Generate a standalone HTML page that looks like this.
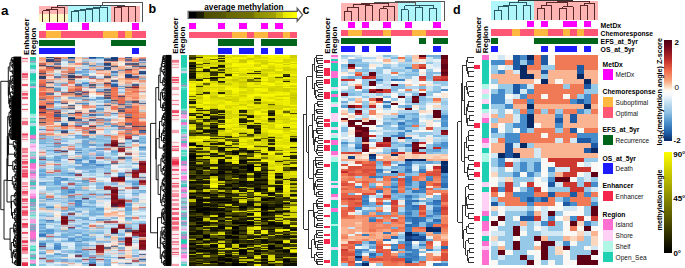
<!DOCTYPE html>
<html><head><meta charset="utf-8"><style>
html,body{margin:0;padding:0;background:#fff;width:685px;height:268px;overflow:hidden}
svg{display:block;font-family:"Liberation Sans",sans-serif}
text{font-family:"Liberation Sans",sans-serif}
</style></head><body>
<svg xmlns="http://www.w3.org/2000/svg" width="685" height="268" viewBox="0 0 685 268" font-family='"Liberation Sans", sans-serif' shape-rendering="crispEdges">
<rect x="0.00" y="0.00" width="685.00" height="268.00" fill="#fff"/>
<text x="1.00" y="15.20" font-size="13.50" font-weight="bold" text-anchor="start" fill="#000">a</text>
<text x="148.60" y="12.70" font-size="12.50" font-weight="bold" text-anchor="start" fill="#000">b</text>
<text x="302.60" y="14.20" font-size="12.50" font-weight="bold" text-anchor="start" fill="#000">c</text>
<text x="453.00" y="14.00" font-size="12.50" font-weight="bold" text-anchor="start" fill="#000">d</text>
<rect x="39.20" y="5.60" width="28.60" height="8.00" fill="#ffb4b4"/>
<rect x="39.20" y="13.60" width="28.60" height="8.60" fill="#fff7c4"/>
<rect x="67.80" y="5.60" width="42.90" height="16.60" fill="#aef6fa"/>
<rect x="110.70" y="5.60" width="29.10" height="16.60" fill="#ffb4b4"/>
<line x1="42.77" y1="22.20" x2="42.77" y2="10.90" stroke="#5a2828" stroke-width="1.00"/>
<line x1="49.91" y1="22.20" x2="49.91" y2="10.90" stroke="#5a2828" stroke-width="1.00"/>
<line x1="42.77" y1="10.90" x2="49.91" y2="10.90" stroke="#5a2828" stroke-width="1.00"/>
<line x1="46.34" y1="10.90" x2="46.34" y2="9.20" stroke="#5a2828" stroke-width="1.00"/>
<line x1="57.05" y1="22.20" x2="57.05" y2="9.20" stroke="#5a2828" stroke-width="1.00"/>
<line x1="46.34" y1="9.20" x2="57.05" y2="9.20" stroke="#5a2828" stroke-width="1.00"/>
<line x1="51.70" y1="9.20" x2="51.70" y2="7.40" stroke="#5a2828" stroke-width="1.00"/>
<line x1="64.19" y1="22.20" x2="64.19" y2="7.40" stroke="#5a2828" stroke-width="1.00"/>
<line x1="51.70" y1="7.40" x2="64.19" y2="7.40" stroke="#5a2828" stroke-width="1.00"/>
<line x1="57.94" y1="7.40" x2="57.94" y2="6.00" stroke="#5a2828" stroke-width="1.00"/>
<line x1="71.33" y1="22.20" x2="71.33" y2="11.10" stroke="#2a5866" stroke-width="1.00"/>
<line x1="78.47" y1="22.20" x2="78.47" y2="11.10" stroke="#2a5866" stroke-width="1.00"/>
<line x1="71.33" y1="11.10" x2="78.47" y2="11.10" stroke="#2a5866" stroke-width="1.00"/>
<line x1="74.90" y1="11.10" x2="74.90" y2="10.00" stroke="#2a5866" stroke-width="1.00"/>
<line x1="85.61" y1="22.20" x2="85.61" y2="10.00" stroke="#2a5866" stroke-width="1.00"/>
<line x1="74.90" y1="10.00" x2="85.61" y2="10.00" stroke="#2a5866" stroke-width="1.00"/>
<line x1="80.26" y1="10.00" x2="80.26" y2="9.00" stroke="#2a5866" stroke-width="1.00"/>
<line x1="92.75" y1="22.20" x2="92.75" y2="9.00" stroke="#2a5866" stroke-width="1.00"/>
<line x1="80.26" y1="9.00" x2="92.75" y2="9.00" stroke="#2a5866" stroke-width="1.00"/>
<line x1="86.50" y1="9.00" x2="86.50" y2="8.00" stroke="#2a5866" stroke-width="1.00"/>
<line x1="99.89" y1="22.20" x2="99.89" y2="8.00" stroke="#2a5866" stroke-width="1.00"/>
<line x1="86.50" y1="8.00" x2="99.89" y2="8.00" stroke="#2a5866" stroke-width="1.00"/>
<line x1="93.20" y1="8.00" x2="93.20" y2="7.00" stroke="#2a5866" stroke-width="1.00"/>
<line x1="107.03" y1="22.20" x2="107.03" y2="7.00" stroke="#2a5866" stroke-width="1.00"/>
<line x1="93.20" y1="7.00" x2="107.03" y2="7.00" stroke="#2a5866" stroke-width="1.00"/>
<line x1="114.17" y1="22.20" x2="114.17" y2="7.30" stroke="#5a2828" stroke-width="1.00"/>
<line x1="121.31" y1="22.20" x2="121.31" y2="7.30" stroke="#5a2828" stroke-width="1.00"/>
<line x1="114.17" y1="7.30" x2="121.31" y2="7.30" stroke="#5a2828" stroke-width="1.00"/>
<line x1="128.45" y1="22.20" x2="128.45" y2="6.50" stroke="#5a2828" stroke-width="1.00"/>
<line x1="135.59" y1="22.20" x2="135.59" y2="6.50" stroke="#5a2828" stroke-width="1.00"/>
<line x1="128.45" y1="6.50" x2="135.59" y2="6.50" stroke="#5a2828" stroke-width="1.00"/>
<line x1="117.74" y1="7.30" x2="117.74" y2="6.00" stroke="#5a2828" stroke-width="1.00"/>
<line x1="132.02" y1="6.50" x2="132.02" y2="6.00" stroke="#5a2828" stroke-width="1.00"/>
<line x1="117.74" y1="6.00" x2="132.02" y2="6.00" stroke="#5a2828" stroke-width="1.00"/>
<line x1="57.94" y1="6.00" x2="57.94" y2="5.40" stroke="#5a2828" stroke-width="1.00"/>
<line x1="100.11" y1="7.00" x2="100.11" y2="5.40" stroke="#2a5866" stroke-width="1.00"/>
<line x1="124.88" y1="6.00" x2="124.88" y2="5.40" stroke="#5a2828" stroke-width="1.00"/>
<line x1="57.94" y1="5.40" x2="124.88" y2="5.40" stroke="#3a4a50" stroke-width="1.00"/>
<line x1="102.10" y1="5.40" x2="102.10" y2="2.00" stroke="#555555" stroke-width="1.00"/>
<line x1="142.73" y1="22.20" x2="142.73" y2="2.00" stroke="#555555" stroke-width="1.00"/>
<line x1="102.10" y1="2.00" x2="142.73" y2="2.00" stroke="#555555" stroke-width="1.00"/>
<rect x="46.34" y="22.90" width="7.14" height="6.80" fill="#ff00ff"/>
<rect x="53.48" y="22.90" width="7.14" height="6.80" fill="#ff00ff"/>
<rect x="60.62" y="22.90" width="7.14" height="6.80" fill="#ff00ff"/>
<rect x="82.04" y="22.90" width="7.14" height="6.80" fill="#ff00ff"/>
<rect x="132.02" y="22.90" width="7.14" height="6.80" fill="#ff00ff"/>
<rect x="39.20" y="31.30" width="107.10" height="6.30" fill="#ff5675"/>
<rect x="46.34" y="31.30" width="7.14" height="6.30" fill="#ffb83f"/>
<rect x="53.48" y="31.30" width="7.14" height="6.30" fill="#ffb83f"/>
<rect x="103.46" y="31.30" width="7.14" height="6.30" fill="#ffb83f"/>
<rect x="110.60" y="31.30" width="7.14" height="6.30" fill="#ffb83f"/>
<rect x="124.88" y="31.30" width="7.14" height="6.30" fill="#ffb83f"/>
<rect x="39.20" y="39.80" width="7.14" height="5.80" fill="#00641a"/>
<rect x="46.34" y="39.80" width="7.14" height="5.80" fill="#00641a"/>
<rect x="53.48" y="39.80" width="7.14" height="5.80" fill="#00641a"/>
<rect x="60.62" y="39.80" width="7.14" height="5.80" fill="#00641a"/>
<rect x="67.76" y="39.80" width="7.14" height="5.80" fill="#00641a"/>
<rect x="110.60" y="39.80" width="7.14" height="5.80" fill="#00641a"/>
<rect x="117.74" y="39.80" width="7.14" height="5.80" fill="#00641a"/>
<rect x="124.88" y="39.80" width="7.14" height="5.80" fill="#00641a"/>
<rect x="132.02" y="39.80" width="7.14" height="5.80" fill="#00641a"/>
<rect x="139.16" y="39.80" width="7.14" height="5.80" fill="#00641a"/>
<rect x="39.20" y="47.80" width="7.14" height="6.50" fill="#1c1cff"/>
<rect x="46.34" y="47.80" width="7.14" height="6.50" fill="#1c1cff"/>
<rect x="53.48" y="47.80" width="7.14" height="6.50" fill="#1c1cff"/>
<rect x="60.62" y="47.80" width="7.14" height="6.50" fill="#1c1cff"/>
<rect x="67.76" y="47.80" width="7.14" height="6.50" fill="#1c1cff"/>
<rect x="132.02" y="47.80" width="7.14" height="6.50" fill="#1c1cff"/>
<text transform="translate(28.70,54.90) rotate(-90)" font-size="8" font-weight="bold">Enhancer</text>
<text transform="translate(35.80,54.90) rotate(-90)" font-size="8" font-weight="bold">Region</text>
<path fill="#f8b898" d="M39.2 56.8H46.3V58.1H39.2zM132.0 71.2H139.2V72.5H132.0zM117.7 77.7H124.9V79.0H117.7zM117.7 79.0H124.9V80.3H117.7zM96.3 80.3H103.5V81.6H96.3zM124.9 80.3H132.0V81.6H124.9zM139.2 88.1H146.3V89.4H139.2zM46.3 90.7H53.5V92.0H46.3zM124.9 98.6H139.2V99.9H124.9zM53.5 124.7H60.6V126.0H53.5zM117.7 214.7H124.9V216.0H117.7zM110.6 236.9H117.7V238.2H110.6z"/>
<path fill="#304878" d="M46.3 56.8H53.5V58.1H46.3zM67.8 75.1H74.9V76.4H67.8zM39.2 77.7H46.3V79.0H39.2z"/>
<path fill="#d06850" d="M53.5 56.8H60.6V58.1H53.5zM124.9 118.1H132.0V119.4H124.9z"/>
<path fill="#f89878" d="M60.6 56.8H67.8V58.1H60.6zM124.9 81.6H132.0V82.9H124.9zM67.8 88.1H74.9V89.4H67.8zM132.0 93.3H139.2V94.6H132.0zM132.0 96.0H139.2V97.3H132.0zM139.2 115.5H146.3V116.8H139.2zM110.6 137.7H117.7V139.0H110.6z"/>
<path fill="#104078" d="M67.8 56.8H74.9V58.1H67.8z"/>
<path fill="#f8c8a8" d="M74.9 56.8H82.0V58.1H74.9zM103.5 79.0H110.6V80.3H103.5zM139.2 94.6H146.3V96.0H139.2zM139.2 107.7H146.3V109.0H139.2zM132.0 145.5H139.2V146.8H132.0zM132.0 158.6H139.2V159.9H132.0zM46.3 251.2H53.5V252.6H46.3z"/>
<path fill="#b0c0d8" d="M82.0 56.8H89.2V58.1H82.0zM96.3 64.6H103.5V65.9H96.3z"/>
<path fill="#185098" d="M89.2 56.8H96.3V58.1H89.2zM110.6 56.8H117.7V58.1H110.6z"/>
<path fill="#4088c0" d="M96.3 56.8H103.5V58.1H96.3z"/>
<path fill="#e0d0c8" d="M103.5 56.8H110.6V58.1H103.5zM117.7 84.2H124.9V85.5H117.7z"/>
<path fill="#f8d8d0" d="M117.7 56.8H124.9V58.1H117.7z"/>
<path fill="#406098" d="M124.9 56.8H132.0V58.1H124.9zM124.9 73.8H132.0V75.1H124.9z"/>
<path fill="#f8d0b8" d="M132.0 56.8H139.2V58.1H132.0zM74.9 58.1H82.0V59.4H74.9zM117.7 73.8H124.9V75.1H117.7zM117.7 75.1H124.9V76.4H117.7zM103.5 80.3H110.6V81.6H103.5zM60.6 96.0H67.8V97.3H60.6zM139.2 97.3H146.3V98.6H139.2zM60.6 98.6H67.8V99.9H60.6zM110.6 110.3H117.7V111.6H110.6zM117.7 119.4H124.9V120.7H117.7zM60.6 133.8H67.8V135.1H60.6zM60.6 135.1H67.8V136.4H60.6zM46.3 162.5H53.5V163.8H46.3zM132.0 206.9H139.2V208.2H132.0zM103.5 208.2H110.6V209.5H103.5zM110.6 210.8H117.7V212.1H110.6z"/>
<path fill="#f8a888" d="M139.2 56.8H146.3V58.1H139.2zM39.2 59.4H46.3V60.7H39.2zM117.7 59.4H124.9V60.7H117.7zM39.2 62.0H46.3V63.3H39.2zM132.0 69.8H139.2V71.2H132.0zM103.5 72.5H110.6V73.8H103.5zM103.5 73.8H110.6V75.1H103.5zM60.6 94.6H67.8V96.0H60.6zM124.9 94.6H132.0V96.0H124.9zM39.2 115.5H46.3V116.8H39.2zM74.9 115.5H82.0V116.8H74.9zM74.9 116.8H82.0V118.1H74.9zM117.7 131.2H124.9V132.5H117.7z"/>
<path fill="#f89870" d="M39.2 58.1H46.3V59.4H39.2zM132.0 72.5H139.2V73.8H132.0zM46.3 122.1H53.5V123.4H46.3z"/>
<path fill="#b0b0b8" d="M46.3 58.1H53.5V59.4H46.3zM96.3 120.7H103.5V122.1H96.3z"/>
<path fill="#504060" d="M53.5 58.1H60.6V59.4H53.5zM39.2 64.6H46.3V65.9H39.2zM103.5 82.9H110.6V84.2H103.5zM53.5 111.6H60.6V112.9H53.5zM124.9 116.8H132.0V118.1H124.9zM89.2 126.0H96.3V127.3H89.2zM132.0 126.0H139.2V127.3H132.0z"/>
<path fill="#e8a090" d="M60.6 58.1H67.8V59.4H60.6z"/>
<path fill="#5078a8" d="M67.8 58.1H74.9V59.4H67.8z"/>
<path fill="#e09888" d="M82.0 58.1H89.2V59.4H82.0zM96.3 65.9H103.5V67.2H96.3z"/>
<path fill="#4070b0" d="M89.2 58.1H96.3V59.4H89.2z"/>
<path fill="#78b0d8" d="M96.3 58.1H103.5V59.4H96.3zM82.0 71.2H89.2V72.5H82.0zM96.3 98.6H103.5V99.9H96.3zM82.0 115.5H89.2V116.8H82.0zM82.0 137.7H89.2V139.0H82.0zM46.3 145.5H53.5V146.8H46.3zM53.5 158.6H60.6V159.9H53.5zM103.5 165.1H110.6V166.4H103.5zM67.8 174.2H74.9V175.6H67.8zM39.2 176.9H46.3V178.2H39.2zM82.0 184.7H89.2V186.0H82.0zM67.8 192.5H74.9V193.8H67.8zM96.3 209.5H103.5V210.8H96.3zM89.2 213.4H96.3V214.7H89.2zM74.9 217.3H82.0V218.6H74.9zM60.6 240.8H67.8V242.1H60.6zM39.2 242.1H46.3V243.4H39.2zM74.9 246.0H82.0V247.3H74.9zM53.5 252.6H60.6V253.9H53.5zM103.5 259.1H110.6V260.4H103.5z"/>
<path fill="#5888b8" d="M103.5 58.1H110.6V59.4H103.5zM89.2 64.6H96.3V65.9H89.2zM89.2 132.5H96.3V133.8H89.2z"/>
<path fill="#103878" d="M110.6 58.1H117.7V59.4H110.6zM124.9 75.1H132.0V76.4H124.9z"/>
<path fill="#e88068" d="M117.7 58.1H124.9V59.4H117.7z"/>
<path fill="#b88080" d="M124.9 58.1H132.0V59.4H124.9z"/>
<path fill="#f8c0a0" d="M132.0 58.1H139.2V59.4H132.0zM110.6 63.3H117.7V64.6H110.6zM39.2 67.2H46.3V68.5H39.2zM117.7 72.5H124.9V73.8H117.7zM89.2 92.0H96.3V93.3H89.2zM110.6 213.4H117.7V214.7H110.6zM103.5 214.7H110.6V216.0H103.5zM124.9 255.2H132.0V256.5H124.9z"/>
<path fill="#d08070" d="M139.2 58.1H146.3V59.4H139.2zM53.5 65.9H60.6V67.2H53.5zM139.2 67.2H146.3V68.5H139.2zM46.3 92.0H53.5V93.3H46.3zM117.7 94.6H124.9V96.0H117.7zM46.3 101.2H53.5V102.5H46.3zM124.9 107.7H132.0V109.0H124.9zM89.2 111.6H96.3V112.9H89.2zM124.9 124.7H132.0V126.0H124.9z"/>
<path fill="#304880" d="M46.3 59.4H53.5V60.7H46.3z"/>
<path fill="#a86058" d="M53.5 59.4H60.6V60.7H53.5z"/>
<path fill="#98b8d0" d="M60.6 59.4H67.8V60.7H60.6zM39.2 193.8H46.3V195.1H39.2zM139.2 257.8H146.3V259.1H139.2z"/>
<path fill="#c09890" d="M67.8 59.4H74.9V60.7H67.8z"/>
<path fill="#ffe0c8" d="M74.9 59.4H82.0V60.7H74.9zM117.7 137.7H124.9V139.0H117.7zM53.5 214.7H60.6V216.0H53.5z"/>
<path fill="#c0d0d8" d="M82.0 59.4H89.2V60.7H82.0zM110.6 234.3H117.7V235.6H110.6z"/>
<path fill="#c8d8e8" d="M89.2 59.4H96.3V60.7H89.2zM74.9 69.8H82.0V71.2H74.9zM139.2 99.9H146.3V101.2H139.2zM96.3 149.5H103.5V150.8H96.3zM89.2 152.1H96.3V153.4H89.2zM53.5 208.2H60.6V209.5H53.5zM103.5 217.3H110.6V218.6H103.5zM96.3 239.5H103.5V240.8H96.3z"/>
<path fill="#c8e0f0" d="M96.3 59.4H103.5V60.7H96.3zM74.9 73.8H82.0V75.1H74.9zM60.6 86.8H67.8V88.1H60.6zM96.3 96.0H103.5V97.3H96.3zM89.2 97.3H96.3V98.6H89.2zM96.3 99.9H103.5V101.2H96.3zM53.5 103.8H60.6V105.1H53.5zM82.0 124.7H89.2V126.0H82.0zM74.9 139.0H82.0V140.3H74.9zM67.8 141.6H74.9V142.9H67.8zM103.5 152.1H110.6V153.4H103.5zM82.0 161.2H89.2V162.5H82.0zM67.8 163.8H74.9V165.1H67.8zM46.3 166.4H53.5V167.7H46.3zM67.8 167.7H74.9V169.0H67.8zM82.0 172.9H89.2V174.2H82.0zM96.3 172.9H103.5V174.2H96.3zM60.6 175.6H67.8V176.9H60.6zM39.2 179.5H46.3V180.8H39.2zM74.9 182.1H82.0V183.4H74.9zM124.9 184.7H132.0V186.0H124.9zM89.2 187.3H96.3V188.6H89.2zM39.2 189.9H46.3V191.2H39.2zM139.2 192.5H146.3V193.8H139.2zM53.5 195.1H60.6V196.4H53.5zM53.5 196.4H60.6V197.7H53.5zM46.3 201.7H60.6V203.0H46.3zM67.8 210.8H74.9V212.1H67.8zM39.2 212.1H46.3V213.4H39.2zM132.0 212.1H139.2V213.4H132.0zM74.9 214.7H82.0V216.0H74.9zM132.0 214.7H139.2V216.0H132.0zM139.2 217.3H146.3V218.6H139.2zM74.9 218.6H82.0V219.9H74.9zM89.2 218.6H96.3V219.9H89.2zM46.3 222.5H53.5V223.8H46.3zM53.5 223.8H60.6V225.1H53.5zM110.6 225.1H117.7V226.5H110.6zM103.5 230.4H110.6V231.7H103.5zM53.5 234.3H60.6V235.6H53.5zM132.0 240.8H139.2V242.1H132.0zM60.6 242.1H74.9V243.4H60.6zM46.3 246.0H53.5V247.3H46.3zM53.5 249.9H60.6V251.2H53.5zM46.3 253.9H53.5V255.2H46.3zM103.5 253.9H110.6V255.2H103.5zM39.2 263.0H53.5V264.3H39.2z"/>
<path fill="#385080" d="M103.5 59.4H110.6V60.7H103.5zM89.2 131.2H96.3V132.5H89.2z"/>
<path fill="#304070" d="M110.6 59.4H117.7V60.7H110.6zM46.3 60.7H53.5V62.0H46.3zM103.5 63.3H110.6V64.6H103.5zM124.9 76.4H132.0V77.7H124.9zM60.6 124.7H67.8V126.0H60.6z"/>
<path fill="#606890" d="M124.9 59.4H132.0V60.7H124.9zM46.3 93.3H53.5V94.6H46.3zM39.2 98.6H46.3V99.9H39.2z"/>
<path fill="#f08060" d="M132.0 59.4H139.2V60.7H132.0zM46.3 68.5H53.5V69.9H46.3zM110.6 90.7H117.7V92.0H110.6zM132.0 92.0H139.2V93.3H132.0zM46.3 96.0H53.5V97.3H46.3zM110.6 97.3H117.7V98.6H110.6zM39.2 102.5H46.3V103.8H39.2zM46.3 119.4H53.5V120.7H46.3zM124.9 120.7H132.0V122.1H124.9zM60.6 127.3H67.8V128.6H60.6z"/>
<path fill="#6070a0" d="M139.2 59.4H146.3V60.7H139.2z"/>
<path fill="#f8c8b0" d="M39.2 60.7H46.3V62.0H39.2zM96.3 71.2H110.6V72.5H96.3zM139.2 85.5H146.3V86.8H139.2zM89.2 90.7H96.3V92.0H89.2zM139.2 106.4H146.3V107.7H139.2zM117.7 116.8H124.9V118.1H117.7zM53.5 133.8H60.6V135.1H53.5zM60.6 146.8H67.8V148.2H60.6zM110.6 214.7H117.7V216.0H110.6z"/>
<path fill="#505070" d="M53.5 60.7H60.6V62.0H53.5zM53.5 67.2H60.6V68.5H53.5zM124.9 68.5H132.0V69.9H124.9zM67.8 79.0H74.9V80.3H67.8zM124.9 86.8H132.0V88.1H124.9zM103.5 94.6H110.6V96.0H103.5zM110.6 99.9H117.7V101.2H110.6zM132.0 101.2H139.2V102.5H132.0zM117.7 110.3H124.9V111.6H117.7zM39.2 118.1H46.3V119.4H39.2z"/>
<path fill="#d0e0f0" d="M60.6 60.7H67.8V62.0H60.6zM96.3 62.0H103.5V63.3H96.3zM96.3 76.4H103.5V77.7H96.3zM117.7 89.4H124.9V90.7H117.7zM60.6 141.6H67.8V142.9H60.6zM139.2 154.7H146.3V156.0H139.2zM124.9 169.0H132.0V170.3H124.9zM39.2 180.8H46.3V182.1H39.2zM60.6 180.8H67.8V182.1H60.6zM139.2 199.0H146.3V200.4H139.2zM96.3 201.7H103.5V203.0H96.3zM60.6 212.1H67.8V213.4H60.6zM82.0 212.1H89.2V213.4H82.0zM74.9 227.8H82.0V229.1H74.9zM117.7 235.6H124.9V236.9H117.7zM53.5 239.5H60.6V240.8H53.5zM67.8 248.6H74.9V249.9H67.8zM39.2 249.9H46.3V251.2H39.2zM60.6 252.6H67.8V253.9H60.6zM132.0 253.9H139.2V255.2H132.0zM67.8 257.8H74.9V259.1H67.8zM110.6 257.8H117.7V259.1H110.6zM117.7 261.7H124.9V263.0H117.7z"/>
<path fill="#6090c0" d="M67.8 60.7H74.9V62.0H67.8zM67.8 62.0H74.9V63.3H67.8z"/>
<path fill="#f8f0e8" d="M74.9 60.7H82.0V62.0H74.9zM96.3 75.1H103.5V76.4H96.3zM110.6 77.7H117.7V79.0H110.6zM89.2 93.3H96.3V94.6H89.2zM74.9 109.0H82.0V110.3H74.9zM117.7 154.7H124.9V156.0H117.7zM132.0 154.7H139.2V156.0H132.0zM53.5 213.4H60.6V214.7H53.5zM117.7 219.9H124.9V221.2H117.7zM103.5 244.7H110.6V246.0H103.5zM132.0 244.7H139.2V246.0H132.0z"/>
<path fill="#98b8d8" d="M82.0 60.7H89.2V62.0H82.0zM89.2 154.7H96.3V156.0H89.2zM124.9 223.8H132.0V225.1H124.9zM46.3 248.6H53.5V249.9H46.3z"/>
<path fill="#c0d8e8" d="M89.2 60.7H96.3V62.0H89.2zM82.0 67.2H89.2V68.5H82.0zM74.9 80.3H82.0V81.6H74.9zM53.5 99.9H60.6V101.2H53.5zM89.2 109.0H96.3V110.3H89.2zM60.6 122.1H67.8V123.4H60.6zM110.6 127.3H117.7V128.6H110.6zM39.2 129.9H46.3V131.2H39.2zM67.8 154.7H74.9V156.0H67.8zM67.8 162.5H74.9V163.8H67.8zM67.8 170.3H74.9V171.6H67.8zM53.5 175.6H60.6V176.9H53.5zM96.3 179.5H103.5V180.8H96.3zM117.7 184.7H124.9V186.0H117.7zM117.7 191.2H124.9V192.5H117.7zM53.5 203.0H60.6V204.3H53.5zM53.5 209.5H60.6V210.8H53.5zM74.9 234.3H82.0V235.6H74.9zM103.5 238.2H110.6V239.5H103.5zM117.7 253.9H124.9V255.2H117.7zM60.6 257.8H67.8V259.1H60.6zM124.9 259.1H132.0V260.4H124.9zM124.9 264.3H132.0V265.6H124.9z"/>
<path fill="#d8e8f8" d="M96.3 60.7H103.5V62.0H96.3zM110.6 116.8H117.7V118.1H110.6zM39.2 188.6H46.3V189.9H39.2zM124.9 191.2H132.0V192.5H124.9zM124.9 196.4H132.0V197.7H124.9zM103.5 200.4H110.6V201.7H103.5zM89.2 217.3H96.3V218.6H89.2zM46.3 226.5H53.5V227.8H46.3zM53.5 233.0H60.6V234.3H53.5zM96.3 235.6H103.5V236.9H96.3zM89.2 242.1H96.3V243.4H89.2zM60.6 243.4H67.8V244.7H60.6zM46.3 244.7H53.5V246.0H46.3zM67.8 244.7H74.9V246.0H67.8zM110.6 259.1H117.7V260.4H110.6zM96.3 261.7H103.5V263.0H96.3z"/>
<path fill="#d8a898" d="M103.5 60.7H110.6V62.0H103.5zM103.5 77.7H110.6V79.0H103.5zM46.3 82.9H53.5V84.2H46.3zM39.2 116.8H46.3V118.1H39.2zM124.9 231.7H132.0V233.0H124.9zM110.6 244.7H117.7V246.0H110.6z"/>
<path fill="#d08878" d="M110.6 60.7H117.7V62.0H110.6zM103.5 62.0H110.6V63.3H103.5zM60.6 101.2H67.8V102.5H60.6zM74.9 122.1H82.0V123.4H74.9z"/>
<path fill="#f8e0d0" d="M117.7 60.7H124.9V62.0H117.7zM74.9 64.6H82.0V65.9H74.9zM124.9 65.9H132.0V67.2H124.9zM117.7 76.4H124.9V77.7H117.7zM74.9 105.1H82.0V106.4H74.9zM103.5 212.1H110.6V213.4H103.5zM117.7 221.2H124.9V222.5H117.7zM124.9 233.0H132.0V234.3H124.9zM110.6 243.4H117.7V244.7H110.6z"/>
<path fill="#d88880" d="M124.9 60.7H132.0V62.0H124.9zM124.9 127.3H132.0V128.6H124.9z"/>
<path fill="#e87860" d="M132.0 60.7H139.2V62.0H132.0zM132.0 79.0H139.2V80.3H132.0zM82.0 127.3H89.2V128.6H82.0z"/>
<path fill="#c0c8d8" d="M139.2 60.7H146.3V62.0H139.2zM96.3 67.2H103.5V68.5H96.3zM67.8 144.2H74.9V145.5H67.8zM89.2 176.9H96.3V178.2H89.2z"/>
<path fill="#d89880" d="M46.3 62.0H53.5V63.3H46.3zM110.6 64.6H117.7V65.9H110.6zM132.0 102.5H139.2V103.8H132.0z"/>
<path fill="#b89898" d="M53.5 62.0H60.6V63.3H53.5z"/>
<path fill="#e8f0f8" d="M60.6 62.0H67.8V63.3H60.6zM89.2 96.0H96.3V97.3H89.2zM132.0 137.7H139.2V139.0H132.0zM103.5 150.8H110.6V152.1H103.5zM110.6 166.4H117.7V167.7H110.6zM103.5 179.5H110.6V180.8H103.5zM103.5 180.8H110.6V182.1H103.5zM89.2 186.0H96.3V187.3H89.2zM124.9 189.9H132.0V191.2H124.9zM124.9 195.1H132.0V196.4H124.9zM139.2 218.6H146.3V219.9H139.2zM67.8 246.0H74.9V247.3H67.8z"/>
<path fill="#f8d0c0" d="M74.9 62.0H82.0V63.3H74.9zM46.3 76.4H53.5V77.7H46.3zM139.2 89.4H146.3V90.7H139.2zM117.7 120.7H124.9V122.1H117.7zM46.3 124.7H53.5V126.0H46.3zM103.5 216.0H110.6V217.3H103.5z"/>
<path fill="#c8a8a0" d="M82.0 62.0H89.2V63.3H82.0z"/>
<path fill="#f0d8c8" d="M89.2 62.0H96.3V63.3H89.2zM74.9 65.9H82.0V67.2H74.9zM103.5 107.7H110.6V109.0H103.5zM46.3 209.5H53.5V210.8H46.3zM139.2 261.7H146.3V263.0H139.2z"/>
<path fill="#f8d8c8" d="M110.6 62.0H117.7V63.3H110.6zM139.2 68.5H146.3V69.9H139.2zM82.0 110.3H89.2V111.6H82.0zM96.3 129.9H103.5V131.2H96.3zM117.7 139.0H124.9V140.3H117.7zM132.0 153.4H139.2V154.7H132.0zM132.0 157.3H139.2V158.6H132.0zM46.3 210.8H53.5V212.1H46.3z"/>
<path fill="#f8e8d8" d="M117.7 62.0H124.9V63.3H117.7zM132.0 150.8H139.2V152.1H132.0zM103.5 206.9H110.6V208.2H103.5zM53.5 216.0H60.6V217.3H53.5zM117.7 217.3H124.9V218.6H117.7zM124.9 247.3H132.0V248.6H124.9z"/>
<path fill="#d8c0b8" d="M124.9 62.0H132.0V63.3H124.9zM124.9 67.2H132.0V68.5H124.9zM103.5 69.8H110.6V71.2H103.5zM89.2 88.1H96.3V89.4H89.2zM74.9 101.2H82.0V102.5H74.9zM67.8 120.7H74.9V122.1H67.8zM117.7 188.6H124.9V189.9H117.7zM103.5 234.3H110.6V235.6H103.5z"/>
<path fill="#d0c0c0" d="M132.0 62.0H139.2V63.3H132.0z"/>
<path fill="#7898c0" d="M139.2 62.0H146.3V63.3H139.2zM82.0 120.7H89.2V122.1H82.0zM60.6 149.5H67.8V150.8H60.6zM67.8 196.4H74.9V197.7H67.8z"/>
<path fill="#c86858" d="M39.2 63.3H46.3V64.6H39.2zM74.9 85.5H82.0V86.8H74.9zM46.3 103.8H53.5V105.1H46.3z"/>
<path fill="#f0b098" d="M46.3 63.3H53.5V64.6H46.3zM110.6 261.7H117.7V263.0H110.6z"/>
<path fill="#6078a0" d="M53.5 63.3H60.6V64.6H53.5z"/>
<path fill="#d8e8f0" d="M60.6 63.3H67.8V64.6H60.6zM60.6 89.4H67.8V90.7H60.6zM89.2 102.5H96.3V103.8H89.2zM67.8 136.4H74.9V137.7H67.8zM60.6 142.9H74.9V144.2H60.6zM89.2 146.8H96.3V148.2H89.2zM46.3 156.0H53.5V157.3H46.3zM139.2 157.3H146.3V158.6H139.2zM60.6 158.6H67.8V159.9H60.6zM132.0 166.4H139.2V167.7H132.0zM89.2 175.6H96.3V176.9H89.2zM74.9 178.2H82.0V179.5H74.9zM89.2 184.7H96.3V186.0H89.2zM139.2 188.6H146.3V189.9H139.2zM39.2 210.8H46.3V212.1H39.2zM139.2 219.9H146.3V221.2H139.2zM89.2 243.4H96.3V244.7H89.2zM60.6 244.7H67.8V246.0H60.6zM117.7 246.0H124.9V247.3H117.7zM60.6 248.6H67.8V249.9H60.6zM110.6 255.2H117.7V256.5H110.6z"/>
<path fill="#e0c0b0" d="M67.8 63.3H74.9V64.6H67.8zM89.2 63.3H96.3V64.6H89.2zM67.8 96.0H74.9V97.3H67.8zM103.5 102.5H110.6V103.8H103.5zM110.6 103.8H117.7V105.1H110.6z"/>
<path fill="#f09078" d="M74.9 63.3H82.0V64.6H74.9zM74.9 127.3H82.0V128.6H74.9zM139.2 133.8H146.3V135.1H139.2z"/>
<path fill="#7090b8" d="M82.0 63.3H89.2V64.6H82.0zM82.0 123.4H89.2V124.7H82.0zM124.9 139.0H132.0V140.3H124.9z"/>
<path fill="#88b8e0" d="M96.3 63.3H103.5V64.6H96.3zM82.0 69.8H89.2V71.2H82.0zM82.0 84.2H89.2V85.5H82.0zM96.3 89.4H103.5V90.7H96.3zM89.2 99.9H96.3V101.2H89.2zM53.5 107.7H60.6V109.0H53.5zM103.5 140.3H110.6V141.6H103.5zM89.2 157.3H96.3V158.6H89.2zM46.3 159.9H53.5V161.2H46.3zM103.5 167.7H110.6V169.0H103.5zM67.8 171.6H74.9V172.9H67.8zM82.0 171.6H89.2V172.9H82.0zM74.9 179.5H82.0V180.8H74.9zM110.6 183.4H117.7V184.7H110.6zM132.0 197.7H139.2V199.0H132.0zM67.8 199.0H74.9V200.4H67.8zM60.6 201.7H67.8V203.0H60.6zM67.8 206.9H74.9V208.2H67.8zM89.2 209.5H96.3V210.8H89.2zM60.6 210.8H67.8V212.1H60.6zM60.6 213.4H67.8V214.7H60.6zM53.5 236.9H60.6V238.2H53.5zM132.0 236.9H139.2V238.2H132.0zM46.3 240.8H53.5V242.1H46.3zM82.0 243.4H89.2V244.7H82.0zM89.2 244.7H96.3V246.0H89.2z"/>
<path fill="#f8f0e0" d="M117.7 63.3H124.9V64.6H117.7zM67.8 102.5H74.9V103.8H67.8zM117.7 218.6H124.9V219.9H117.7z"/>
<path fill="#586088" d="M124.9 63.3H132.0V64.6H124.9zM46.3 102.5H53.5V103.8H46.3zM117.7 103.8H124.9V105.1H117.7zM124.9 123.4H132.0V124.7H124.9zM117.7 142.9H124.9V144.2H117.7z"/>
<path fill="#505878" d="M132.0 63.3H139.2V64.6H132.0zM110.6 65.9H117.7V67.2H110.6zM103.5 76.4H110.6V77.7H103.5zM89.2 84.2H96.3V85.5H89.2zM103.5 92.0H110.6V93.3H103.5zM74.9 93.3H82.0V94.6H74.9zM117.7 157.3H124.9V158.6H117.7z"/>
<path fill="#d0b8b0" d="M139.2 63.3H146.3V64.6H139.2zM60.6 109.0H67.8V110.3H60.6z"/>
<path fill="#b8c0d0" d="M46.3 64.6H53.5V65.9H46.3zM60.6 68.5H67.8V69.9H60.6zM82.0 97.3H89.2V98.6H82.0zM124.9 145.5H132.0V146.8H124.9zM103.5 146.8H110.6V148.2H103.5zM110.6 159.9H117.7V161.2H110.6zM67.8 193.8H74.9V195.1H67.8zM74.9 195.1H82.0V196.4H74.9zM89.2 195.1H96.3V196.4H89.2zM103.5 219.9H110.6V221.2H103.5zM82.0 247.3H89.2V248.6H82.0z"/>
<path fill="#d8b0a8" d="M53.5 64.6H60.6V65.9H53.5zM46.3 80.3H53.5V81.6H46.3zM117.7 141.6H124.9V142.9H117.7z"/>
<path fill="#e8f0f0" d="M60.6 64.6H67.8V65.9H60.6zM89.2 72.5H96.3V73.8H89.2zM110.6 132.5H117.7V133.8H110.6zM132.0 149.5H139.2V150.8H132.0zM117.7 153.4H124.9V154.7H117.7zM96.3 178.2H103.5V179.5H96.3zM103.5 210.8H110.6V212.1H103.5zM132.0 210.8H139.2V212.1H132.0zM124.9 234.3H132.0V235.6H124.9zM103.5 243.4H110.6V244.7H103.5zM67.8 255.2H74.9V256.5H67.8z"/>
<path fill="#f8e0c8" d="M67.8 64.6H74.9V65.9H67.8zM132.0 81.6H139.2V82.9H132.0zM67.8 101.2H74.9V102.5H67.8zM53.5 123.4H60.6V124.7H53.5zM132.0 159.9H139.2V161.2H132.0zM124.9 253.9H132.0V255.2H124.9z"/>
<path fill="#d0d8e0" d="M82.0 64.6H89.2V65.9H82.0zM139.2 69.8H146.3V71.2H139.2zM67.8 103.8H74.9V105.1H67.8zM67.8 111.6H74.9V112.9H67.8zM103.5 127.3H110.6V128.6H103.5zM132.0 141.6H139.2V142.9H132.0zM82.0 186.0H89.2V187.3H82.0zM46.3 193.8H53.5V195.1H46.3zM103.5 196.4H110.6V197.7H103.5zM46.3 218.6H53.5V219.9H46.3zM124.9 221.2H132.0V222.5H124.9zM110.6 239.5H117.7V240.8H110.6zM139.2 252.6H146.3V253.9H139.2z"/>
<path fill="#386098" d="M103.5 64.6H110.6V65.9H103.5zM103.5 68.5H110.6V69.9H103.5z"/>
<path fill="#e8e8e0" d="M117.7 64.6H124.9V65.9H117.7zM53.5 71.2H60.6V72.5H53.5zM60.6 97.3H67.8V98.6H60.6zM60.6 111.6H67.8V112.9H60.6zM46.3 165.1H53.5V166.4H46.3zM67.8 169.0H74.9V170.3H67.8zM46.3 192.5H53.5V193.8H46.3zM39.2 238.2H46.3V239.5H39.2z"/>
<path fill="#d09080" d="M124.9 64.6H132.0V65.9H124.9zM39.2 65.9H46.3V67.2H39.2zM82.0 99.9H89.2V101.2H82.0zM117.7 158.6H124.9V159.9H117.7z"/>
<path fill="#b07068" d="M132.0 64.6H139.2V65.9H132.0zM117.7 109.0H124.9V110.3H117.7z"/>
<path fill="#98b8c8" d="M139.2 64.6H146.3V65.9H139.2z"/>
<path fill="#485078" d="M46.3 65.9H53.5V67.2H46.3z"/>
<path fill="#d8d8e0" d="M60.6 65.9H67.8V67.2H60.6zM110.6 111.6H117.7V112.9H110.6zM39.2 126.0H46.3V127.3H39.2zM139.2 135.1H146.3V136.4H139.2zM60.6 145.5H67.8V146.8H60.6zM60.6 148.2H67.8V149.5H60.6zM132.0 196.4H139.2V197.7H132.0zM132.0 256.5H139.2V257.8H132.0z"/>
<path fill="#f0e0d8" d="M67.8 65.9H74.9V67.2H67.8zM82.0 126.0H89.2V127.3H82.0zM67.8 161.2H74.9V162.5H67.8zM39.2 209.5H46.3V210.8H39.2zM124.9 251.2H132.0V252.6H124.9z"/>
<path fill="#b0d8e8" d="M82.0 65.9H89.2V67.2H82.0zM139.2 152.1H146.3V153.4H139.2zM110.6 249.9H117.7V251.2H110.6z"/>
<path fill="#90b0d0" d="M89.2 65.9H96.3V67.2H89.2zM74.9 97.3H82.0V98.6H74.9zM103.5 157.3H110.6V158.6H103.5zM139.2 260.4H146.3V261.7H139.2z"/>
<path fill="#b8b0b8" d="M103.5 65.9H110.6V67.2H103.5zM74.9 92.0H82.0V93.3H74.9z"/>
<path fill="#f8b8a0" d="M117.7 65.9H124.9V67.2H117.7zM117.7 114.2H124.9V115.5H117.7zM132.0 144.2H139.2V145.5H132.0zM46.3 163.8H53.5V165.1H46.3z"/>
<path fill="#586890" d="M132.0 65.9H139.2V67.2H132.0zM117.7 126.0H124.9V127.3H117.7zM110.6 162.5H117.7V163.8H110.6z"/>
<path fill="#405078" d="M139.2 65.9H146.3V67.2H139.2z"/>
<path fill="#c86050" d="M46.3 67.2H53.5V68.5H46.3zM39.2 105.1H46.3V106.4H39.2zM53.5 116.8H60.6V118.1H53.5z"/>
<path fill="#e0a088" d="M60.6 67.2H67.8V68.5H60.6zM117.7 68.5H124.9V69.9H117.7zM103.5 114.2H110.6V115.5H103.5zM60.6 208.2H67.8V209.5H60.6z"/>
<path fill="#f09070" d="M67.8 67.2H74.9V68.5H67.8zM39.2 68.5H46.3V69.9H39.2zM46.3 106.4H53.5V107.7H46.3zM117.7 122.1H124.9V123.4H117.7zM46.3 123.4H53.5V124.7H46.3zM67.8 124.7H74.9V126.0H67.8zM96.3 128.6H103.5V129.9H96.3z"/>
<path fill="#c0d0e0" d="M74.9 67.2H82.0V68.5H74.9zM82.0 176.9H89.2V178.2H82.0zM39.2 191.2H46.3V192.5H39.2zM117.7 209.5H124.9V210.8H117.7zM67.8 261.7H74.9V263.0H67.8z"/>
<path fill="#e8b8a0" d="M89.2 67.2H96.3V68.5H89.2zM74.9 77.7H82.0V79.0H74.9zM39.2 208.2H46.3V209.5H39.2z"/>
<path fill="#305080" d="M103.5 67.2H110.6V68.5H103.5zM67.8 116.8H74.9V118.1H67.8zM67.8 119.4H74.9V120.7H67.8z"/>
<path fill="#d8b8b0" d="M110.6 67.2H117.7V68.5H110.6zM89.2 82.9H96.3V84.2H89.2zM53.5 128.6H60.6V129.9H53.5z"/>
<path fill="#f8b090" d="M117.7 67.2H124.9V68.5H117.7zM67.8 86.8H74.9V88.1H67.8zM124.9 90.7H132.0V92.0H124.9zM96.3 93.3H103.5V94.6H96.3zM124.9 97.3H132.0V98.6H124.9zM132.0 103.8H139.2V105.1H132.0zM139.2 105.1H146.3V106.4H139.2zM46.3 127.3H53.5V128.6H46.3zM103.5 213.4H110.6V214.7H103.5zM124.9 256.5H132.0V257.8H124.9z"/>
<path fill="#d8a8a0" d="M132.0 67.2H139.2V68.5H132.0z"/>
<path fill="#d0a898" d="M53.5 68.5H60.6V69.9H53.5zM96.3 226.5H103.5V227.8H96.3z"/>
<path fill="#f07050" d="M67.8 68.5H74.9V69.9H67.8zM39.2 69.8H46.3V71.2H39.2zM39.2 81.6H46.3V82.9H39.2zM67.8 81.6H74.9V82.9H67.8zM110.6 89.4H117.7V90.7H110.6zM117.7 98.6H124.9V99.9H117.7zM110.6 107.7H117.7V109.0H110.6zM132.0 110.3H139.2V111.6H132.0zM46.3 112.9H53.5V114.2H46.3zM132.0 112.9H139.2V114.2H132.0zM46.3 116.8H53.5V118.1H46.3zM132.0 116.8H139.2V118.1H132.0zM132.0 119.4H139.2V120.7H132.0z"/>
<path fill="#e8d8d0" d="M74.9 68.5H82.0V69.9H74.9zM139.2 75.1H146.3V76.4H139.2zM74.9 81.6H82.0V82.9H74.9zM82.0 111.6H89.2V112.9H82.0zM67.8 133.8H74.9V135.1H67.8zM39.2 149.5H46.3V150.8H39.2zM117.7 161.2H124.9V162.5H117.7zM132.0 216.0H139.2V217.3H132.0zM60.6 226.5H67.8V227.8H60.6zM139.2 263.0H146.3V264.3H139.2z"/>
<path fill="#6090c8" d="M82.0 68.5H89.2V69.9H82.0zM53.5 176.9H60.6V178.2H53.5z"/>
<path fill="#f09880" d="M89.2 68.5H96.3V69.9H89.2zM89.2 81.6H96.3V82.9H89.2zM67.8 85.5H74.9V86.8H67.8zM89.2 106.4H96.3V107.7H89.2z"/>
<path fill="#6888b8" d="M96.3 68.5H103.5V69.9H96.3zM132.0 169.0H139.2V170.3H132.0z"/>
<path fill="#f8c0a8" d="M110.6 68.5H117.7V69.9H110.6zM132.0 80.3H139.2V81.6H132.0zM60.6 99.9H74.9V101.2H60.6zM89.2 105.1H96.3V106.4H89.2zM110.6 105.1H117.7V106.4H110.6zM82.0 107.7H89.2V109.0H82.0zM117.7 136.4H124.9V137.7H117.7zM117.7 216.0H124.9V217.3H117.7zM103.5 249.9H110.6V251.2H103.5zM124.9 249.9H132.0V251.2H124.9z"/>
<path fill="#f08868" d="M132.0 68.5H139.2V69.9H132.0zM46.3 69.8H53.5V71.2H46.3zM67.8 69.8H74.9V71.2H67.8zM132.0 73.8H139.2V75.1H132.0zM67.8 82.9H74.9V84.2H67.8zM124.9 89.4H139.2V90.7H124.9zM39.2 96.0H46.3V97.3H39.2zM132.0 97.3H139.2V98.6H132.0zM39.2 101.2H46.3V102.5H39.2zM39.2 103.8H46.3V105.1H39.2zM82.0 106.4H89.2V107.7H82.0zM110.6 109.0H117.7V110.3H110.6zM124.9 109.0H132.0V110.3H124.9zM117.7 112.9H124.9V114.2H117.7zM46.3 133.8H53.5V135.1H46.3z"/>
<path fill="#e0e0e0" d="M53.5 69.8H60.6V71.2H53.5zM89.2 75.1H96.3V76.4H89.2zM82.0 77.7H89.2V79.0H82.0zM89.2 101.2H96.3V102.5H89.2zM96.3 115.5H103.5V116.8H96.3zM96.3 116.8H103.5V118.1H96.3zM67.8 131.2H82.0V132.5H67.8zM74.9 213.4H82.0V214.7H74.9zM117.7 244.7H124.9V246.0H117.7zM117.7 259.1H124.9V260.4H117.7zM110.6 263.0H117.7V264.3H110.6zM67.8 264.3H74.9V265.6H67.8z"/>
<path fill="#e8c0b0" d="M60.6 69.8H67.8V71.2H60.6zM39.2 154.7H46.3V156.0H39.2zM60.6 261.7H67.8V263.0H60.6z"/>
<path fill="#d0d0e0" d="M89.2 69.8H96.3V71.2H89.2zM39.2 131.2H46.3V132.5H39.2z"/>
<path fill="#d88878" d="M96.3 69.8H103.5V71.2H96.3zM60.6 73.8H67.8V75.1H60.6z"/>
<path fill="#d0d0d8" d="M110.6 69.8H117.7V71.2H110.6zM103.5 115.5H110.6V116.8H103.5zM82.0 116.8H89.2V118.1H82.0zM82.0 119.4H89.2V120.7H82.0zM124.9 148.2H132.0V149.5H124.9zM103.5 149.5H110.6V150.8H103.5zM89.2 182.1H96.3V183.4H89.2zM74.9 192.5H82.0V193.8H74.9z"/>
<path fill="#8098b8" d="M117.7 69.8H124.9V71.2H117.7zM110.6 102.5H117.7V103.8H110.6z"/>
<path fill="#c85848" d="M124.9 69.8H132.0V71.2H124.9zM39.2 110.3H46.3V111.6H39.2zM39.2 112.9H46.3V114.2H39.2z"/>
<path fill="#c86850" d="M39.2 71.2H46.3V72.5H39.2zM132.0 124.7H139.2V126.0H132.0z"/>
<path fill="#f0b090" d="M46.3 71.2H53.5V72.5H46.3z"/>
<path fill="#e88870" d="M60.6 71.2H67.8V72.5H60.6z"/>
<path fill="#d07860" d="M67.8 71.2H74.9V72.5H67.8zM124.9 77.7H132.0V79.0H124.9zM39.2 86.8H46.3V88.1H39.2zM39.2 97.3H46.3V98.6H39.2zM46.3 110.3H53.5V111.6H46.3zM39.2 119.4H46.3V120.7H39.2zM139.2 124.7H146.3V126.0H139.2zM139.2 128.6H146.3V129.9H139.2z"/>
<path fill="#68a0d8" d="M74.9 71.2H82.0V72.5H74.9zM39.2 174.2H46.3V175.6H39.2zM124.9 203.0H132.0V204.3H124.9zM82.0 218.6H89.2V219.9H82.0zM74.9 236.9H82.0V238.2H74.9zM53.5 243.4H60.6V244.7H53.5zM60.6 259.1H67.8V260.4H60.6z"/>
<path fill="#b8d8f0" d="M89.2 71.2H96.3V72.5H89.2zM117.7 90.7H124.9V92.0H117.7zM103.5 129.9H110.6V131.2H103.5zM74.9 145.5H82.0V146.8H74.9zM74.9 146.8H82.0V148.2H74.9zM46.3 152.1H53.5V153.4H46.3zM60.6 161.2H67.8V162.5H60.6zM124.9 162.5H132.0V163.8H124.9zM117.7 166.4H124.9V167.7H117.7zM96.3 170.3H103.5V171.6H96.3zM67.8 175.6H74.9V176.9H67.8zM103.5 176.9H110.6V178.2H103.5zM39.2 178.2H46.3V179.5H39.2zM103.5 182.1H110.6V183.4H103.5zM124.9 183.4H132.0V184.7H124.9zM117.7 186.0H124.9V187.3H117.7zM89.2 189.9H96.3V191.2H89.2zM89.2 197.7H96.3V199.0H89.2zM89.2 199.0H96.3V200.4H89.2zM46.3 204.3H53.5V205.6H46.3zM60.6 204.3H67.8V205.6H60.6zM139.2 214.7H146.3V216.0H139.2zM82.0 216.0H89.2V217.3H82.0zM96.3 217.3H103.5V218.6H96.3zM74.9 221.2H89.2V222.5H74.9zM132.0 221.2H139.2V222.5H132.0zM82.0 225.1H89.2V226.5H82.0zM132.0 225.1H139.2V226.5H132.0zM103.5 226.5H110.6V227.8H103.5zM117.7 230.4H124.9V231.7H117.7zM53.5 231.7H60.6V233.0H53.5zM67.8 235.6H74.9V236.9H67.8zM60.6 238.2H67.8V239.5H60.6zM82.0 242.1H89.2V243.4H82.0zM103.5 252.6H110.6V253.9H103.5zM39.2 255.2H46.3V256.5H39.2zM103.5 257.8H110.6V259.1H103.5zM39.2 260.4H46.3V261.7H39.2zM96.3 263.0H103.5V264.3H96.3zM53.5 264.3H60.6V265.6H53.5z"/>
<path fill="#5078b0" d="M110.6 71.2H117.7V72.5H110.6z"/>
<path fill="#e0b8a8" d="M117.7 71.2H124.9V72.5H117.7zM96.3 123.4H103.5V124.7H96.3zM60.6 128.6H67.8V129.9H60.6zM96.3 221.2H103.5V222.5H96.3zM124.9 222.5H132.0V223.8H124.9z"/>
<path fill="#f07858" d="M124.9 71.2H132.0V72.5H124.9zM39.2 80.3H46.3V81.6H39.2zM39.2 89.4H46.3V90.7H39.2zM110.6 93.3H117.7V94.6H110.6zM132.0 106.4H139.2V107.7H132.0zM132.0 107.7H139.2V109.0H132.0zM124.9 110.3H132.0V111.6H124.9zM74.9 114.2H82.0V115.5H74.9zM132.0 114.2H139.2V115.5H132.0zM46.3 115.5H53.5V116.8H46.3zM139.2 122.1H146.3V123.4H139.2zM132.0 129.9H139.2V131.2H132.0z"/>
<path fill="#305088" d="M139.2 71.2H146.3V72.5H139.2zM117.7 175.6H124.9V176.9H117.7z"/>
<path fill="#504868" d="M39.2 72.5H46.3V73.8H39.2zM67.8 92.0H74.9V93.3H67.8zM117.7 96.0H124.9V97.3H117.7zM74.9 111.6H82.0V112.9H74.9zM39.2 122.1H46.3V123.4H39.2zM139.2 126.0H146.3V127.3H139.2z"/>
<path fill="#e0d8d0" d="M46.3 72.5H53.5V73.8H46.3zM74.9 141.6H82.0V142.9H74.9zM96.3 180.8H103.5V182.1H96.3zM89.2 229.1H96.3V230.4H89.2z"/>
<path fill="#b8d8e8" d="M53.5 72.5H60.6V73.8H53.5zM60.6 120.7H67.8V122.1H60.6zM39.2 127.3H46.3V128.6H39.2zM53.5 131.2H60.6V132.5H53.5zM53.5 153.4H60.6V154.7H53.5zM46.3 169.0H53.5V170.3H46.3zM74.9 176.9H82.0V178.2H74.9zM46.3 191.2H53.5V192.5H46.3zM139.2 203.0H146.3V204.3H139.2zM82.0 209.5H89.2V210.8H82.0zM124.9 214.7H132.0V216.0H124.9z"/>
<path fill="#e8c8c0" d="M60.6 72.5H67.8V73.8H60.6zM124.9 126.0H132.0V127.3H124.9zM46.3 131.2H53.5V132.5H46.3zM96.3 133.8H103.5V135.1H96.3zM67.8 146.8H74.9V148.2H67.8z"/>
<path fill="#585880" d="M67.8 72.5H74.9V73.8H67.8zM39.2 85.5H46.3V86.8H39.2z"/>
<path fill="#80b8e0" d="M74.9 72.5H82.0V73.8H74.9zM74.9 137.7H82.0V139.0H74.9zM96.3 139.0H103.5V140.3H96.3zM39.2 140.3H46.3V141.6H39.2zM139.2 140.3H146.3V141.6H139.2zM46.3 142.9H53.5V144.2H46.3zM96.3 144.2H103.5V145.5H96.3zM74.9 148.2H82.0V149.5H74.9zM82.0 154.7H89.2V156.0H82.0zM60.6 156.0H67.8V157.3H60.6zM39.2 169.0H46.3V170.3H39.2zM82.0 169.0H89.2V170.3H82.0zM60.6 171.6H67.8V172.9H60.6zM89.2 171.6H96.3V172.9H89.2zM46.3 174.2H53.5V175.6H46.3zM60.6 174.2H67.8V175.6H60.6zM74.9 180.8H82.0V182.1H74.9zM46.3 182.1H53.5V183.4H46.3zM132.0 184.7H139.2V186.0H132.0zM74.9 187.3H82.0V188.6H74.9zM46.3 188.6H53.5V189.9H46.3zM74.9 189.9H89.2V191.2H74.9zM139.2 191.2H146.3V192.5H139.2zM82.0 193.8H89.2V195.1H82.0zM96.3 193.8H103.5V195.1H96.3zM67.8 197.7H74.9V199.0H67.8zM132.0 199.0H139.2V200.4H132.0zM89.2 200.4H96.3V201.7H89.2zM82.0 201.7H89.2V203.0H82.0zM89.2 203.0H96.3V204.3H89.2zM67.8 205.6H74.9V206.9H67.8zM89.2 206.9H96.3V208.2H89.2zM67.8 209.5H74.9V210.8H67.8zM89.2 210.8H96.3V212.1H89.2zM89.2 212.1H96.3V213.4H89.2zM39.2 214.7H46.3V216.0H39.2zM89.2 214.7H96.3V216.0H89.2zM89.2 219.9H96.3V221.2H89.2zM82.0 223.8H89.2V225.1H82.0zM39.2 225.1H46.3V226.5H39.2zM82.0 226.5H89.2V227.8H82.0zM67.8 229.1H74.9V230.4H67.8zM39.2 231.7H46.3V233.0H39.2zM67.8 231.7H74.9V233.0H67.8zM96.3 231.7H103.5V233.0H96.3zM67.8 233.0H74.9V234.3H67.8zM96.3 233.0H103.5V234.3H96.3zM67.8 234.3H74.9V235.6H67.8zM117.7 234.3H124.9V235.6H117.7zM67.8 236.9H74.9V238.2H67.8zM103.5 236.9H110.6V238.2H103.5zM46.3 239.5H53.5V240.8H46.3zM39.2 240.8H46.3V242.1H39.2zM96.3 240.8H103.5V242.1H96.3zM74.9 247.3H82.0V248.6H74.9zM82.0 251.2H89.2V252.6H82.0zM46.3 255.2H53.5V256.5H46.3zM103.5 256.5H110.6V257.8H103.5zM53.5 259.1H60.6V260.4H53.5z"/>
<path fill="#a0c8e8" d="M82.0 72.5H89.2V73.8H82.0zM103.5 128.6H110.6V129.9H103.5zM124.9 158.6H132.0V159.9H124.9zM89.2 169.0H96.3V170.3H89.2zM117.7 171.6H124.9V172.9H117.7zM60.6 183.4H67.8V184.7H60.6zM39.2 184.7H46.3V186.0H39.2zM46.3 189.9H53.5V191.2H46.3zM96.3 192.5H103.5V193.8H96.3zM117.7 195.1H124.9V196.4H117.7zM46.3 200.4H60.6V201.7H46.3zM82.0 200.4H89.2V201.7H82.0zM96.3 206.9H103.5V208.2H96.3zM139.2 216.0H146.3V217.3H139.2zM110.6 223.8H117.7V225.1H110.6zM53.5 225.1H60.6V226.5H53.5zM96.3 230.4H103.5V231.7H96.3zM82.0 231.7H89.2V233.0H82.0z"/>
<path fill="#f8a088" d="M96.3 72.5H103.5V73.8H96.3z"/>
<path fill="#88b8d8" d="M110.6 72.5H117.7V73.8H110.6zM53.5 82.9H60.6V84.2H53.5zM139.2 145.5H146.3V146.8H139.2zM96.3 187.3H103.5V188.6H96.3zM103.5 240.8H110.6V242.1H103.5z"/>
<path fill="#d89888" d="M124.9 72.5H132.0V73.8H124.9zM82.0 76.4H89.2V77.7H82.0zM39.2 79.0H46.3V80.3H39.2zM46.3 88.1H53.5V89.4H46.3zM124.9 99.9H132.0V101.2H124.9zM110.6 123.4H117.7V124.7H110.6zM60.6 132.5H67.8V133.8H60.6z"/>
<path fill="#204078" d="M139.2 72.5H146.3V73.8H139.2z"/>
<path fill="#d07868" d="M39.2 73.8H46.3V75.1H39.2zM110.6 86.8H117.7V88.1H110.6zM132.0 99.9H139.2V101.2H132.0zM89.2 124.7H96.3V126.0H89.2z"/>
<path fill="#f0a088" d="M46.3 73.8H53.5V75.1H46.3zM82.0 118.1H89.2V119.4H82.0zM39.2 124.7H46.3V126.0H39.2zM74.9 129.9H82.0V131.2H74.9zM117.7 206.9H124.9V208.2H117.7z"/>
<path fill="#b0d0e8" d="M53.5 73.8H60.6V75.1H53.5zM53.5 102.5H60.6V103.8H53.5zM110.6 114.2H117.7V115.5H110.6zM46.3 141.6H53.5V142.9H46.3zM89.2 156.0H96.3V157.3H89.2zM124.9 156.0H132.0V157.3H124.9zM96.3 162.5H103.5V163.8H96.3zM74.9 163.8H82.0V165.1H74.9zM132.0 163.8H139.2V165.1H132.0zM124.9 166.4H132.0V167.7H124.9zM96.3 199.0H110.6V200.4H96.3zM74.9 216.0H82.0V217.3H74.9zM46.3 227.8H53.5V229.1H46.3zM132.0 239.5H139.2V240.8H132.0zM132.0 248.6H139.2V249.9H132.0zM74.9 252.6H82.0V253.9H74.9zM132.0 252.6H139.2V253.9H132.0z"/>
<path fill="#b8b0b0" d="M67.8 73.8H74.9V75.1H67.8z"/>
<path fill="#68a8d8" d="M82.0 73.8H89.2V75.1H82.0zM89.2 98.6H96.3V99.9H89.2zM89.2 139.0H96.3V140.3H89.2zM46.3 149.5H53.5V150.8H46.3zM110.6 150.8H117.7V152.1H110.6zM53.5 157.3H60.6V158.6H53.5zM82.0 157.3H89.2V158.6H82.0zM89.2 162.5H96.3V163.8H89.2zM39.2 170.3H46.3V171.6H39.2zM82.0 180.8H89.2V182.1H82.0zM132.0 180.8H139.2V182.1H132.0zM39.2 183.4H46.3V184.7H39.2zM74.9 184.7H82.0V186.0H74.9zM60.6 189.9H67.8V191.2H60.6zM132.0 192.5H139.2V193.8H132.0zM67.8 208.2H74.9V209.5H67.8zM124.9 208.2H132.0V209.5H124.9zM124.9 209.5H132.0V210.8H124.9zM74.9 210.8H82.0V212.1H74.9zM82.0 234.3H89.2V235.6H82.0zM82.0 238.2H89.2V239.5H82.0zM74.9 244.7H89.2V246.0H74.9zM89.2 260.4H96.3V261.7H89.2z"/>
<path fill="#f0f0f0" d="M89.2 73.8H96.3V75.1H89.2zM74.9 106.4H82.0V107.7H74.9zM67.8 150.8H74.9V152.1H67.8zM110.6 165.1H117.7V166.4H110.6zM132.0 165.1H139.2V166.4H132.0zM117.7 167.7H124.9V169.0H117.7zM117.7 169.0H124.9V170.3H117.7zM103.5 178.2H110.6V179.5H103.5zM39.2 187.3H46.3V188.6H39.2zM103.5 201.7H110.6V203.0H103.5z"/>
<path fill="#f8e0d8" d="M96.3 73.8H103.5V75.1H96.3zM46.3 77.7H53.5V79.0H46.3zM117.7 212.1H124.9V213.4H117.7z"/>
<path fill="#90c0e0" d="M110.6 73.8H117.7V75.1H110.6zM117.7 92.0H124.9V93.3H117.7zM139.2 136.4H146.3V137.7H139.2zM46.3 140.3H53.5V141.6H46.3zM139.2 142.9H146.3V144.2H139.2zM53.5 146.8H60.6V148.2H53.5zM139.2 156.0H146.3V157.3H139.2zM53.5 161.2H60.6V162.5H53.5zM89.2 165.1H96.3V166.4H89.2zM74.9 169.0H82.0V170.3H74.9zM53.5 174.2H60.6V175.6H53.5zM39.2 175.6H46.3V176.9H39.2zM74.9 183.4H82.0V184.7H74.9zM46.3 184.7H53.5V186.0H46.3zM53.5 197.7H60.6V199.0H53.5zM132.0 200.4H139.2V201.7H132.0zM53.5 221.2H60.6V222.5H53.5zM117.7 236.9H124.9V238.2H117.7zM74.9 239.5H82.0V240.8H74.9zM74.9 242.1H82.0V243.4H74.9zM60.6 246.0H67.8V247.3H60.6zM39.2 248.6H46.3V249.9H39.2zM117.7 252.6H124.9V253.9H117.7zM110.6 256.5H117.7V257.8H110.6zM53.5 260.4H60.6V261.7H53.5z"/>
<path fill="#88b0d0" d="M139.2 73.8H146.3V75.1H139.2zM60.6 230.4H67.8V231.7H60.6zM117.7 243.4H124.9V244.7H117.7z"/>
<path fill="#d08068" d="M39.2 75.1H46.3V76.4H39.2zM132.0 77.7H139.2V79.0H132.0zM103.5 81.6H110.6V82.9H103.5zM67.8 90.7H74.9V92.0H67.8zM74.9 118.1H82.0V119.4H74.9zM139.2 127.3H146.3V128.6H139.2z"/>
<path fill="#f08068" d="M46.3 75.1H53.5V76.4H46.3z"/>
<path fill="#c8d8e0" d="M53.5 75.1H60.6V76.4H53.5zM96.3 88.1H103.5V89.4H96.3zM110.6 118.1H117.7V119.4H110.6zM89.2 122.1H96.3V123.4H89.2zM39.2 199.0H46.3V200.4H39.2zM110.6 208.2H117.7V209.5H110.6z"/>
<path fill="#9098b0" d="M60.6 75.1H67.8V76.4H60.6z"/>
<path fill="#e0c8c8" d="M74.9 75.1H82.0V76.4H74.9z"/>
<path fill="#78a0c0" d="M82.0 75.1H89.2V76.4H82.0z"/>
<path fill="#d8a088" d="M103.5 75.1H110.6V76.4H103.5zM117.7 105.1H124.9V106.4H117.7zM117.7 124.7H124.9V126.0H117.7z"/>
<path fill="#6898c8" d="M110.6 75.1H117.7V76.4H110.6zM103.5 101.2H110.6V102.5H103.5zM96.3 105.1H103.5V106.4H96.3zM89.2 144.2H96.3V145.5H89.2zM96.3 148.2H103.5V149.5H96.3z"/>
<path fill="#c8c0c8" d="M132.0 75.1H139.2V76.4H132.0zM89.2 112.9H96.3V114.2H89.2zM117.7 222.5H124.9V223.8H117.7z"/>
<path fill="#304068" d="M39.2 76.4H46.3V77.7H39.2zM67.8 76.4H74.9V77.7H67.8z"/>
<path fill="#6078a8" d="M53.5 76.4H60.6V77.7H53.5zM53.5 120.7H60.6V122.1H53.5z"/>
<path fill="#d89080" d="M60.6 76.4H67.8V77.7H60.6z"/>
<path fill="#904048" d="M74.9 76.4H82.0V77.7H74.9z"/>
<path fill="#7088b0" d="M89.2 76.4H96.3V77.7H89.2zM60.6 92.0H67.8V93.3H60.6zM96.3 118.1H103.5V119.4H96.3z"/>
<path fill="#e0c8c0" d="M110.6 76.4H117.7V77.7H110.6zM53.5 81.6H60.6V82.9H53.5zM89.2 141.6H96.3V142.9H89.2zM103.5 239.5H110.6V240.8H103.5zM117.7 255.2H124.9V256.5H117.7z"/>
<path fill="#505880" d="M132.0 76.4H139.2V77.7H132.0zM60.6 102.5H67.8V103.8H60.6z"/>
<path fill="#e0a898" d="M139.2 76.4H146.3V77.7H139.2z"/>
<path fill="#d8a090" d="M53.5 77.7H60.6V79.0H53.5zM124.9 88.1H132.0V89.4H124.9zM39.2 99.9H46.3V101.2H39.2zM103.5 103.8H110.6V105.1H103.5zM67.8 114.2H74.9V115.5H67.8z"/>
<path fill="#d0c8d0" d="M60.6 77.7H67.8V79.0H60.6zM39.2 150.8H46.3V152.1H39.2zM124.9 170.3H132.0V171.6H124.9z"/>
<path fill="#b08880" d="M67.8 77.7H74.9V79.0H67.8zM89.2 85.5H96.3V86.8H89.2zM103.5 93.3H110.6V94.6H103.5z"/>
<path fill="#c06068" d="M89.2 77.7H96.3V79.0H89.2z"/>
<path fill="#a8b8d0" d="M96.3 77.7H103.5V79.0H96.3zM53.5 140.3H60.6V141.6H53.5zM39.2 163.8H46.3V165.1H39.2zM67.8 184.7H74.9V186.0H67.8zM103.5 192.5H110.6V193.8H103.5zM124.9 199.0H132.0V200.4H124.9zM60.6 205.6H67.8V206.9H60.6zM139.2 208.2H146.3V209.5H139.2zM110.6 226.5H117.7V227.8H110.6zM39.2 256.5H46.3V257.8H39.2zM39.2 259.1H46.3V260.4H39.2zM46.3 261.7H53.5V263.0H46.3z"/>
<path fill="#88a8c8" d="M139.2 77.7H146.3V79.0H139.2zM82.0 249.9H89.2V251.2H82.0zM74.9 253.9H82.0V255.2H74.9z"/>
<path fill="#f8a080" d="M46.3 79.0H53.5V80.3H46.3zM46.3 89.4H53.5V90.7H46.3zM39.2 90.7H46.3V92.0H39.2zM132.0 94.6H139.2V96.0H132.0zM46.3 98.6H53.5V99.9H46.3zM46.3 99.9H53.5V101.2H46.3zM132.0 105.1H139.2V106.4H132.0zM139.2 112.9H146.3V114.2H139.2zM117.7 115.5H124.9V116.8H117.7zM139.2 120.7H146.3V122.1H139.2zM117.7 133.8H124.9V135.1H117.7zM110.6 212.1H117.7V213.4H110.6z"/>
<path fill="#f0b898" d="M53.5 79.0H60.6V80.3H53.5z"/>
<path fill="#f0d0c0" d="M60.6 79.0H67.8V80.3H60.6zM60.6 80.3H67.8V81.6H60.6zM139.2 119.4H146.3V120.7H139.2zM89.2 223.8H96.3V225.1H89.2z"/>
<path fill="#f0e8e0" d="M74.9 79.0H82.0V80.3H74.9zM139.2 93.3H146.3V94.6H139.2zM139.2 98.6H146.3V99.9H139.2zM60.6 105.1H67.8V106.4H60.6zM53.5 132.5H60.6V133.8H53.5zM124.9 149.5H132.0V150.8H124.9zM67.8 156.0H74.9V157.3H67.8zM110.6 169.0H117.7V170.3H110.6zM139.2 200.4H146.3V201.7H139.2zM139.2 201.7H146.3V203.0H139.2zM53.5 210.8H60.6V212.1H53.5zM110.6 248.6H117.7V249.9H110.6zM67.8 256.5H74.9V257.8H67.8zM110.6 260.4H117.7V261.7H110.6zM124.9 260.4H132.0V261.7H124.9z"/>
<path fill="#e0f0f8" d="M82.0 79.0H89.2V80.3H82.0zM110.6 115.5H117.7V116.8H110.6zM74.9 132.5H82.0V133.8H74.9zM132.0 148.2H139.2V149.5H132.0zM67.8 152.1H74.9V153.4H67.8zM67.8 153.4H74.9V154.7H67.8zM110.6 167.7H117.7V169.0H110.6zM110.6 174.2H117.7V175.6H110.6zM124.9 193.8H132.0V195.1H124.9zM139.2 212.1H146.3V213.4H139.2zM139.2 213.4H146.3V214.7H139.2zM67.8 243.4H74.9V244.7H67.8z"/>
<path fill="#e8d8d8" d="M89.2 79.0H96.3V80.3H89.2zM96.3 81.6H103.5V82.9H96.3zM60.6 85.5H67.8V86.8H60.6zM117.7 159.9H124.9V161.2H117.7zM124.9 186.0H132.0V187.3H124.9z"/>
<path fill="#e08870" d="M96.3 79.0H103.5V80.3H96.3zM74.9 96.0H82.0V97.3H74.9zM96.3 122.1H103.5V123.4H96.3zM82.0 131.2H89.2V132.5H82.0z"/>
<path fill="#d8c8c8" d="M110.6 79.0H117.7V80.3H110.6zM74.9 175.6H82.0V176.9H74.9zM96.3 196.4H103.5V197.7H96.3zM96.3 257.8H103.5V259.1H96.3z"/>
<path fill="#f09068" d="M124.9 79.0H132.0V80.3H124.9zM124.9 93.3H132.0V94.6H124.9zM139.2 114.2H146.3V115.5H139.2zM46.3 118.1H53.5V119.4H46.3z"/>
<path fill="#a8c0d0" d="M139.2 79.0H146.3V80.3H139.2zM53.5 97.3H60.6V98.6H53.5z"/>
<path fill="#d8d8d8" d="M53.5 80.3H60.6V81.6H53.5zM53.5 85.5H60.6V86.8H53.5zM60.6 103.8H67.8V105.1H60.6zM74.9 103.8H82.0V105.1H74.9zM39.2 201.7H46.3V203.0H39.2z"/>
<path fill="#d08870" d="M67.8 80.3H74.9V81.6H67.8zM39.2 120.7H46.3V122.1H39.2zM39.2 123.4H46.3V124.7H39.2z"/>
<path fill="#c0e0f0" d="M82.0 80.3H89.2V81.6H82.0zM60.6 88.1H67.8V89.4H60.6zM103.5 132.5H110.6V133.8H103.5zM103.5 154.7H110.6V156.0H103.5zM60.6 162.5H67.8V163.8H60.6zM124.9 163.8H132.0V165.1H124.9zM60.6 165.1H67.8V166.4H60.6zM124.9 165.1H132.0V166.4H124.9zM82.0 174.2H89.2V175.6H82.0zM110.6 184.7H117.7V186.0H110.6zM67.8 186.0H74.9V187.3H67.8zM53.5 189.9H60.6V191.2H53.5zM53.5 191.2H60.6V192.5H53.5zM96.3 191.2H110.6V192.5H96.3zM124.9 192.5H132.0V193.8H124.9zM124.9 197.7H132.0V199.0H124.9zM46.3 203.0H53.5V204.3H46.3zM82.0 203.0H89.2V204.3H82.0zM139.2 204.3H146.3V205.6H139.2zM96.3 205.6H103.5V206.9H96.3zM139.2 210.8H146.3V212.1H139.2zM82.0 214.7H89.2V216.0H82.0zM74.9 222.5H82.0V223.8H74.9zM96.3 229.1H110.6V230.4H96.3zM103.5 231.7H110.6V233.0H103.5zM46.3 243.4H53.5V244.7H46.3zM89.2 252.6H96.3V253.9H89.2zM89.2 253.9H96.3V255.2H89.2zM74.9 257.8H82.0V259.1H74.9zM39.2 261.7H46.3V263.0H39.2z"/>
<path fill="#f0e0e0" d="M89.2 80.3H96.3V81.6H89.2zM124.9 257.8H132.0V259.1H124.9z"/>
<path fill="#506890" d="M110.6 80.3H117.7V81.6H110.6zM139.2 102.5H146.3V103.8H139.2zM139.2 253.9H146.3V255.2H139.2z"/>
<path fill="#f8d0b0" d="M117.7 80.3H124.9V81.6H117.7zM139.2 96.0H146.3V97.3H139.2z"/>
<path fill="#e89878" d="M139.2 80.3H146.3V81.6H139.2z"/>
<path fill="#506080" d="M46.3 81.6H53.5V82.9H46.3zM67.8 105.1H74.9V106.4H67.8zM103.5 105.1H110.6V106.4H103.5zM67.8 107.7H74.9V109.0H67.8zM67.8 112.9H74.9V114.2H67.8z"/>
<path fill="#b8d0e8" d="M60.6 81.6H67.8V82.9H60.6zM96.3 146.8H103.5V148.2H96.3zM39.2 148.2H46.3V149.5H39.2zM39.2 236.9H46.3V238.2H39.2z"/>
<path fill="#70a8d8" d="M82.0 81.6H89.2V82.9H82.0zM82.0 140.3H89.2V141.6H82.0zM82.0 141.6H89.2V142.9H82.0zM82.0 142.9H89.2V144.2H82.0zM82.0 144.2H89.2V145.5H82.0zM139.2 148.2H146.3V149.5H139.2zM89.2 149.5H96.3V150.8H89.2zM53.5 156.0H60.6V157.3H53.5zM74.9 161.2H82.0V162.5H74.9zM39.2 162.5H46.3V163.8H39.2zM74.9 166.4H96.3V167.7H74.9zM53.5 178.2H60.6V179.5H53.5zM82.0 182.1H89.2V183.4H82.0zM132.0 182.1H139.2V183.4H132.0zM139.2 189.9H146.3V191.2H139.2zM60.6 192.5H67.8V193.8H60.6zM67.8 200.4H74.9V201.7H67.8zM46.3 205.6H53.5V206.9H46.3zM124.9 206.9H132.0V208.2H124.9zM124.9 217.3H132.0V218.6H124.9zM82.0 222.5H89.2V223.8H82.0zM39.2 227.8H46.3V229.1H39.2zM74.9 233.0H82.0V234.3H74.9zM74.9 235.6H82.0V236.9H74.9zM103.5 264.3H110.6V265.6H103.5z"/>
<path fill="#b8c8e0" d="M110.6 81.6H117.7V82.9H110.6z"/>
<path fill="#ffd8b8" d="M117.7 81.6H124.9V82.9H117.7z"/>
<path fill="#f0b8a0" d="M139.2 81.6H146.3V82.9H139.2zM96.3 86.8H103.5V88.1H96.3zM110.6 170.3H117.7V171.6H110.6zM46.3 195.1H53.5V196.4H46.3zM132.0 208.2H139.2V209.5H132.0zM117.7 210.8H124.9V212.1H117.7z"/>
<path fill="#e86848" d="M39.2 82.9H46.3V84.2H39.2zM110.6 88.1H117.7V89.4H110.6zM117.7 99.9H124.9V101.2H117.7zM132.0 111.6H139.2V112.9H132.0zM132.0 118.1H139.2V119.4H132.0zM132.0 120.7H139.2V122.1H132.0z"/>
<path fill="#90a8c8" d="M60.6 82.9H67.8V84.2H60.6zM53.5 109.0H60.6V110.3H53.5zM74.9 120.7H82.0V122.1H74.9zM74.9 123.4H82.0V124.7H74.9zM39.2 139.0H46.3V140.3H39.2zM53.5 169.0H60.6V170.3H53.5zM103.5 171.6H110.6V172.9H103.5zM60.6 186.0H67.8V187.3H60.6zM89.2 192.5H96.3V193.8H89.2zM117.7 239.5H124.9V240.8H117.7zM39.2 247.3H46.3V248.6H39.2zM89.2 257.8H96.3V259.1H89.2z"/>
<path fill="#a8c8e0" d="M74.9 82.9H82.0V84.2H74.9zM96.3 126.0H103.5V127.3H96.3zM117.7 162.5H124.9V163.8H117.7zM124.9 175.6H132.0V176.9H124.9zM96.3 197.7H103.5V199.0H96.3z"/>
<path fill="#4888c8" d="M82.0 82.9H89.2V84.2H82.0zM74.9 159.9H82.0V161.2H74.9zM89.2 161.2H96.3V162.5H89.2zM96.3 165.1H103.5V166.4H96.3zM67.8 172.9H74.9V174.2H67.8zM67.8 191.2H74.9V192.5H67.8zM53.5 247.3H60.6V248.6H53.5z"/>
<path fill="#e0b0a0" d="M96.3 82.9H103.5V84.2H96.3zM60.6 106.4H67.8V107.7H60.6zM96.3 111.6H103.5V112.9H96.3z"/>
<path fill="#78a8d8" d="M110.6 82.9H117.7V84.2H110.6zM60.6 144.2H67.8V145.5H60.6zM60.6 253.9H67.8V255.2H60.6zM132.0 255.2H139.2V256.5H132.0z"/>
<path fill="#ffe0d0" d="M117.7 82.9H124.9V84.2H117.7zM110.6 242.1H117.7V243.4H110.6z"/>
<path fill="#e8a088" d="M124.9 82.9H132.0V84.2H124.9zM110.6 139.0H117.7V140.3H110.6z"/>
<path fill="#b8c8d8" d="M132.0 82.9H139.2V84.2H132.0z"/>
<path fill="#d0d8d8" d="M139.2 82.9H146.3V84.2H139.2z"/>
<path fill="#c86058" d="M39.2 84.2H46.3V85.5H39.2zM74.9 89.4H82.0V90.7H74.9z"/>
<path fill="#ffd0b8" d="M46.3 84.2H53.5V85.5H46.3z"/>
<path fill="#90b8e0" d="M53.5 84.2H60.6V85.5H53.5zM74.9 153.4H82.0V154.7H74.9zM110.6 217.3H117.7V218.6H110.6z"/>
<path fill="#d88078" d="M60.6 84.2H67.8V85.5H60.6zM53.5 96.0H60.6V97.3H53.5zM67.8 148.2H74.9V149.5H67.8zM74.9 193.8H82.0V195.1H74.9zM67.8 203.0H74.9V204.3H67.8z"/>
<path fill="#f0d0c8" d="M67.8 84.2H74.9V85.5H67.8zM89.2 123.4H96.3V124.7H89.2zM82.0 133.8H89.2V135.1H82.0zM39.2 153.4H46.3V154.7H39.2zM139.2 256.5H146.3V257.8H139.2z"/>
<path fill="#5070a0" d="M74.9 84.2H82.0V85.5H74.9zM139.2 131.2H146.3V132.5H139.2zM132.0 140.3H139.2V141.6H132.0z"/>
<path fill="#a8c0d8" d="M96.3 84.2H103.5V85.5H96.3zM82.0 85.5H89.2V86.8H82.0zM103.5 122.1H110.6V123.4H103.5z"/>
<path fill="#d07058" d="M103.5 84.2H110.6V85.5H103.5zM74.9 94.6H82.0V96.0H74.9zM60.6 126.0H67.8V127.3H60.6z"/>
<path fill="#2860a8" d="M110.6 84.2H117.7V85.5H110.6z"/>
<path fill="#b8c0c8" d="M124.9 84.2H132.0V85.5H124.9z"/>
<path fill="#485880" d="M132.0 84.2H139.2V85.5H132.0z"/>
<path fill="#f0c8b8" d="M139.2 84.2H146.3V85.5H139.2zM96.3 127.3H103.5V128.6H96.3zM132.0 203.0H139.2V204.3H132.0zM124.9 246.0H132.0V247.3H124.9zM110.6 252.6H117.7V253.9H110.6z"/>
<path fill="#d8c0b0" d="M46.3 85.5H53.5V86.8H46.3z"/>
<path fill="#d8e0e0" d="M96.3 85.5H103.5V86.8H96.3zM53.5 122.1H60.6V123.4H53.5zM110.6 171.6H117.7V172.9H110.6zM124.9 216.0H132.0V217.3H124.9zM60.6 227.8H67.8V229.1H60.6z"/>
<path fill="#f89070" d="M103.5 85.5H110.6V86.8H103.5zM124.9 96.0H132.0V97.3H124.9zM46.3 111.6H53.5V112.9H46.3zM67.8 126.0H74.9V127.3H67.8z"/>
<path fill="#385890" d="M110.6 85.5H117.7V86.8H110.6zM139.2 259.1H146.3V260.4H139.2z"/>
<path fill="#78a0c8" d="M117.7 85.5H124.9V86.8H117.7zM117.7 189.9H124.9V191.2H117.7z"/>
<path fill="#c89080" d="M124.9 85.5H132.0V86.8H124.9z"/>
<path fill="#b85048" d="M132.0 85.5H139.2V86.8H132.0z"/>
<path fill="#586080" d="M46.3 86.8H53.5V88.1H46.3z"/>
<path fill="#98c0e0" d="M53.5 86.8H60.6V88.1H53.5zM67.8 135.1H74.9V136.4H67.8zM139.2 153.4H146.3V154.7H139.2zM96.3 182.1H103.5V183.4H96.3zM117.7 192.5H124.9V193.8H117.7zM132.0 195.1H139.2V196.4H132.0zM60.6 197.7H67.8V199.0H60.6zM39.2 203.0H46.3V204.3H39.2zM74.9 212.1H82.0V213.4H74.9zM89.2 233.0H96.3V234.3H89.2zM89.2 235.6H96.3V236.9H89.2zM96.3 242.1H103.5V243.4H96.3zM132.0 242.1H139.2V243.4H132.0zM117.7 263.0H124.9V264.3H117.7zM60.6 264.3H67.8V265.6H60.6z"/>
<path fill="#f08860" d="M74.9 86.8H82.0V88.1H74.9zM124.9 92.0H132.0V93.3H124.9zM46.3 120.7H53.5V122.1H46.3zM110.6 136.4H117.7V137.7H110.6z"/>
<path fill="#e8a898" d="M82.0 86.8H89.2V88.1H82.0z"/>
<path fill="#607098" d="M89.2 86.8H96.3V88.1H89.2zM74.9 90.7H82.0V92.0H74.9zM124.9 106.4H132.0V107.7H124.9zM117.7 107.7H124.9V109.0H117.7zM110.6 246.0H117.7V247.3H110.6z"/>
<path fill="#f0a888" d="M103.5 86.8H110.6V88.1H103.5zM67.8 132.5H74.9V133.8H67.8z"/>
<path fill="#c8d0d8" d="M117.7 86.8H124.9V88.1H117.7zM139.2 92.0H146.3V93.3H139.2zM103.5 124.7H110.6V126.0H103.5z"/>
<path fill="#882828" d="M132.0 86.8H139.2V88.1H132.0z"/>
<path fill="#f8b890" d="M139.2 86.8H146.3V88.1H139.2z"/>
<path fill="#f07850" d="M39.2 88.1H46.3V89.4H39.2zM110.6 92.0H117.7V93.3H110.6zM110.6 94.6H117.7V96.0H110.6zM132.0 115.5H139.2V116.8H132.0zM124.9 119.4H132.0V120.7H124.9z"/>
<path fill="#58a0d0" d="M53.5 88.1H60.6V89.4H53.5zM74.9 205.6H82.0V206.9H74.9z"/>
<path fill="#e86850" d="M74.9 88.1H82.0V89.4H74.9zM132.0 90.7H139.2V92.0H132.0zM39.2 92.0H46.3V93.3H39.2zM39.2 94.6H46.3V96.0H39.2zM110.6 96.0H117.7V97.3H110.6zM117.7 101.2H124.9V102.5H117.7zM132.0 128.6H139.2V129.9H132.0z"/>
<path fill="#e8e0e0" d="M82.0 88.1H89.2V89.4H82.0zM89.2 107.7H96.3V109.0H89.2zM110.6 122.1H117.7V123.4H110.6zM110.6 129.9H117.7V131.2H110.6zM74.9 154.7H82.0V156.0H74.9zM96.3 200.4H103.5V201.7H96.3zM117.7 264.3H124.9V265.6H117.7z"/>
<path fill="#c0c0d0" d="M103.5 88.1H110.6V89.4H103.5zM46.3 107.7H53.5V109.0H46.3zM46.3 172.9H53.5V174.2H46.3zM103.5 174.2H110.6V175.6H103.5zM132.0 188.6H139.2V189.9H132.0zM124.9 201.7H132.0V203.0H124.9zM67.8 225.1H74.9V226.5H67.8zM74.9 256.5H82.0V257.8H74.9z"/>
<path fill="#80b0d8" d="M117.7 88.1H124.9V89.4H117.7zM103.5 197.7H110.6V199.0H103.5zM117.7 247.3H124.9V248.6H117.7zM60.6 255.2H67.8V256.5H60.6zM139.2 264.3H146.3V265.6H139.2z"/>
<path fill="#e07858" d="M132.0 88.1H139.2V89.4H132.0z"/>
<path fill="#6890b8" d="M53.5 89.4H60.6V90.7H53.5zM82.0 136.4H89.2V137.7H82.0zM39.2 157.3H46.3V158.6H39.2zM82.0 199.0H89.2V200.4H82.0z"/>
<path fill="#e87858" d="M67.8 89.4H74.9V90.7H67.8zM117.7 132.5H124.9V133.8H117.7z"/>
<path fill="#e0d8d8" d="M82.0 89.4H89.2V90.7H82.0zM53.5 92.0H60.6V93.3H53.5zM67.8 98.6H74.9V99.9H67.8zM132.0 161.2H139.2V162.5H132.0zM124.9 188.6H132.0V189.9H124.9zM139.2 205.6H146.3V206.9H139.2zM46.3 217.3H53.5V218.6H46.3z"/>
<path fill="#f8e8e0" d="M89.2 89.4H96.3V90.7H89.2zM96.3 94.6H103.5V96.0H96.3zM117.7 118.1H124.9V119.4H117.7zM110.6 120.7H117.7V122.1H110.6zM96.3 131.2H103.5V132.5H96.3zM110.6 131.2H117.7V132.5H110.6zM117.7 140.3H124.9V141.6H117.7zM103.5 203.0H110.6V204.3H103.5zM103.5 205.6H110.6V206.9H103.5zM103.5 209.5H110.6V210.8H103.5zM117.7 213.4H124.9V214.7H117.7zM124.9 248.6H132.0V249.9H124.9zM117.7 260.4H124.9V261.7H117.7zM74.9 264.3H82.0V265.6H74.9z"/>
<path fill="#506088" d="M103.5 89.4H110.6V90.7H103.5zM89.2 119.4H96.3V120.7H89.2zM117.7 145.5H124.9V146.8H117.7z"/>
<path fill="#d08078" d="M53.5 90.7H60.6V92.0H53.5zM82.0 135.1H89.2V136.4H82.0zM124.9 146.8H132.0V148.2H124.9z"/>
<path fill="#d8d0d0" d="M60.6 90.7H67.8V92.0H60.6zM103.5 106.4H110.6V107.7H103.5zM124.9 154.7H132.0V156.0H124.9zM67.8 157.3H74.9V158.6H67.8zM96.3 188.6H103.5V189.9H96.3zM89.2 247.3H96.3V248.6H89.2z"/>
<path fill="#c87068" d="M82.0 90.7H89.2V92.0H82.0z"/>
<path fill="#6080b0" d="M96.3 90.7H103.5V92.0H96.3zM139.2 176.9H146.3V178.2H139.2z"/>
<path fill="#b09088" d="M103.5 90.7H110.6V92.0H103.5z"/>
<path fill="#e08878" d="M139.2 90.7H146.3V92.0H139.2zM103.5 111.6H110.6V112.9H103.5zM82.0 112.9H89.2V114.2H82.0zM67.8 145.5H74.9V146.8H67.8zM39.2 152.1H46.3V153.4H39.2z"/>
<path fill="#585078" d="M82.0 92.0H89.2V93.3H82.0z"/>
<path fill="#d87868" d="M96.3 92.0H103.5V93.3H96.3zM124.9 129.9H132.0V131.2H124.9zM139.2 132.5H146.3V133.8H139.2zM46.3 196.4H53.5V197.7H46.3z"/>
<path fill="#e86048" d="M39.2 93.3H46.3V94.6H39.2zM132.0 122.1H139.2V123.4H132.0zM132.0 123.4H139.2V124.7H132.0z"/>
<path fill="#d0e8f0" d="M53.5 93.3H60.6V94.6H53.5zM67.8 140.3H74.9V141.6H67.8zM46.3 154.7H53.5V156.0H46.3zM110.6 156.0H117.7V157.3H110.6zM103.5 161.2H110.6V162.5H103.5zM117.7 163.8H124.9V165.1H117.7zM82.0 175.6H89.2V176.9H82.0zM67.8 176.9H74.9V178.2H67.8zM96.3 176.9H103.5V178.2H96.3zM124.9 176.9H132.0V178.2H124.9zM46.3 179.5H53.5V180.8H46.3zM139.2 187.3H146.3V188.6H139.2zM96.3 216.0H103.5V217.3H96.3zM53.5 218.6H60.6V219.9H53.5zM110.6 218.6H117.7V219.9H110.6zM53.5 219.9H60.6V221.2H53.5zM132.0 219.9H139.2V221.2H132.0zM67.8 222.5H74.9V223.8H67.8zM46.3 225.1H53.5V226.5H46.3zM103.5 225.1H110.6V226.5H103.5zM96.3 234.3H103.5V235.6H96.3zM67.8 247.3H74.9V248.6H67.8z"/>
<path fill="#d07060" d="M60.6 93.3H67.8V94.6H60.6zM117.7 97.3H124.9V98.6H117.7zM117.7 102.5H124.9V103.8H117.7zM124.9 112.9H132.0V114.2H124.9zM124.9 122.1H132.0V123.4H124.9zM124.9 133.8H132.0V135.1H124.9z"/>
<path fill="#d09078" d="M67.8 93.3H74.9V94.6H67.8zM110.6 98.6H117.7V99.9H110.6zM117.7 111.6H124.9V112.9H117.7z"/>
<path fill="#c08078" d="M82.0 93.3H89.2V94.6H82.0zM82.0 122.1H89.2V123.4H82.0z"/>
<path fill="#e8d0d0" d="M117.7 93.3H124.9V94.6H117.7zM124.9 235.6H132.0V236.9H124.9z"/>
<path fill="#d8a890" d="M46.3 94.6H53.5V96.0H46.3z"/>
<path fill="#f0d8d0" d="M53.5 94.6H60.6V96.0H53.5zM103.5 110.3H110.6V111.6H103.5zM67.8 123.4H74.9V124.7H67.8z"/>
<path fill="#f8b088" d="M67.8 94.6H74.9V96.0H67.8z"/>
<path fill="#88a0c0" d="M82.0 94.6H89.2V96.0H82.0zM53.5 144.2H60.6V145.5H53.5zM74.9 172.9H82.0V174.2H74.9z"/>
<path fill="#f8f8f8" d="M89.2 94.6H96.3V96.0H89.2zM110.6 264.3H117.7V265.6H110.6z"/>
<path fill="#406898" d="M82.0 96.0H89.2V97.3H82.0z"/>
<path fill="#b07070" d="M103.5 96.0H110.6V97.3H103.5z"/>
<path fill="#f08058" d="M46.3 97.3H53.5V98.6H46.3zM46.3 105.1H53.5V106.4H46.3zM132.0 109.0H139.2V110.3H132.0z"/>
<path fill="#80a8d0" d="M67.8 97.3H74.9V98.6H67.8zM60.6 209.5H67.8V210.8H60.6zM60.6 260.4H67.8V261.7H60.6z"/>
<path fill="#6098d0" d="M96.3 97.3H103.5V98.6H96.3zM110.6 126.0H117.7V127.3H110.6zM96.3 154.7H103.5V156.0H96.3zM89.2 163.8H96.3V165.1H89.2zM117.7 174.2H124.9V175.6H117.7zM46.3 199.0H53.5V200.4H46.3zM82.0 205.6H89.2V206.9H82.0zM96.3 218.6H103.5V219.9H96.3zM74.9 251.2H82.0V252.6H74.9z"/>
<path fill="#485878" d="M103.5 97.3H110.6V98.6H103.5z"/>
<path fill="#b0d8f0" d="M53.5 98.6H60.6V99.9H53.5zM67.8 129.9H74.9V131.2H67.8zM103.5 131.2H110.6V132.5H103.5zM124.9 144.2H132.0V145.5H124.9zM39.2 145.5H46.3V146.8H39.2zM46.3 146.8H53.5V148.2H46.3zM103.5 153.4H110.6V154.7H103.5zM53.5 154.7H60.6V156.0H53.5zM139.2 158.6H146.3V159.9H139.2zM82.0 159.9H89.2V161.2H82.0zM96.3 161.2H103.5V162.5H96.3zM124.9 161.2H132.0V162.5H124.9zM60.6 163.8H67.8V165.1H60.6zM96.3 171.6H103.5V172.9H96.3zM89.2 172.9H96.3V174.2H89.2zM96.3 175.6H103.5V176.9H96.3zM46.3 176.9H53.5V178.2H46.3zM46.3 186.0H53.5V187.3H46.3zM139.2 186.0H146.3V187.3H139.2zM74.9 191.2H82.0V192.5H74.9zM60.6 203.0H67.8V204.3H60.6zM74.9 208.2H82.0V209.5H74.9zM139.2 209.5H146.3V210.8H139.2zM46.3 213.4H53.5V214.7H46.3zM53.5 222.5H60.6V223.8H53.5zM53.5 226.5H60.6V227.8H53.5zM74.9 226.5H82.0V227.8H74.9zM132.0 226.5H139.2V227.8H132.0zM117.7 231.7H124.9V233.0H117.7zM89.2 240.8H96.3V242.1H89.2zM53.5 242.1H60.6V243.4H53.5zM46.3 247.3H53.5V248.6H46.3zM132.0 251.2H139.2V252.6H132.0zM53.5 256.5H60.6V257.8H53.5zM96.3 264.3H103.5V265.6H96.3z"/>
<path fill="#b0d0f0" d="M74.9 98.6H82.0V99.9H74.9zM39.2 144.2H46.3V145.5H39.2zM82.0 170.3H89.2V171.6H82.0zM89.2 216.0H96.3V217.3H89.2zM82.0 229.1H89.2V230.4H82.0z"/>
<path fill="#6888b0" d="M82.0 98.6H89.2V99.9H82.0zM124.9 229.1H132.0V230.4H124.9zM117.7 257.8H124.9V259.1H117.7z"/>
<path fill="#a0c0d8" d="M103.5 98.6H110.6V99.9H103.5zM96.3 110.3H103.5V111.6H96.3zM96.3 112.9H103.5V114.2H96.3zM39.2 206.9H46.3V208.2H39.2z"/>
<path fill="#e0e8e8" d="M74.9 99.9H82.0V101.2H74.9zM89.2 103.8H96.3V105.1H89.2zM46.3 167.7H53.5V169.0H46.3zM124.9 167.7H132.0V169.0H124.9zM117.7 187.3H124.9V188.6H117.7zM132.0 204.3H139.2V205.6H132.0z"/>
<path fill="#70b0d8" d="M103.5 99.9H110.6V101.2H103.5zM139.2 137.7H146.3V139.0H139.2zM139.2 141.6H146.3V142.9H139.2zM39.2 142.9H46.3V144.2H39.2zM110.6 152.1H117.7V153.4H110.6zM82.0 158.6H89.2V159.9H82.0zM74.9 167.7H82.0V169.0H74.9zM89.2 170.3H96.3V171.6H89.2zM60.6 172.9H67.8V174.2H60.6zM60.6 191.2H67.8V192.5H60.6zM89.2 201.7H96.3V203.0H89.2zM82.0 217.3H89.2V218.6H82.0zM60.6 234.3H67.8V235.6H60.6zM82.0 253.9H89.2V255.2H82.0z"/>
<path fill="#6898d0" d="M53.5 101.2H60.6V102.5H53.5z"/>
<path fill="#b0c0d0" d="M82.0 101.2H89.2V102.5H82.0zM82.0 114.2H89.2V115.5H82.0zM53.5 171.6H60.6V172.9H53.5zM132.0 229.1H139.2V230.4H132.0z"/>
<path fill="#a8d0e8" d="M96.3 101.2H103.5V102.5H96.3zM53.5 106.4H60.6V107.7H53.5zM67.8 137.7H74.9V139.0H67.8zM60.6 139.0H67.8V140.3H60.6zM82.0 139.0H89.2V140.3H82.0zM124.9 140.3H132.0V141.6H124.9zM46.3 144.2H53.5V145.5H46.3zM46.3 148.2H53.5V149.5H46.3zM103.5 156.0H110.6V157.3H103.5zM110.6 157.3H117.7V158.6H110.6zM89.2 158.6H96.3V159.9H89.2zM96.3 167.7H103.5V169.0H96.3zM96.3 169.0H103.5V170.3H96.3zM89.2 174.2H96.3V175.6H89.2zM46.3 178.2H53.5V179.5H46.3zM46.3 180.8H53.5V182.1H46.3zM67.8 180.8H74.9V182.1H67.8zM89.2 183.4H96.3V184.7H89.2zM103.5 183.4H110.6V184.7H103.5zM53.5 186.0H60.6V187.3H53.5zM82.0 191.2H89.2V192.5H82.0zM82.0 192.5H89.2V193.8H82.0zM60.6 199.0H67.8V200.4H60.6zM74.9 199.0H82.0V200.4H74.9zM60.6 200.4H67.8V201.7H60.6zM82.0 204.3H96.3V205.6H82.0zM82.0 208.2H89.2V209.5H82.0zM74.9 209.5H82.0V210.8H74.9zM82.0 213.4H89.2V214.7H82.0zM96.3 214.7H103.5V216.0H96.3zM39.2 216.0H46.3V217.3H39.2zM74.9 219.9H89.2V221.2H74.9zM46.3 223.8H53.5V225.1H46.3zM74.9 223.8H82.0V225.1H74.9zM103.5 223.8H110.6V225.1H103.5zM132.0 223.8H139.2V225.1H132.0zM53.5 227.8H60.6V229.1H53.5zM60.6 231.7H67.8V233.0H60.6zM46.3 238.2H53.5V239.5H46.3zM39.2 239.5H46.3V240.8H39.2zM82.0 240.8H89.2V242.1H82.0zM82.0 246.0H89.2V247.3H82.0zM89.2 251.2H96.3V252.6H89.2zM67.8 252.6H74.9V253.9H67.8zM39.2 253.9H46.3V255.2H39.2zM96.3 256.5H103.5V257.8H96.3zM67.8 259.1H74.9V260.4H67.8zM74.9 261.7H82.0V263.0H74.9zM82.0 264.3H89.2V265.6H82.0z"/>
<path fill="#b89890" d="M110.6 101.2H117.7V102.5H110.6z"/>
<path fill="#7890b0" d="M124.9 101.2H132.0V102.5H124.9z"/>
<path fill="#c8c8d0" d="M139.2 101.2H146.3V102.5H139.2zM139.2 103.8H146.3V105.1H139.2zM139.2 159.9H146.3V161.2H139.2zM132.0 178.2H139.2V179.5H132.0zM89.2 249.9H96.3V251.2H89.2z"/>
<path fill="#6088b8" d="M74.9 102.5H82.0V103.8H74.9zM110.6 124.7H117.7V126.0H110.6zM67.8 227.8H74.9V229.1H67.8zM39.2 244.7H46.3V246.0H39.2z"/>
<path fill="#5090c8" d="M82.0 102.5H89.2V103.8H82.0zM96.3 109.0H103.5V110.3H96.3zM117.7 172.9H124.9V174.2H117.7zM60.6 178.2H67.8V179.5H60.6zM46.3 206.9H53.5V208.2H46.3zM89.2 259.1H96.3V260.4H89.2zM89.2 261.7H96.3V263.0H89.2z"/>
<path fill="#e0e8f0" d="M96.3 102.5H103.5V103.8H96.3zM67.8 110.3H74.9V111.6H67.8zM103.5 116.8H110.6V118.1H103.5zM60.6 118.1H67.8V119.4H60.6zM139.2 150.8H146.3V152.1H139.2zM132.0 156.0H139.2V157.3H132.0zM96.3 159.9H103.5V161.2H96.3zM124.9 178.2H132.0V179.5H124.9zM139.2 195.1H146.3V196.4H139.2zM110.6 209.5H117.7V210.8H110.6zM53.5 217.3H60.6V218.6H53.5zM89.2 222.5H96.3V223.8H89.2zM96.3 223.8H103.5V225.1H96.3zM53.5 238.2H60.6V239.5H53.5zM53.5 251.2H60.6V252.6H53.5zM74.9 263.0H82.0V264.3H74.9z"/>
<path fill="#c0b8b0" d="M124.9 102.5H132.0V103.8H124.9z"/>
<path fill="#88a0c8" d="M82.0 103.8H89.2V105.1H82.0zM53.5 141.6H60.6V142.9H53.5zM117.7 197.7H124.9V199.0H117.7zM60.6 214.7H67.8V216.0H60.6zM124.9 226.5H132.0V227.8H124.9z"/>
<path fill="#d8e0e8" d="M96.3 103.8H103.5V105.1H96.3zM60.6 116.8H67.8V118.1H60.6zM139.2 144.2H146.3V145.5H139.2zM89.2 145.5H96.3V146.8H89.2zM46.3 161.2H53.5V162.5H46.3zM117.7 193.8H124.9V195.1H117.7zM132.0 209.5H139.2V210.8H132.0zM46.3 212.1H53.5V213.4H46.3zM103.5 233.0H110.6V234.3H103.5zM132.0 238.2H139.2V239.5H132.0zM103.5 251.2H110.6V252.6H103.5z"/>
<path fill="#7898b8" d="M124.9 103.8H132.0V105.1H124.9zM60.6 107.7H67.8V109.0H60.6zM117.7 128.6H124.9V129.9H117.7z"/>
<path fill="#e0f0f0" d="M53.5 105.1H60.6V106.4H53.5zM60.6 182.1H67.8V183.4H60.6zM89.2 188.6H96.3V189.9H89.2zM139.2 196.4H146.3V197.7H139.2zM132.0 213.4H139.2V214.7H132.0zM67.8 253.9H74.9V255.2H67.8zM53.5 263.0H60.6V264.3H53.5z"/>
<path fill="#d87860" d="M82.0 105.1H89.2V106.4H82.0z"/>
<path fill="#c0a0a0" d="M124.9 105.1H132.0V106.4H124.9z"/>
<path fill="#403058" d="M39.2 106.4H46.3V107.7H39.2z"/>
<path fill="#b09090" d="M67.8 106.4H74.9V107.7H67.8z"/>
<path fill="#a8c8e8" d="M96.3 106.4H103.5V107.7H96.3z"/>
<path fill="#f07860" d="M110.6 106.4H117.7V107.7H110.6z"/>
<path fill="#d8b0a0" d="M117.7 106.4H124.9V107.7H117.7zM74.9 110.3H82.0V111.6H74.9zM39.2 192.5H46.3V193.8H39.2zM103.5 248.6H110.6V249.9H103.5z"/>
<path fill="#802030" d="M39.2 107.7H46.3V109.0H39.2z"/>
<path fill="#f8f0f0" d="M74.9 107.7H82.0V109.0H74.9zM53.5 212.1H60.6V213.4H53.5z"/>
<path fill="#60a0d0" d="M96.3 107.7H103.5V109.0H96.3zM53.5 145.5H60.6V146.8H53.5zM74.9 162.5H82.0V163.8H74.9zM103.5 163.8H110.6V165.1H103.5zM82.0 165.1H89.2V166.4H82.0zM67.8 189.9H74.9V191.2H67.8zM96.3 208.2H103.5V209.5H96.3zM39.2 230.4H46.3V231.7H39.2zM39.2 233.0H53.5V234.3H39.2zM82.0 239.5H89.2V240.8H82.0z"/>
<path fill="#d85840" d="M39.2 109.0H46.3V110.3H39.2z"/>
<path fill="#586898" d="M46.3 109.0H53.5V110.3H46.3z"/>
<path fill="#d0c0b8" d="M67.8 109.0H74.9V110.3H67.8z"/>
<path fill="#ffd8c0" d="M82.0 109.0H89.2V110.3H82.0zM53.5 205.6H60.6V206.9H53.5z"/>
<path fill="#d0e0e8" d="M103.5 109.0H110.6V110.3H103.5zM67.8 128.6H74.9V129.9H67.8zM74.9 140.3H82.0V141.6H74.9zM139.2 174.2H146.3V175.6H139.2zM132.0 201.7H139.2V203.0H132.0zM110.6 253.9H117.7V255.2H110.6z"/>
<path fill="#f0d0b8" d="M139.2 109.0H146.3V110.3H139.2zM124.9 150.8H132.0V152.1H124.9z"/>
<path fill="#b86868" d="M53.5 110.3H60.6V111.6H53.5z"/>
<path fill="#b8d0e0" d="M60.6 110.3H67.8V111.6H60.6zM110.6 133.8H117.7V135.1H110.6zM132.0 139.0H139.2V140.3H132.0zM74.9 150.8H82.0V152.1H74.9z"/>
<path fill="#587098" d="M89.2 110.3H96.3V111.6H89.2z"/>
<path fill="#c8d0d0" d="M139.2 110.3H146.3V111.6H139.2z"/>
<path fill="#483860" d="M39.2 111.6H46.3V112.9H39.2z"/>
<path fill="#e05840" d="M124.9 111.6H132.0V112.9H124.9z"/>
<path fill="#e8a080" d="M139.2 111.6H146.3V112.9H139.2z"/>
<path fill="#b06860" d="M53.5 112.9H60.6V114.2H53.5z"/>
<path fill="#e8c0a8" d="M60.6 112.9H67.8V114.2H60.6zM46.3 135.1H53.5V136.4H46.3z"/>
<path fill="#c85850" d="M74.9 112.9H82.0V114.2H74.9z"/>
<path fill="#b8b0c0" d="M103.5 112.9H110.6V114.2H103.5z"/>
<path fill="#5880b0" d="M110.6 112.9H117.7V114.2H110.6z"/>
<path fill="#e87050" d="M39.2 114.2H53.5V115.5H39.2zM139.2 123.4H146.3V124.7H139.2zM124.9 135.1H132.0V136.4H124.9z"/>
<path fill="#405890" d="M53.5 114.2H60.6V115.5H53.5z"/>
<path fill="#90b8d0" d="M60.6 114.2H67.8V115.5H60.6z"/>
<path fill="#486898" d="M89.2 114.2H96.3V115.5H89.2z"/>
<path fill="#68a0d0" d="M96.3 114.2H103.5V115.5H96.3zM103.5 123.4H110.6V124.7H103.5zM74.9 135.1H82.0V136.4H74.9zM124.9 157.3H132.0V158.6H124.9zM82.0 162.5H89.2V163.8H82.0zM132.0 162.5H139.2V163.8H132.0zM60.6 179.5H67.8V180.8H60.6zM39.2 182.1H46.3V183.4H39.2zM82.0 263.0H89.2V264.3H82.0z"/>
<path fill="#7880a0" d="M124.9 114.2H132.0V115.5H124.9z"/>
<path fill="#385888" d="M53.5 115.5H60.6V116.8H53.5z"/>
<path fill="#70a8d0" d="M60.6 115.5H67.8V116.8H60.6zM39.2 197.7H46.3V199.0H39.2zM46.3 221.2H53.5V222.5H46.3z"/>
<path fill="#d8c8c0" d="M67.8 115.5H74.9V116.8H67.8zM117.7 156.0H124.9V157.3H117.7zM110.6 163.8H117.7V165.1H110.6zM124.9 174.2H132.0V175.6H124.9zM103.5 246.0H110.6V247.3H103.5zM124.9 261.7H132.0V263.0H124.9z"/>
<path fill="#c0c0c8" d="M89.2 115.5H96.3V116.8H89.2zM60.6 225.1H67.8V226.5H60.6z"/>
<path fill="#b87068" d="M124.9 115.5H132.0V116.8H124.9z"/>
<path fill="#e89880" d="M89.2 116.8H96.3V118.1H89.2zM96.3 253.9H103.5V255.2H96.3z"/>
<path fill="#e08068" d="M139.2 116.8H146.3V118.1H139.2zM60.6 206.9H67.8V208.2H60.6z"/>
<path fill="#c84038" d="M53.5 118.1H60.6V119.4H53.5zM124.9 136.4H132.0V137.7H124.9z"/>
<path fill="#083070" d="M67.8 118.1H74.9V119.4H67.8z"/>
<path fill="#d0c0c8" d="M89.2 118.1H96.3V119.4H89.2zM89.2 128.6H96.3V129.9H89.2z"/>
<path fill="#98c8e8" d="M103.5 118.1H110.6V119.4H103.5zM96.3 137.7H110.6V139.0H96.3zM103.5 139.0H110.6V140.3H103.5zM103.5 141.6H110.6V142.9H103.5zM124.9 142.9H132.0V144.2H124.9zM39.2 146.8H46.3V148.2H39.2zM82.0 149.5H89.2V150.8H82.0zM139.2 149.5H146.3V150.8H139.2zM46.3 150.8H53.5V152.1H46.3zM82.0 150.8H89.2V152.1H82.0zM82.0 153.4H89.2V154.7H82.0zM110.6 154.7H117.7V156.0H110.6zM124.9 159.9H132.0V161.2H124.9zM67.8 166.4H74.9V167.7H67.8zM103.5 166.4H110.6V167.7H103.5zM39.2 167.7H46.3V169.0H39.2zM132.0 167.7H139.2V169.0H132.0zM103.5 170.3H110.6V171.6H103.5zM103.5 175.6H110.6V176.9H103.5zM67.8 178.2H74.9V179.5H67.8zM124.9 179.5H139.2V180.8H124.9zM53.5 184.7H60.6V186.0H53.5zM74.9 186.0H82.0V187.3H74.9zM67.8 187.3H74.9V188.6H67.8zM132.0 189.9H139.2V191.2H132.0zM132.0 191.2H139.2V192.5H132.0zM53.5 192.5H60.6V193.8H53.5zM53.5 193.8H60.6V195.1H53.5zM39.2 195.1H46.3V196.4H39.2zM74.9 196.4H82.0V197.7H74.9zM117.7 196.4H124.9V197.7H117.7zM39.2 205.6H46.3V206.9H39.2zM96.3 212.1H103.5V213.4H96.3zM46.3 214.7H53.5V216.0H46.3zM67.8 217.3H74.9V218.6H67.8zM139.2 221.2H146.3V222.5H139.2zM39.2 229.1H46.3V230.4H39.2zM53.5 229.1H60.6V230.4H53.5zM74.9 229.1H82.0V230.4H74.9zM89.2 236.9H96.3V238.2H89.2zM60.6 249.9H67.8V251.2H60.6zM53.5 255.2H60.6V256.5H53.5zM53.5 257.8H60.6V259.1H53.5zM67.8 260.4H74.9V261.7H67.8z"/>
<path fill="#b0b8c8" d="M139.2 118.1H146.3V119.4H139.2zM103.5 195.1H110.6V196.4H103.5z"/>
<path fill="#c87868" d="M53.5 119.4H60.6V120.7H53.5z"/>
<path fill="#e8e0d8" d="M60.6 119.4H67.8V120.7H60.6zM74.9 171.6H82.0V172.9H74.9zM110.6 216.0H117.7V217.3H110.6zM96.3 238.2H103.5V239.5H96.3zM132.0 247.3H139.2V248.6H132.0zM60.6 263.0H67.8V264.3H60.6z"/>
<path fill="#506898" d="M74.9 119.4H82.0V120.7H74.9z"/>
<path fill="#c88078" d="M96.3 119.4H103.5V120.7H96.3zM89.2 129.9H96.3V131.2H89.2z"/>
<path fill="#7098c0" d="M103.5 119.4H110.6V120.7H103.5zM39.2 135.1H46.3V136.4H39.2z"/>
<path fill="#f0b8a8" d="M110.6 119.4H117.7V120.7H110.6zM132.0 257.8H139.2V259.1H132.0z"/>
<path fill="#d0b8b8" d="M89.2 120.7H96.3V122.1H89.2z"/>
<path fill="#d0a098" d="M103.5 120.7H110.6V122.1H103.5z"/>
<path fill="#f8d8c0" d="M67.8 122.1H74.9V123.4H67.8zM110.6 235.6H117.7V236.9H110.6zM124.9 252.6H132.0V253.9H124.9z"/>
<path fill="#3868a0" d="M60.6 123.4H67.8V124.7H60.6z"/>
<path fill="#f8a078" d="M117.7 123.4H124.9V124.7H117.7zM132.0 132.5H139.2V133.8H132.0z"/>
<path fill="#5878b0" d="M74.9 124.7H82.0V126.0H74.9z"/>
<path fill="#78a8d0" d="M96.3 124.7H103.5V126.0H96.3zM60.6 154.7H67.8V156.0H60.6z"/>
<path fill="#f09878" d="M46.3 126.0H53.5V127.3H46.3zM46.3 132.5H53.5V133.8H46.3z"/>
<path fill="#e89070" d="M53.5 126.0H60.6V127.3H53.5z"/>
<path fill="#b84848" d="M74.9 126.0H82.0V127.3H74.9zM117.7 199.0H124.9V200.4H117.7z"/>
<path fill="#e8b098" d="M103.5 126.0H110.6V127.3H103.5zM46.3 249.9H53.5V251.2H46.3zM96.3 252.6H103.5V253.9H96.3z"/>
<path fill="#c8c8c8" d="M53.5 127.3H60.6V128.6H53.5z"/>
<path fill="#f0c0a8" d="M67.8 127.3H74.9V128.6H67.8zM89.2 135.1H96.3V136.4H89.2zM74.9 156.0H82.0V157.3H74.9z"/>
<path fill="#c88070" d="M89.2 127.3H96.3V128.6H89.2z"/>
<path fill="#b87878" d="M117.7 127.3H124.9V128.6H117.7z"/>
<path fill="#d06858" d="M132.0 127.3H139.2V128.6H132.0z"/>
<path fill="#5888c0" d="M39.2 128.6H46.3V129.9H39.2z"/>
<path fill="#f08870" d="M46.3 128.6H53.5V129.9H46.3z"/>
<path fill="#f8d0c8" d="M74.9 128.6H82.0V129.9H74.9z"/>
<path fill="#d87060" d="M82.0 128.6H89.2V129.9H82.0z"/>
<path fill="#a0c8e0" d="M110.6 128.6H117.7V129.9H110.6z"/>
<path fill="#7880a8" d="M124.9 128.6H132.0V129.9H124.9z"/>
<path fill="#e06860" d="M46.3 129.9H53.5V131.2H46.3z"/>
<path fill="#78a8c8" d="M53.5 129.9H60.6V131.2H53.5z"/>
<path fill="#5080b0" d="M60.6 129.9H67.8V131.2H60.6z"/>
<path fill="#98a0b0" d="M82.0 129.9H89.2V131.2H82.0z"/>
<path fill="#e0d0d0" d="M117.7 129.9H124.9V131.2H117.7zM53.5 137.7H60.6V139.0H53.5zM67.8 159.9H74.9V161.2H67.8zM139.2 184.7H146.3V186.0H139.2zM117.7 229.1H124.9V230.4H117.7z"/>
<path fill="#384878" d="M139.2 129.9H146.3V131.2H139.2zM60.6 131.2H67.8V132.5H60.6z"/>
<path fill="#d88070" d="M124.9 131.2H132.0V132.5H124.9z"/>
<path fill="#f8a880" d="M132.0 131.2H139.2V132.5H132.0zM117.7 135.1H124.9V136.4H117.7z"/>
<path fill="#e89078" d="M39.2 132.5H46.3V133.8H39.2z"/>
<path fill="#f0a080" d="M82.0 132.5H89.2V133.8H82.0z"/>
<path fill="#e8e8e8" d="M96.3 132.5H103.5V133.8H96.3zM132.0 142.9H139.2V144.2H132.0zM132.0 146.8H139.2V148.2H132.0zM39.2 186.0H46.3V187.3H39.2zM117.7 208.2H124.9V209.5H117.7zM82.0 210.8H89.2V212.1H82.0zM53.5 261.7H60.6V263.0H53.5z"/>
<path fill="#7888a8" d="M124.9 132.5H132.0V133.8H124.9z"/>
<path fill="#d88870" d="M39.2 133.8H46.3V135.1H39.2z"/>
<path fill="#c0d8f0" d="M74.9 133.8H82.0V135.1H74.9zM103.5 162.5H110.6V163.8H103.5zM46.3 175.6H53.5V176.9H46.3zM60.6 176.9H67.8V178.2H60.6zM53.5 199.0H60.6V200.4H53.5zM39.2 217.3H46.3V218.6H39.2zM89.2 221.2H96.3V222.5H89.2zM89.2 246.0H96.3V247.3H89.2zM82.0 261.7H89.2V263.0H82.0z"/>
<path fill="#e0c8b8" d="M89.2 133.8H96.3V135.1H89.2zM60.6 229.1H67.8V230.4H60.6z"/>
<path fill="#d8d0d8" d="M103.5 133.8H110.6V135.1H103.5zM96.3 158.6H103.5V159.9H96.3zM53.5 162.5H60.6V163.8H53.5zM139.2 255.2H146.3V256.5H139.2z"/>
<path fill="#d88068" d="M132.0 133.8H139.2V135.1H132.0z"/>
<path fill="#e8c8b0" d="M53.5 135.1H60.6V136.4H53.5z"/>
<path fill="#a0c0e0" d="M96.3 135.1H103.5V136.4H96.3zM46.3 136.4H53.5V137.7H46.3zM60.6 195.1H67.8V196.4H60.6z"/>
<path fill="#d07870" d="M103.5 135.1H110.6V136.4H103.5zM103.5 148.2H110.6V149.5H103.5zM139.2 206.9H146.3V208.2H139.2z"/>
<path fill="#e8b8a8" d="M110.6 135.1H117.7V136.4H110.6zM82.0 187.3H89.2V188.6H82.0z"/>
<path fill="#7890b8" d="M132.0 135.1H139.2V136.4H132.0z"/>
<path fill="#98b0c8" d="M39.2 136.4H46.3V137.7H39.2zM103.5 136.4H110.6V137.7H103.5zM103.5 145.5H110.6V146.8H103.5zM53.5 165.1H60.6V166.4H53.5zM82.0 196.4H89.2V197.7H82.0zM46.3 236.9H53.5V238.2H46.3zM46.3 259.1H53.5V260.4H46.3z"/>
<path fill="#b0c8e0" d="M53.5 136.4H60.6V137.7H53.5zM89.2 142.9H96.3V144.2H89.2zM103.5 159.9H110.6V161.2H103.5z"/>
<path fill="#d0d8e8" d="M60.6 136.4H67.8V137.7H60.6z"/>
<path fill="#78b0e0" d="M74.9 136.4H82.0V137.7H74.9zM89.2 137.7H96.3V139.0H89.2zM82.0 145.5H89.2V146.8H82.0zM82.0 146.8H89.2V148.2H82.0zM96.3 153.4H103.5V154.7H96.3zM82.0 156.0H89.2V157.3H82.0zM96.3 166.4H103.5V167.7H96.3zM53.5 167.7H60.6V169.0H53.5zM82.0 167.7H96.3V169.0H82.0zM124.9 180.8H132.0V182.1H124.9zM74.9 188.6H82.0V189.9H74.9zM39.2 204.3H46.3V205.6H39.2zM89.2 205.6H96.3V206.9H89.2zM74.9 206.9H82.0V208.2H74.9zM96.3 213.4H103.5V214.7H96.3zM39.2 219.9H46.3V221.2H39.2zM39.2 226.5H46.3V227.8H39.2zM74.9 231.7H82.0V233.0H74.9zM53.5 235.6H67.8V236.9H53.5zM60.6 236.9H67.8V238.2H60.6zM89.2 238.2H96.3V239.5H89.2zM67.8 240.8H74.9V242.1H67.8zM74.9 243.4H82.0V244.7H74.9zM74.9 249.9H82.0V251.2H74.9zM82.0 252.6H89.2V253.9H82.0zM82.0 255.2H89.2V256.5H82.0zM74.9 260.4H82.0V261.7H74.9zM103.5 260.4H110.6V261.7H103.5zM103.5 263.0H110.6V264.3H103.5z"/>
<path fill="#c0d8e0" d="M89.2 136.4H96.3V137.7H89.2z"/>
<path fill="#88c0e0" d="M96.3 136.4H103.5V137.7H96.3zM60.6 137.7H67.8V139.0H60.6zM46.3 139.0H53.5V140.3H46.3zM139.2 139.0H146.3V140.3H139.2zM96.3 140.3H103.5V141.6H96.3zM124.9 141.6H132.0V142.9H124.9zM96.3 145.5H103.5V146.8H96.3zM110.6 153.4H117.7V154.7H110.6zM39.2 161.2H46.3V162.5H39.2zM53.5 166.4H60.6V167.7H53.5zM39.2 171.6H46.3V172.9H39.2zM67.8 179.5H74.9V180.8H67.8zM82.0 183.4H89.2V184.7H82.0zM46.3 187.3H60.6V188.6H46.3zM39.2 196.4H46.3V197.7H39.2zM96.3 210.8H103.5V212.1H96.3zM124.9 210.8H132.0V212.1H124.9zM124.9 212.1H132.0V213.4H124.9zM124.9 213.4H132.0V214.7H124.9zM39.2 218.6H46.3V219.9H39.2zM124.9 218.6H132.0V219.9H124.9zM132.0 222.5H139.2V223.8H132.0zM124.9 225.1H132.0V226.5H124.9zM82.0 227.8H89.2V229.1H82.0zM89.2 231.7H96.3V233.0H89.2zM74.9 238.2H82.0V239.5H74.9zM89.2 239.5H96.3V240.8H89.2zM74.9 248.6H82.0V249.9H74.9zM67.8 249.9H74.9V251.2H67.8zM39.2 251.2H46.3V252.6H39.2zM67.8 251.2H74.9V252.6H67.8z"/>
<path fill="#e0e0e8" d="M132.0 136.4H139.2V137.7H132.0zM110.6 251.2H117.7V252.6H110.6z"/>
<path fill="#c87870" d="M39.2 137.7H46.3V139.0H39.2z"/>
<path fill="#90c0e8" d="M46.3 137.7H53.5V139.0H46.3zM60.6 140.3H67.8V141.6H60.6zM89.2 148.2H96.3V149.5H89.2zM89.2 150.8H96.3V152.1H89.2zM82.0 152.1H89.2V153.4H82.0zM96.3 152.1H103.5V153.4H96.3zM60.6 157.3H67.8V158.6H60.6zM110.6 158.6H117.7V159.9H110.6zM60.6 167.7H67.8V169.0H60.6zM60.6 170.3H67.8V171.6H60.6zM53.5 172.9H60.6V174.2H53.5zM124.9 182.1H132.0V183.4H124.9zM60.6 184.7H67.8V186.0H60.6zM96.3 184.7H103.5V186.0H96.3zM96.3 186.0H103.5V187.3H96.3zM53.5 188.6H60.6V189.9H53.5zM132.0 193.8H139.2V195.1H132.0zM82.0 195.1H89.2V196.4H82.0zM89.2 196.4H96.3V197.7H89.2zM74.9 197.7H82.0V199.0H74.9zM124.9 205.6H132.0V206.9H124.9zM82.0 206.9H89.2V208.2H82.0zM67.8 216.0H74.9V217.3H67.8zM39.2 222.5H46.3V223.8H39.2zM53.5 230.4H60.6V231.7H53.5zM67.8 230.4H74.9V231.7H67.8zM82.0 230.4H89.2V231.7H82.0zM60.6 233.0H67.8V234.3H60.6zM117.7 233.0H124.9V234.3H117.7zM82.0 235.6H89.2V236.9H82.0zM103.5 261.7H110.6V263.0H103.5z"/>
<path fill="#882838" d="M124.9 137.7H132.0V139.0H124.9zM132.0 170.3H139.2V171.6H132.0zM96.3 244.7H103.5V246.0H96.3z"/>
<path fill="#d07070" d="M53.5 139.0H60.6V140.3H53.5zM53.5 163.8H60.6V165.1H53.5zM39.2 165.1H46.3V166.4H39.2z"/>
<path fill="#a0d0e8" d="M67.8 139.0H74.9V140.3H67.8zM96.3 141.6H103.5V142.9H96.3zM96.3 142.9H103.5V144.2H96.3zM74.9 144.2H82.0V145.5H74.9zM82.0 148.2H89.2V149.5H82.0zM46.3 157.3H53.5V158.6H46.3zM67.8 165.1H74.9V166.4H67.8zM60.6 166.4H67.8V167.7H60.6zM60.6 169.0H67.8V170.3H60.6zM89.2 191.2H96.3V192.5H89.2zM39.2 213.4H46.3V214.7H39.2zM103.5 227.8H110.6V229.1H103.5zM132.0 227.8H139.2V229.1H132.0zM82.0 233.0H89.2V234.3H82.0zM53.5 240.8H60.6V242.1H53.5zM60.6 247.3H67.8V248.6H60.6zM132.0 249.9H139.2V251.2H132.0zM103.5 255.2H110.6V256.5H103.5zM82.0 256.5H89.2V257.8H82.0zM46.3 257.8H53.5V259.1H46.3zM74.9 259.1H82.0V260.4H74.9z"/>
<path fill="#98c0d8" d="M89.2 140.3H96.3V141.6H89.2zM39.2 156.0H46.3V157.3H39.2zM39.2 200.4H46.3V201.7H39.2zM46.3 208.2H53.5V209.5H46.3z"/>
<path fill="#982830" d="M110.6 140.3H117.7V141.6H110.6zM117.7 148.2H124.9V149.5H117.7z"/>
<path fill="#78b8e0" d="M39.2 141.6H46.3V142.9H39.2zM46.3 158.6H53.5V159.9H46.3zM39.2 172.9H46.3V174.2H39.2zM96.3 183.4H103.5V184.7H96.3zM60.6 193.8H67.8V195.1H60.6z"/>
<path fill="#801018" d="M110.6 141.6H117.7V142.9H110.6zM110.6 142.9H117.7V144.2H110.6zM132.0 172.9H139.2V174.2H132.0zM117.7 179.5H124.9V180.8H117.7zM110.6 195.1H117.7V196.4H110.6zM110.6 196.4H117.7V197.7H110.6zM110.6 199.0H117.7V200.4H110.6zM110.6 201.7H117.7V203.0H110.6zM60.6 222.5H67.8V223.8H60.6zM139.2 227.8H146.3V229.1H139.2zM124.9 239.5H132.0V240.8H124.9zM124.9 240.8H132.0V242.1H124.9zM139.2 246.0H146.3V247.3H139.2z"/>
<path fill="#b86068" d="M53.5 142.9H60.6V144.2H53.5zM110.6 161.2H117.7V162.5H110.6zM60.6 187.3H67.8V188.6H60.6zM103.5 193.8H110.6V195.1H103.5zM89.2 256.5H96.3V257.8H89.2z"/>
<path fill="#90b8d8" d="M74.9 142.9H82.0V144.2H74.9zM96.3 195.1H103.5V196.4H96.3z"/>
<path fill="#80a0c0" d="M103.5 142.9H110.6V144.2H103.5zM132.0 186.0H139.2V187.3H132.0zM132.0 235.6H139.2V236.9H132.0z"/>
<path fill="#884058" d="M103.5 144.2H110.6V145.5H103.5zM74.9 174.2H82.0V175.6H74.9z"/>
<path fill="#680818" d="M110.6 144.2H117.7V145.5H110.6zM110.6 191.2H117.7V192.5H110.6zM110.6 229.1H117.7V230.4H110.6z"/>
<path fill="#b0b8c0" d="M117.7 144.2H124.9V145.5H117.7z"/>
<path fill="#903038" d="M110.6 145.5H117.7V146.8H110.6zM139.2 179.5H146.3V180.8H139.2zM110.6 187.3H117.7V188.6H110.6z"/>
<path fill="#e8c8c8" d="M110.6 146.8H117.7V148.2H110.6zM117.7 152.1H124.9V153.4H117.7z"/>
<path fill="#c08878" d="M117.7 146.8H124.9V148.2H117.7z"/>
<path fill="#4888c0" d="M139.2 146.8H146.3V148.2H139.2zM74.9 200.4H82.0V201.7H74.9zM39.2 235.6H46.3V236.9H39.2z"/>
<path fill="#d8c0c0" d="M53.5 148.2H60.6V149.5H53.5zM103.5 222.5H110.6V223.8H103.5z"/>
<path fill="#e8d0c0" d="M110.6 148.2H117.7V149.5H110.6z"/>
<path fill="#984858" d="M53.5 149.5H60.6V150.8H53.5z"/>
<path fill="#c8c8d8" d="M67.8 149.5H74.9V150.8H67.8zM39.2 166.4H46.3V167.7H39.2zM103.5 184.7H110.6V186.0H103.5zM67.8 201.7H74.9V203.0H67.8zM96.3 260.4H103.5V261.7H96.3z"/>
<path fill="#5890c8" d="M74.9 149.5H82.0V150.8H74.9zM53.5 152.1H60.6V153.4H53.5zM74.9 240.8H82.0V242.1H74.9z"/>
<path fill="#88b0d8" d="M110.6 149.5H117.7V150.8H110.6zM46.3 216.0H53.5V217.3H46.3z"/>
<path fill="#901820" d="M117.7 149.5H124.9V150.8H117.7zM139.2 165.1H146.3V166.4H139.2zM139.2 167.7H146.3V169.0H139.2zM110.6 200.4H117.7V201.7H110.6zM60.6 218.6H67.8V219.9H60.6zM117.7 225.1H124.9V226.5H117.7z"/>
<path fill="#8098c0" d="M53.5 150.8H60.6V152.1H53.5zM60.6 188.6H67.8V189.9H60.6zM139.2 222.5H146.3V223.8H139.2z"/>
<path fill="#683850" d="M60.6 150.8H67.8V152.1H60.6z"/>
<path fill="#98c0e8" d="M96.3 150.8H103.5V152.1H96.3zM103.5 242.1H110.6V243.4H103.5zM60.6 251.2H67.8V252.6H60.6z"/>
<path fill="#983038" d="M117.7 150.8H124.9V152.1H117.7z"/>
<path fill="#98a8c0" d="M60.6 152.1H67.8V153.4H60.6zM124.9 172.9H132.0V174.2H124.9z"/>
<path fill="#5088c0" d="M74.9 152.1H82.0V153.4H74.9zM89.2 159.9H96.3V161.2H89.2z"/>
<path fill="#b8b8c8" d="M124.9 152.1H132.0V153.4H124.9z"/>
<path fill="#f0e8e8" d="M132.0 152.1H139.2V153.4H132.0zM139.2 193.8H146.3V195.1H139.2zM96.3 222.5H103.5V223.8H96.3z"/>
<path fill="#a8d0f0" d="M46.3 153.4H53.5V154.7H46.3zM67.8 223.8H74.9V225.1H67.8z"/>
<path fill="#d0c8c0" d="M60.6 153.4H67.8V154.7H60.6z"/>
<path fill="#e0c0b8" d="M89.2 153.4H96.3V154.7H89.2z"/>
<path fill="#985058" d="M124.9 153.4H132.0V154.7H124.9zM67.8 219.9H74.9V221.2H67.8zM103.5 221.2H110.6V222.5H103.5z"/>
<path fill="#d0c0d0" d="M96.3 156.0H103.5V157.3H96.3z"/>
<path fill="#b0c8d8" d="M74.9 157.3H82.0V158.6H74.9z"/>
<path fill="#b05860" d="M96.3 157.3H103.5V158.6H96.3zM132.0 260.4H139.2V261.7H132.0z"/>
<path fill="#904858" d="M39.2 158.6H46.3V159.9H39.2zM103.5 172.9H110.6V174.2H103.5zM39.2 257.8H46.3V259.1H39.2z"/>
<path fill="#884858" d="M67.8 158.6H74.9V159.9H67.8zM124.9 171.6H132.0V172.9H124.9zM67.8 213.4H74.9V214.7H67.8zM89.2 248.6H96.3V249.9H89.2z"/>
<path fill="#5898d0" d="M74.9 158.6H82.0V159.9H74.9zM53.5 159.9H60.6V161.2H53.5zM96.3 163.8H103.5V165.1H96.3zM132.0 183.4H139.2V184.7H132.0zM74.9 201.7H82.0V203.0H74.9zM124.9 204.3H132.0V205.6H124.9zM39.2 223.8H46.3V225.1H39.2zM46.3 230.4H53.5V231.7H46.3zM67.8 238.2H74.9V239.5H67.8zM117.7 238.2H124.9V239.5H117.7zM67.8 239.5H74.9V240.8H67.8zM53.5 248.6H60.6V249.9H53.5zM39.2 252.6H46.3V253.9H39.2zM53.5 253.9H60.6V255.2H53.5z"/>
<path fill="#d8b8a8" d="M103.5 158.6H110.6V159.9H103.5z"/>
<path fill="#b0b8d0" d="M39.2 159.9H46.3V161.2H39.2zM67.8 204.3H74.9V205.6H67.8zM67.8 214.7H74.9V216.0H67.8zM67.8 221.2H74.9V222.5H67.8zM117.7 248.6H124.9V249.9H117.7z"/>
<path fill="#d0e8f8" d="M60.6 159.9H67.8V161.2H60.6zM117.7 165.1H124.9V166.4H117.7zM110.6 172.9H117.7V174.2H110.6zM46.3 264.3H53.5V265.6H46.3zM132.0 264.3H139.2V265.6H132.0z"/>
<path fill="#983040" d="M139.2 161.2H146.3V162.5H139.2zM139.2 223.8H146.3V225.1H139.2zM117.7 227.8H124.9V229.1H117.7zM132.0 234.3H139.2V235.6H132.0z"/>
<path fill="#800818" d="M139.2 162.5H146.3V163.8H139.2z"/>
<path fill="#60a0d8" d="M82.0 163.8H89.2V165.1H82.0zM53.5 179.5H60.6V180.8H53.5zM53.5 180.8H60.6V182.1H53.5zM53.5 182.1H60.6V183.4H53.5zM53.5 183.4H60.6V184.7H53.5zM46.3 229.1H53.5V230.4H46.3zM46.3 231.7H53.5V233.0H46.3z"/>
<path fill="#700818" d="M139.2 163.8H146.3V165.1H139.2zM110.6 189.9H117.7V191.2H110.6zM117.7 201.7H124.9V203.0H117.7zM110.6 230.4H117.7V231.7H110.6zM124.9 238.2H132.0V239.5H124.9zM124.9 242.1H132.0V243.4H124.9z"/>
<path fill="#d8e0f0" d="M74.9 165.1H82.0V166.4H74.9z"/>
<path fill="#981820" d="M139.2 166.4H146.3V167.7H139.2zM139.2 169.0H146.3V170.3H139.2zM132.0 175.6H139.2V176.9H132.0zM139.2 182.1H146.3V183.4H139.2zM103.5 187.3H110.6V188.6H103.5zM110.6 193.8H117.7V195.1H110.6zM139.2 242.1H146.3V243.4H139.2zM96.3 246.0H103.5V247.3H96.3zM96.3 247.3H103.5V248.6H96.3z"/>
<path fill="#90c8e8" d="M103.5 169.0H110.6V170.3H103.5zM46.3 183.4H53.5V184.7H46.3zM89.2 208.2H96.3V209.5H89.2zM124.9 219.9H132.0V221.2H124.9zM39.2 221.2H46.3V222.5H39.2zM82.0 236.9H89.2V238.2H82.0zM60.6 239.5H67.8V240.8H60.6zM46.3 242.1H53.5V243.4H46.3zM46.3 256.5H53.5V257.8H46.3zM39.2 264.3H46.3V265.6H39.2z"/>
<path fill="#e8d0c8" d="M46.3 170.3H53.5V171.6H46.3z"/>
<path fill="#c87070" d="M53.5 170.3H60.6V171.6H53.5z"/>
<path fill="#e8e8f0" d="M74.9 170.3H82.0V171.6H74.9zM132.0 243.4H139.2V244.7H132.0zM132.0 246.0H139.2V247.3H132.0z"/>
<path fill="#e0e8f8" d="M117.7 170.3H124.9V171.6H117.7zM96.3 204.3H103.5V205.6H96.3z"/>
<path fill="#901020" d="M139.2 170.3H146.3V171.6H139.2zM110.6 192.5H117.7V193.8H110.6zM117.7 204.3H124.9V205.6H117.7zM117.7 226.5H124.9V227.8H117.7zM139.2 226.5H146.3V227.8H139.2zM139.2 231.7H146.3V233.0H139.2zM124.9 243.4H132.0V244.7H124.9z"/>
<path fill="#d87068" d="M46.3 171.6H53.5V172.9H46.3z"/>
<path fill="#881020" d="M132.0 171.6H139.2V172.9H132.0zM110.6 178.2H117.7V179.5H110.6zM139.2 180.8H146.3V182.1H139.2zM110.6 188.6H117.7V189.9H110.6zM139.2 225.1H146.3V226.5H139.2zM139.2 234.3H146.3V235.6H139.2zM139.2 247.3H146.3V248.6H139.2z"/>
<path fill="#802838" d="M139.2 171.6H146.3V172.9H139.2zM60.6 216.0H67.8V217.3H60.6zM139.2 235.6H146.3V236.9H139.2z"/>
<path fill="#d8c8d0" d="M139.2 172.9H146.3V174.2H139.2zM110.6 222.5H117.7V223.8H110.6z"/>
<path fill="#c8e8f0" d="M96.3 174.2H103.5V175.6H96.3zM96.3 203.0H103.5V204.3H96.3zM132.0 263.0H139.2V264.3H132.0z"/>
<path fill="#a01820" d="M132.0 174.2H139.2V175.6H132.0zM132.0 233.0H146.3V234.3H132.0zM96.3 248.6H103.5V249.9H96.3zM96.3 249.9H103.5V251.2H96.3z"/>
<path fill="#e0d0d8" d="M110.6 175.6H117.7V176.9H110.6zM110.6 219.9H117.7V221.2H110.6zM89.2 226.5H96.3V227.8H89.2z"/>
<path fill="#d0c8c8" d="M139.2 175.6H146.3V176.9H139.2zM96.3 243.4H103.5V244.7H96.3z"/>
<path fill="#983840" d="M110.6 176.9H117.7V178.2H110.6z"/>
<path fill="#601028" d="M117.7 176.9H124.9V178.2H117.7zM110.6 204.3H117.7V205.6H110.6z"/>
<path fill="#883038" d="M132.0 176.9H139.2V178.2H132.0zM132.0 230.4H139.2V231.7H132.0zM139.2 248.6H146.3V249.9H139.2z"/>
<path fill="#d0a8a0" d="M82.0 178.2H89.2V179.5H82.0z"/>
<path fill="#d87870" d="M89.2 178.2H96.3V179.5H89.2zM117.7 249.9H124.9V251.2H117.7z"/>
<path fill="#780818" d="M117.7 178.2H124.9V179.5H117.7zM110.6 197.7H117.7V199.0H110.6zM110.6 203.0H124.9V204.3H110.6zM60.6 217.3H67.8V218.6H60.6zM60.6 219.9H67.8V221.2H60.6zM60.6 221.2H67.8V222.5H60.6zM139.2 230.4H146.3V231.7H139.2zM132.0 231.7H139.2V233.0H132.0zM139.2 240.8H146.3V242.1H139.2zM139.2 244.7H146.3V246.0H139.2z"/>
<path fill="#c0b8c8" d="M139.2 178.2H146.3V179.5H139.2z"/>
<path fill="#6090b8" d="M82.0 179.5H89.2V180.8H82.0z"/>
<path fill="#f0c0b8" d="M89.2 179.5H96.3V180.8H89.2z"/>
<path fill="#881018" d="M110.6 179.5H117.7V180.8H110.6zM139.2 229.1H146.3V230.4H139.2zM139.2 243.4H146.3V244.7H139.2z"/>
<path fill="#e07870" d="M89.2 180.8H96.3V182.1H89.2z"/>
<path fill="#a03840" d="M110.6 180.8H117.7V182.1H110.6zM117.7 223.8H124.9V225.1H117.7zM124.9 236.9H132.0V238.2H124.9z"/>
<path fill="#b03838" d="M117.7 180.8H124.9V182.1H117.7z"/>
<path fill="#a0b0d0" d="M67.8 182.1H74.9V183.4H67.8z"/>
<path fill="#a8b0d0" d="M110.6 182.1H117.7V183.4H110.6z"/>
<path fill="#f0c0b0" d="M117.7 182.1H124.9V183.4H117.7z"/>
<path fill="#b85860" d="M67.8 183.4H74.9V184.7H67.8zM110.6 221.2H117.7V222.5H110.6z"/>
<path fill="#f0e0d0" d="M117.7 183.4H124.9V184.7H117.7zM53.5 204.3H60.6V205.6H53.5zM110.6 240.8H117.7V242.1H110.6z"/>
<path fill="#b04040" d="M139.2 183.4H146.3V184.7H139.2z"/>
<path fill="#b03840" d="M103.5 186.0H110.6V187.3H103.5z"/>
<path fill="#c0c8d0" d="M110.6 186.0H117.7V187.3H110.6zM103.5 189.9H110.6V191.2H103.5zM139.2 249.9H146.3V251.2H139.2zM82.0 257.8H89.2V259.1H82.0zM132.0 261.7H139.2V263.0H132.0z"/>
<path fill="#e08070" d="M124.9 187.3H132.0V188.6H124.9zM132.0 217.3H139.2V218.6H132.0z"/>
<path fill="#804858" d="M132.0 187.3H139.2V188.6H132.0z"/>
<path fill="#5088c8" d="M67.8 188.6H74.9V189.9H67.8z"/>
<path fill="#a8c8d8" d="M82.0 188.6H89.2V189.9H82.0z"/>
<path fill="#903040" d="M103.5 188.6H110.6V189.9H103.5zM110.6 227.8H117.7V229.1H110.6z"/>
<path fill="#a8d0e0" d="M96.3 189.9H103.5V191.2H96.3zM89.2 230.4H96.3V231.7H89.2z"/>
<path fill="#c06868" d="M89.2 193.8H96.3V195.1H89.2zM67.8 195.1H74.9V196.4H67.8zM124.9 200.4H132.0V201.7H124.9zM82.0 248.6H89.2V249.9H82.0z"/>
<path fill="#d8d0c8" d="M60.6 196.4H67.8V197.7H60.6z"/>
<path fill="#a0b0c8" d="M46.3 197.7H53.5V199.0H46.3zM67.8 212.1H74.9V213.4H67.8zM67.8 218.6H74.9V219.9H67.8z"/>
<path fill="#703850" d="M82.0 197.7H89.2V199.0H82.0z"/>
<path fill="#f0f0e8" d="M139.2 197.7H146.3V199.0H139.2zM132.0 205.6H139.2V206.9H132.0zM46.3 252.6H53.5V253.9H46.3z"/>
<path fill="#781018" d="M117.7 200.4H124.9V201.7H117.7z"/>
<path fill="#5090d0" d="M74.9 203.0H82.0V204.3H74.9zM74.9 204.3H82.0V205.6H74.9zM53.5 246.0H60.6V247.3H53.5z"/>
<path fill="#e8f0e8" d="M103.5 204.3H110.6V205.6H103.5z"/>
<path fill="#403860" d="M110.6 205.6H117.7V206.9H110.6z"/>
<path fill="#b03030" d="M117.7 205.6H124.9V206.9H117.7z"/>
<path fill="#f0c8b0" d="M53.5 206.9H60.6V208.2H53.5zM110.6 238.2H117.7V239.5H110.6z"/>
<path fill="#c8a090" d="M110.6 206.9H117.7V208.2H110.6z"/>
<path fill="#70a0d0" d="M103.5 218.6H110.6V219.9H103.5z"/>
<path fill="#f0d8d8" d="M132.0 218.6H139.2V219.9H132.0z"/>
<path fill="#4878b8" d="M46.3 219.9H53.5V221.2H46.3z"/>
<path fill="#70a0c8" d="M96.3 219.9H103.5V221.2H96.3z"/>
<path fill="#a03040" d="M60.6 223.8H67.8V225.1H60.6z"/>
<path fill="#80b0e0" d="M74.9 225.1H82.0V226.5H74.9z"/>
<path fill="#e07868" d="M89.2 225.1H96.3V226.5H89.2z"/>
<path fill="#a0b8d0" d="M96.3 225.1H103.5V226.5H96.3zM96.3 227.8H103.5V229.1H96.3zM96.3 255.2H103.5V256.5H96.3z"/>
<path fill="#804058" d="M67.8 226.5H74.9V227.8H67.8z"/>
<path fill="#b0d0e0" d="M89.2 227.8H96.3V229.1H89.2z"/>
<path fill="#b06068" d="M124.9 227.8H132.0V229.1H124.9z"/>
<path fill="#88c0e8" d="M74.9 230.4H82.0V231.7H74.9z"/>
<path fill="#405880" d="M124.9 230.4H132.0V231.7H124.9z"/>
<path fill="#681028" d="M110.6 231.7H117.7V233.0H110.6z"/>
<path fill="#404878" d="M110.6 233.0H117.7V234.3H110.6z"/>
<path fill="#3878c0" d="M39.2 234.3H46.3V235.6H39.2z"/>
<path fill="#c8c0d0" d="M46.3 234.3H53.5V235.6H46.3z"/>
<path fill="#d8d8d0" d="M89.2 234.3H96.3V235.6H89.2z"/>
<path fill="#c86868" d="M46.3 235.6H53.5V236.9H46.3z"/>
<path fill="#68a0c8" d="M103.5 235.6H110.6V236.9H103.5z"/>
<path fill="#c8e0e8" d="M96.3 236.9H103.5V238.2H96.3z"/>
<path fill="#e8c0b8" d="M139.2 236.9H146.3V238.2H139.2z"/>
<path fill="#e09880" d="M139.2 238.2H146.3V239.5H139.2z"/>
<path fill="#802028" d="M139.2 239.5H146.3V240.8H139.2z"/>
<path fill="#d06868" d="M117.7 240.8H124.9V242.1H117.7z"/>
<path fill="#e0b8b0" d="M117.7 242.1H124.9V243.4H117.7z"/>
<path fill="#4080c0" d="M39.2 243.4H46.3V244.7H39.2z"/>
<path fill="#4890c8" d="M53.5 244.7H60.6V246.0H53.5z"/>
<path fill="#a03038" d="M124.9 244.7H132.0V246.0H124.9zM96.3 251.2H103.5V252.6H96.3z"/>
<path fill="#783850" d="M39.2 246.0H46.3V247.3H39.2z"/>
<path fill="#586888" d="M103.5 247.3H110.6V248.6H103.5z"/>
<path fill="#d8c8b8" d="M110.6 247.3H117.7V248.6H110.6z"/>
<path fill="#d0c8d8" d="M117.7 251.2H124.9V252.6H117.7zM82.0 260.4H89.2V261.7H82.0z"/>
<path fill="#f0f0f8" d="M139.2 251.2H146.3V252.6H139.2z"/>
<path fill="#784058" d="M74.9 255.2H82.0V256.5H74.9z"/>
<path fill="#90a0c8" d="M89.2 255.2H96.3V256.5H89.2z"/>
<path fill="#e0e0d8" d="M60.6 256.5H67.8V257.8H60.6z"/>
<path fill="#804050" d="M117.7 256.5H124.9V257.8H117.7z"/>
<path fill="#a05060" d="M82.0 259.1H89.2V260.4H82.0z"/>
<path fill="#a85058" d="M96.3 259.1H103.5V260.4H96.3z"/>
<path fill="#c8b8c0" d="M132.0 259.1H139.2V260.4H132.0z"/>
<path fill="#c07070" d="M46.3 260.4H53.5V261.7H46.3z"/>
<path fill="#e8b0a0" d="M67.8 263.0H74.9V264.3H67.8z"/>
<path fill="#5880b8" d="M89.2 263.0H96.3V264.3H89.2z"/>
<path fill="#5878a8" d="M124.9 263.0H132.0V264.3H124.9z"/>
<path fill="#601830" d="M89.2 264.3H96.3V265.6H89.2z"/>
<path fill="#20d0b0" d="M29.8 56.8H36.3V58.1H29.8zM29.8 58.1H36.3V59.4H29.8zM29.8 65.9H36.3V67.2H29.8zM29.8 73.8H36.3V75.1H29.8zM29.8 75.1H36.3V76.4H29.8zM29.8 76.4H36.3V77.7H29.8zM29.8 77.7H36.3V79.0H29.8zM29.8 79.0H36.3V80.3H29.8zM29.8 89.4H36.3V90.7H29.8zM29.8 90.7H36.3V92.0H29.8zM29.8 92.0H36.3V93.3H29.8zM29.8 93.3H36.3V94.6H29.8zM29.8 94.6H36.3V96.0H29.8zM29.8 96.0H36.3V97.3H29.8zM29.8 97.3H36.3V98.6H29.8zM29.8 98.6H36.3V99.9H29.8zM29.8 99.9H36.3V101.2H29.8zM29.8 101.2H36.3V102.5H29.8zM29.8 102.5H36.3V103.8H29.8zM29.8 103.8H36.3V105.1H29.8zM29.8 105.1H36.3V106.4H29.8zM29.8 106.4H36.3V107.7H29.8zM29.8 107.7H36.3V109.0H29.8zM29.8 109.0H36.3V110.3H29.8zM29.8 110.3H36.3V111.6H29.8zM29.8 111.6H36.3V112.9H29.8zM29.8 127.3H36.3V128.6H29.8zM29.8 128.6H36.3V129.9H29.8zM29.8 129.9H36.3V131.2H29.8zM29.8 131.2H36.3V132.5H29.8zM29.8 132.5H36.3V133.8H29.8zM29.8 159.9H36.3V161.2H29.8z"/>
<path fill="#48c0b8" d="M29.8 59.4H36.3V60.7H29.8zM29.8 84.2H36.3V85.5H29.8zM29.8 133.8H36.3V135.1H29.8zM29.8 158.6H36.3V159.9H29.8zM29.8 161.2H36.3V162.5H29.8zM29.8 182.1H36.3V183.4H29.8zM29.8 183.4H36.3V184.7H29.8zM29.8 199.0H36.3V200.4H29.8zM29.8 200.4H36.3V201.7H29.8zM29.8 256.5H36.3V257.8H29.8zM29.8 264.3H36.3V265.6H29.8z"/>
<path fill="#a898c8" d="M29.8 60.7H36.3V62.0H29.8zM29.8 180.8H36.3V182.1H29.8zM29.8 201.7H36.3V203.0H29.8zM29.8 204.3H36.3V205.6H29.8zM29.8 225.1H36.3V226.5H29.8zM29.8 227.8H36.3V229.1H29.8zM29.8 255.2H36.3V256.5H29.8z"/>
<path fill="#68c8c0" d="M29.8 62.0H36.3V63.3H29.8zM29.8 253.9H36.3V255.2H29.8z"/>
<path fill="#78e8d0" d="M29.8 63.3H36.3V64.6H29.8zM29.8 81.6H36.3V82.9H29.8zM29.8 119.4H36.3V120.7H29.8zM29.8 247.3H36.3V248.6H29.8z"/>
<path fill="#40d8c0" d="M29.8 64.6H36.3V65.9H29.8zM29.8 80.3H36.3V81.6H29.8zM29.8 82.9H36.3V84.2H29.8zM29.8 112.9H36.3V114.2H29.8zM29.8 120.7H36.3V122.1H29.8zM29.8 126.0H36.3V127.3H29.8zM29.8 248.6H36.3V249.9H29.8zM29.8 257.8H36.3V259.1H29.8z"/>
<path fill="#48d0c0" d="M29.8 67.2H36.3V68.5H29.8zM29.8 72.5H36.3V73.8H29.8zM29.8 88.1H36.3V89.4H29.8zM29.8 122.1H36.3V123.4H29.8zM29.8 249.9H36.3V251.2H29.8z"/>
<path fill="#c0d8e8" d="M29.8 68.5H36.3V69.9H29.8zM29.8 71.2H36.3V72.5H29.8zM29.8 116.8H36.3V118.1H29.8zM29.8 123.4H36.3V124.7H29.8zM29.8 251.2H36.3V252.6H29.8z"/>
<path fill="#d0e8f0" d="M29.8 69.8H36.3V71.2H29.8z"/>
<path fill="#d098d0" d="M29.8 85.5H36.3V86.8H29.8zM29.8 157.3H36.3V158.6H29.8zM29.8 170.3H36.3V171.6H29.8zM29.8 184.7H36.3V186.0H29.8zM29.8 209.5H36.3V210.8H29.8zM29.8 263.0H36.3V264.3H29.8z"/>
<path fill="#d0c0e0" d="M29.8 86.8H36.3V88.1H29.8zM29.8 156.0H36.3V157.3H29.8zM29.8 178.2H36.3V179.5H29.8zM29.8 186.0H36.3V187.3H29.8zM29.8 210.8H36.3V212.1H29.8zM29.8 222.5H36.3V223.8H29.8z"/>
<path fill="#90f0d8" d="M29.8 114.2H36.3V115.5H29.8zM29.8 216.0H36.3V217.3H29.8z"/>
<path fill="#c0f0e8" d="M29.8 115.5H36.3V116.8H29.8z"/>
<path fill="#68d8c8" d="M29.8 118.1H36.3V119.4H29.8zM29.8 214.7H36.3V216.0H29.8z"/>
<path fill="#a0e8e0" d="M29.8 124.7H36.3V126.0H29.8zM29.8 244.7H36.3V246.0H29.8zM29.8 252.6H36.3V253.9H29.8z"/>
<path fill="#d080c8" d="M29.8 135.1H36.3V136.4H29.8zM29.8 137.7H36.3V139.0H29.8zM29.8 162.5H36.3V163.8H29.8zM29.8 172.9H36.3V174.2H29.8zM29.8 197.7H36.3V199.0H29.8zM29.8 230.4H36.3V231.7H29.8zM29.8 238.2H36.3V239.5H29.8z"/>
<path fill="#ff70d0" d="M29.8 136.4H36.3V137.7H29.8zM29.8 163.8H36.3V165.1H29.8zM29.8 165.1H36.3V166.4H29.8zM29.8 166.4H36.3V167.7H29.8zM29.8 231.7H36.3V233.0H29.8zM29.8 233.0H36.3V234.3H29.8zM29.8 234.3H36.3V235.6H29.8zM29.8 235.6H36.3V236.9H29.8zM29.8 236.9H36.3V238.2H29.8z"/>
<path fill="#78c0c8" d="M29.8 139.0H36.3V140.3H29.8zM29.8 179.5H36.3V180.8H29.8zM29.8 205.6H36.3V206.9H29.8zM29.8 208.2H36.3V209.5H29.8zM29.8 223.8H36.3V225.1H29.8z"/>
<path fill="#a8d0d8" d="M29.8 140.3H36.3V141.6H29.8zM29.8 153.4H36.3V154.7H29.8zM29.8 206.9H36.3V208.2H29.8zM29.8 213.4H36.3V214.7H29.8z"/>
<path fill="#78d0d0" d="M29.8 141.6H36.3V142.9H29.8zM29.8 152.1H36.3V153.4H29.8zM29.8 154.7H36.3V156.0H29.8zM29.8 187.3H36.3V188.6H29.8zM29.8 212.1H36.3V213.4H29.8z"/>
<path fill="#d0d0e8" d="M29.8 142.9H36.3V144.2H29.8zM29.8 150.8H36.3V152.1H29.8zM29.8 188.6H36.3V189.9H29.8zM29.8 242.1H36.3V243.4H29.8z"/>
<path fill="#ffc0f0" d="M29.8 144.2H36.3V145.5H29.8zM29.8 146.8H36.3V148.2H29.8zM29.8 192.5H36.3V193.8H29.8z"/>
<path fill="#ff98e0" d="M29.8 145.5H36.3V146.8H29.8zM29.8 176.9H36.3V178.2H29.8zM29.8 193.8H36.3V195.1H29.8zM29.8 221.2H36.3V222.5H29.8z"/>
<path fill="#ffd0f8" d="M29.8 148.2H36.3V149.5H29.8zM29.8 149.5H36.3V150.8H29.8zM29.8 189.9H36.3V191.2H29.8zM29.8 191.2H36.3V192.5H29.8z"/>
<path fill="#ff80d8" d="M29.8 167.7H36.3V169.0H29.8zM29.8 174.2H36.3V175.6H29.8zM29.8 196.4H36.3V197.7H29.8z"/>
<path fill="#ffa8e8" d="M29.8 169.0H36.3V170.3H29.8zM29.8 175.6H36.3V176.9H29.8zM29.8 195.1H36.3V196.4H29.8zM29.8 219.9H36.3V221.2H29.8zM29.8 261.7H36.3V263.0H29.8z"/>
<path fill="#78a8c0" d="M29.8 171.6H36.3V172.9H29.8zM29.8 203.0H36.3V204.3H29.8zM29.8 226.5H36.3V227.8H29.8zM29.8 229.1H36.3V230.4H29.8zM29.8 239.5H36.3V240.8H29.8z"/>
<path fill="#c0d8e0" d="M29.8 217.3H36.3V218.6H29.8z"/>
<path fill="#f0a0e0" d="M29.8 218.6H36.3V219.9H29.8zM29.8 260.4H36.3V261.7H29.8z"/>
<path fill="#c0a0d0" d="M29.8 240.8H36.3V242.1H29.8z"/>
<path fill="#e0e0f0" d="M29.8 243.4H36.3V244.7H29.8z"/>
<path fill="#58e0c8" d="M29.8 246.0H36.3V247.3H29.8z"/>
<path fill="#a0d0d8" d="M29.8 259.1H36.3V260.4H29.8z"/>
<path fill="#ffe8e8" d="M22.3 56.8H28.2V58.1H22.3zM22.3 82.9H28.2V84.2H22.3zM22.3 85.5H28.2V86.8H22.3zM22.3 98.6H28.2V99.9H22.3zM22.3 107.7H28.2V109.0H22.3zM22.3 110.3H28.2V111.6H22.3zM22.3 196.4H28.2V197.7H22.3zM22.3 221.2H28.2V222.5H22.3zM22.3 230.4H28.2V231.7H22.3z"/>
<path fill="#f05870" d="M22.3 58.1H28.2V59.4H22.3zM22.3 84.2H28.2V85.5H22.3zM22.3 97.3H28.2V98.6H22.3zM22.3 109.0H28.2V110.3H22.3zM22.3 166.4H28.2V167.7H22.3zM22.3 186.0H28.2V187.3H22.3zM22.3 210.8H28.2V212.1H22.3zM22.3 213.4H28.2V214.7H22.3zM22.3 225.1H28.2V226.5H22.3zM22.3 244.7H28.2V246.0H22.3z"/>
<path fill="#f8d8e0" d="M22.3 59.4H28.2V60.7H22.3zM22.3 92.0H28.2V93.3H22.3zM22.3 96.0H28.2V97.3H22.3zM22.3 153.4H28.2V154.7H22.3zM22.3 157.3H28.2V158.6H22.3zM22.3 165.1H28.2V166.4H22.3zM22.3 167.7H28.2V169.0H22.3zM22.3 184.7H28.2V186.0H22.3zM22.3 187.3H28.2V188.6H22.3zM22.3 189.9H28.2V191.2H22.3zM22.3 201.7H28.2V203.0H22.3zM22.3 204.3H28.2V205.6H22.3z"/>
<path fill="#f8b0b8" d="M22.3 60.7H28.2V62.0H22.3zM22.3 79.0H28.2V80.3H22.3zM22.3 90.7H28.2V92.0H22.3zM22.3 118.1H28.2V119.4H22.3zM22.3 188.6H28.2V189.9H22.3zM22.3 236.9H28.2V238.2H22.3zM22.3 257.8H28.2V259.1H22.3z"/>
<path fill="#fff0f0" d="M22.3 62.0H28.2V63.3H22.3zM22.3 80.3H28.2V81.6H22.3zM22.3 89.4H28.2V90.7H22.3zM22.3 116.8H28.2V118.1H22.3zM22.3 131.2H28.2V132.5H22.3zM22.3 178.2H28.2V179.5H22.3zM22.3 180.8H28.2V182.1H22.3zM22.3 235.6H28.2V236.9H22.3zM22.3 253.9H28.2V255.2H22.3zM22.3 256.5H28.2V257.8H22.3zM22.3 259.1H28.2V260.4H22.3z"/>
<path fill="#ffffff" d="M22.3 63.3H28.2V64.6H22.3zM22.3 64.6H28.2V65.9H22.3zM22.3 65.9H28.2V67.2H22.3zM22.3 67.2H28.2V68.5H22.3zM22.3 68.5H28.2V69.9H22.3zM22.3 69.8H28.2V71.2H22.3zM22.3 81.6H28.2V82.9H22.3zM22.3 86.8H28.2V88.1H22.3zM22.3 88.1H28.2V89.4H22.3zM22.3 99.9H28.2V101.2H22.3zM22.3 101.2H28.2V102.5H22.3zM22.3 106.4H28.2V107.7H22.3zM22.3 111.6H28.2V112.9H22.3zM22.3 112.9H28.2V114.2H22.3zM22.3 114.2H28.2V115.5H22.3zM22.3 115.5H28.2V116.8H22.3zM22.3 126.0H28.2V127.3H22.3zM22.3 127.3H28.2V128.6H22.3zM22.3 128.6H28.2V129.9H22.3zM22.3 129.9H28.2V131.2H22.3zM22.3 141.6H28.2V142.9H22.3zM22.3 142.9H28.2V144.2H22.3zM22.3 144.2H28.2V145.5H22.3zM22.3 145.5H28.2V146.8H22.3zM22.3 179.5H28.2V180.8H22.3zM22.3 229.1H28.2V230.4H22.3zM22.3 255.2H28.2V256.5H22.3z"/>
<path fill="#ffe8f0" d="M22.3 71.2H28.2V72.5H22.3zM22.3 102.5H28.2V103.8H22.3zM22.3 105.1H28.2V106.4H22.3zM22.3 124.7H28.2V126.0H22.3zM22.3 140.3H28.2V141.6H22.3zM22.3 146.8H28.2V148.2H22.3zM22.3 216.0H28.2V217.3H22.3zM22.3 217.3H28.2V218.6H22.3zM22.3 219.9H28.2V221.2H22.3zM22.3 227.8H28.2V229.1H22.3zM22.3 234.3H28.2V235.6H22.3zM22.3 260.4H28.2V261.7H22.3z"/>
<path fill="#f06880" d="M22.3 72.5H28.2V73.8H22.3zM22.3 170.3H28.2V171.6H22.3zM22.3 200.4H28.2V201.7H22.3zM22.3 205.6H28.2V206.9H22.3zM22.3 233.0H28.2V234.3H22.3zM22.3 239.5H28.2V240.8H22.3zM22.3 261.7H28.2V263.0H22.3z"/>
<path fill="#f03858" d="M22.3 73.8H28.2V75.1H22.3zM22.3 172.9H28.2V174.2H22.3zM22.3 175.6H28.2V176.9H22.3zM22.3 199.0H28.2V200.4H22.3z"/>
<path fill="#f08090" d="M22.3 75.1H28.2V76.4H22.3zM22.3 171.6H28.2V172.9H22.3z"/>
<path fill="#f07888" d="M22.3 76.4H28.2V77.7H22.3zM22.3 148.2H28.2V149.5H22.3zM22.3 152.1H28.2V153.4H22.3z"/>
<path fill="#ffe0e0" d="M22.3 77.7H28.2V79.0H22.3zM22.3 119.4H28.2V120.7H22.3zM22.3 137.7H28.2V139.0H22.3zM22.3 238.2H28.2V239.5H22.3z"/>
<path fill="#f05068" d="M22.3 93.3H28.2V94.6H22.3zM22.3 174.2H28.2V175.6H22.3z"/>
<path fill="#f890a0" d="M22.3 94.6H28.2V96.0H22.3zM22.3 132.5H28.2V133.8H22.3zM22.3 149.5H28.2V150.8H22.3zM22.3 150.8H28.2V152.1H22.3zM22.3 176.9H28.2V178.2H22.3zM22.3 193.8H28.2V195.1H22.3zM22.3 197.7H28.2V199.0H22.3zM22.3 251.2H28.2V252.6H22.3z"/>
<path fill="#f08898" d="M22.3 103.8H28.2V105.1H22.3zM22.3 135.1H28.2V136.4H22.3zM22.3 139.0H28.2V140.3H22.3zM22.3 158.6H28.2V159.9H22.3zM22.3 203.0H28.2V204.3H22.3zM22.3 218.6H28.2V219.9H22.3z"/>
<path fill="#f07088" d="M22.3 120.7H28.2V122.1H22.3zM22.3 123.4H28.2V124.7H22.3zM22.3 154.7H28.2V156.0H22.3zM22.3 156.0H28.2V157.3H22.3zM22.3 209.5H28.2V210.8H22.3zM22.3 214.7H28.2V216.0H22.3zM22.3 226.5H28.2V227.8H22.3z"/>
<path fill="#f06078" d="M22.3 122.1H28.2V123.4H22.3zM22.3 162.5H28.2V163.8H22.3zM22.3 192.5H28.2V193.8H22.3zM22.3 249.9H28.2V251.2H22.3z"/>
<path fill="#f04060" d="M22.3 133.8H28.2V135.1H22.3zM22.3 222.5H28.2V223.8H22.3zM22.3 242.1H28.2V243.4H22.3zM22.3 247.3H28.2V248.6H22.3z"/>
<path fill="#f8a0b0" d="M22.3 136.4H28.2V137.7H22.3zM22.3 182.1H28.2V183.4H22.3zM22.3 183.4H28.2V184.7H22.3zM22.3 195.1H28.2V196.4H22.3zM22.3 252.6H28.2V253.9H22.3z"/>
<path fill="#f8d0d8" d="M22.3 159.9H28.2V161.2H22.3zM22.3 208.2H28.2V209.5H22.3z"/>
<path fill="#f04860" d="M22.3 161.2H28.2V162.5H22.3zM22.3 191.2H28.2V192.5H22.3zM22.3 206.9H28.2V208.2H22.3zM22.3 231.7H28.2V233.0H22.3z"/>
<path fill="#f898a8" d="M22.3 163.8H28.2V165.1H22.3zM22.3 169.0H28.2V170.3H22.3z"/>
<path fill="#f03850" d="M22.3 212.1H28.2V213.4H22.3z"/>
<path fill="#e83048" d="M22.3 223.8H28.2V225.1H22.3zM22.3 240.8H28.2V242.1H22.3zM22.3 248.6H28.2V249.9H22.3zM22.3 263.0H28.2V264.3H22.3z"/>
<path fill="#f8c8d0" d="M22.3 243.4H28.2V244.7H22.3zM22.3 246.0H28.2V247.3H22.3z"/>
<path fill="#e82848" d="M22.3 264.3H28.2V265.6H22.3z"/>
<rect x="14.20" y="56.80" width="7.00" height="39.20" fill="#000"/>
<rect x="11.80" y="96.00" width="9.40" height="44.00" fill="#000"/>
<rect x="17.40" y="140.00" width="3.80" height="125.60" fill="#000"/>
<path fill="none" stroke="#000" stroke-width="0.90" shape-rendering="geometricPrecision" d="M14.2 57.0L14.2 57.5M21.2 57.0L14.2 57.0M21.2 57.5L14.2 57.5M14.2 58.0L14.2 58.5M21.2 58.0L14.2 58.0M21.2 58.5L14.2 58.5M13.2 57.2L13.2 58.2M14.2 57.2L13.2 57.2M14.2 58.2L13.2 58.2M14.2 59.0L14.2 59.5M21.2 59.0L14.2 59.0M21.2 59.5L14.2 59.5M14.2 60.0L14.2 60.5M21.2 60.0L14.2 60.0M21.2 60.5L14.2 60.5M13.4 60.2L13.4 61.0M14.2 60.2L13.4 60.2M21.2 61.0L13.4 61.0M13.0 59.2L13.0 60.6M14.2 59.2L13.0 59.2M13.4 60.6L13.0 60.6M14.2 62.5L14.2 63.0M21.2 62.5L14.2 62.5M21.2 63.0L14.2 63.0M13.4 62.0L13.4 62.7M21.2 62.0L13.4 62.0M14.2 62.7L13.4 62.7M13.1 62.3L13.1 63.5M13.4 62.3L13.1 62.3M21.2 63.5L13.1 63.5M12.7 61.5L12.7 62.9M21.2 61.5L12.7 61.5M13.1 62.9L12.7 62.9M12.4 59.9L12.4 62.2M13.0 59.9L12.4 59.9M12.7 62.2L12.4 62.2M11.7 57.7L11.7 61.1M13.2 57.7L11.7 57.7M12.4 61.1L11.7 61.1M14.2 64.5L14.2 65.0M21.2 64.5L14.2 64.5M21.2 65.0L14.2 65.0M14.2 65.5L14.2 66.0M21.2 65.5L14.2 65.5M21.2 66.0L14.2 66.0M13.1 64.7L13.1 65.7M14.2 64.7L13.1 64.7M14.2 65.7L13.1 65.7M12.7 64.0L12.7 65.2M21.2 64.0L12.7 64.0M13.1 65.2L12.7 65.2M14.2 66.5L14.2 66.9M21.2 66.5L14.2 66.5M21.2 66.9L14.2 66.9M14.2 67.4L14.2 67.9M21.2 67.4L14.2 67.4M21.2 67.9L14.2 67.9M14.2 68.4L14.2 68.9M21.2 68.4L14.2 68.4M21.2 68.9L14.2 68.9M13.3 67.7L13.3 68.7M14.2 67.7L13.3 67.7M14.2 68.7L13.3 68.7M12.6 66.7L12.6 68.2M14.2 66.7L12.6 66.7M13.3 68.2L12.6 68.2M12.2 64.6L12.2 67.4M12.7 64.6L12.2 64.6M12.6 67.4L12.2 67.4M11.0 59.4L11.0 66.0M11.7 59.4L11.0 59.4M12.2 66.0L11.0 66.0M14.2 69.4L14.2 69.9M21.2 69.4L14.2 69.4M21.2 69.9L14.2 69.9M13.5 69.7L13.5 70.4M14.2 69.7L13.5 69.7M21.2 70.4L13.5 70.4M14.2 70.9L14.2 71.4M21.2 70.9L14.2 70.9M21.2 71.4L14.2 71.4M14.2 71.9L14.2 72.4M21.2 71.9L14.2 71.9M21.2 72.4L14.2 72.4M13.1 71.2L13.1 72.2M14.2 71.2L13.1 71.2M14.2 72.2L13.1 72.2M14.2 72.9L14.2 73.4M21.2 72.9L14.2 72.9M21.2 73.4L14.2 73.4M14.2 73.9L14.2 74.4M21.2 73.9L14.2 73.9M21.2 74.4L14.2 74.4M13.0 73.2L13.0 74.2M14.2 73.2L13.0 73.2M14.2 74.2L13.0 74.2M12.4 71.7L12.4 73.7M13.1 71.7L12.4 71.7M13.0 73.7L12.4 73.7M12.1 70.1L12.1 72.7M13.5 70.1L12.1 70.1M12.4 72.7L12.1 72.7M9.9 62.7L9.9 71.4M11.0 62.7L9.9 62.7M12.1 71.4L9.9 71.4M14.2 75.4L14.2 75.9M21.2 75.4L14.2 75.4M21.2 75.9L14.2 75.9M13.3 74.9L13.3 75.7M21.2 74.9L13.3 74.9M14.2 75.7L13.3 75.7M14.2 77.4L14.2 77.9M21.2 77.4L14.2 77.4M21.2 77.9L14.2 77.9M13.3 76.9L13.3 77.6M21.2 76.9L13.3 76.9M14.2 77.6L13.3 77.6M13.0 76.4L13.0 77.3M21.2 76.4L13.0 76.4M13.3 77.3L13.0 77.3M12.6 75.3L12.6 76.8M13.3 75.3L12.6 75.3M13.0 76.8L12.6 76.8M14.2 78.4L14.2 78.9M21.2 78.4L14.2 78.4M21.2 78.9L14.2 78.9M14.2 79.4L14.2 79.9M21.2 79.4L14.2 79.4M21.2 79.9L14.2 79.9M13.4 79.6L13.4 80.4M14.2 79.6L13.4 79.6M21.2 80.4L13.4 80.4M14.2 81.4L14.2 81.9M21.2 81.4L14.2 81.4M21.2 81.9L14.2 81.9M13.4 80.9L13.4 81.6M21.2 80.9L13.4 80.9M14.2 81.6L13.4 81.6M12.7 80.0L12.7 81.2M13.4 80.0L12.7 80.0M13.4 81.2L12.7 81.2M12.3 78.6L12.3 80.6M14.2 78.6L12.3 78.6M12.7 80.6L12.3 80.6M14.2 82.4L14.2 82.9M21.2 82.4L14.2 82.4M21.2 82.9L14.2 82.9M14.2 83.9L14.2 84.4M21.2 83.9L14.2 83.9M21.2 84.4L14.2 84.4M13.5 83.4L13.5 84.1M21.2 83.4L13.5 83.4M14.2 84.1L13.5 84.1M12.8 82.6L12.8 83.7M14.2 82.6L12.8 82.6M13.5 83.7L12.8 83.7M12.0 79.6L12.0 83.2M12.3 79.6L12.0 79.6M12.8 83.2L12.0 83.2M14.2 84.9L14.2 85.4M21.2 84.9L14.2 84.9M21.2 85.4L14.2 85.4M14.2 85.8L14.2 86.3M21.2 85.8L14.2 85.8M21.2 86.3L14.2 86.3M13.4 86.1L13.4 86.8M14.2 86.1L13.4 86.1M21.2 86.8L13.4 86.8M12.8 85.1L12.8 86.5M14.2 85.1L12.8 85.1M13.4 86.5L12.8 86.5M14.2 87.3L14.2 87.8M21.2 87.3L14.2 87.3M21.2 87.8L14.2 87.8M13.4 87.6L13.4 88.3M14.2 87.6L13.4 87.6M21.2 88.3L13.4 88.3M14.2 88.8L14.2 89.3M21.2 88.8L14.2 88.8M21.2 89.3L14.2 89.3M12.9 88.0L12.9 89.1M13.4 88.0L12.9 88.0M14.2 89.1L12.9 89.1M14.2 89.8L14.2 90.3M21.2 89.8L14.2 89.8M21.2 90.3L14.2 90.3M12.6 88.5L12.6 90.1M12.9 88.5L12.6 88.5M14.2 90.1L12.6 90.1M12.2 85.8L12.2 89.3M12.8 85.8L12.2 85.8M12.6 89.3L12.2 89.3M11.1 81.4L11.1 87.5M12.0 81.4L11.1 81.4M12.2 87.5L11.1 87.5M10.7 76.1L10.7 84.5M12.6 76.1L10.7 76.1M11.1 84.5L10.7 84.5M14.2 90.8L14.2 91.3M21.2 90.8L14.2 90.8M21.2 91.3L14.2 91.3M14.2 91.8L14.2 92.3M21.2 91.8L14.2 91.8M21.2 92.3L14.2 92.3M13.3 92.1L13.3 92.8M14.2 92.1L13.3 92.1M21.2 92.8L13.3 92.8M14.2 94.3L14.2 94.8M21.2 94.3L14.2 94.3M21.2 94.8L14.2 94.8M13.5 93.8L13.5 94.6M21.2 93.8L13.5 93.8M14.2 94.6L13.5 94.6M13.1 93.3L13.1 94.2M21.2 93.3L13.1 93.3M13.5 94.2L13.1 94.2M12.4 92.4L12.4 93.7M13.3 92.4L12.4 92.4M13.1 93.7L12.4 93.7M12.1 91.1L12.1 93.1M14.2 91.1L12.1 91.1M12.4 93.1L12.1 93.1M14.2 95.3L14.2 95.8M21.2 95.3L14.2 95.3M21.2 95.8L14.2 95.8M13.5 95.5L13.5 96.3M14.2 95.5L13.5 95.5M21.2 96.3L13.5 96.3M11.8 96.8L11.8 97.3M21.2 96.8L11.8 96.8M21.2 97.3L11.8 97.3M11.1 97.0L11.1 97.8M11.8 97.0L11.1 97.0M21.2 97.8L11.1 97.8M10.7 95.9L10.7 97.4M13.5 95.9L10.7 95.9M11.1 97.4L10.7 97.4M10.4 92.1L10.4 96.7M12.1 92.1L10.4 92.1M10.7 96.7L10.4 96.7M9.4 80.3L9.4 94.4M10.7 80.3L9.4 80.3M10.4 94.4L9.4 94.4M11.8 98.3L11.8 98.8M21.2 98.3L11.8 98.3M21.2 98.8L11.8 98.8M11.8 99.3L11.8 99.8M21.2 99.3L11.8 99.3M21.2 99.8L11.8 99.8M11.8 100.3L11.8 100.8M21.2 100.3L11.8 100.3M21.2 100.8L11.8 100.8M11.8 101.8L11.8 102.3M21.2 101.8L11.8 101.8M21.2 102.3L11.8 102.3M11.1 101.3L11.1 102.0M21.2 101.3L11.1 101.3M11.8 102.0L11.1 102.0M10.8 100.5L10.8 101.6M11.8 100.5L10.8 100.5M11.1 101.6L10.8 101.6M10.4 99.5L10.4 101.1M11.8 99.5L10.4 99.5M10.8 101.1L10.4 101.1M11.8 103.3L11.8 103.8M21.2 103.3L11.8 103.3M21.2 103.8L11.8 103.8M11.1 102.8L11.1 103.5M21.2 102.8L11.1 102.8M11.8 103.5L11.1 103.5M10.1 100.3L10.1 103.1M10.4 100.3L10.1 100.3M11.1 103.1L10.1 103.1M9.7 98.5L9.7 101.7M11.8 98.5L9.7 98.5M10.1 101.7L9.7 101.7M11.8 104.3L11.8 104.7M21.2 104.3L11.8 104.3M21.2 104.7L11.8 104.7M11.8 105.2L11.8 105.7M21.2 105.2L11.8 105.2M21.2 105.7L11.8 105.7M10.9 104.5L10.9 105.5M11.8 104.5L10.9 104.5M11.8 105.5L10.9 105.5M11.8 106.2L11.8 106.7M21.2 106.2L11.8 106.2M21.2 106.7L11.8 106.7M11.1 106.5L11.1 107.2M11.8 106.5L11.1 106.5M21.2 107.2L11.1 107.2M10.4 105.0L10.4 106.9M10.9 105.0L10.4 105.0M11.1 106.9L10.4 106.9M11.8 107.7L11.8 108.2M21.2 107.7L11.8 107.7M21.2 108.2L11.8 108.2M11.8 108.7L11.8 109.2M21.2 108.7L11.8 108.7M21.2 109.2L11.8 109.2M10.9 108.0L10.9 109.0M11.8 108.0L10.9 108.0M11.8 109.0L10.9 109.0M10.0 105.9L10.0 108.5M10.4 105.9L10.0 105.9M10.9 108.5L10.0 108.5M9.4 100.1L9.4 107.2M9.7 100.1L9.4 100.1M10.0 107.2L9.4 107.2M8.7 87.3L8.7 103.7M9.4 87.3L8.7 87.3M9.4 103.7L8.7 103.7M8.3 67.0L8.3 95.5M9.9 67.0L8.3 67.0M8.7 95.5L8.3 95.5M11.8 110.2L11.8 110.7M21.2 110.2L11.8 110.2M21.2 110.7L11.8 110.7M11.2 109.7L11.2 110.5M21.2 109.7L11.2 109.7M11.8 110.5L11.2 110.5M11.8 111.2L11.8 111.7M21.2 111.2L11.8 111.2M21.2 111.7L11.8 111.7M11.8 112.2L11.8 112.7M21.2 112.2L11.8 112.2M21.2 112.7L11.8 112.7M10.9 111.5L10.9 112.5M11.8 111.5L10.9 111.5M11.8 112.5L10.9 112.5M10.5 110.1L10.5 112.0M11.2 110.1L10.5 110.1M10.9 112.0L10.5 112.0M11.8 113.2L11.8 113.7M21.2 113.2L11.8 113.2M21.2 113.7L11.8 113.7M11.2 113.5L11.2 114.2M11.8 113.5L11.2 113.5M21.2 114.2L11.2 114.2M10.2 111.0L10.2 113.8M10.5 111.0L10.2 111.0M11.2 113.8L10.2 113.8M11.8 115.2L11.8 115.7M21.2 115.2L11.8 115.2M21.2 115.7L11.8 115.7M11.2 114.7L11.2 115.4M21.2 114.7L11.2 114.7M11.8 115.4L11.2 115.4M10.9 115.1L10.9 116.2M11.2 115.1L10.9 115.1M21.2 116.2L10.9 116.2M10.5 115.6L10.5 116.7M10.9 115.6L10.5 115.6M21.2 116.7L10.5 116.7M11.8 117.2L11.8 117.7M21.2 117.2L11.8 117.2M21.2 117.7L11.8 117.7M11.1 117.4L11.1 118.2M11.8 117.4L11.1 117.4M21.2 118.2L11.1 118.2M10.2 116.2L10.2 117.8M10.5 116.2L10.2 116.2M11.1 117.8L10.2 117.8M11.8 118.7L11.8 119.2M21.2 118.7L11.8 118.7M21.2 119.2L11.8 119.2M11.8 119.7L11.8 120.2M21.2 119.7L11.8 119.7M21.2 120.2L11.8 120.2M11.0 118.9L11.0 119.9M11.8 118.9L11.0 118.9M11.8 119.9L11.0 119.9M11.8 120.7L11.8 121.2M21.2 120.7L11.8 120.7M21.2 121.2L11.8 121.2M10.4 119.4L10.4 120.9M11.0 119.4L10.4 119.4M11.8 120.9L10.4 120.9M11.8 121.7L11.8 122.2M21.2 121.7L11.8 121.7M21.2 122.2L11.8 122.2M11.8 122.7L11.8 123.2M21.2 122.7L11.8 122.7M21.2 123.2L11.8 123.2M11.2 122.9L11.2 123.6M11.8 122.9L11.2 122.9M21.2 123.6L11.2 123.6M10.6 121.9L10.6 123.3M11.8 121.9L10.6 121.9M11.2 123.3L10.6 123.3M10.1 120.2L10.1 122.6M10.4 120.2L10.1 120.2M10.6 122.6L10.1 122.6M11.8 124.1L11.8 124.6M21.2 124.1L11.8 124.1M21.2 124.6L11.8 124.6M11.2 124.4L11.2 125.1M11.8 124.4L11.2 124.4M21.2 125.1L11.2 125.1M11.8 125.6L11.8 126.1M21.2 125.6L11.8 125.6M21.2 126.1L11.8 126.1M10.6 124.8L10.6 125.9M11.2 124.8L10.6 124.8M11.8 125.9L10.6 125.9M11.8 126.6L11.8 127.1M21.2 126.6L11.8 126.6M21.2 127.1L11.8 127.1M10.3 125.3L10.3 126.9M10.6 125.3L10.3 125.3M11.8 126.9L10.3 126.9M9.7 121.4L9.7 126.1M10.1 121.4L9.7 121.4M10.3 126.1L9.7 126.1M9.3 117.0L9.3 123.7M10.2 117.0L9.3 117.0M9.7 123.7L9.3 123.7M9.0 112.4L9.0 120.4M10.2 112.4L9.0 112.4M9.3 120.4L9.0 120.4M11.8 128.1L11.8 128.6M21.2 128.1L11.8 128.1M21.2 128.6L11.8 128.6M11.2 127.6L11.2 128.4M21.2 127.6L11.2 127.6M11.8 128.4L11.2 128.4M10.8 128.0L10.8 129.1M11.2 128.0L10.8 128.0M21.2 129.1L10.8 129.1M11.8 129.6L11.8 130.1M21.2 129.6L11.8 129.6M21.2 130.1L11.8 130.1M10.5 128.6L10.5 129.9M10.8 128.6L10.5 128.6M11.8 129.9L10.5 129.9M11.8 131.1L11.8 131.6M21.2 131.1L11.8 131.1M21.2 131.6L11.8 131.6M11.3 130.6L11.3 131.4M21.2 130.6L11.3 130.6M11.8 131.4L11.3 131.4M11.8 132.1L11.8 132.6M21.2 132.1L11.8 132.1M21.2 132.6L11.8 132.6M10.8 131.0L10.8 132.4M11.3 131.0L10.8 131.0M11.8 132.4L10.8 132.4M10.1 129.2L10.1 131.7M10.5 129.2L10.1 129.2M10.8 131.7L10.1 131.7M11.8 133.1L11.8 133.6M21.2 133.1L11.8 133.1M21.2 133.6L11.8 133.6M11.8 134.6L11.8 135.1M21.2 134.6L11.8 134.6M21.2 135.1L11.8 135.1M11.1 134.1L11.1 134.8M21.2 134.1L11.1 134.1M11.8 134.8L11.1 134.8M10.7 134.5L10.7 135.6M11.1 134.5L10.7 134.5M21.2 135.6L10.7 135.6M10.4 133.3L10.4 135.0M11.8 133.3L10.4 133.3M10.7 135.0L10.4 135.0M11.8 136.1L11.8 136.6M21.2 136.1L11.8 136.1M21.2 136.6L11.8 136.6M11.8 137.1L11.8 137.6M21.2 137.1L11.8 137.1M21.2 137.6L11.8 137.6M11.1 137.3L11.1 138.1M11.8 137.3L11.1 137.3M21.2 138.1L11.1 138.1M11.8 139.1L11.8 139.6M21.2 139.1L11.8 139.1M21.2 139.6L11.8 139.6M11.2 138.6L11.2 139.3M21.2 138.6L11.2 138.6M11.8 139.3L11.2 139.3M10.7 137.7L10.7 138.9M11.1 137.7L10.7 137.7M11.2 138.9L10.7 138.9M10.3 136.3L10.3 138.3M11.8 136.3L10.3 136.3M10.7 138.3L10.3 138.3M10.0 134.2L10.0 137.3M10.4 134.2L10.0 134.2M10.3 137.3L10.0 137.3M9.4 130.4L9.4 135.8M10.1 130.4L9.4 130.4M10.0 135.8L9.4 135.8M17.4 140.1L17.4 140.6M21.2 140.1L17.4 140.1M21.2 140.6L17.4 140.6M16.4 140.3L16.4 141.1M17.4 140.3L16.4 140.3M21.2 141.1L16.4 141.1M17.4 141.6L17.4 142.1M21.2 141.6L17.4 141.6M21.2 142.1L17.4 142.1M17.4 143.0L17.4 143.5M21.2 143.0L17.4 143.0M21.2 143.5L17.4 143.5M16.5 143.3L16.5 144.0M17.4 143.3L16.5 143.3M21.2 144.0L16.5 144.0M16.0 142.5L16.0 143.7M21.2 142.5L16.0 142.5M16.5 143.7L16.0 143.7M15.4 141.8L15.4 143.1M17.4 141.8L15.4 141.8M16.0 143.1L15.4 143.1M15.0 140.7L15.0 142.5M16.4 140.7L15.0 140.7M15.4 142.5L15.0 142.5M17.4 144.5L17.4 145.0M21.2 144.5L17.4 144.5M21.2 145.0L17.4 145.0M16.4 144.8L16.4 145.5M17.4 144.8L16.4 144.8M21.2 145.5L16.4 145.5M17.4 146.0L17.4 146.5M21.2 146.0L17.4 146.0M21.2 146.5L17.4 146.5M17.4 147.0L17.4 147.5M21.2 147.0L17.4 147.0M21.2 147.5L17.4 147.5M17.4 148.0L17.4 148.5M21.2 148.0L17.4 148.0M21.2 148.5L17.4 148.5M16.3 148.3L16.3 149.0M17.4 148.3L16.3 148.3M21.2 149.0L16.3 149.0M15.8 147.3L15.8 148.6M17.4 147.3L15.8 147.3M16.3 148.6L15.8 148.6M15.2 146.3L15.2 148.0M17.4 146.3L15.2 146.3M15.8 148.0L15.2 148.0M17.4 150.0L17.4 150.5M21.2 150.0L17.4 150.0M21.2 150.5L17.4 150.5M16.4 150.3L16.4 151.0M17.4 150.3L16.4 150.3M21.2 151.0L16.4 151.0M16.0 149.5L16.0 150.6M21.2 149.5L16.0 149.5M16.4 150.6L16.0 150.6M14.9 147.1L14.9 150.1M15.2 147.1L14.9 147.1M16.0 150.1L14.9 150.1M14.5 145.2L14.5 148.6M16.4 145.2L14.5 145.2M14.9 148.6L14.5 148.6M13.3 141.6L13.3 146.9M15.0 141.6L13.3 141.6M14.5 146.9L13.3 146.9M8.7 133.1L8.7 144.2M9.4 133.1L8.7 133.1M13.3 144.2L8.7 144.2M17.4 151.5L17.4 152.0M21.2 151.5L17.4 151.5M21.2 152.0L17.4 152.0M16.5 151.7L16.5 152.5M17.4 151.7L16.5 151.7M21.2 152.5L16.5 152.5M17.4 153.0L17.4 153.5M21.2 153.0L17.4 153.0M21.2 153.5L17.4 153.5M16.4 153.2L16.4 154.0M17.4 153.2L16.4 153.2M21.2 154.0L16.4 154.0M17.4 154.5L17.4 155.0M21.2 154.5L17.4 154.5M21.2 155.0L17.4 155.0M15.8 153.6L15.8 154.7M16.4 153.6L15.8 153.6M17.4 154.7L15.8 154.7M17.4 155.5L17.4 156.0M21.2 155.5L17.4 155.5M21.2 156.0L17.4 156.0M16.5 155.7L16.5 156.5M17.4 155.7L16.5 155.7M21.2 156.5L16.5 156.5M15.3 154.2L15.3 156.1M15.8 154.2L15.3 154.2M16.5 156.1L15.3 156.1M17.4 157.5L17.4 158.0M21.2 157.5L17.4 157.5M21.2 158.0L17.4 158.0M16.3 157.0L16.3 157.7M21.2 157.0L16.3 157.0M17.4 157.7L16.3 157.7M15.0 155.1L15.0 157.3M15.3 155.1L15.0 155.1M16.3 157.3L15.0 157.3M14.6 152.1L14.6 156.2M16.5 152.1L14.6 152.1M15.0 156.2L14.6 156.2M8.4 138.7L8.4 154.2M8.7 138.7L8.4 138.7M14.6 154.2L8.4 154.2M17.4 159.0L17.4 159.5M21.2 159.0L17.4 159.0M21.2 159.5L17.4 159.5M16.4 158.5L16.4 159.2M21.2 158.5L16.4 158.5M17.4 159.2L16.4 159.2M16.1 158.8L16.1 160.0M16.4 158.8L16.1 158.8M21.2 160.0L16.1 160.0M15.7 159.4L15.7 160.5M16.1 159.4L15.7 159.4M21.2 160.5L15.7 160.5M17.4 161.4L17.4 161.9M21.2 161.4L17.4 161.4M21.2 161.9L17.4 161.9M16.6 161.0L16.6 161.7M21.2 161.0L16.6 161.0M17.4 161.7L16.6 161.7M17.4 162.4L17.4 162.9M21.2 162.4L17.4 162.4M21.2 162.9L17.4 162.9M15.7 161.3L15.7 162.7M16.6 161.3L15.7 161.3M17.4 162.7L15.7 162.7M17.4 163.9L17.4 164.4M21.2 163.9L17.4 163.9M21.2 164.4L17.4 164.4M16.5 163.4L16.5 164.2M21.2 163.4L16.5 163.4M17.4 164.2L16.5 164.2M15.3 162.0L15.3 163.8M15.7 162.0L15.3 162.0M16.5 163.8L15.3 163.8M14.8 159.9L14.8 162.9M15.7 159.9L14.8 159.9M15.3 162.9L14.8 162.9M17.4 164.9L17.4 165.4M21.2 164.9L17.4 164.9M21.2 165.4L17.4 165.4M17.4 165.9L17.4 166.4M21.2 165.9L17.4 165.9M21.2 166.4L17.4 166.4M16.5 166.2L16.5 166.9M17.4 166.2L16.5 166.2M21.2 166.9L16.5 166.9M15.8 165.2L15.8 166.5M17.4 165.2L15.8 165.2M16.5 166.5L15.8 166.5M17.4 167.4L17.4 167.9M21.2 167.4L17.4 167.4M21.2 167.9L17.4 167.9M17.4 168.4L17.4 168.9M21.2 168.4L17.4 168.4M21.2 168.9L17.4 168.9M16.3 167.7L16.3 168.7M17.4 167.7L16.3 167.7M17.4 168.7L16.3 168.7M17.4 169.9L17.4 170.4M21.2 169.9L17.4 169.9M21.2 170.4L17.4 170.4M16.4 169.4L16.4 170.2M21.2 169.4L16.4 169.4M17.4 170.2L16.4 170.2M15.7 168.2L15.7 169.8M16.3 168.2L15.7 168.2M16.4 169.8L15.7 169.8M14.5 165.9L14.5 169.0M15.8 165.9L14.5 165.9M15.7 169.0L14.5 169.0M17.4 171.4L17.4 171.9M21.2 171.4L17.4 171.4M21.2 171.9L17.4 171.9M16.5 170.9L16.5 171.6M21.2 170.9L16.5 170.9M17.4 171.6L16.5 171.6M17.4 172.4L17.4 172.9M21.2 172.4L17.4 172.4M21.2 172.9L17.4 172.9M16.0 171.3L16.0 172.6M16.5 171.3L16.0 171.3M17.4 172.6L16.0 172.6M14.1 167.4L14.1 172.0M14.5 167.4L14.1 167.4M16.0 172.0L14.1 172.0M12.8 161.4L12.8 169.7M14.8 161.4L12.8 161.4M14.1 169.7L12.8 169.7M8.0 146.4L8.0 165.6M8.4 146.4L8.0 146.4M12.8 165.6L8.0 165.6M7.7 116.4L7.7 156.0M9.0 116.4L7.7 116.4M8.0 156.0L7.7 156.0M17.4 173.9L17.4 174.4M21.2 173.9L17.4 173.9M21.2 174.4L17.4 174.4M16.3 173.4L16.3 174.1M21.2 173.4L16.3 173.4M17.4 174.1L16.3 174.1M17.4 175.4L17.4 175.9M21.2 175.4L17.4 175.4M21.2 175.9L17.4 175.9M17.4 176.4L17.4 176.9M21.2 176.4L17.4 176.4M21.2 176.9L17.4 176.9M16.2 175.6L16.2 176.6M17.4 175.6L16.2 175.6M17.4 176.6L16.2 176.6M15.8 174.9L15.8 176.1M21.2 174.9L15.8 174.9M16.2 176.1L15.8 176.1M15.4 173.8L15.4 175.5M16.3 173.8L15.4 173.8M15.8 175.5L15.4 175.5M17.4 177.4L17.4 177.9M21.2 177.4L17.4 177.4M21.2 177.9L17.4 177.9M16.3 177.6L16.3 178.4M17.4 177.6L16.3 177.6M21.2 178.4L16.3 178.4M16.0 178.0L16.0 178.9M16.3 178.0L16.0 178.0M21.2 178.9L16.0 178.9M15.6 178.4L15.6 179.4M16.0 178.4L15.6 178.4M21.2 179.4L15.6 179.4M14.8 174.6L14.8 178.9M15.4 174.6L14.8 174.6M15.6 178.9L14.8 178.9M17.4 180.3L17.4 180.8M21.2 180.3L17.4 180.3M21.2 180.8L17.4 180.8M16.4 180.6L16.4 181.3M17.4 180.6L16.4 180.6M21.2 181.3L16.4 181.3M15.9 179.9L15.9 181.0M21.2 179.9L15.9 179.9M16.4 181.0L15.9 181.0M17.4 181.8L17.4 182.3M21.2 181.8L17.4 181.8M21.2 182.3L17.4 182.3M15.6 180.4L15.6 182.1M15.9 180.4L15.6 180.4M17.4 182.1L15.6 182.1M17.4 182.8L17.4 183.3M21.2 182.8L17.4 182.8M21.2 183.3L17.4 183.3M17.4 183.8L17.4 184.3M21.2 183.8L17.4 183.8M21.2 184.3L17.4 184.3M17.4 184.8L17.4 185.3M21.2 184.8L17.4 184.8M21.2 185.3L17.4 185.3M16.3 185.1L16.3 185.8M17.4 185.1L16.3 185.1M21.2 185.8L16.3 185.8M15.8 184.1L15.8 185.4M17.4 184.1L15.8 184.1M16.3 185.4L15.8 185.4M15.5 183.1L15.5 184.8M17.4 183.1L15.5 183.1M15.8 184.8L15.5 184.8M17.4 186.3L17.4 186.8M21.2 186.3L17.4 186.3M21.2 186.8L17.4 186.8M16.5 186.6L16.5 187.3M17.4 186.6L16.5 186.6M21.2 187.3L16.5 187.3M16.2 186.9L16.2 187.8M16.5 186.9L16.2 186.9M21.2 187.8L16.2 187.8M14.8 183.9L14.8 187.4M15.5 183.9L14.8 183.9M16.2 187.4L14.8 187.4M17.4 188.3L17.4 188.8M21.2 188.3L17.4 188.3M21.2 188.8L17.4 188.8M17.4 189.8L17.4 190.3M21.2 189.8L17.4 189.8M21.2 190.3L17.4 190.3M16.3 190.0L16.3 190.8M17.4 190.0L16.3 190.0M21.2 190.8L16.3 190.8M16.0 189.3L16.0 190.4M21.2 189.3L16.0 189.3M16.3 190.4L16.0 190.4M15.6 188.6L15.6 189.9M17.4 188.6L15.6 188.6M16.0 189.9L15.6 189.9M14.2 185.6L14.2 189.2M14.8 185.6L14.2 185.6M15.6 189.2L14.2 189.2M13.8 181.3L13.8 187.4M15.6 181.3L13.8 181.3M14.2 187.4L13.8 187.4M12.3 176.8L12.3 184.3M14.8 176.8L12.3 176.8M13.8 184.3L12.3 184.3M7.3 136.2L7.3 180.5M7.7 136.2L7.3 136.2M12.3 180.5L7.3 180.5M17.4 191.8L17.4 192.3M21.2 191.8L17.4 191.8M21.2 192.3L17.4 192.3M16.6 191.3L16.6 192.0M21.2 191.3L16.6 191.3M17.4 192.0L16.6 192.0M16.0 191.7L16.0 192.8M16.6 191.7L16.0 191.7M21.2 192.8L16.0 192.8M15.6 192.2L15.6 193.3M16.0 192.2L15.6 192.2M21.2 193.3L15.6 193.3M15.3 192.8L15.3 193.8M15.6 192.8L15.3 192.8M21.2 193.8L15.3 193.8M17.4 194.3L17.4 194.8M21.2 194.3L17.4 194.3M21.2 194.8L17.4 194.8M16.4 194.5L16.4 195.3M17.4 194.5L16.4 194.5M21.2 195.3L16.4 195.3M17.4 195.8L17.4 196.3M21.2 195.8L17.4 195.8M21.2 196.3L17.4 196.3M15.8 194.9L15.8 196.0M16.4 194.9L15.8 194.9M17.4 196.0L15.8 196.0M14.8 193.3L14.8 195.5M15.3 193.3L14.8 193.3M15.8 195.5L14.8 195.5M17.4 197.3L17.4 197.8M21.2 197.3L17.4 197.3M21.2 197.8L17.4 197.8M16.5 196.8L16.5 197.5M21.2 196.8L16.5 196.8M17.4 197.5L16.5 197.5M14.3 194.4L14.3 197.1M14.8 194.4L14.3 194.4M16.5 197.1L14.3 197.1M17.4 198.3L17.4 198.8M21.2 198.3L17.4 198.3M21.2 198.8L17.4 198.8M17.4 199.2L17.4 199.7M21.2 199.2L17.4 199.2M21.2 199.7L17.4 199.7M16.3 199.5L16.3 200.2M17.4 199.5L16.3 199.5M21.2 200.2L16.3 200.2M16.0 199.9L16.0 200.7M16.3 199.9L16.0 199.9M21.2 200.7L16.0 200.7M15.5 198.5L15.5 200.3M17.4 198.5L15.5 198.5M16.0 200.3L15.5 200.3M17.4 201.2L17.4 201.7M21.2 201.2L17.4 201.2M21.2 201.7L17.4 201.7M16.4 201.5L16.4 202.2M17.4 201.5L16.4 201.5M21.2 202.2L16.4 202.2M17.4 203.2L17.4 203.7M21.2 203.2L17.4 203.2M21.2 203.7L17.4 203.7M16.5 202.7L16.5 203.5M21.2 202.7L16.5 202.7M17.4 203.5L16.5 203.5M17.4 204.2L17.4 204.7M21.2 204.2L17.4 204.2M21.2 204.7L17.4 204.7M15.9 203.1L15.9 204.5M16.5 203.1L15.9 203.1M17.4 204.5L15.9 204.5M17.4 206.2L17.4 206.7M21.2 206.2L17.4 206.2M21.2 206.7L17.4 206.7M16.4 205.7L16.4 206.5M21.2 205.7L16.4 205.7M17.4 206.5L16.4 206.5M16.0 205.2L16.0 206.1M21.2 205.2L16.0 205.2M16.4 206.1L16.0 206.1M15.3 203.8L15.3 205.7M15.9 203.8L15.3 203.8M16.0 205.7L15.3 205.7M14.9 201.9L14.9 204.7M16.4 201.9L14.9 201.9M15.3 204.7L14.9 204.7M14.1 199.4L14.1 203.3M15.5 199.4L14.1 199.4M14.9 203.3L14.1 203.3M17.4 207.2L17.4 207.7M21.2 207.2L17.4 207.2M21.2 207.7L17.4 207.7M16.5 207.5L16.5 208.2M17.4 207.5L16.5 207.5M21.2 208.2L16.5 208.2M16.1 207.8L16.1 208.7M16.5 207.8L16.1 207.8M21.2 208.7L16.1 208.7M17.4 209.2L17.4 209.7M21.2 209.2L17.4 209.2M21.2 209.7L17.4 209.7M15.7 208.3L15.7 209.4M16.1 208.3L15.7 208.3M17.4 209.4L15.7 209.4M17.4 210.7L17.4 211.2M21.2 210.7L17.4 210.7M21.2 211.2L17.4 211.2M16.5 210.2L16.5 210.9M21.2 210.2L16.5 210.2M17.4 210.9L16.5 210.9M17.4 211.7L17.4 212.2M21.2 211.7L17.4 211.7M21.2 212.2L17.4 212.2M17.4 212.7L17.4 213.2M21.2 212.7L17.4 212.7M21.2 213.2L17.4 213.2M16.1 211.9L16.1 212.9M17.4 211.9L16.1 211.9M17.4 212.9L16.1 212.9M15.3 210.6L15.3 212.4M16.5 210.6L15.3 210.6M16.1 212.4L15.3 212.4M14.7 208.9L14.7 211.5M15.7 208.9L14.7 208.9M15.3 211.5L14.7 211.5M17.4 213.7L17.4 214.2M21.2 213.7L17.4 213.7M21.2 214.2L17.4 214.2M16.5 213.9L16.5 214.7M17.4 213.9L16.5 213.9M21.2 214.7L16.5 214.7M17.4 215.2L17.4 215.7M21.2 215.2L17.4 215.2M21.2 215.7L17.4 215.7M15.8 214.3L15.8 215.4M16.5 214.3L15.8 214.3M17.4 215.4L15.8 215.4M14.4 210.2L14.4 214.9M14.7 210.2L14.4 210.2M15.8 214.9L14.4 214.9M17.4 216.7L17.4 217.2M21.2 216.7L17.4 216.7M21.2 217.2L17.4 217.2M16.3 216.9L16.3 217.7M17.4 216.9L16.3 216.9M21.2 217.7L16.3 217.7M16.0 216.2L16.0 217.3M21.2 216.2L16.0 216.2M16.3 217.3L16.0 217.3M17.4 218.1L17.4 218.6M21.2 218.1L17.4 218.1M21.2 218.6L17.4 218.6M17.4 219.6L17.4 220.1M21.2 219.6L17.4 219.6M21.2 220.1L17.4 220.1M16.4 219.1L16.4 219.9M21.2 219.1L16.4 219.1M17.4 219.9L16.4 219.9M17.4 220.6L17.4 221.1M21.2 220.6L17.4 220.6M21.2 221.1L17.4 221.1M16.0 219.5L16.0 220.9M16.4 219.5L16.0 219.5M17.4 220.9L16.0 220.9M15.4 220.2L15.4 221.6M16.0 220.2L15.4 220.2M21.2 221.6L15.4 221.6M15.0 218.4L15.0 220.9M17.4 218.4L15.0 218.4M15.4 220.9L15.0 220.9M14.6 216.7L14.6 219.7M16.0 216.7L14.6 216.7M15.0 219.7L14.6 219.7M12.5 212.5L12.5 218.2M14.4 212.5L12.5 212.5M14.6 218.2L12.5 218.2M11.5 201.3L11.5 215.4M14.1 201.3L11.5 201.3M12.5 215.4L11.5 215.4M11.1 195.7L11.1 208.3M14.3 195.7L11.1 195.7M11.5 208.3L11.1 208.3M7.0 158.4L7.0 202.0M7.3 158.4L7.0 158.4M11.1 202.0L7.0 202.0M17.4 223.1L17.4 223.6M21.2 223.1L17.4 223.1M21.2 223.6L17.4 223.6M16.3 222.6L16.3 223.4M21.2 222.6L16.3 222.6M17.4 223.4L16.3 223.4M16.0 222.1L16.0 223.0M21.2 222.1L16.0 222.1M16.3 223.0L16.0 223.0M17.4 224.1L17.4 224.6M21.2 224.1L17.4 224.1M21.2 224.6L17.4 224.6M16.4 224.4L16.4 225.1M17.4 224.4L16.4 224.4M21.2 225.1L16.4 225.1M17.4 225.6L17.4 226.1M21.2 225.6L17.4 225.6M21.2 226.1L17.4 226.1M15.9 224.7L15.9 225.9M16.4 224.7L15.9 224.7M17.4 225.9L15.9 225.9M17.4 227.1L17.4 227.6M21.2 227.1L17.4 227.1M21.2 227.6L17.4 227.6M16.3 226.6L16.3 227.4M21.2 226.6L16.3 226.6M17.4 227.4L16.3 227.4M15.3 225.3L15.3 227.0M15.9 225.3L15.3 225.3M16.3 227.0L15.3 227.0M14.3 222.6L14.3 226.1M16.0 222.6L14.3 222.6M15.3 226.1L14.3 226.1M17.4 228.6L17.4 229.1M21.2 228.6L17.4 228.6M21.2 229.1L17.4 229.1M16.3 228.8L16.3 229.6M17.4 228.8L16.3 228.8M21.2 229.6L16.3 229.6M16.0 228.1L16.0 229.2M21.2 228.1L16.0 228.1M16.3 229.2L16.0 229.2M17.4 231.1L17.4 231.6M21.2 231.1L17.4 231.1M21.2 231.6L17.4 231.6M16.5 230.6L16.5 231.3M21.2 230.6L16.5 230.6M17.4 231.3L16.5 231.3M16.2 230.1L16.2 231.0M21.2 230.1L16.2 230.1M16.5 231.0L16.2 231.0M17.4 232.6L17.4 233.1M21.2 232.6L17.4 232.6M21.2 233.1L17.4 233.1M16.3 232.1L16.3 232.8M21.2 232.1L16.3 232.1M17.4 232.8L16.3 232.8M15.3 230.5L15.3 232.4M16.2 230.5L15.3 230.5M16.3 232.4L15.3 232.4M14.7 228.7L14.7 231.5M16.0 228.7L14.7 228.7M15.3 231.5L14.7 231.5M17.4 233.6L17.4 234.1M21.2 233.6L17.4 233.6M21.2 234.1L17.4 234.1M16.5 233.8L16.5 234.6M17.4 233.8L16.5 233.8M21.2 234.6L16.5 234.6M14.3 230.1L14.3 234.2M14.7 230.1L14.3 230.1M16.5 234.2L14.3 234.2M13.7 224.4L13.7 232.1M14.3 224.4L13.7 224.4M14.3 232.1L13.7 232.1M17.4 235.6L17.4 236.1M21.2 235.6L17.4 235.6M21.2 236.1L17.4 236.1M16.4 235.1L16.4 235.8M21.2 235.1L16.4 235.1M17.4 235.8L16.4 235.8M17.4 236.6L17.4 237.0M21.2 236.6L17.4 236.6M21.2 237.0L17.4 237.0M17.4 237.5L17.4 238.0M21.2 237.5L17.4 237.5M21.2 238.0L17.4 238.0M17.4 238.5L17.4 239.0M21.2 238.5L17.4 238.5M21.2 239.0L17.4 239.0M16.0 237.8L16.0 238.8M17.4 237.8L16.0 237.8M17.4 238.8L16.0 238.8M15.4 236.8L15.4 238.3M17.4 236.8L15.4 236.8M16.0 238.3L15.4 238.3M14.9 235.4L14.9 237.5M16.4 235.4L14.9 235.4M15.4 237.5L14.9 237.5M17.4 240.0L17.4 240.5M21.2 240.0L17.4 240.0M21.2 240.5L17.4 240.5M16.5 239.5L16.5 240.3M21.2 239.5L16.5 239.5M17.4 240.3L16.5 240.3M17.4 241.0L17.4 241.5M21.2 241.0L17.4 241.0M21.2 241.5L17.4 241.5M15.8 239.9L15.8 241.3M16.5 239.9L15.8 239.9M17.4 241.3L15.8 241.3M17.4 242.0L17.4 242.5M21.2 242.0L17.4 242.0M21.2 242.5L17.4 242.5M15.4 240.6L15.4 242.3M15.8 240.6L15.4 240.6M17.4 242.3L15.4 242.3M14.4 236.5L14.4 241.4M14.9 236.5L14.4 236.5M15.4 241.4L14.4 241.4M17.4 243.5L17.4 244.0M21.2 243.5L17.4 243.5M21.2 244.0L17.4 244.0M16.5 243.0L16.5 243.8M21.2 243.0L16.5 243.0M17.4 243.8L16.5 243.8M17.4 245.0L17.4 245.5M21.2 245.0L17.4 245.0M21.2 245.5L17.4 245.5M16.4 244.5L16.4 245.3M21.2 244.5L16.4 244.5M17.4 245.3L16.4 245.3M16.0 244.9L16.0 246.0M16.4 244.9L16.0 244.9M21.2 246.0L16.0 246.0M15.7 245.4L15.7 246.5M16.0 245.4L15.7 245.4M21.2 246.5L15.7 246.5M15.0 243.4L15.0 246.0M16.5 243.4L15.0 243.4M15.7 246.0L15.0 246.0M17.4 247.5L17.4 248.0M21.2 247.5L17.4 247.5M21.2 248.0L17.4 248.0M16.6 247.7L16.6 248.5M17.4 247.7L16.6 247.7M21.2 248.5L16.6 248.5M15.9 247.0L15.9 248.1M21.2 247.0L15.9 247.0M16.6 248.1L15.9 248.1M14.4 244.7L14.4 247.6M15.0 244.7L14.4 244.7M15.9 247.6L14.4 247.6M13.5 239.0L13.5 246.1M14.4 239.0L13.5 239.0M14.4 246.1L13.5 246.1M17.4 249.5L17.4 250.0M21.2 249.5L17.4 249.5M21.2 250.0L17.4 250.0M16.6 249.0L16.6 249.7M21.2 249.0L16.6 249.0M17.4 249.7L16.6 249.7M15.9 249.4L15.9 250.5M16.6 249.4L15.9 249.4M21.2 250.5L15.9 250.5M17.4 252.0L17.4 252.5M21.2 252.0L17.4 252.0M21.2 252.5L17.4 252.5M16.5 251.5L16.5 252.2M21.2 251.5L16.5 251.5M17.4 252.2L16.5 252.2M16.0 251.0L16.0 251.8M21.2 251.0L16.0 251.0M16.5 251.8L16.0 251.8M17.4 253.5L17.4 254.0M21.2 253.5L17.4 253.5M21.2 254.0L17.4 254.0M16.3 253.0L16.3 253.7M21.2 253.0L16.3 253.0M17.4 253.7L16.3 253.7M17.4 254.5L17.4 255.0M21.2 254.5L17.4 254.5M21.2 255.0L17.4 255.0M17.4 255.5L17.4 255.9M21.2 255.5L17.4 255.5M21.2 255.9L17.4 255.9M16.2 254.7L16.2 255.7M17.4 254.7L16.2 254.7M17.4 255.7L16.2 255.7M15.5 253.3L15.5 255.2M16.3 253.3L15.5 253.3M16.2 255.2L15.5 255.2M17.4 256.4L17.4 256.9M21.2 256.4L17.4 256.4M21.2 256.9L17.4 256.9M15.2 254.3L15.2 256.7M15.5 254.3L15.2 254.3M17.4 256.7L15.2 256.7M17.4 257.9L17.4 258.4M21.2 257.9L17.4 257.9M21.2 258.4L17.4 258.4M16.3 258.2L16.3 258.9M17.4 258.2L16.3 258.2M21.2 258.9L16.3 258.9M16.0 257.4L16.0 258.6M21.2 257.4L16.0 257.4M16.3 258.6L16.0 258.6M14.8 255.5L14.8 258.0M15.2 255.5L14.8 255.5M16.0 258.0L14.8 258.0M14.0 251.4L14.0 256.7M16.0 251.4L14.0 251.4M14.8 256.7L14.0 256.7M13.6 249.9L13.6 254.1M15.9 249.9L13.6 249.9M14.0 254.1L13.6 254.1M17.4 259.4L17.4 259.9M21.2 259.4L17.4 259.4M21.2 259.9L17.4 259.9M16.4 259.7L16.4 260.4M17.4 259.7L16.4 259.7M21.2 260.4L16.4 260.4M17.4 260.9L17.4 261.4M21.2 260.9L17.4 260.9M21.2 261.4L17.4 261.4M16.4 261.2L16.4 261.9M17.4 261.2L16.4 261.2M21.2 261.9L16.4 261.9M15.5 260.1L15.5 261.5M16.4 260.1L15.5 260.1M16.4 261.5L15.5 261.5M17.4 262.4L17.4 262.9M21.2 262.4L17.4 262.4M21.2 262.9L17.4 262.9M15.2 260.8L15.2 262.7M15.5 260.8L15.2 260.8M17.4 262.7L15.2 262.7M17.4 263.4L17.4 263.9M21.2 263.4L17.4 263.4M21.2 263.9L17.4 263.9M17.4 264.4L17.4 264.9M21.2 264.4L17.4 264.4M21.2 264.9L17.4 264.9M16.5 264.7L16.5 265.4M17.4 264.7L16.5 264.7M21.2 265.4L16.5 265.4M15.7 263.7L15.7 265.0M17.4 263.7L15.7 263.7M16.5 265.0L15.7 265.0M14.6 261.7L14.6 264.3M15.2 261.7L14.6 261.7M15.7 264.3L14.6 264.3M12.4 252.0L12.4 263.0M13.6 252.0L12.4 252.0M14.6 263.0L12.4 263.0M11.3 242.5L11.3 257.5M13.5 242.5L11.3 242.5M12.4 257.5L11.3 257.5M10.1 228.2L10.1 250.0M13.7 228.2L10.1 228.2M11.3 250.0L10.1 250.0M4.0 180.2L4.0 239.1M7.0 180.2L4.0 180.2M10.1 239.1L4.0 239.1M0.8 81.3L0.8 209.7M8.3 81.3L0.8 81.3M4.0 209.7L0.8 209.7"/>
<path d="M188.2 11.4H297.2V8.4L302.6 14.8L297.2 21.2V18.3H188.2Z" fill="#fff" stroke="#5a5a5a" stroke-width="1.3" stroke-linejoin="miter" shape-rendering="geometricPrecision"/>
<defs><linearGradient id="ag" gradientUnits="userSpaceOnUse" x1="189" y1="0" x2="297" y2="0"><stop offset="0.0000" stop-color="#000000"/><stop offset="0.0667" stop-color="#000000"/><stop offset="0.0704" stop-color="#161600"/><stop offset="0.1389" stop-color="#1e1e00"/><stop offset="0.1426" stop-color="#4c4c00"/><stop offset="0.3389" stop-color="#585800"/><stop offset="0.3426" stop-color="#666600"/><stop offset="0.6019" stop-color="#727200"/><stop offset="0.6056" stop-color="#8a8a00"/><stop offset="0.8056" stop-color="#a2a200"/><stop offset="0.8093" stop-color="#bcbc00"/><stop offset="0.8667" stop-color="#c4c400"/><stop offset="0.8704" stop-color="#e6e600"/><stop offset="1.0000" stop-color="#ffff00"/></linearGradient></defs>
<rect x="188.80" y="12.10" width="108.40" height="5.60" fill="url(#ag)"/>
<text x="243.90" y="9.50" font-size="8.20" font-weight="bold" text-anchor="middle" fill="#000">average methylation</text>
<rect x="188.80" y="23.00" width="7.21" height="6.40" fill="#ff00ff"/>
<rect x="217.65" y="23.00" width="7.21" height="6.40" fill="#ff00ff"/>
<rect x="239.29" y="23.00" width="7.21" height="6.40" fill="#ff00ff"/>
<rect x="260.93" y="23.00" width="7.21" height="6.40" fill="#ff00ff"/>
<rect x="275.36" y="23.00" width="7.21" height="6.40" fill="#ff00ff"/>
<rect x="188.80" y="31.50" width="108.20" height="6.60" fill="#ff5675"/>
<rect x="232.08" y="31.50" width="7.21" height="6.60" fill="#ffb83f"/>
<rect x="239.29" y="31.50" width="7.21" height="6.60" fill="#ffb83f"/>
<rect x="253.72" y="31.50" width="7.21" height="6.60" fill="#ffb83f"/>
<rect x="260.93" y="31.50" width="7.21" height="6.60" fill="#ffb83f"/>
<rect x="282.57" y="31.50" width="7.21" height="6.60" fill="#ffb83f"/>
<rect x="217.65" y="39.40" width="7.21" height="6.80" fill="#00641a"/>
<rect x="224.87" y="39.40" width="7.21" height="6.80" fill="#00641a"/>
<rect x="232.08" y="39.40" width="7.21" height="6.80" fill="#00641a"/>
<rect x="239.29" y="39.40" width="7.21" height="6.80" fill="#00641a"/>
<rect x="246.51" y="39.40" width="7.21" height="6.80" fill="#00641a"/>
<rect x="260.93" y="39.40" width="7.21" height="6.80" fill="#00641a"/>
<rect x="268.15" y="39.40" width="7.21" height="6.80" fill="#00641a"/>
<rect x="275.36" y="39.40" width="7.21" height="6.80" fill="#00641a"/>
<rect x="282.57" y="39.40" width="7.21" height="6.80" fill="#00641a"/>
<rect x="289.79" y="39.40" width="7.21" height="6.80" fill="#00641a"/>
<rect x="217.65" y="47.80" width="7.21" height="6.10" fill="#1c1cff"/>
<rect x="224.87" y="47.80" width="7.21" height="6.10" fill="#1c1cff"/>
<rect x="239.29" y="47.80" width="7.21" height="6.10" fill="#1c1cff"/>
<rect x="246.51" y="47.80" width="7.21" height="6.10" fill="#1c1cff"/>
<rect x="260.93" y="47.80" width="7.21" height="6.10" fill="#1c1cff"/>
<rect x="275.36" y="47.80" width="7.21" height="6.10" fill="#1c1cff"/>
<text transform="translate(178.30,53.80) rotate(-90)" font-size="8" font-weight="bold">Enhancer</text>
<text transform="translate(185.40,53.80) rotate(-90)" font-size="8" font-weight="bold">Region</text>
<path fill="#585800" d="M188.8 55.2H196.0V56.5H188.8zM217.7 55.2H224.9V56.5H217.7zM196.0 70.5H203.2V71.8H196.0zM210.4 70.5H217.7V71.8H210.4zM275.4 76.9H282.6V78.2H275.4zM253.7 102.4H260.9V103.7H253.7zM210.4 124.1H217.7V125.3H210.4zM203.2 125.3H210.4V126.6H203.2zM196.0 126.6H203.2V127.9H196.0zM188.8 131.7H196.0V133.0H188.8zM203.2 134.3H210.4V135.5H203.2zM232.1 139.4H239.3V140.6H232.1zM210.4 147.0H217.7V148.3H210.4zM210.4 148.3H217.7V149.6H210.4zM246.5 153.4H253.7V154.7H246.5zM246.5 154.7H253.7V155.9H246.5zM239.3 157.2H246.5V158.5H239.3zM196.0 159.8H203.2V161.0H196.0zM282.6 159.8H289.8V161.0H282.6zM203.2 161.0H210.4V162.3H203.2zM239.3 163.6H246.5V164.9H239.3zM210.4 166.1H217.7V167.4H210.4zM260.9 166.1H268.1V167.4H260.9zM282.6 167.4H289.8V168.7H282.6zM268.1 170.0H275.4V171.2H268.1zM188.8 173.8H196.0V175.1H188.8zM203.2 173.8H210.4V175.1H203.2zM246.5 175.1H253.7V176.3H246.5zM224.9 176.3H232.1V177.6H224.9zM224.9 177.6H232.1V178.9H224.9zM224.9 186.5H232.1V187.8H224.9zM289.8 186.5H297.0V187.8H289.8zM224.9 191.6H232.1V192.9H224.9zM246.5 192.9H253.7V194.2H246.5zM217.7 194.2H224.9V195.5H217.7zM196.0 195.5H203.2V196.7H196.0zM275.4 196.7H282.6V198.0H275.4zM260.9 200.6H268.1V201.8H260.9zM282.6 204.4H289.8V205.7H282.6zM268.1 210.8H275.4V212.0H268.1zM282.6 212.0H289.8V213.3H282.6zM224.9 215.9H232.1V217.1H224.9zM203.2 221.0H210.4V222.2H203.2zM224.9 222.2H232.1V223.5H224.9zM253.7 222.2H268.1V223.5H253.7zM188.8 223.5H196.0V224.8H188.8zM232.1 224.8H239.3V226.1H232.1zM246.5 226.1H253.7V227.3H246.5zM196.0 227.3H203.2V228.6H196.0zM275.4 227.3H282.6V228.6H275.4zM196.0 228.6H203.2V229.9H196.0zM217.7 231.2H224.9V232.4H217.7zM203.2 232.4H217.7V233.7H203.2zM196.0 235.0H203.2V236.3H196.0zM239.3 235.0H246.5V236.3H239.3zM253.7 235.0H260.9V236.3H253.7zM217.7 236.3H224.9V237.5H217.7zM224.9 238.8H232.1V240.1H224.9zM239.3 238.8H246.5V240.1H239.3zM275.4 238.8H282.6V240.1H275.4zM217.7 240.1H224.9V241.4H217.7zM196.0 241.4H203.2V242.6H196.0zM239.3 242.6H246.5V243.9H239.3zM268.1 242.6H275.4V243.9H268.1zM268.1 243.9H275.4V245.2H268.1zM253.7 247.7H260.9V249.0H253.7zM260.9 251.6H268.1V252.8H260.9zM203.2 252.8H210.4V254.1H203.2zM217.7 252.8H224.9V254.1H217.7zM203.2 256.7H210.4V257.9H203.2zM275.4 257.9H282.6V259.2H275.4zM196.0 259.2H203.2V260.5H196.0zM188.8 260.5H196.0V261.8H188.8zM224.9 261.8H232.1V263.0H224.9zM268.1 263.0H275.4V264.3H268.1z"/>
<path fill="#c0c000" d="M196.0 55.2H203.2V56.5H196.0zM203.2 68.0H210.4V69.2H203.2zM203.2 71.8H210.4V73.1H203.2zM217.7 73.1H232.1V74.3H217.7zM224.9 75.6H232.1V76.9H224.9zM253.7 76.9H260.9V78.2H253.7zM196.0 78.2H203.2V79.4H196.0zM253.7 79.4H260.9V80.7H253.7zM282.6 79.4H289.8V80.7H282.6zM217.7 83.3H224.9V84.5H217.7zM268.1 104.9H275.4V106.2H268.1zM196.0 111.3H203.2V112.6H196.0zM196.0 115.1H203.2V116.4H196.0zM196.0 117.7H203.2V119.0H196.0zM188.8 119.0H196.0V120.2H188.8zM210.4 121.5H217.7V122.8H210.4zM203.2 124.1H210.4V125.3H203.2zM246.5 124.1H260.9V125.3H246.5zM239.3 131.7H246.5V133.0H239.3zM253.7 134.3H260.9V135.5H253.7zM253.7 144.5H260.9V145.7H253.7zM196.0 147.0H203.2V148.3H196.0zM203.2 149.6H210.4V150.8H203.2zM196.0 153.4H203.2V154.7H196.0zM239.3 153.4H246.5V154.7H239.3zM232.1 154.7H239.3V155.9H232.1zM224.9 155.9H232.1V157.2H224.9zM275.4 159.8H282.6V161.0H275.4zM282.6 171.2H289.8V172.5H282.6zM210.4 176.3H217.7V177.6H210.4zM203.2 184.0H210.4V185.3H203.2zM275.4 184.0H282.6V185.3H275.4zM289.8 185.3H297.0V186.5H289.8zM289.8 187.8H297.0V189.1H289.8zM289.8 189.1H297.0V190.4H289.8zM289.8 191.6H297.0V192.9H289.8zM217.7 195.5H224.9V196.7H217.7zM203.2 196.7H210.4V198.0H203.2zM253.7 196.7H260.9V198.0H253.7zM188.8 199.3H196.0V200.6H188.8zM253.7 203.1H260.9V204.4H253.7zM289.8 203.1H297.0V204.4H289.8zM253.7 204.4H260.9V205.7H253.7zM282.6 213.3H289.8V214.6H282.6zM246.5 219.7H253.7V221.0H246.5zM253.7 221.0H260.9V222.2H253.7zM289.8 221.0H297.0V222.2H289.8zM203.2 226.1H210.4V227.3H203.2zM289.8 233.7H297.0V235.0H289.8zM232.1 246.5H239.3V247.7H232.1zM289.8 251.6H297.0V252.8H289.8zM203.2 255.4H210.4V256.7H203.2zM282.6 256.7H289.8V257.9H282.6zM203.2 263.0H210.4V264.3H203.2z"/>
<path fill="#d8d800" d="M203.2 55.2H210.4V56.5H203.2zM232.1 55.2H239.3V56.5H232.1zM224.9 56.5H232.1V57.8H224.9zM260.9 56.5H268.1V57.8H260.9zM196.0 57.8H203.2V59.0H196.0zM253.7 57.8H260.9V59.0H253.7zM239.3 59.0H246.5V60.3H239.3zM282.6 59.0H297.0V60.3H282.6zM188.8 60.3H203.2V61.6H188.8zM253.7 60.3H268.1V61.6H253.7zM282.6 60.3H289.8V61.6H282.6zM268.1 61.6H275.4V62.9H268.1zM282.6 61.6H289.8V62.9H282.6zM196.0 62.9H203.2V64.1H196.0zM224.9 62.9H232.1V64.1H224.9zM224.9 64.1H232.1V65.4H224.9zM253.7 64.1H260.9V65.4H253.7zM253.7 65.4H260.9V66.7H253.7zM224.9 66.7H239.3V68.0H224.9zM217.7 68.0H224.9V69.2H217.7zM282.6 68.0H289.8V69.2H282.6zM210.4 69.2H217.7V70.5H210.4zM224.9 69.2H232.1V70.5H224.9zM289.8 69.2H297.0V70.5H289.8zM224.9 70.5H239.3V71.8H224.9zM260.9 70.5H282.6V71.8H260.9zM275.4 71.8H282.6V73.1H275.4zM203.2 73.1H210.4V74.3H203.2zM239.3 73.1H246.5V74.3H239.3zM275.4 73.1H282.6V74.3H275.4zM203.2 75.6H210.4V76.9H203.2zM217.7 75.6H224.9V76.9H217.7zM260.9 75.6H268.1V76.9H260.9zM203.2 76.9H210.4V78.2H203.2zM246.5 76.9H253.7V78.2H246.5zM268.1 76.9H275.4V78.2H268.1zM289.8 76.9H297.0V78.2H289.8zM224.9 79.4H232.1V80.7H224.9zM268.1 79.4H275.4V80.7H268.1zM289.8 79.4H297.0V80.7H289.8zM210.4 80.7H217.7V82.0H210.4zM232.1 80.7H239.3V82.0H232.1zM260.9 80.7H268.1V82.0H260.9zM188.8 82.0H196.0V83.3H188.8zM203.2 82.0H210.4V83.3H203.2zM289.8 82.0H297.0V83.3H289.8zM196.0 83.3H203.2V84.5H196.0zM239.3 83.3H246.5V84.5H239.3zM253.7 83.3H260.9V84.5H253.7zM239.3 84.5H246.5V85.8H239.3zM203.2 87.1H224.9V88.4H203.2zM246.5 87.1H253.7V88.4H246.5zM268.1 87.1H282.6V88.4H268.1zM275.4 88.4H282.6V89.6H275.4zM289.8 88.4H297.0V89.6H289.8zM224.9 89.6H232.1V90.9H224.9zM246.5 89.6H253.7V90.9H246.5zM239.3 90.9H246.5V92.2H239.3zM268.1 90.9H275.4V92.2H268.1zM210.4 92.2H217.7V93.5H210.4zM224.9 92.2H232.1V93.5H224.9zM239.3 92.2H246.5V93.5H239.3zM260.9 92.2H268.1V93.5H260.9zM289.8 92.2H297.0V93.5H289.8zM203.2 93.5H210.4V94.7H203.2zM210.4 94.7H217.7V96.0H210.4zM196.0 96.0H203.2V97.3H196.0zM239.3 96.0H246.5V97.3H239.3zM253.7 96.0H260.9V97.3H253.7zM282.6 96.0H297.0V97.3H282.6zM232.1 97.3H239.3V98.6H232.1zM217.7 98.6H224.9V99.8H217.7zM275.4 98.6H282.6V99.8H275.4zM289.8 98.6H297.0V99.8H289.8zM232.1 99.8H239.3V101.1H232.1zM289.8 101.1H297.0V102.4H289.8zM196.0 102.4H203.2V103.7H196.0zM268.1 102.4H275.4V103.7H268.1zM289.8 102.4H297.0V103.7H289.8zM203.2 103.7H217.7V104.9H203.2zM253.7 103.7H260.9V104.9H253.7zM210.4 104.9H217.7V106.2H210.4zM232.1 104.9H246.5V106.2H232.1zM224.9 106.2H232.1V107.5H224.9zM246.5 106.2H253.7V107.5H246.5zM275.4 106.2H282.6V107.5H275.4zM289.8 106.2H297.0V107.5H289.8zM188.8 107.5H196.0V108.8H188.8zM260.9 107.5H275.4V108.8H260.9zM217.7 108.8H224.9V110.0H217.7zM246.5 108.8H260.9V110.0H246.5zM275.4 108.8H282.6V110.0H275.4zM289.8 110.0H297.0V111.3H289.8zM203.2 111.3H210.4V112.6H203.2zM246.5 112.6H253.7V113.9H246.5zM224.9 113.9H239.3V115.1H224.9zM289.8 113.9H297.0V115.1H289.8zM224.9 115.1H239.3V116.4H224.9zM253.7 115.1H268.1V116.4H253.7zM275.4 115.1H282.6V116.4H275.4zM224.9 116.4H232.1V117.7H224.9zM268.1 116.4H282.6V117.7H268.1zM188.8 117.7H196.0V119.0H188.8zM282.6 117.7H289.8V119.0H282.6zM253.7 119.0H260.9V120.2H253.7zM260.9 120.2H268.1V121.5H260.9zM282.6 120.2H297.0V121.5H282.6zM282.6 121.5H289.8V122.8H282.6zM224.9 122.8H232.1V124.1H224.9zM268.1 124.1H275.4V125.3H268.1zM188.8 125.3H196.0V126.6H188.8zM268.1 125.3H275.4V126.6H268.1zM232.1 126.6H239.3V127.9H232.1zM260.9 126.6H275.4V127.9H260.9zM268.1 127.9H275.4V129.2H268.1zM289.8 127.9H297.0V129.2H289.8zM275.4 129.2H282.6V130.4H275.4zM232.1 130.4H239.3V131.7H232.1zM282.6 130.4H289.8V131.7H282.6zM232.1 131.7H239.3V133.0H232.1zM260.9 131.7H268.1V133.0H260.9zM217.7 133.0H224.9V134.3H217.7zM246.5 133.0H253.7V134.3H246.5zM282.6 133.0H289.8V134.3H282.6zM217.7 134.3H224.9V135.5H217.7zM289.8 134.3H297.0V135.5H289.8zM188.8 136.8H196.0V138.1H188.8zM239.3 136.8H246.5V138.1H239.3zM188.8 138.1H196.0V139.4H188.8zM232.1 138.1H239.3V139.4H232.1zM246.5 139.4H253.7V140.6H246.5zM196.0 140.6H203.2V141.9H196.0zM217.7 140.6H224.9V141.9H217.7zM275.4 140.6H282.6V141.9H275.4zM260.9 141.9H268.1V143.2H260.9zM282.6 141.9H289.8V143.2H282.6zM246.5 143.2H253.7V144.5H246.5zM260.9 143.2H268.1V144.5H260.9zM232.1 144.5H239.3V145.7H232.1zM268.1 144.5H275.4V145.7H268.1zM268.1 145.7H275.4V147.0H268.1zM203.2 148.3H210.4V149.6H203.2zM246.5 148.3H260.9V149.6H246.5zM275.4 148.3H289.8V149.6H275.4zM210.4 149.6H217.7V150.8H210.4zM282.6 149.6H289.8V150.8H282.6zM210.4 150.8H217.7V152.1H210.4zM210.4 152.1H217.7V153.4H210.4zM282.6 152.1H289.8V153.4H282.6zM289.8 153.4H297.0V154.7H289.8zM268.1 154.7H275.4V155.9H268.1zM217.7 157.2H224.9V158.5H217.7zM253.7 157.2H260.9V158.5H253.7zM268.1 157.2H275.4V158.5H268.1zM210.4 158.5H217.7V159.8H210.4zM268.1 158.5H282.6V159.8H268.1zM224.9 159.8H239.3V161.0H224.9zM210.4 161.0H217.7V162.3H210.4zM210.4 162.3H217.7V163.6H210.4zM253.7 163.6H260.9V164.9H253.7zM268.1 164.9H282.6V166.1H268.1zM268.1 166.1H275.4V167.4H268.1zM210.4 167.4H217.7V168.7H210.4zM282.6 172.5H289.8V173.8H282.6zM282.6 173.8H289.8V175.1H282.6zM282.6 175.1H289.8V176.3H282.6zM289.8 176.3H297.0V177.6H289.8zM232.1 177.6H239.3V178.9H232.1zM268.1 181.4H275.4V182.7H268.1zM282.6 181.4H289.8V182.7H282.6zM217.7 184.0H224.9V185.3H217.7zM268.1 186.5H275.4V187.8H268.1zM232.1 190.4H239.3V191.6H232.1zM246.5 190.4H253.7V191.6H246.5zM253.7 194.2H260.9V195.5H253.7zM282.6 195.5H289.8V196.7H282.6zM253.7 198.0H260.9V199.3H253.7zM289.8 198.0H297.0V199.3H289.8zM282.6 208.2H289.8V209.5H282.6zM289.8 209.5H297.0V210.8H289.8zM289.8 213.3H297.0V214.6H289.8zM275.4 214.6H282.6V215.9H275.4zM253.7 218.4H260.9V219.7H253.7zM282.6 219.7H289.8V221.0H282.6zM210.4 221.0H217.7V222.2H210.4zM275.4 231.2H282.6V232.4H275.4zM289.8 242.6H297.0V243.9H289.8zM232.1 243.9H239.3V245.2H232.1zM217.7 246.5H224.9V247.7H217.7zM217.7 249.0H224.9V250.3H217.7zM232.1 251.6H239.3V252.8H232.1zM217.7 254.1H224.9V255.4H217.7zM268.1 255.4H275.4V256.7H268.1zM239.3 256.7H246.5V257.9H239.3zM268.1 256.7H275.4V257.9H268.1zM268.1 259.2H275.4V260.5H268.1z"/>
<path fill="#d0d000" d="M210.4 55.2H217.7V56.5H210.4zM253.7 55.2H260.9V56.5H253.7zM289.8 55.2H297.0V56.5H289.8zM289.8 56.5H297.0V57.8H289.8zM246.5 57.8H253.7V59.0H246.5zM203.2 59.0H210.4V60.3H203.2zM217.7 59.0H224.9V60.3H217.7zM246.5 59.0H253.7V60.3H246.5zM203.2 61.6H217.7V62.9H203.2zM239.3 61.6H246.5V62.9H239.3zM260.9 61.6H268.1V62.9H260.9zM210.4 62.9H224.9V64.1H210.4zM260.9 62.9H268.1V64.1H260.9zM289.8 62.9H297.0V64.1H289.8zM210.4 64.1H217.7V65.4H210.4zM282.6 64.1H289.8V65.4H282.6zM203.2 65.4H210.4V66.7H203.2zM268.1 66.7H275.4V68.0H268.1zM282.6 66.7H289.8V68.0H282.6zM260.9 69.2H275.4V70.5H260.9zM282.6 69.2H289.8V70.5H282.6zM232.1 73.1H239.3V74.3H232.1zM260.9 73.1H268.1V74.3H260.9zM203.2 74.3H210.4V75.6H203.2zM239.3 74.3H246.5V75.6H239.3zM210.4 75.6H217.7V76.9H210.4zM289.8 75.6H297.0V76.9H289.8zM196.0 76.9H203.2V78.2H196.0zM239.3 76.9H246.5V78.2H239.3zM239.3 78.2H246.5V79.4H239.3zM275.4 78.2H282.6V79.4H275.4zM268.1 80.7H275.4V82.0H268.1zM210.4 82.0H217.7V83.3H210.4zM224.9 83.3H232.1V84.5H224.9zM239.3 85.8H246.5V87.1H239.3zM275.4 85.8H282.6V87.1H275.4zM289.8 85.8H297.0V87.1H289.8zM253.7 87.1H260.9V88.4H253.7zM196.0 88.4H203.2V89.6H196.0zM268.1 88.4H275.4V89.6H268.1zM282.6 88.4H289.8V89.6H282.6zM196.0 89.6H203.2V90.9H196.0zM217.7 89.6H224.9V90.9H217.7zM268.1 89.6H289.8V90.9H268.1zM203.2 90.9H210.4V92.2H203.2zM224.9 90.9H232.1V92.2H224.9zM282.6 90.9H289.8V92.2H282.6zM224.9 93.5H232.1V94.7H224.9zM289.8 93.5H297.0V94.7H289.8zM239.3 94.7H246.5V96.0H239.3zM224.9 96.0H232.1V97.3H224.9zM275.4 96.0H282.6V97.3H275.4zM210.4 97.3H224.9V98.6H210.4zM232.1 98.6H239.3V99.8H232.1zM224.9 99.8H232.1V101.1H224.9zM289.8 99.8H297.0V101.1H289.8zM232.1 101.1H239.3V102.4H232.1zM246.5 101.1H253.7V102.4H246.5zM260.9 102.4H268.1V103.7H260.9zM188.8 103.7H196.0V104.9H188.8zM239.3 103.7H246.5V104.9H239.3zM275.4 104.9H282.6V106.2H275.4zM268.1 106.2H275.4V107.5H268.1zM282.6 106.2H289.8V107.5H282.6zM253.7 107.5H260.9V108.8H253.7zM275.4 107.5H282.6V108.8H275.4zM239.3 108.8H246.5V110.0H239.3zM224.9 111.3H232.1V112.6H224.9zM246.5 111.3H253.7V112.6H246.5zM260.9 111.3H268.1V112.6H260.9zM217.7 112.6H232.1V113.9H217.7zM239.3 112.6H246.5V113.9H239.3zM282.6 112.6H289.8V113.9H282.6zM196.0 113.9H203.2V115.1H196.0zM203.2 116.4H210.4V117.7H203.2zM253.7 116.4H260.9V117.7H253.7zM203.2 117.7H210.4V119.0H203.2zM224.9 117.7H232.1V119.0H224.9zM275.4 119.0H289.8V120.2H275.4zM196.0 120.2H203.2V121.5H196.0zM203.2 121.5H210.4V122.8H203.2zM203.2 122.8H210.4V124.1H203.2zM239.3 122.8H246.5V124.1H239.3zM260.9 122.8H268.1V124.1H260.9zM188.8 124.1H196.0V125.3H188.8zM239.3 126.6H246.5V127.9H239.3zM203.2 127.9H210.4V129.2H203.2zM188.8 129.2H196.0V130.4H188.8zM224.9 129.2H232.1V130.4H224.9zM289.8 129.2H297.0V130.4H289.8zM289.8 131.7H297.0V133.0H289.8zM224.9 133.0H232.1V134.3H224.9zM260.9 133.0H268.1V134.3H260.9zM253.7 135.5H260.9V136.8H253.7zM210.4 136.8H217.7V138.1H210.4zM260.9 136.8H268.1V138.1H260.9zM275.4 136.8H282.6V138.1H275.4zM275.4 138.1H282.6V139.4H275.4zM203.2 139.4H210.4V140.6H203.2zM260.9 139.4H268.1V140.6H260.9zM246.5 140.6H253.7V141.9H246.5zM260.9 140.6H268.1V141.9H260.9zM196.0 141.9H203.2V143.2H196.0zM239.3 141.9H253.7V143.2H239.3zM203.2 143.2H210.4V144.5H203.2zM217.7 144.5H224.9V145.7H217.7zM188.8 145.7H196.0V147.0H188.8zM217.7 145.7H224.9V147.0H217.7zM253.7 147.0H260.9V148.3H253.7zM232.1 148.3H239.3V149.6H232.1zM224.9 149.6H232.1V150.8H224.9zM289.8 150.8H297.0V152.1H289.8zM253.7 153.4H260.9V154.7H253.7zM224.9 154.7H232.1V155.9H224.9zM260.9 154.7H268.1V155.9H260.9zM203.2 155.9H210.4V157.2H203.2zM260.9 155.9H268.1V157.2H260.9zM246.5 157.2H253.7V158.5H246.5zM260.9 158.5H268.1V159.8H260.9zM289.8 158.5H297.0V159.8H289.8zM224.9 161.0H232.1V162.3H224.9zM246.5 161.0H260.9V162.3H246.5zM282.6 161.0H289.8V162.3H282.6zM253.7 164.9H260.9V166.1H253.7zM282.6 164.9H289.8V166.1H282.6zM268.1 172.5H275.4V173.8H268.1zM246.5 173.8H253.7V175.1H246.5zM289.8 175.1H297.0V176.3H289.8zM282.6 176.3H289.8V177.6H282.6zM282.6 177.6H289.8V178.9H282.6zM246.5 180.2H253.7V181.4H246.5zM268.1 180.2H275.4V181.4H268.1zM210.4 181.4H217.7V182.7H210.4zM282.6 184.0H289.8V185.3H282.6zM210.4 189.1H217.7V190.4H210.4zM203.2 190.4H210.4V191.6H203.2zM268.1 190.4H275.4V191.6H268.1zM239.3 191.6H246.5V192.9H239.3zM282.6 194.2H289.8V195.5H282.6zM268.1 195.5H275.4V196.7H268.1zM239.3 196.7H246.5V198.0H239.3zM239.3 199.3H246.5V200.6H239.3zM188.8 200.6H196.0V201.8H188.8zM282.6 200.6H289.8V201.8H282.6zM203.2 201.8H210.4V203.1H203.2zM289.8 201.8H297.0V203.1H289.8zM224.9 204.4H232.1V205.7H224.9zM289.8 205.7H297.0V206.9H289.8zM253.7 209.5H260.9V210.8H253.7zM239.3 210.8H246.5V212.0H239.3zM289.8 210.8H297.0V212.0H289.8zM289.8 214.6H297.0V215.9H289.8zM246.5 215.9H253.7V217.1H246.5zM275.4 215.9H289.8V217.1H275.4zM289.8 217.1H297.0V218.4H289.8zM203.2 218.4H210.4V219.7H203.2zM268.1 219.7H275.4V221.0H268.1zM282.6 221.0H289.8V222.2H282.6zM253.7 226.1H260.9V227.3H253.7zM246.5 228.6H253.7V229.9H246.5zM289.8 231.2H297.0V232.4H289.8zM217.7 232.4H224.9V233.7H217.7zM246.5 232.4H253.7V233.7H246.5zM210.4 233.7H217.7V235.0H210.4zM217.7 241.4H224.9V242.6H217.7zM260.9 243.9H268.1V245.2H260.9zM260.9 246.5H268.1V247.7H260.9zM289.8 246.5H297.0V247.7H289.8zM239.3 247.7H246.5V249.0H239.3zM282.6 247.7H289.8V249.0H282.6zM224.9 249.0H232.1V250.3H224.9zM217.7 251.6H224.9V252.8H217.7zM275.4 260.5H282.6V261.8H275.4zM275.4 261.8H282.6V263.0H275.4z"/>
<path fill="#e8e800" d="M224.9 55.2H232.1V56.5H224.9zM275.4 56.5H282.6V57.8H275.4zM260.9 57.8H268.1V59.0H260.9zM224.9 59.0H232.1V60.3H224.9zM275.4 59.0H282.6V60.3H275.4zM210.4 60.3H217.7V61.6H210.4zM224.9 61.6H232.1V62.9H224.9zM253.7 61.6H260.9V62.9H253.7zM224.9 65.4H232.1V66.7H224.9zM239.3 66.7H253.7V68.0H239.3zM260.9 66.7H268.1V68.0H260.9zM275.4 66.7H282.6V68.0H275.4zM232.1 68.0H239.3V69.2H232.1zM232.1 69.2H239.3V70.5H232.1zM253.7 69.2H260.9V70.5H253.7zM239.3 70.5H246.5V71.8H239.3zM282.6 70.5H289.8V71.8H282.6zM239.3 71.8H246.5V73.1H239.3zM282.6 73.1H289.8V74.3H282.6zM260.9 78.2H268.1V79.4H260.9zM289.8 78.2H297.0V79.4H289.8zM196.0 80.7H203.2V82.0H196.0zM224.9 82.0H232.1V83.3H224.9zM246.5 82.0H253.7V83.3H246.5zM210.4 83.3H217.7V84.5H210.4zM232.1 83.3H239.3V84.5H232.1zM232.1 84.5H239.3V85.8H232.1zM246.5 84.5H253.7V85.8H246.5zM203.2 85.8H217.7V87.1H203.2zM232.1 85.8H239.3V87.1H232.1zM260.9 85.8H268.1V87.1H260.9zM188.8 87.1H196.0V88.4H188.8zM232.1 87.1H239.3V88.4H232.1zM210.4 88.4H217.7V89.6H210.4zM239.3 88.4H246.5V89.6H239.3zM203.2 89.6H210.4V90.9H203.2zM253.7 90.9H260.9V92.2H253.7zM275.4 90.9H282.6V92.2H275.4zM289.8 90.9H297.0V92.2H289.8zM253.7 92.2H260.9V93.5H253.7zM268.1 92.2H275.4V93.5H268.1zM239.3 93.5H246.5V94.7H239.3zM224.9 94.7H232.1V96.0H224.9zM275.4 94.7H282.6V96.0H275.4zM239.3 97.3H246.5V98.6H239.3zM260.9 97.3H268.1V98.6H260.9zM282.6 98.6H289.8V99.8H282.6zM203.2 99.8H210.4V101.1H203.2zM217.7 99.8H224.9V101.1H217.7zM260.9 99.8H268.1V101.1H260.9zM275.4 99.8H282.6V101.1H275.4zM196.0 101.1H203.2V102.4H196.0zM210.4 101.1H224.9V102.4H210.4zM260.9 101.1H275.4V102.4H260.9zM282.6 101.1H289.8V102.4H282.6zM210.4 102.4H217.7V103.7H210.4zM232.1 102.4H246.5V103.7H232.1zM275.4 102.4H282.6V103.7H275.4zM217.7 103.7H224.9V104.9H217.7zM260.9 103.7H268.1V104.9H260.9zM275.4 103.7H282.6V104.9H275.4zM188.8 104.9H203.2V106.2H188.8zM253.7 104.9H260.9V106.2H253.7zM282.6 104.9H289.8V106.2H282.6zM196.0 106.2H203.2V107.5H196.0zM232.1 106.2H239.3V107.5H232.1zM253.7 106.2H260.9V107.5H253.7zM232.1 107.5H239.3V108.8H232.1zM232.1 108.8H239.3V110.0H232.1zM260.9 108.8H268.1V110.0H260.9zM188.8 110.0H196.0V111.3H188.8zM232.1 110.0H239.3V111.3H232.1zM188.8 111.3H196.0V112.6H188.8zM232.1 111.3H239.3V112.6H232.1zM275.4 111.3H282.6V112.6H275.4zM232.1 112.6H239.3V113.9H232.1zM289.8 115.1H297.0V116.4H289.8zM188.8 116.4H196.0V117.7H188.8zM246.5 117.7H260.9V119.0H246.5zM232.1 119.0H239.3V120.2H232.1zM246.5 119.0H253.7V120.2H246.5zM260.9 119.0H268.1V120.2H260.9zM232.1 120.2H239.3V121.5H232.1zM275.4 120.2H282.6V121.5H275.4zM224.9 121.5H239.3V122.8H224.9zM275.4 121.5H282.6V122.8H275.4zM268.1 122.8H275.4V124.1H268.1zM232.1 125.3H239.3V126.6H232.1zM260.9 125.3H268.1V126.6H260.9zM282.6 125.3H289.8V126.6H282.6zM188.8 126.6H196.0V127.9H188.8zM217.7 126.6H232.1V127.9H217.7zM275.4 127.9H282.6V129.2H275.4zM239.3 129.2H253.7V130.4H239.3zM260.9 129.2H275.4V130.4H260.9zM246.5 130.4H253.7V131.7H246.5zM260.9 130.4H268.1V131.7H260.9zM289.8 133.0H297.0V134.3H289.8zM268.1 134.3H275.4V135.5H268.1zM196.0 135.5H203.2V136.8H196.0zM232.1 135.5H239.3V136.8H232.1zM275.4 135.5H282.6V136.8H275.4zM196.0 136.8H203.2V138.1H196.0zM253.7 136.8H260.9V138.1H253.7zM282.6 136.8H289.8V138.1H282.6zM188.8 140.6H196.0V141.9H188.8zM282.6 140.6H289.8V141.9H282.6zM275.4 141.9H282.6V143.2H275.4zM275.4 145.7H282.6V147.0H275.4zM188.8 147.0H196.0V148.3H188.8zM239.3 147.0H246.5V148.3H239.3zM260.9 148.3H268.1V149.6H260.9zM275.4 150.8H282.6V152.1H275.4zM260.9 152.1H268.1V153.4H260.9zM275.4 154.7H289.8V155.9H275.4zM275.4 155.9H282.6V157.2H275.4zM232.1 157.2H239.3V158.5H232.1zM210.4 159.8H217.7V161.0H210.4zM232.1 162.3H239.3V163.6H232.1zM268.1 162.3H275.4V163.6H268.1zM289.8 164.9H297.0V166.1H289.8zM289.8 166.1H297.0V167.4H289.8zM253.7 167.4H260.9V168.7H253.7zM268.1 167.4H282.6V168.7H268.1zM253.7 168.7H260.9V170.0H253.7zM275.4 168.7H282.6V170.0H275.4zM275.4 170.0H282.6V171.2H275.4zM268.1 171.2H275.4V172.5H268.1zM289.8 172.5H297.0V173.8H289.8zM289.8 173.8H297.0V175.1H289.8zM246.5 177.6H253.7V178.9H246.5zM210.4 180.2H217.7V181.4H210.4zM282.6 182.7H289.8V184.0H282.6zM282.6 192.9H289.8V194.2H282.6zM289.8 196.7H297.0V198.0H289.8zM289.8 206.9H297.0V208.2H289.8zM232.1 210.8H239.3V212.0H232.1zM253.7 212.0H260.9V213.3H253.7zM289.8 226.1H297.0V227.3H289.8zM253.7 228.6H260.9V229.9H253.7zM282.6 228.6H289.8V229.9H282.6zM260.9 229.9H268.1V231.2H260.9zM282.6 229.9H289.8V231.2H282.6zM246.5 231.2H253.7V232.4H246.5zM260.9 232.4H268.1V233.7H260.9zM282.6 241.4H289.8V242.6H282.6zM217.7 245.2H224.9V246.5H217.7zM253.7 264.3H260.9V265.6H253.7z"/>
<path fill="#e0e000" d="M239.3 55.2H246.5V56.5H239.3zM253.7 56.5H260.9V57.8H253.7zM203.2 57.8H210.4V59.0H203.2zM289.8 57.8H297.0V59.0H289.8zM196.0 59.0H203.2V60.3H196.0zM232.1 59.0H239.3V60.3H232.1zM289.8 60.3H297.0V61.6H289.8zM232.1 61.6H239.3V62.9H232.1zM275.4 61.6H282.6V62.9H275.4zM275.4 62.9H282.6V64.1H275.4zM203.2 64.1H210.4V65.4H203.2zM260.9 64.1H268.1V65.4H260.9zM210.4 65.4H217.7V66.7H210.4zM268.1 65.4H275.4V66.7H268.1zM196.0 68.0H203.2V69.2H196.0zM268.1 68.0H282.6V69.2H268.1zM289.8 68.0H297.0V69.2H289.8zM196.0 69.2H203.2V70.5H196.0zM246.5 69.2H253.7V70.5H246.5zM289.8 70.5H297.0V71.8H289.8zM224.9 71.8H232.1V73.1H224.9zM246.5 71.8H253.7V73.1H246.5zM260.9 71.8H268.1V73.1H260.9zM282.6 71.8H297.0V73.1H282.6zM268.1 73.1H275.4V74.3H268.1zM289.8 73.1H297.0V74.3H289.8zM196.0 74.3H203.2V75.6H196.0zM217.7 74.3H224.9V75.6H217.7zM246.5 74.3H260.9V75.6H246.5zM196.0 75.6H203.2V76.9H196.0zM232.1 75.6H239.3V76.9H232.1zM275.4 75.6H282.6V76.9H275.4zM232.1 76.9H239.3V78.2H232.1zM282.6 76.9H289.8V78.2H282.6zM232.1 78.2H239.3V79.4H232.1zM246.5 78.2H253.7V79.4H246.5zM268.1 78.2H275.4V79.4H268.1zM217.7 79.4H224.9V80.7H217.7zM239.3 79.4H246.5V80.7H239.3zM275.4 79.4H282.6V80.7H275.4zM224.9 80.7H232.1V82.0H224.9zM289.8 80.7H297.0V82.0H289.8zM232.1 82.0H239.3V83.3H232.1zM253.7 82.0H260.9V83.3H253.7zM268.1 82.0H275.4V83.3H268.1zM282.6 82.0H289.8V83.3H282.6zM275.4 83.3H282.6V84.5H275.4zM224.9 84.5H232.1V85.8H224.9zM260.9 84.5H268.1V85.8H260.9zM289.8 84.5H297.0V85.8H289.8zM217.7 85.8H224.9V87.1H217.7zM268.1 85.8H275.4V87.1H268.1zM282.6 85.8H289.8V87.1H282.6zM260.9 87.1H268.1V88.4H260.9zM203.2 88.4H210.4V89.6H203.2zM217.7 88.4H224.9V89.6H217.7zM246.5 88.4H253.7V89.6H246.5zM289.8 89.6H297.0V90.9H289.8zM188.8 90.9H196.0V92.2H188.8zM217.7 90.9H224.9V92.2H217.7zM246.5 90.9H253.7V92.2H246.5zM246.5 92.2H253.7V93.5H246.5zM188.8 93.5H196.0V94.7H188.8zM210.4 93.5H224.9V94.7H210.4zM232.1 93.5H239.3V94.7H232.1zM188.8 94.7H203.2V96.0H188.8zM282.6 94.7H289.8V96.0H282.6zM232.1 96.0H239.3V97.3H232.1zM188.8 97.3H196.0V98.6H188.8zM224.9 97.3H232.1V98.6H224.9zM268.1 97.3H275.4V98.6H268.1zM196.0 98.6H203.2V99.8H196.0zM210.4 98.6H217.7V99.8H210.4zM196.0 99.8H203.2V101.1H196.0zM210.4 99.8H217.7V101.1H210.4zM246.5 99.8H253.7V101.1H246.5zM239.3 101.1H246.5V102.4H239.3zM217.7 102.4H224.9V103.7H217.7zM246.5 102.4H253.7V103.7H246.5zM289.8 103.7H297.0V104.9H289.8zM203.2 104.9H210.4V106.2H203.2zM224.9 104.9H232.1V106.2H224.9zM260.9 104.9H268.1V106.2H260.9zM210.4 106.2H217.7V107.5H210.4zM260.9 106.2H268.1V107.5H260.9zM224.9 107.5H232.1V108.8H224.9zM268.1 108.8H275.4V110.0H268.1zM289.8 108.8H297.0V110.0H289.8zM224.9 110.0H232.1V111.3H224.9zM253.7 110.0H260.9V111.3H253.7zM289.8 111.3H297.0V112.6H289.8zM275.4 113.9H282.6V115.1H275.4zM232.1 116.4H239.3V117.7H232.1zM282.6 116.4H297.0V117.7H282.6zM275.4 117.7H282.6V119.0H275.4zM253.7 121.5H260.9V122.8H253.7zM232.1 122.8H239.3V124.1H232.1zM246.5 122.8H253.7V124.1H246.5zM275.4 122.8H289.8V124.1H275.4zM289.8 124.1H297.0V125.3H289.8zM188.8 127.9H196.0V129.2H188.8zM224.9 127.9H232.1V129.2H224.9zM239.3 130.4H246.5V131.7H239.3zM217.7 131.7H232.1V133.0H217.7zM246.5 131.7H253.7V133.0H246.5zM268.1 133.0H275.4V134.3H268.1zM275.4 134.3H282.6V135.5H275.4zM203.2 135.5H210.4V136.8H203.2zM196.0 138.1H203.2V139.4H196.0zM239.3 138.1H246.5V139.4H239.3zM217.7 139.4H224.9V140.6H217.7zM282.6 139.4H289.8V140.6H282.6zM224.9 143.2H232.1V144.5H224.9zM253.7 143.2H260.9V144.5H253.7zM275.4 143.2H297.0V144.5H275.4zM239.3 144.5H246.5V145.7H239.3zM260.9 144.5H268.1V145.7H260.9zM232.1 145.7H239.3V147.0H232.1zM289.8 145.7H297.0V147.0H289.8zM203.2 147.0H210.4V148.3H203.2zM275.4 147.0H282.6V148.3H275.4zM289.8 149.6H297.0V150.8H289.8zM260.9 150.8H275.4V152.1H260.9zM232.1 155.9H239.3V157.2H232.1zM268.1 155.9H275.4V157.2H268.1zM203.2 157.2H210.4V158.5H203.2zM275.4 157.2H289.8V158.5H275.4zM224.9 158.5H232.1V159.8H224.9zM268.1 159.8H275.4V161.0H268.1zM268.1 163.6H282.6V164.9H268.1zM289.8 163.6H297.0V164.9H289.8zM253.7 170.0H260.9V171.2H253.7zM275.4 171.2H282.6V172.5H275.4zM289.8 171.2H297.0V172.5H289.8zM268.1 173.8H275.4V175.1H268.1zM268.1 176.3H275.4V177.6H268.1zM210.4 177.6H217.7V178.9H210.4zM246.5 178.9H253.7V180.2H246.5zM268.1 178.9H275.4V180.2H268.1zM282.6 180.2H289.8V181.4H282.6zM268.1 182.7H275.4V184.0H268.1zM210.4 186.5H217.7V187.8H210.4zM282.6 191.6H289.8V192.9H282.6zM275.4 192.9H282.6V194.2H275.4zM289.8 208.2H297.0V209.5H289.8zM246.5 209.5H253.7V210.8H246.5zM210.4 215.9H217.7V217.1H210.4zM289.8 215.9H297.0V217.1H289.8zM282.6 217.1H289.8V218.4H282.6zM282.6 222.2H289.8V223.5H282.6zM289.8 224.8H297.0V226.1H289.8zM246.5 227.3H253.7V228.6H246.5zM275.4 228.6H282.6V229.9H275.4zM217.7 233.7H224.9V235.0H217.7zM253.7 233.7H260.9V235.0H253.7zM282.6 240.1H289.8V241.4H282.6zM217.7 243.9H224.9V245.2H217.7zM224.9 247.7H232.1V249.0H224.9zM268.1 257.9H275.4V259.2H268.1z"/>
<path fill="#f8f800" d="M246.5 55.2H253.7V56.5H246.5zM260.9 55.2H289.8V56.5H260.9zM210.4 56.5H217.7V57.8H210.4zM268.1 56.5H275.4V57.8H268.1zM232.1 57.8H246.5V59.0H232.1zM275.4 57.8H282.6V59.0H275.4zM275.4 60.3H282.6V61.6H275.4zM196.0 61.6H203.2V62.9H196.0zM246.5 61.6H253.7V62.9H246.5zM289.8 61.6H297.0V62.9H289.8zM232.1 62.9H239.3V64.1H232.1zM268.1 62.9H275.4V64.1H268.1zM232.1 64.1H246.5V65.4H232.1zM275.4 64.1H282.6V65.4H275.4zM289.8 64.1H297.0V65.4H289.8zM232.1 65.4H239.3V66.7H232.1zM260.9 65.4H268.1V66.7H260.9zM203.2 66.7H210.4V68.0H203.2zM253.7 66.7H260.9V68.0H253.7zM239.3 68.0H260.9V69.2H239.3zM275.4 69.2H282.6V70.5H275.4zM232.1 71.8H239.3V73.1H232.1zM232.1 74.3H239.3V75.6H232.1zM275.4 74.3H282.6V75.6H275.4zM253.7 75.6H260.9V76.9H253.7zM224.9 76.9H232.1V78.2H224.9zM260.9 76.9H268.1V78.2H260.9zM282.6 78.2H289.8V79.4H282.6zM260.9 79.4H268.1V80.7H260.9zM260.9 82.0H268.1V83.3H260.9zM260.9 83.3H275.4V84.5H260.9zM289.8 83.3H297.0V84.5H289.8zM188.8 84.5H196.0V85.8H188.8zM268.1 84.5H275.4V85.8H268.1zM282.6 84.5H289.8V85.8H282.6zM282.6 87.1H289.8V88.4H282.6zM188.8 88.4H196.0V89.6H188.8zM224.9 88.4H239.3V89.6H224.9zM253.7 88.4H260.9V89.6H253.7zM232.1 89.6H246.5V90.9H232.1zM260.9 89.6H268.1V90.9H260.9zM232.1 90.9H239.3V92.2H232.1zM188.8 92.2H196.0V93.5H188.8zM260.9 93.5H289.8V94.7H260.9zM203.2 94.7H210.4V96.0H203.2zM217.7 94.7H224.9V96.0H217.7zM246.5 94.7H275.4V96.0H246.5zM203.2 96.0H210.4V97.3H203.2zM217.7 96.0H224.9V97.3H217.7zM246.5 96.0H253.7V97.3H246.5zM282.6 97.3H289.8V98.6H282.6zM260.9 98.6H268.1V99.8H260.9zM268.1 99.8H275.4V101.1H268.1zM282.6 99.8H289.8V101.1H282.6zM224.9 101.1H232.1V102.4H224.9zM203.2 102.4H210.4V103.7H203.2zM196.0 103.7H203.2V104.9H196.0zM217.7 104.9H224.9V106.2H217.7zM289.8 104.9H297.0V106.2H289.8zM239.3 107.5H246.5V108.8H239.3zM282.6 107.5H289.8V108.8H282.6zM253.7 111.3H260.9V112.6H253.7zM253.7 112.6H268.1V113.9H253.7zM253.7 113.9H260.9V115.1H253.7zM282.6 113.9H289.8V115.1H282.6zM282.6 115.1H289.8V116.4H282.6zM289.8 117.7H297.0V119.0H289.8zM232.1 124.1H239.3V125.3H232.1zM275.4 124.1H289.8V125.3H275.4zM275.4 125.3H282.6V126.6H275.4zM268.1 130.4H282.6V131.7H268.1zM268.1 131.7H282.6V133.0H268.1zM203.2 136.8H210.4V138.1H203.2zM203.2 138.1H210.4V139.4H203.2zM246.5 138.1H253.7V139.4H246.5zM196.0 139.4H203.2V140.6H196.0zM275.4 144.5H282.6V145.7H275.4zM289.8 144.5H297.0V145.7H289.8zM246.5 145.7H253.7V147.0H246.5zM246.5 147.0H253.7V148.3H246.5zM282.6 147.0H289.8V148.3H282.6zM282.6 150.8H289.8V152.1H282.6zM268.1 152.1H275.4V153.4H268.1zM232.1 158.5H239.3V159.8H232.1zM260.9 159.8H268.1V161.0H260.9zM232.1 161.0H239.3V162.3H232.1zM268.1 177.6H275.4V178.9H268.1zM210.4 178.9H217.7V180.2H210.4zM282.6 185.3H289.8V186.5H282.6zM253.7 192.9H260.9V194.2H253.7z"/>
<path fill="#303000" d="M188.8 56.5H196.0V57.8H188.8zM188.8 64.1H196.0V65.4H188.8zM210.4 73.1H217.7V74.3H210.4zM253.7 73.1H260.9V74.3H253.7zM196.0 85.8H203.2V87.1H196.0zM203.2 92.2H210.4V93.5H203.2zM196.0 107.5H203.2V108.8H196.0zM210.4 108.8H217.7V110.0H210.4zM203.2 110.0H210.4V111.3H203.2zM210.4 111.3H217.7V112.6H210.4zM268.1 111.3H275.4V112.6H268.1zM246.5 115.1H253.7V116.4H246.5zM217.7 117.7H224.9V119.0H217.7zM203.2 120.2H210.4V121.5H203.2zM210.4 127.9H217.7V129.2H210.4zM253.7 130.4H260.9V131.7H253.7zM210.4 131.7H217.7V133.0H210.4zM188.8 133.0H196.0V134.3H188.8zM224.9 135.5H232.1V136.8H224.9zM210.4 138.1H217.7V139.4H210.4zM217.7 141.9H224.9V143.2H217.7zM224.9 144.5H232.1V145.7H224.9zM232.1 147.0H239.3V148.3H232.1zM289.8 147.0H297.0V148.3H289.8zM239.3 148.3H246.5V149.6H239.3zM268.1 149.6H275.4V150.8H268.1zM217.7 150.8H224.9V152.1H217.7zM289.8 152.1H297.0V153.4H289.8zM196.0 154.7H210.4V155.9H196.0zM196.0 158.5H203.2V159.8H196.0zM253.7 159.8H260.9V161.0H253.7zM188.8 166.1H196.0V167.4H188.8zM289.8 168.7H297.0V170.0H289.8zM282.6 170.0H289.8V171.2H282.6zM239.3 177.6H246.5V178.9H239.3zM239.3 180.2H246.5V181.4H239.3zM260.9 181.4H268.1V182.7H260.9zM232.1 184.0H239.3V185.3H232.1zM289.8 184.0H297.0V185.3H289.8zM232.1 185.3H239.3V186.5H232.1zM268.1 185.3H275.4V186.5H268.1zM217.7 189.1H224.9V190.4H217.7zM246.5 191.6H253.7V192.9H246.5zM196.0 194.2H203.2V195.5H196.0zM232.1 195.5H246.5V196.7H232.1zM224.9 198.0H232.1V199.3H224.9zM275.4 199.3H282.6V200.6H275.4zM268.1 201.8H282.6V203.1H268.1zM210.4 203.1H217.7V204.4H210.4zM188.8 204.4H196.0V205.7H188.8zM239.3 204.4H246.5V205.7H239.3zM224.9 209.5H232.1V210.8H224.9zM282.6 209.5H289.8V210.8H282.6zM217.7 210.8H224.9V212.0H217.7zM196.0 217.1H203.2V218.4H196.0zM217.7 217.1H224.9V218.4H217.7zM196.0 221.0H203.2V222.2H196.0zM196.0 223.5H203.2V224.8H196.0zM224.9 224.8H232.1V226.1H224.9zM239.3 226.1H246.5V227.3H239.3zM203.2 227.3H210.4V228.6H203.2zM217.7 228.6H224.9V229.9H217.7zM224.9 231.2H232.1V232.4H224.9zM253.7 232.4H260.9V233.7H253.7zM246.5 235.0H253.7V236.3H246.5zM275.4 237.5H289.8V238.8H275.4zM196.0 240.1H203.2V241.4H196.0zM253.7 241.4H260.9V242.6H253.7zM224.9 243.9H232.1V245.2H224.9zM253.7 243.9H260.9V245.2H253.7zM188.8 245.2H196.0V246.5H188.8zM217.7 247.7H224.9V249.0H217.7zM260.9 247.7H268.1V249.0H260.9zM289.8 247.7H297.0V249.0H289.8zM203.2 249.0H210.4V250.3H203.2zM253.7 251.6H260.9V252.8H253.7zM210.4 254.1H217.7V255.4H210.4zM275.4 255.4H289.8V256.7H275.4zM188.8 259.2H196.0V260.5H188.8zM203.2 259.2H210.4V260.5H203.2zM246.5 260.5H253.7V261.8H246.5zM246.5 263.0H253.7V264.3H246.5zM203.2 264.3H217.7V265.6H203.2zM246.5 264.3H253.7V265.6H246.5z"/>
<path fill="#282800" d="M196.0 56.5H203.2V57.8H196.0zM217.7 57.8H224.9V59.0H217.7zM188.8 61.6H196.0V62.9H188.8zM210.4 71.8H217.7V73.1H210.4zM224.9 74.3H232.1V75.6H224.9zM217.7 76.9H224.9V78.2H217.7zM188.8 78.2H196.0V79.4H188.8zM253.7 78.2H260.9V79.4H253.7zM196.0 79.4H203.2V80.7H196.0zM282.6 80.7H289.8V82.0H282.6zM217.7 92.2H224.9V93.5H217.7zM239.3 111.3H246.5V112.6H239.3zM188.8 112.6H203.2V113.9H188.8zM217.7 113.9H224.9V115.1H217.7zM268.1 113.9H275.4V115.1H268.1zM210.4 116.4H217.7V117.7H210.4zM217.7 121.5H224.9V122.8H217.7zM196.0 124.1H203.2V125.3H196.0zM253.7 125.3H260.9V126.6H253.7zM196.0 127.9H203.2V129.2H196.0zM196.0 129.2H203.2V130.4H196.0zM253.7 133.0H260.9V134.3H253.7zM268.1 136.8H275.4V138.1H268.1zM268.1 139.4H275.4V140.6H268.1zM203.2 140.6H210.4V141.9H203.2zM232.1 140.6H239.3V141.9H232.1zM289.8 140.6H297.0V141.9H289.8zM268.1 143.2H275.4V144.5H268.1zM224.9 147.0H232.1V148.3H224.9zM246.5 149.6H253.7V150.8H246.5zM239.3 150.8H246.5V152.1H239.3zM217.7 155.9H224.9V157.2H217.7zM282.6 155.9H289.8V157.2H282.6zM253.7 158.5H260.9V159.8H253.7zM188.8 163.6H196.0V164.9H188.8zM203.2 164.9H210.4V166.1H203.2zM232.1 164.9H239.3V166.1H232.1zM232.1 166.1H239.3V167.4H232.1zM253.7 166.1H260.9V167.4H253.7zM210.4 168.7H217.7V170.0H210.4zM260.9 168.7H268.1V170.0H260.9zM210.4 172.5H217.7V173.8H210.4zM232.1 172.5H239.3V173.8H232.1zM217.7 176.3H224.9V177.6H217.7zM232.1 176.3H239.3V177.6H232.1zM188.8 177.6H196.0V178.9H188.8zM282.6 178.9H289.8V180.2H282.6zM253.7 181.4H260.9V182.7H253.7zM196.0 182.7H203.2V184.0H196.0zM188.8 185.3H196.0V186.5H188.8zM217.7 185.3H224.9V186.5H217.7zM196.0 186.5H210.4V187.8H196.0zM196.0 187.8H203.2V189.1H196.0zM224.9 187.8H232.1V189.1H224.9zM188.8 189.1H196.0V190.4H188.8zM239.3 189.1H246.5V190.4H239.3zM260.9 190.4H268.1V191.6H260.9zM275.4 190.4H282.6V191.6H275.4zM203.2 194.2H210.4V195.5H203.2zM224.9 194.2H239.3V195.5H224.9zM275.4 195.5H282.6V196.7H275.4zM196.0 198.0H203.2V199.3H196.0zM210.4 198.0H217.7V199.3H210.4zM239.3 198.0H246.5V199.3H239.3zM210.4 200.6H224.9V201.8H210.4zM275.4 200.6H282.6V201.8H275.4zM210.4 201.8H217.7V203.1H210.4zM203.2 203.1H210.4V204.4H203.2zM224.9 203.1H232.1V204.4H224.9zM260.9 203.1H268.1V204.4H260.9zM275.4 203.1H282.6V204.4H275.4zM246.5 205.7H253.7V206.9H246.5zM224.9 206.9H232.1V208.2H224.9zM210.4 210.8H217.7V212.0H210.4zM253.7 210.8H260.9V212.0H253.7zM210.4 212.0H224.9V213.3H210.4zM188.8 213.3H196.0V214.6H188.8zM232.1 214.6H239.3V215.9H232.1zM188.8 215.9H196.0V217.1H188.8zM253.7 217.1H260.9V218.4H253.7zM210.4 218.4H217.7V219.7H210.4zM224.9 218.4H232.1V219.7H224.9zM253.7 219.7H260.9V221.0H253.7zM289.8 219.7H297.0V221.0H289.8zM239.3 221.0H246.5V222.2H239.3zM210.4 222.2H217.7V223.5H210.4zM246.5 224.8H253.7V226.1H246.5zM224.9 226.1H232.1V227.3H224.9zM188.8 227.3H196.0V228.6H188.8zM289.8 227.3H297.0V228.6H289.8zM210.4 231.2H217.7V232.4H210.4zM268.1 233.7H275.4V235.0H268.1zM188.8 236.3H196.0V237.5H188.8zM275.4 236.3H282.6V237.5H275.4zM203.2 237.5H210.4V238.8H203.2zM239.3 237.5H246.5V238.8H239.3zM210.4 238.8H217.7V240.1H210.4zM232.1 238.8H239.3V240.1H232.1zM239.3 240.1H246.5V241.4H239.3zM239.3 241.4H246.5V242.6H239.3zM217.7 242.6H224.9V243.9H217.7zM232.1 242.6H239.3V243.9H232.1zM282.6 245.2H289.8V246.5H282.6zM253.7 246.5H260.9V247.7H253.7zM210.4 249.0H217.7V250.3H210.4zM246.5 249.0H253.7V250.3H246.5zM282.6 249.0H289.8V250.3H282.6zM224.9 250.3H239.3V251.6H224.9zM246.5 251.6H253.7V252.8H246.5zM282.6 252.8H289.8V254.1H282.6zM282.6 254.1H289.8V255.4H282.6zM217.7 255.4H224.9V256.7H217.7zM210.4 256.7H217.7V257.9H210.4zM188.8 257.9H196.0V259.2H188.8zM239.3 257.9H253.7V259.2H239.3zM188.8 261.8H196.0V263.0H188.8zM203.2 261.8H210.4V263.0H203.2zM224.9 263.0H232.1V264.3H224.9zM253.7 263.0H260.9V264.3H253.7z"/>
<path fill="#f0f000" d="M203.2 56.5H210.4V57.8H203.2zM232.1 56.5H253.7V57.8H232.1zM282.6 56.5H289.8V57.8H282.6zM210.4 57.8H217.7V59.0H210.4zM224.9 57.8H232.1V59.0H224.9zM268.1 57.8H275.4V59.0H268.1zM282.6 57.8H289.8V59.0H282.6zM253.7 59.0H275.4V60.3H253.7zM224.9 60.3H239.3V61.6H224.9zM246.5 60.3H253.7V61.6H246.5zM268.1 60.3H275.4V61.6H268.1zM239.3 62.9H246.5V64.1H239.3zM253.7 62.9H260.9V64.1H253.7zM282.6 62.9H289.8V64.1H282.6zM246.5 64.1H253.7V65.4H246.5zM268.1 64.1H275.4V65.4H268.1zM239.3 65.4H253.7V66.7H239.3zM275.4 65.4H297.0V66.7H275.4zM289.8 66.7H297.0V68.0H289.8zM260.9 68.0H268.1V69.2H260.9zM239.3 69.2H246.5V70.5H239.3zM246.5 70.5H253.7V71.8H246.5zM268.1 71.8H275.4V73.1H268.1zM268.1 74.3H275.4V75.6H268.1zM289.8 74.3H297.0V75.6H289.8zM239.3 75.6H253.7V76.9H239.3zM268.1 75.6H275.4V76.9H268.1zM224.9 78.2H232.1V79.4H224.9zM203.2 79.4H210.4V80.7H203.2zM188.8 80.7H196.0V82.0H188.8zM275.4 80.7H282.6V82.0H275.4zM196.0 82.0H203.2V83.3H196.0zM275.4 82.0H282.6V83.3H275.4zM188.8 83.3H196.0V84.5H188.8zM246.5 83.3H253.7V84.5H246.5zM282.6 83.3H289.8V84.5H282.6zM210.4 84.5H224.9V85.8H210.4zM253.7 84.5H260.9V85.8H253.7zM275.4 84.5H282.6V85.8H275.4zM188.8 85.8H196.0V87.1H188.8zM224.9 85.8H232.1V87.1H224.9zM246.5 85.8H260.9V87.1H246.5zM224.9 87.1H232.1V88.4H224.9zM289.8 87.1H297.0V88.4H289.8zM260.9 88.4H268.1V89.6H260.9zM188.8 89.6H196.0V90.9H188.8zM210.4 89.6H217.7V90.9H210.4zM253.7 89.6H260.9V90.9H253.7zM210.4 90.9H217.7V92.2H210.4zM260.9 90.9H268.1V92.2H260.9zM232.1 92.2H239.3V93.5H232.1zM275.4 92.2H289.8V93.5H275.4zM246.5 93.5H253.7V94.7H246.5zM232.1 94.7H239.3V96.0H232.1zM260.9 96.0H275.4V97.3H260.9zM203.2 97.3H210.4V98.6H203.2zM246.5 97.3H253.7V98.6H246.5zM275.4 97.3H282.6V98.6H275.4zM203.2 98.6H210.4V99.8H203.2zM239.3 98.6H253.7V99.8H239.3zM268.1 98.6H275.4V99.8H268.1zM239.3 99.8H246.5V101.1H239.3zM203.2 101.1H210.4V102.4H203.2zM275.4 101.1H282.6V102.4H275.4zM224.9 102.4H232.1V103.7H224.9zM282.6 102.4H289.8V103.7H282.6zM224.9 103.7H239.3V104.9H224.9zM246.5 103.7H253.7V104.9H246.5zM282.6 103.7H289.8V104.9H282.6zM246.5 104.9H253.7V106.2H246.5zM203.2 106.2H210.4V107.5H203.2zM217.7 106.2H224.9V107.5H217.7zM239.3 106.2H246.5V107.5H239.3zM203.2 107.5H210.4V108.8H203.2zM217.7 107.5H224.9V108.8H217.7zM246.5 107.5H253.7V108.8H246.5zM289.8 107.5H297.0V108.8H289.8zM188.8 108.8H196.0V110.0H188.8zM224.9 108.8H232.1V110.0H224.9zM282.6 108.8H289.8V110.0H282.6zM260.9 110.0H268.1V111.3H260.9zM275.4 110.0H282.6V111.3H275.4zM275.4 112.6H282.6V113.9H275.4zM260.9 113.9H268.1V115.1H260.9zM260.9 116.4H268.1V117.7H260.9zM232.1 117.7H239.3V119.0H232.1zM260.9 117.7H268.1V119.0H260.9zM224.9 119.0H232.1V120.2H224.9zM289.8 119.0H297.0V120.2H289.8zM224.9 120.2H232.1V121.5H224.9zM253.7 120.2H260.9V121.5H253.7zM260.9 121.5H268.1V122.8H260.9zM289.8 121.5H297.0V122.8H289.8zM289.8 122.8H297.0V124.1H289.8zM224.9 124.1H232.1V125.3H224.9zM217.7 125.3H232.1V126.6H217.7zM289.8 125.3H297.0V126.6H289.8zM275.4 126.6H282.6V127.9H275.4zM289.8 126.6H297.0V127.9H289.8zM232.1 127.9H246.5V129.2H232.1zM260.9 127.9H268.1V129.2H260.9zM232.1 129.2H239.3V130.4H232.1zM224.9 130.4H232.1V131.7H224.9zM289.8 130.4H297.0V131.7H289.8zM282.6 131.7H289.8V133.0H282.6zM232.1 133.0H239.3V134.3H232.1zM275.4 133.0H282.6V134.3H275.4zM232.1 134.3H239.3V135.5H232.1zM282.6 134.3H289.8V135.5H282.6zM282.6 135.5H289.8V136.8H282.6zM282.6 138.1H289.8V139.4H282.6zM188.8 139.4H196.0V140.6H188.8zM239.3 139.4H246.5V140.6H239.3zM275.4 139.4H282.6V140.6H275.4zM239.3 140.6H246.5V141.9H239.3zM224.9 141.9H232.1V143.2H224.9zM253.7 141.9H260.9V143.2H253.7zM239.3 143.2H246.5V144.5H239.3zM246.5 144.5H253.7V145.7H246.5zM282.6 144.5H289.8V145.7H282.6zM239.3 145.7H246.5V147.0H239.3zM282.6 145.7H289.8V147.0H282.6zM260.9 149.6H268.1V150.8H260.9zM268.1 153.4H275.4V154.7H268.1zM282.6 153.4H289.8V154.7H282.6zM253.7 154.7H260.9V155.9H253.7zM253.7 155.9H260.9V157.2H253.7zM260.9 161.0H275.4V162.3H260.9zM275.4 166.1H282.6V167.4H275.4zM268.1 175.1H275.4V176.3H268.1zM210.4 182.7H217.7V184.0H210.4zM210.4 184.0H217.7V185.3H210.4zM282.6 186.5H289.8V187.8H282.6zM268.1 187.8H275.4V189.1H268.1zM282.6 187.8H289.8V189.1H282.6zM268.1 189.1H275.4V190.4H268.1zM282.6 189.1H289.8V190.4H282.6zM282.6 190.4H289.8V191.6H282.6zM239.3 200.6H246.5V201.8H239.3zM253.7 213.3H260.9V214.6H253.7zM253.7 214.6H260.9V215.9H253.7zM253.7 227.3H260.9V228.6H253.7zM275.4 229.9H282.6V231.2H275.4zM260.9 231.2H268.1V232.4H260.9zM289.8 250.3H297.0V251.6H289.8zM253.7 256.7H260.9V257.9H253.7z"/>
<path fill="#c8c800" d="M217.7 56.5H224.9V57.8H217.7zM203.2 60.3H210.4V61.6H203.2zM239.3 60.3H246.5V61.6H239.3zM217.7 61.6H224.9V62.9H217.7zM196.0 65.4H203.2V66.7H196.0zM224.9 68.0H232.1V69.2H224.9zM196.0 71.8H203.2V73.1H196.0zM253.7 71.8H260.9V73.1H253.7zM196.0 73.1H203.2V74.3H196.0zM260.9 74.3H268.1V75.6H260.9zM217.7 78.2H224.9V79.4H217.7zM232.1 79.4H239.3V80.7H232.1zM239.3 80.7H246.5V82.0H239.3zM239.3 82.0H246.5V83.3H239.3zM196.0 84.5H210.4V85.8H196.0zM196.0 87.1H203.2V88.4H196.0zM239.3 87.1H246.5V88.4H239.3zM196.0 90.9H203.2V92.2H196.0zM196.0 92.2H203.2V93.5H196.0zM289.8 94.7H297.0V96.0H289.8zM210.4 96.0H217.7V97.3H210.4zM196.0 97.3H203.2V98.6H196.0zM253.7 97.3H260.9V98.6H253.7zM289.8 97.3H297.0V98.6H289.8zM224.9 98.6H232.1V99.8H224.9zM253.7 101.1H260.9V102.4H253.7zM210.4 107.5H217.7V108.8H210.4zM203.2 108.8H210.4V110.0H203.2zM246.5 110.0H253.7V111.3H246.5zM282.6 110.0H289.8V111.3H282.6zM203.2 112.6H210.4V113.9H203.2zM210.4 113.9H217.7V115.1H210.4zM246.5 113.9H253.7V115.1H246.5zM239.3 116.4H246.5V117.7H239.3zM246.5 121.5H253.7V122.8H246.5zM268.1 121.5H275.4V122.8H268.1zM217.7 122.8H224.9V124.1H217.7zM260.9 124.1H268.1V125.3H260.9zM239.3 125.3H246.5V126.6H239.3zM203.2 126.6H210.4V127.9H203.2zM282.6 127.9H289.8V129.2H282.6zM282.6 129.2H289.8V130.4H282.6zM217.7 130.4H224.9V131.7H217.7zM224.9 134.3H232.1V135.5H224.9zM239.3 134.3H246.5V135.5H239.3zM260.9 134.3H268.1V135.5H260.9zM188.8 135.5H196.0V136.8H188.8zM260.9 135.5H275.4V136.8H260.9zM217.7 136.8H224.9V138.1H217.7zM246.5 136.8H253.7V138.1H246.5zM224.9 138.1H232.1V139.4H224.9zM253.7 138.1H260.9V139.4H253.7zM210.4 139.4H217.7V140.6H210.4zM224.9 140.6H232.1V141.9H224.9zM253.7 140.6H260.9V141.9H253.7zM203.2 141.9H210.4V143.2H203.2zM232.1 141.9H239.3V143.2H232.1zM289.8 141.9H297.0V143.2H289.8zM196.0 143.2H203.2V144.5H196.0zM203.2 144.5H210.4V145.7H203.2zM260.9 147.0H268.1V148.3H260.9zM224.9 148.3H232.1V149.6H224.9zM289.8 148.3H297.0V149.6H289.8zM275.4 152.1H282.6V153.4H275.4zM203.2 153.4H210.4V154.7H203.2zM210.4 157.2H217.7V158.5H210.4zM282.6 158.5H289.8V159.8H282.6zM289.8 161.0H297.0V162.3H289.8zM275.4 162.3H289.8V163.6H275.4zM282.6 166.1H289.8V167.4H282.6zM268.1 168.7H275.4V170.0H268.1zM246.5 172.5H253.7V173.8H246.5zM217.7 181.4H224.9V182.7H217.7zM289.8 181.4H297.0V182.7H289.8zM203.2 189.1H210.4V190.4H203.2zM188.8 190.4H196.0V191.6H188.8zM217.7 190.4H224.9V191.6H217.7zM232.1 191.6H239.3V192.9H232.1zM253.7 191.6H260.9V192.9H253.7zM289.8 192.9H297.0V194.2H289.8zM260.9 194.2H268.1V195.5H260.9zM253.7 199.3H260.9V200.6H253.7zM239.3 201.8H246.5V203.1H239.3zM253.7 208.2H260.9V209.5H253.7zM210.4 214.6H217.7V215.9H210.4zM253.7 215.9H260.9V217.1H253.7zM275.4 218.4H282.6V219.7H275.4zM203.2 219.7H217.7V221.0H203.2zM224.9 219.7H232.1V221.0H224.9zM275.4 221.0H282.6V222.2H275.4zM210.4 226.1H217.7V227.3H210.4zM224.9 227.3H232.1V228.6H224.9zM246.5 229.9H253.7V231.2H246.5zM275.4 233.7H282.6V235.0H275.4zM268.1 235.0H275.4V236.3H268.1zM246.5 238.8H253.7V240.1H246.5zM210.4 242.6H217.7V243.9H210.4zM203.2 243.9H210.4V245.2H203.2zM232.1 245.2H239.3V246.5H232.1zM253.7 245.2H260.9V246.5H253.7zM246.5 246.5H253.7V247.7H246.5zM282.6 246.5H289.8V247.7H282.6zM260.9 249.0H268.1V250.3H260.9zM289.8 249.0H297.0V250.3H289.8zM196.0 252.8H203.2V254.1H196.0zM232.1 254.1H239.3V255.4H232.1zM253.7 255.4H260.9V256.7H253.7zM253.7 257.9H260.9V259.2H253.7zM246.5 259.2H253.7V260.5H246.5zM253.7 260.5H260.9V261.8H253.7zM239.3 261.8H246.5V263.0H239.3z"/>
<path fill="#202000" d="M188.8 57.8H196.0V59.0H188.8zM188.8 62.9H196.0V64.1H188.8zM203.2 69.2H210.4V70.5H203.2zM217.7 71.8H224.9V73.1H217.7zM253.7 99.8H260.9V101.1H253.7zM196.0 110.0H203.2V111.3H196.0zM210.4 112.6H217.7V113.9H210.4zM188.8 115.1H196.0V116.4H188.8zM268.1 115.1H275.4V116.4H268.1zM196.0 116.4H203.2V117.7H196.0zM217.7 116.4H224.9V117.7H217.7zM268.1 117.7H275.4V119.0H268.1zM210.4 119.0H217.7V120.2H210.4zM217.7 120.2H224.9V121.5H217.7zM239.3 120.2H246.5V121.5H239.3zM188.8 122.8H196.0V124.1H188.8zM210.4 122.8H217.7V124.1H210.4zM210.4 125.3H217.7V126.6H210.4zM217.7 127.9H224.9V129.2H217.7zM203.2 131.7H210.4V133.0H203.2zM268.1 140.6H275.4V141.9H268.1zM210.4 143.2H224.9V144.5H210.4zM210.4 153.4H217.7V154.7H210.4zM239.3 154.7H246.5V155.9H239.3zM289.8 155.9H297.0V157.2H289.8zM289.8 157.2H297.0V158.5H289.8zM246.5 159.8H253.7V161.0H246.5zM196.0 161.0H203.2V162.3H196.0zM275.4 161.0H282.6V162.3H275.4zM224.9 162.3H232.1V163.6H224.9zM210.4 163.6H224.9V164.9H210.4zM210.4 164.9H224.9V166.1H210.4zM188.8 167.4H196.0V168.7H188.8zM224.9 167.4H232.1V168.7H224.9zM217.7 170.0H232.1V171.2H217.7zM239.3 170.0H246.5V171.2H239.3zM239.3 171.2H246.5V172.5H239.3zM253.7 171.2H260.9V172.5H253.7zM239.3 173.8H246.5V175.1H239.3zM196.0 175.1H203.2V176.3H196.0zM217.7 175.1H224.9V176.3H217.7zM217.7 180.2H224.9V181.4H217.7zM275.4 181.4H282.6V182.7H275.4zM188.8 182.7H196.0V184.0H188.8zM260.9 182.7H268.1V184.0H260.9zM196.0 185.3H203.2V186.5H196.0zM253.7 185.3H260.9V186.5H253.7zM232.1 186.5H239.3V187.8H232.1zM253.7 186.5H260.9V187.8H253.7zM275.4 186.5H282.6V187.8H275.4zM239.3 187.8H246.5V189.1H239.3zM224.9 189.1H232.1V190.4H224.9zM268.1 191.6H275.4V192.9H268.1zM217.7 192.9H224.9V194.2H217.7zM253.7 195.5H260.9V196.7H253.7zM246.5 196.7H253.7V198.0H246.5zM188.8 198.0H196.0V199.3H188.8zM217.7 198.0H224.9V199.3H217.7zM282.6 198.0H289.8V199.3H282.6zM268.1 199.3H275.4V200.6H268.1zM203.2 200.6H210.4V201.8H203.2zM224.9 200.6H232.1V201.8H224.9zM246.5 200.6H253.7V201.8H246.5zM289.8 200.6H297.0V201.8H289.8zM232.1 203.1H239.3V204.4H232.1zM232.1 204.4H239.3V205.7H232.1zM268.1 204.4H275.4V205.7H268.1zM253.7 205.7H260.9V206.9H253.7zM268.1 205.7H275.4V206.9H268.1zM232.1 206.9H239.3V208.2H232.1zM260.9 209.5H268.1V210.8H260.9zM210.4 213.3H217.7V214.6H210.4zM268.1 213.3H275.4V214.6H268.1zM268.1 214.6H275.4V215.9H268.1zM239.3 215.9H246.5V217.1H239.3zM246.5 217.1H253.7V218.4H246.5zM268.1 217.1H275.4V218.4H268.1zM239.3 218.4H246.5V219.7H239.3zM268.1 218.4H275.4V219.7H268.1zM239.3 219.7H246.5V221.0H239.3zM275.4 222.2H282.6V223.5H275.4zM217.7 223.5H224.9V224.8H217.7zM188.8 224.8H196.0V226.1H188.8zM203.2 224.8H210.4V226.1H203.2zM217.7 224.8H224.9V226.1H217.7zM253.7 224.8H260.9V226.1H253.7zM260.9 226.1H275.4V227.3H260.9zM282.6 226.1H289.8V227.3H282.6zM188.8 228.6H196.0V229.9H188.8zM260.9 228.6H268.1V229.9H260.9zM188.8 229.9H196.0V231.2H188.8zM217.7 229.9H224.9V231.2H217.7zM253.7 229.9H260.9V231.2H253.7zM239.3 231.2H246.5V232.4H239.3zM282.6 231.2H289.8V232.4H282.6zM224.9 232.4H232.1V233.7H224.9zM203.2 233.7H210.4V235.0H203.2zM232.1 233.7H239.3V235.0H232.1zM217.7 235.0H224.9V236.3H217.7zM275.4 235.0H282.6V236.3H275.4zM246.5 236.3H253.7V237.5H246.5zM246.5 237.5H253.7V238.8H246.5zM188.8 240.1H196.0V241.4H188.8zM289.8 240.1H297.0V241.4H289.8zM246.5 241.4H253.7V242.6H246.5zM224.9 242.6H232.1V243.9H224.9zM224.9 245.2H232.1V246.5H224.9zM188.8 246.5H196.0V247.7H188.8zM203.2 246.5H210.4V247.7H203.2zM232.1 247.7H239.3V249.0H232.1zM246.5 247.7H253.7V249.0H246.5zM188.8 252.8H196.0V254.1H188.8zM196.0 254.1H203.2V255.4H196.0zM275.4 254.1H282.6V255.4H275.4zM232.1 256.7H239.3V257.9H232.1zM203.2 257.9H210.4V259.2H203.2zM196.0 260.5H203.2V261.8H196.0zM268.1 260.5H275.4V261.8H268.1zM282.6 263.0H289.8V264.3H282.6zM188.8 264.3H196.0V265.6H188.8z"/>
<path fill="#606000" d="M188.8 59.0H196.0V60.3H188.8zM196.0 64.1H203.2V65.4H196.0zM196.0 66.7H203.2V68.0H196.0zM253.7 80.7H260.9V82.0H253.7zM203.2 83.3H210.4V84.5H203.2zM188.8 96.0H196.0V97.3H188.8zM268.1 103.7H275.4V104.9H268.1zM268.1 110.0H275.4V111.3H268.1zM282.6 111.3H289.8V112.6H282.6zM239.3 113.9H246.5V115.1H239.3zM210.4 115.1H217.7V116.4H210.4zM268.1 120.2H275.4V121.5H268.1zM196.0 121.5H203.2V122.8H196.0zM196.0 134.3H203.2V135.5H196.0zM210.4 135.5H217.7V136.8H210.4zM232.1 143.2H239.3V144.5H232.1zM275.4 153.4H282.6V154.7H275.4zM275.4 180.2H282.6V181.4H275.4zM246.5 186.5H253.7V187.8H246.5zM210.4 190.4H217.7V191.6H210.4zM188.8 191.6H196.0V192.9H188.8zM289.8 195.5H297.0V196.7H289.8zM232.1 208.2H239.3V209.5H232.1zM246.5 208.2H253.7V209.5H246.5zM275.4 208.2H282.6V209.5H275.4zM246.5 210.8H253.7V212.0H246.5zM232.1 212.0H239.3V213.3H232.1zM289.8 212.0H297.0V213.3H289.8zM203.2 215.9H210.4V217.1H203.2zM203.2 217.1H210.4V218.4H203.2zM224.9 223.5H232.1V224.8H224.9zM224.9 228.6H232.1V229.9H224.9zM289.8 232.4H297.0V233.7H289.8zM210.4 235.0H217.7V236.3H210.4zM260.9 236.3H268.1V237.5H260.9zM203.2 242.6H210.4V243.9H203.2zM232.1 252.8H239.3V254.1H232.1zM268.1 254.1H275.4V255.4H268.1z"/>
<path fill="#707000" d="M210.4 59.0H217.7V60.3H210.4zM246.5 79.4H253.7V80.7H246.5zM246.5 80.7H253.7V82.0H246.5zM188.8 106.2H196.0V107.5H188.8zM196.0 119.0H203.2V120.2H196.0zM232.1 136.8H239.3V138.1H232.1zM210.4 140.6H217.7V141.9H210.4zM289.8 159.8H297.0V161.0H289.8zM289.8 204.4H297.0V205.7H289.8zM232.1 209.5H239.3V210.8H232.1z"/>
<path fill="#383800" d="M217.7 60.3H224.9V61.6H217.7zM203.2 62.9H210.4V64.1H203.2zM188.8 66.7H196.0V68.0H188.8zM188.8 71.8H196.0V73.1H188.8zM246.5 73.1H253.7V74.3H246.5zM210.4 74.3H217.7V75.6H210.4zM282.6 74.3H289.8V75.6H282.6zM203.2 78.2H210.4V79.4H203.2zM239.3 115.1H246.5V116.4H239.3zM246.5 120.2H253.7V121.5H246.5zM196.0 122.8H203.2V124.1H196.0zM253.7 126.6H260.9V127.9H253.7zM282.6 126.6H289.8V127.9H282.6zM210.4 129.2H217.7V130.4H210.4zM239.3 133.0H246.5V134.3H239.3zM224.9 136.8H232.1V138.1H224.9zM253.7 139.4H260.9V140.6H253.7zM203.2 145.7H210.4V147.0H203.2zM196.0 148.3H203.2V149.6H196.0zM188.8 149.6H196.0V150.8H188.8zM232.1 149.6H239.3V150.8H232.1zM253.7 149.6H260.9V150.8H253.7zM196.0 150.8H210.4V152.1H196.0zM260.9 153.4H268.1V154.7H260.9zM289.8 154.7H297.0V155.9H289.8zM239.3 155.9H253.7V157.2H239.3zM224.9 157.2H232.1V158.5H224.9zM239.3 158.5H246.5V159.8H239.3zM203.2 162.3H210.4V163.6H203.2zM203.2 163.6H210.4V164.9H203.2zM224.9 163.6H232.1V164.9H224.9zM282.6 163.6H289.8V164.9H282.6zM224.9 164.9H232.1V166.1H224.9zM239.3 164.9H246.5V166.1H239.3zM196.0 167.4H203.2V168.7H196.0zM260.9 167.4H268.1V168.7H260.9zM203.2 168.7H210.4V170.0H203.2zM188.8 170.0H196.0V171.2H188.8zM188.8 172.5H196.0V173.8H188.8zM196.0 173.8H203.2V175.1H196.0zM224.9 173.8H232.1V175.1H224.9zM275.4 173.8H282.6V175.1H275.4zM232.1 175.1H239.3V176.3H232.1zM196.0 176.3H210.4V177.6H196.0zM260.9 177.6H268.1V178.9H260.9zM239.3 178.9H246.5V180.2H239.3zM196.0 180.2H210.4V181.4H196.0zM232.1 180.2H239.3V181.4H232.1zM224.9 182.7H232.1V184.0H224.9zM188.8 184.0H196.0V185.3H188.8zM246.5 184.0H253.7V185.3H246.5zM217.7 186.5H224.9V187.8H217.7zM246.5 189.1H253.7V190.4H246.5zM188.8 194.2H196.0V195.5H188.8zM203.2 195.5H217.7V196.7H203.2zM224.9 195.5H232.1V196.7H224.9zM282.6 196.7H289.8V198.0H282.6zM188.8 201.8H196.0V203.1H188.8zM260.9 201.8H268.1V203.1H260.9zM188.8 203.1H196.0V204.4H188.8zM217.7 203.1H224.9V204.4H217.7zM210.4 206.9H217.7V208.2H210.4zM246.5 206.9H253.7V208.2H246.5zM260.9 210.8H268.1V212.0H260.9zM232.1 213.3H239.3V214.6H232.1zM203.2 214.6H210.4V215.9H203.2zM246.5 214.6H253.7V215.9H246.5zM260.9 217.1H268.1V218.4H260.9zM289.8 218.4H297.0V219.7H289.8zM260.9 219.7H268.1V221.0H260.9zM224.9 221.0H232.1V222.2H224.9zM268.1 221.0H275.4V222.2H268.1zM232.1 223.5H246.5V224.8H232.1zM268.1 227.3H275.4V228.6H268.1zM239.3 228.6H246.5V229.9H239.3zM203.2 229.9H210.4V231.2H203.2zM268.1 229.9H275.4V231.2H268.1zM268.1 232.4H282.6V233.7H268.1zM260.9 233.7H268.1V235.0H260.9zM268.1 237.5H275.4V238.8H268.1zM268.1 238.8H275.4V240.1H268.1zM224.9 240.1H232.1V241.4H224.9zM268.1 240.1H275.4V241.4H268.1zM188.8 241.4H196.0V242.6H188.8zM210.4 241.4H217.7V242.6H210.4zM289.8 245.2H297.0V246.5H289.8zM268.1 251.6H282.6V252.8H268.1zM268.1 252.8H282.6V254.1H268.1zM196.0 255.4H203.2V256.7H196.0zM232.1 255.4H239.3V256.7H232.1zM246.5 255.4H253.7V256.7H246.5zM196.0 256.7H203.2V257.9H196.0zM210.4 257.9H217.7V259.2H210.4zM282.6 257.9H289.8V259.2H282.6zM210.4 259.2H217.7V260.5H210.4zM275.4 259.2H282.6V260.5H275.4zM203.2 260.5H210.4V261.8H203.2zM217.7 260.5H224.9V261.8H217.7zM239.3 260.5H246.5V261.8H239.3zM289.8 261.8H297.0V263.0H289.8zM275.4 263.0H282.6V264.3H275.4zM260.9 264.3H268.1V265.6H260.9z"/>
<path fill="#ffff00" d="M246.5 62.9H253.7V64.1H246.5zM203.2 80.7H210.4V82.0H203.2zM253.7 93.5H260.9V94.7H253.7zM210.4 185.3H217.7V186.5H210.4z"/>
<path fill="#b8b800" d="M217.7 64.1H224.9V65.4H217.7zM217.7 119.0H224.9V120.2H217.7zM196.0 130.4H203.2V131.7H196.0zM203.2 133.0H210.4V134.3H203.2zM268.1 138.1H275.4V139.4H268.1zM210.4 144.5H217.7V145.7H210.4zM253.7 150.8H260.9V152.1H253.7zM217.7 153.4H224.9V154.7H217.7zM196.0 157.2H203.2V158.5H196.0zM203.2 170.0H210.4V171.2H203.2zM203.2 178.9H210.4V180.2H203.2zM275.4 178.9H282.6V180.2H275.4zM188.8 180.2H196.0V181.4H188.8zM268.1 184.0H275.4V185.3H268.1zM232.1 196.7H239.3V198.0H232.1zM246.5 198.0H253.7V199.3H246.5zM224.9 217.1H232.1V218.4H224.9zM203.2 228.6H210.4V229.9H203.2zM289.8 237.5H297.0V238.8H289.8zM239.3 259.2H246.5V260.5H239.3z"/>
<path fill="#080800" d="M188.8 65.4H196.0V66.7H188.8zM268.1 112.6H275.4V113.9H268.1zM210.4 117.7H217.7V119.0H210.4zM210.4 126.6H217.7V127.9H210.4zM253.7 131.7H260.9V133.0H253.7zM188.8 143.2H196.0V144.5H188.8zM246.5 150.8H253.7V152.1H246.5zM246.5 152.1H253.7V153.4H246.5zM188.8 154.7H196.0V155.9H188.8zM188.8 157.2H196.0V158.5H188.8zM188.8 159.8H196.0V161.0H188.8zM239.3 159.8H246.5V161.0H239.3zM239.3 161.0H246.5V162.3H239.3zM217.7 162.3H224.9V163.6H217.7zM260.9 163.6H268.1V164.9H260.9zM246.5 164.9H253.7V166.1H246.5zM239.3 166.1H246.5V167.4H239.3zM188.8 168.7H196.0V170.0H188.8zM217.7 168.7H239.3V170.0H217.7zM217.7 171.2H224.9V172.5H217.7zM232.1 171.2H239.3V172.5H232.1zM196.0 172.5H203.2V173.8H196.0zM253.7 172.5H260.9V173.8H253.7zM239.3 175.1H246.5V176.3H239.3zM253.7 175.1H260.9V176.3H253.7zM275.4 176.3H282.6V177.6H275.4zM253.7 180.2H268.1V181.4H253.7zM239.3 181.4H246.5V182.7H239.3zM232.1 182.7H239.3V184.0H232.1zM260.9 184.0H268.1V185.3H260.9zM188.8 186.5H196.0V187.8H188.8zM217.7 187.8H224.9V189.1H217.7zM253.7 187.8H260.9V189.1H253.7zM275.4 187.8H282.6V189.1H275.4zM260.9 189.1H268.1V190.4H260.9zM203.2 192.9H210.4V194.2H203.2zM224.9 192.9H232.1V194.2H224.9zM188.8 195.5H196.0V196.7H188.8zM188.8 196.7H196.0V198.0H188.8zM196.0 199.3H203.2V200.6H196.0zM210.4 199.3H224.9V200.6H210.4zM260.9 199.3H268.1V200.6H260.9zM196.0 201.8H203.2V203.1H196.0zM217.7 201.8H232.1V203.1H217.7zM282.6 203.1H289.8V204.4H282.6zM188.8 205.7H203.2V206.9H188.8zM239.3 205.7H246.5V206.9H239.3zM188.8 206.9H196.0V208.2H188.8zM268.1 206.9H275.4V208.2H268.1zM196.0 208.2H203.2V209.5H196.0zM210.4 208.2H217.7V209.5H210.4zM260.9 208.2H268.1V209.5H260.9zM203.2 209.5H224.9V210.8H203.2zM196.0 210.8H203.2V212.0H196.0zM282.6 210.8H289.8V212.0H282.6zM196.0 212.0H203.2V213.3H196.0zM260.9 212.0H282.6V213.3H260.9zM217.7 213.3H224.9V214.6H217.7zM260.9 213.3H268.1V214.6H260.9zM217.7 215.9H224.9V217.1H217.7zM232.1 215.9H239.3V217.1H232.1zM188.8 217.1H196.0V218.4H188.8zM196.0 218.4H203.2V219.7H196.0zM260.9 218.4H268.1V219.7H260.9zM196.0 222.2H203.2V223.5H196.0zM232.1 222.2H246.5V223.5H232.1zM268.1 222.2H275.4V223.5H268.1zM268.1 223.5H275.4V224.8H268.1zM196.0 224.8H203.2V226.1H196.0zM239.3 224.8H246.5V226.1H239.3zM260.9 224.8H268.1V226.1H260.9zM275.4 224.8H282.6V226.1H275.4zM196.0 226.1H203.2V227.3H196.0zM232.1 226.1H239.3V227.3H232.1zM217.7 227.3H224.9V228.6H217.7zM268.1 228.6H275.4V229.9H268.1zM289.8 228.6H297.0V229.9H289.8zM188.8 233.7H196.0V235.0H188.8zM224.9 235.0H232.1V236.3H224.9zM224.9 236.3H239.3V237.5H224.9zM196.0 237.5H203.2V238.8H196.0zM196.0 238.8H203.2V240.1H196.0zM260.9 240.1H268.1V241.4H260.9zM232.1 241.4H239.3V242.6H232.1zM275.4 241.4H282.6V242.6H275.4zM188.8 242.6H196.0V243.9H188.8zM275.4 242.6H282.6V243.9H275.4zM188.8 243.9H196.0V245.2H188.8zM246.5 243.9H253.7V245.2H246.5zM210.4 245.2H217.7V246.5H210.4zM239.3 245.2H246.5V246.5H239.3zM268.1 245.2H275.4V246.5H268.1zM268.1 246.5H275.4V247.7H268.1zM188.8 247.7H196.0V249.0H188.8zM275.4 247.7H282.6V249.0H275.4zM196.0 250.3H210.4V251.6H196.0zM253.7 250.3H260.9V251.6H253.7zM282.6 250.3H289.8V251.6H282.6zM188.8 251.6H196.0V252.8H188.8zM239.3 251.6H246.5V252.8H239.3zM289.8 254.1H297.0V255.4H289.8zM224.9 255.4H232.1V256.7H224.9zM217.7 256.7H224.9V257.9H217.7zM217.7 259.2H224.9V260.5H217.7zM282.6 259.2H289.8V260.5H282.6zM210.4 260.5H217.7V261.8H210.4zM224.9 260.5H239.3V261.8H224.9zM282.6 260.5H289.8V261.8H282.6zM210.4 261.8H217.7V263.0H210.4zM246.5 261.8H253.7V263.0H246.5zM289.8 263.0H297.0V264.3H289.8zM239.3 264.3H246.5V265.6H239.3z"/>
<path fill="#181800" d="M217.7 65.4H224.9V66.7H217.7zM210.4 66.7H217.7V68.0H210.4zM188.8 68.0H196.0V69.2H188.8zM188.8 74.3H196.0V75.6H188.8zM282.6 75.6H289.8V76.9H282.6zM210.4 76.9H217.7V78.2H210.4zM217.7 80.7H224.9V82.0H217.7zM253.7 98.6H260.9V99.8H253.7zM188.8 101.1H196.0V102.4H188.8zM188.8 102.4H196.0V103.7H188.8zM239.3 110.0H246.5V111.3H239.3zM217.7 111.3H224.9V112.6H217.7zM203.2 113.9H210.4V115.1H203.2zM246.5 116.4H253.7V117.7H246.5zM203.2 119.0H210.4V120.2H203.2zM239.3 119.0H246.5V120.2H239.3zM239.3 121.5H246.5V122.8H239.3zM246.5 125.3H253.7V126.6H246.5zM246.5 126.6H253.7V127.9H246.5zM253.7 127.9H260.9V129.2H253.7zM210.4 133.0H217.7V134.3H210.4zM289.8 138.1H297.0V139.4H289.8zM268.1 147.0H275.4V148.3H268.1zM268.1 148.3H275.4V149.6H268.1zM217.7 149.6H224.9V150.8H217.7zM239.3 149.6H246.5V150.8H239.3zM224.9 150.8H232.1V152.1H224.9zM188.8 153.4H196.0V154.7H188.8zM232.1 153.4H239.3V154.7H232.1zM196.0 155.9H203.2V157.2H196.0zM210.4 155.9H217.7V157.2H210.4zM188.8 158.5H196.0V159.8H188.8zM203.2 158.5H210.4V159.8H203.2zM217.7 158.5H224.9V159.8H217.7zM246.5 158.5H253.7V159.8H246.5zM217.7 159.8H224.9V161.0H217.7zM232.1 163.6H239.3V164.9H232.1zM246.5 163.6H253.7V164.9H246.5zM196.0 164.9H203.2V166.1H196.0zM217.7 166.1H232.1V167.4H217.7zM217.7 167.4H224.9V168.7H217.7zM289.8 167.4H297.0V168.7H289.8zM232.1 170.0H239.3V171.2H232.1zM196.0 171.2H203.2V172.5H196.0zM246.5 171.2H253.7V172.5H246.5zM275.4 172.5H282.6V173.8H275.4zM217.7 173.8H224.9V175.1H217.7zM203.2 175.1H210.4V176.3H203.2zM260.9 175.1H268.1V176.3H260.9zM188.8 176.3H196.0V177.6H188.8zM203.2 177.6H210.4V178.9H203.2zM217.7 177.6H224.9V178.9H217.7zM253.7 178.9H268.1V180.2H253.7zM289.8 180.2H297.0V181.4H289.8zM203.2 181.4H210.4V182.7H203.2zM246.5 181.4H253.7V182.7H246.5zM203.2 182.7H210.4V184.0H203.2zM239.3 182.7H260.9V184.0H239.3zM275.4 182.7H282.6V184.0H275.4zM239.3 185.3H253.7V186.5H239.3zM275.4 185.3H282.6V186.5H275.4zM203.2 187.8H210.4V189.1H203.2zM239.3 190.4H246.5V191.6H239.3zM196.0 191.6H210.4V192.9H196.0zM217.7 191.6H224.9V192.9H217.7zM196.0 192.9H203.2V194.2H196.0zM260.9 192.9H268.1V194.2H260.9zM268.1 194.2H275.4V195.5H268.1zM289.8 194.2H297.0V195.5H289.8zM196.0 196.7H203.2V198.0H196.0zM268.1 196.7H275.4V198.0H268.1zM260.9 198.0H268.1V199.3H260.9zM196.0 200.6H203.2V201.8H196.0zM232.1 200.6H239.3V201.8H232.1zM196.0 203.1H203.2V204.4H196.0zM246.5 203.1H253.7V204.4H246.5zM210.4 204.4H217.7V205.7H210.4zM210.4 205.7H224.9V206.9H210.4zM196.0 206.9H203.2V208.2H196.0zM253.7 206.9H260.9V208.2H253.7zM275.4 206.9H282.6V208.2H275.4zM188.8 208.2H196.0V209.5H188.8zM239.3 208.2H246.5V209.5H239.3zM268.1 208.2H275.4V209.5H268.1zM203.2 210.8H210.4V212.0H203.2zM188.8 212.0H196.0V213.3H188.8zM224.9 214.6H232.1V215.9H224.9zM260.9 214.6H268.1V215.9H260.9zM196.0 215.9H203.2V217.1H196.0zM210.4 217.1H217.7V218.4H210.4zM188.8 218.4H196.0V219.7H188.8zM246.5 218.4H253.7V219.7H246.5zM188.8 221.0H196.0V222.2H188.8zM217.7 221.0H224.9V222.2H217.7zM232.1 221.0H239.3V222.2H232.1zM246.5 221.0H253.7V222.2H246.5zM260.9 221.0H268.1V222.2H260.9zM203.2 223.5H210.4V224.8H203.2zM275.4 223.5H282.6V224.8H275.4zM268.1 224.8H275.4V226.1H268.1zM210.4 227.3H217.7V228.6H210.4zM282.6 227.3H289.8V228.6H282.6zM210.4 228.6H217.7V229.9H210.4zM232.1 228.6H239.3V229.9H232.1zM224.9 229.9H232.1V231.2H224.9zM239.3 229.9H246.5V231.2H239.3zM289.8 229.9H297.0V231.2H289.8zM268.1 231.2H275.4V232.4H268.1zM196.0 233.7H203.2V235.0H196.0zM260.9 235.0H268.1V236.3H260.9zM253.7 236.3H260.9V237.5H253.7zM289.8 236.3H297.0V237.5H289.8zM253.7 238.8H268.1V240.1H253.7zM246.5 240.1H253.7V241.4H246.5zM268.1 241.4H275.4V242.6H268.1zM289.8 241.4H297.0V242.6H289.8zM196.0 242.6H203.2V243.9H196.0zM260.9 242.6H268.1V243.9H260.9zM210.4 243.9H217.7V245.2H210.4zM282.6 243.9H289.8V245.2H282.6zM196.0 245.2H203.2V246.5H196.0zM210.4 246.5H217.7V247.7H210.4zM275.4 246.5H282.6V247.7H275.4zM196.0 249.0H203.2V250.3H196.0zM239.3 249.0H246.5V250.3H239.3zM268.1 249.0H275.4V250.3H268.1zM260.9 250.3H268.1V251.6H260.9zM275.4 250.3H282.6V251.6H275.4zM224.9 251.6H232.1V252.8H224.9zM282.6 251.6H289.8V252.8H282.6zM210.4 252.8H217.7V254.1H210.4zM289.8 252.8H297.0V254.1H289.8zM203.2 254.1H210.4V255.4H203.2zM224.9 254.1H232.1V255.4H224.9zM188.8 255.4H196.0V256.7H188.8zM260.9 255.4H268.1V256.7H260.9zM289.8 255.4H297.0V256.7H289.8zM232.1 259.2H239.3V260.5H232.1zM232.1 261.8H239.3V263.0H232.1zM253.7 261.8H260.9V263.0H253.7zM282.6 261.8H289.8V263.0H282.6zM188.8 263.0H196.0V264.3H188.8zM239.3 263.0H246.5V264.3H239.3zM224.9 264.3H232.1V265.6H224.9z"/>
<path fill="#404000" d="M217.7 66.7H224.9V68.0H217.7zM210.4 68.0H217.7V69.2H210.4zM217.7 69.2H224.9V70.5H217.7zM253.7 70.5H260.9V71.8H253.7zM210.4 79.4H217.7V80.7H210.4zM196.0 93.5H203.2V94.7H196.0zM217.7 110.0H224.9V111.3H217.7zM188.8 121.5H196.0V122.8H188.8zM253.7 122.8H260.9V124.1H253.7zM196.0 125.3H203.2V126.6H196.0zM246.5 127.9H253.7V129.2H246.5zM217.7 129.2H224.9V130.4H217.7zM196.0 131.7H203.2V133.0H196.0zM188.8 134.3H196.0V135.5H188.8zM246.5 134.3H253.7V135.5H246.5zM210.4 145.7H217.7V147.0H210.4zM196.0 152.1H203.2V153.4H196.0zM224.9 152.1H232.1V153.4H224.9zM253.7 152.1H260.9V153.4H253.7zM224.9 153.4H232.1V154.7H224.9zM188.8 161.0H196.0V162.3H188.8zM260.9 171.2H268.1V172.5H260.9zM260.9 173.8H268.1V175.1H260.9zM224.9 175.1H232.1V176.3H224.9zM275.4 175.1H282.6V176.3H275.4zM253.7 177.6H260.9V178.9H253.7zM275.4 177.6H282.6V178.9H275.4zM289.8 177.6H297.0V178.9H289.8zM232.1 178.9H239.3V180.2H232.1zM232.1 181.4H239.3V182.7H232.1zM289.8 182.7H297.0V184.0H289.8zM260.9 185.3H268.1V186.5H260.9zM289.8 190.4H297.0V191.6H289.8zM275.4 194.2H282.6V195.5H275.4zM217.7 196.7H224.9V198.0H217.7zM260.9 196.7H268.1V198.0H260.9zM275.4 198.0H282.6V199.3H275.4zM282.6 199.3H297.0V200.6H282.6zM253.7 201.8H260.9V203.1H253.7zM224.9 205.7H232.1V206.9H224.9zM239.3 212.0H246.5V213.3H239.3zM196.0 213.3H203.2V214.6H196.0zM239.3 214.6H246.5V215.9H239.3zM282.6 214.6H289.8V215.9H282.6zM260.9 215.9H268.1V217.1H260.9zM275.4 219.7H282.6V221.0H275.4zM217.7 222.2H224.9V223.5H217.7zM260.9 223.5H268.1V224.8H260.9zM289.8 223.5H297.0V224.8H289.8zM239.3 227.3H246.5V228.6H239.3zM188.8 231.2H196.0V232.4H188.8zM239.3 232.4H246.5V233.7H239.3zM282.6 235.0H297.0V236.3H282.6zM196.0 236.3H203.2V237.5H196.0zM268.1 236.3H275.4V237.5H268.1zM253.7 240.1H260.9V241.4H253.7zM246.5 242.6H253.7V243.9H246.5zM289.8 243.9H297.0V245.2H289.8zM224.9 246.5H232.1V247.7H224.9zM239.3 246.5H246.5V247.7H239.3zM196.0 247.7H203.2V249.0H196.0zM275.4 249.0H282.6V250.3H275.4zM188.8 250.3H196.0V251.6H188.8zM217.7 250.3H224.9V251.6H217.7zM203.2 251.6H210.4V252.8H203.2zM239.3 255.4H246.5V256.7H239.3zM188.8 256.7H196.0V257.9H188.8zM289.8 257.9H297.0V259.2H289.8zM289.8 259.2H297.0V260.5H289.8zM260.9 260.5H268.1V261.8H260.9z"/>
<path fill="#484800" d="M188.8 69.2H196.0V70.5H188.8zM210.4 110.0H217.7V111.3H210.4zM289.8 112.6H297.0V113.9H289.8zM188.8 113.9H196.0V115.1H188.8zM203.2 129.2H210.4V130.4H203.2zM210.4 134.3H217.7V135.5H210.4zM217.7 135.5H224.9V136.8H217.7zM217.7 138.1H224.9V139.4H217.7zM260.9 145.7H268.1V147.0H260.9zM203.2 152.1H210.4V153.4H203.2zM210.4 154.7H217.7V155.9H210.4zM253.7 162.3H268.1V163.6H253.7zM203.2 166.1H210.4V167.4H203.2zM232.1 167.4H239.3V168.7H232.1zM239.3 168.7H246.5V170.0H239.3zM289.8 170.0H297.0V171.2H289.8zM188.8 171.2H196.0V172.5H188.8zM210.4 171.2H217.7V172.5H210.4zM239.3 172.5H246.5V173.8H239.3zM260.9 176.3H268.1V177.6H260.9zM196.0 177.6H203.2V178.9H196.0zM188.8 178.9H196.0V180.2H188.8zM224.9 181.4H232.1V182.7H224.9zM203.2 185.3H210.4V186.5H203.2zM210.4 191.6H217.7V192.9H210.4zM275.4 191.6H282.6V192.9H275.4zM239.3 192.9H246.5V194.2H239.3zM246.5 194.2H253.7V195.5H246.5zM246.5 195.5H253.7V196.7H246.5zM232.1 198.0H239.3V199.3H232.1zM232.1 199.3H239.3V200.6H232.1zM253.7 200.6H260.9V201.8H253.7zM268.1 200.6H275.4V201.8H268.1zM282.6 201.8H289.8V203.1H282.6zM239.3 203.1H246.5V204.4H239.3zM282.6 206.9H289.8V208.2H282.6zM224.9 208.2H232.1V209.5H224.9zM188.8 209.5H196.0V210.8H188.8zM239.3 209.5H246.5V210.8H239.3zM275.4 213.3H282.6V214.6H275.4zM188.8 214.6H196.0V215.9H188.8zM268.1 215.9H275.4V217.1H268.1zM239.3 217.1H246.5V218.4H239.3zM282.6 218.4H289.8V219.7H282.6zM188.8 222.2H196.0V223.5H188.8zM260.9 227.3H268.1V228.6H260.9zM224.9 233.7H232.1V235.0H224.9zM289.8 238.8H297.0V240.1H289.8zM203.2 240.1H210.4V241.4H203.2zM275.4 240.1H282.6V241.4H275.4zM224.9 241.4H232.1V242.6H224.9zM253.7 242.6H260.9V243.9H253.7zM282.6 242.6H289.8V243.9H282.6zM203.2 245.2H210.4V246.5H203.2zM246.5 245.2H253.7V246.5H246.5zM210.4 247.7H217.7V249.0H210.4zM253.7 249.0H260.9V250.3H253.7zM260.9 252.8H268.1V254.1H260.9zM224.9 256.7H232.1V257.9H224.9zM232.1 257.9H239.3V259.2H232.1zM260.9 257.9H268.1V259.2H260.9zM253.7 259.2H260.9V260.5H253.7zM196.0 261.8H203.2V263.0H196.0zM196.0 264.3H203.2V265.6H196.0z"/>
<path fill="#101000" d="M188.8 70.5H196.0V71.8H188.8zM203.2 70.5H210.4V71.8H203.2zM188.8 73.1H196.0V74.3H188.8zM188.8 75.6H196.0V76.9H188.8zM188.8 76.9H196.0V78.2H188.8zM210.4 78.2H217.7V79.4H210.4zM203.2 115.1H210.4V116.4H203.2zM268.1 119.0H275.4V120.2H268.1zM253.7 129.2H260.9V130.4H253.7zM203.2 130.4H217.7V131.7H203.2zM196.0 133.0H203.2V134.3H196.0zM188.8 144.5H203.2V145.7H188.8zM196.0 145.7H203.2V147.0H196.0zM217.7 147.0H224.9V148.3H217.7zM217.7 148.3H224.9V149.6H217.7zM188.8 150.8H196.0V152.1H188.8zM232.1 150.8H239.3V152.1H232.1zM217.7 154.7H224.9V155.9H217.7zM217.7 161.0H224.9V162.3H217.7zM188.8 162.3H196.0V163.6H188.8zM239.3 162.3H246.5V163.6H239.3zM188.8 164.9H196.0V166.1H188.8zM260.9 164.9H268.1V166.1H260.9zM196.0 166.1H203.2V167.4H196.0zM203.2 167.4H210.4V168.7H203.2zM239.3 167.4H246.5V168.7H239.3zM196.0 170.0H203.2V171.2H196.0zM260.9 170.0H268.1V171.2H260.9zM224.9 172.5H232.1V173.8H224.9zM260.9 172.5H268.1V173.8H260.9zM232.1 173.8H239.3V175.1H232.1zM253.7 173.8H260.9V175.1H253.7zM188.8 175.1H196.0V176.3H188.8zM210.4 175.1H217.7V176.3H210.4zM239.3 176.3H246.5V177.6H239.3zM253.7 176.3H260.9V177.6H253.7zM196.0 178.9H203.2V180.2H196.0zM217.7 178.9H224.9V180.2H217.7zM224.9 180.2H232.1V181.4H224.9zM188.8 181.4H203.2V182.7H188.8zM224.9 184.0H232.1V185.3H224.9zM239.3 184.0H246.5V185.3H239.3zM253.7 184.0H260.9V185.3H253.7zM224.9 185.3H232.1V186.5H224.9zM188.8 187.8H196.0V189.1H188.8zM196.0 189.1H203.2V190.4H196.0zM232.1 189.1H239.3V190.4H232.1zM253.7 190.4H260.9V191.6H253.7zM188.8 192.9H196.0V194.2H188.8zM210.4 194.2H217.7V195.5H210.4zM210.4 196.7H217.7V198.0H210.4zM224.9 196.7H232.1V198.0H224.9zM203.2 199.3H210.4V200.6H203.2zM224.9 199.3H232.1V200.6H224.9zM232.1 201.8H239.3V203.1H232.1zM246.5 201.8H253.7V203.1H246.5zM196.0 204.4H210.4V205.7H196.0zM246.5 204.4H253.7V205.7H246.5zM260.9 204.4H268.1V205.7H260.9zM275.4 204.4H282.6V205.7H275.4zM275.4 205.7H282.6V206.9H275.4zM203.2 206.9H210.4V208.2H203.2zM217.7 208.2H224.9V209.5H217.7zM188.8 210.8H196.0V212.0H188.8zM224.9 210.8H232.1V212.0H224.9zM275.4 210.8H282.6V212.0H275.4zM203.2 213.3H210.4V214.6H203.2zM246.5 213.3H253.7V214.6H246.5zM217.7 214.6H224.9V215.9H217.7zM188.8 219.7H203.2V221.0H188.8zM217.7 219.7H224.9V221.0H217.7zM232.1 219.7H239.3V221.0H232.1zM203.2 222.2H210.4V223.5H203.2zM282.6 224.8H289.8V226.1H282.6zM188.8 226.1H196.0V227.3H188.8zM275.4 226.1H282.6V227.3H275.4zM196.0 229.9H203.2V231.2H196.0zM210.4 229.9H217.7V231.2H210.4zM232.1 229.9H239.3V231.2H232.1zM196.0 231.2H203.2V232.4H196.0zM188.8 232.4H203.2V233.7H188.8zM239.3 233.7H246.5V235.0H239.3zM282.6 233.7H289.8V235.0H282.6zM282.6 236.3H289.8V237.5H282.6zM210.4 237.5H217.7V238.8H210.4zM224.9 237.5H239.3V238.8H224.9zM217.7 238.8H224.9V240.1H217.7zM210.4 240.1H217.7V241.4H210.4zM232.1 240.1H239.3V241.4H232.1zM203.2 241.4H210.4V242.6H203.2zM260.9 241.4H268.1V242.6H260.9zM239.3 243.9H246.5V245.2H239.3zM196.0 246.5H203.2V247.7H196.0zM203.2 247.7H210.4V249.0H203.2zM188.8 249.0H196.0V250.3H188.8zM210.4 250.3H217.7V251.6H210.4zM210.4 251.6H217.7V252.8H210.4zM253.7 252.8H260.9V254.1H253.7zM239.3 254.1H246.5V255.4H239.3zM253.7 254.1H260.9V255.4H253.7zM246.5 256.7H253.7V257.9H246.5zM260.9 256.7H268.1V257.9H260.9zM275.4 256.7H282.6V257.9H275.4zM196.0 257.9H203.2V259.2H196.0zM217.7 257.9H232.1V259.2H217.7zM260.9 259.2H268.1V260.5H260.9zM289.8 260.5H297.0V261.8H289.8zM217.7 261.8H224.9V263.0H217.7zM260.9 261.8H268.1V263.0H260.9zM196.0 263.0H203.2V264.3H196.0zM260.9 263.0H268.1V264.3H260.9zM217.7 264.3H224.9V265.6H217.7zM268.1 264.3H275.4V265.6H268.1zM282.6 264.3H297.0V265.6H282.6z"/>
<path fill="#b0b000" d="M217.7 70.5H224.9V71.8H217.7zM188.8 99.8H196.0V101.1H188.8zM289.8 136.8H297.0V138.1H289.8zM210.4 141.9H217.7V143.2H210.4zM224.9 145.7H232.1V147.0H224.9zM196.0 149.6H203.2V150.8H196.0zM196.0 162.3H203.2V163.6H196.0zM239.3 186.5H246.5V187.8H239.3zM246.5 187.8H253.7V189.1H246.5zM239.3 194.2H246.5V195.5H239.3zM232.1 205.7H239.3V206.9H232.1zM282.6 205.7H289.8V206.9H282.6zM217.7 206.9H224.9V208.2H217.7zM268.1 209.5H275.4V210.8H268.1zM246.5 212.0H253.7V213.3H246.5zM253.7 223.5H260.9V224.8H253.7zM253.7 237.5H268.1V238.8H253.7zM188.8 238.8H196.0V240.1H188.8zM203.2 238.8H210.4V240.1H203.2zM232.1 249.0H239.3V250.3H232.1zM246.5 250.3H253.7V251.6H246.5zM260.9 254.1H268.1V255.4H260.9zM289.8 256.7H297.0V257.9H289.8zM268.1 261.8H275.4V263.0H268.1z"/>
<path fill="#686800" d="M188.8 79.4H196.0V80.7H188.8zM210.4 120.2H217.7V121.5H210.4zM239.3 124.1H246.5V125.3H239.3zM188.8 130.4H196.0V131.7H188.8zM246.5 135.5H253.7V136.8H246.5zM260.9 138.1H268.1V139.4H260.9zM188.8 141.9H196.0V143.2H188.8zM217.7 152.1H224.9V153.4H217.7zM260.9 195.5H268.1V196.7H260.9zM203.2 198.0H210.4V199.3H203.2zM246.5 199.3H253.7V200.6H246.5zM210.4 224.8H217.7V226.1H210.4zM246.5 233.7H253.7V235.0H246.5z"/>
<path fill="#505000" d="M217.7 82.0H224.9V83.3H217.7zM188.8 98.6H196.0V99.8H188.8zM239.3 117.7H246.5V119.0H239.3zM188.8 120.2H196.0V121.5H188.8zM289.8 135.5H297.0V136.8H289.8zM224.9 139.4H232.1V140.6H224.9zM253.7 145.7H260.9V147.0H253.7zM188.8 148.3H196.0V149.6H188.8zM188.8 152.1H196.0V153.4H188.8zM239.3 152.1H246.5V153.4H239.3zM203.2 159.8H210.4V161.0H203.2zM246.5 162.3H253.7V163.6H246.5zM289.8 162.3H297.0V163.6H289.8zM196.0 163.6H203.2V164.9H196.0zM196.0 168.7H203.2V170.0H196.0zM282.6 168.7H289.8V170.0H282.6zM210.4 170.0H217.7V171.2H210.4zM203.2 171.2H210.4V172.5H203.2zM224.9 171.2H232.1V172.5H224.9zM203.2 172.5H210.4V173.8H203.2zM246.5 176.3H253.7V177.6H246.5zM224.9 178.9H232.1V180.2H224.9zM289.8 178.9H297.0V180.2H289.8zM217.7 182.7H224.9V184.0H217.7zM196.0 184.0H203.2V185.3H196.0zM260.9 186.5H268.1V187.8H260.9zM210.4 187.8H217.7V189.1H210.4zM260.9 187.8H268.1V189.1H260.9zM196.0 190.4H203.2V191.6H196.0zM224.9 190.4H232.1V191.6H224.9zM260.9 191.6H268.1V192.9H260.9zM210.4 192.9H217.7V194.2H210.4zM232.1 192.9H239.3V194.2H232.1zM268.1 203.1H275.4V204.4H268.1zM217.7 204.4H224.9V205.7H217.7zM203.2 205.7H210.4V206.9H203.2zM275.4 209.5H282.6V210.8H275.4zM224.9 212.0H232.1V213.3H224.9zM224.9 213.3H232.1V214.6H224.9zM239.3 213.3H246.5V214.6H239.3zM196.0 214.6H203.2V215.9H196.0zM232.1 217.1H239.3V218.4H232.1zM275.4 217.1H282.6V218.4H275.4zM217.7 218.4H224.9V219.7H217.7zM232.1 218.4H239.3V219.7H232.1zM289.8 222.2H297.0V223.5H289.8zM210.4 223.5H217.7V224.8H210.4zM282.6 223.5H289.8V224.8H282.6zM203.2 231.2H210.4V232.4H203.2zM253.7 231.2H260.9V232.4H253.7zM282.6 232.4H289.8V233.7H282.6zM188.8 235.0H196.0V236.3H188.8zM232.1 235.0H239.3V236.3H232.1zM210.4 236.3H217.7V237.5H210.4zM239.3 236.3H246.5V237.5H239.3zM188.8 237.5H196.0V238.8H188.8zM217.7 237.5H224.9V238.8H217.7zM282.6 238.8H289.8V240.1H282.6zM275.4 243.9H282.6V245.2H275.4zM260.9 245.2H268.1V246.5H260.9zM275.4 245.2H282.6V246.5H275.4zM268.1 250.3H275.4V251.6H268.1zM196.0 251.6H203.2V252.8H196.0zM224.9 252.8H232.1V254.1H224.9zM246.5 252.8H253.7V254.1H246.5zM246.5 254.1H253.7V255.4H246.5zM210.4 255.4H217.7V256.7H210.4zM210.4 263.0H217.7V264.3H210.4zM275.4 264.3H282.6V265.6H275.4z"/>
<path fill="#a8a800" d="M196.0 108.8H203.2V110.0H196.0zM217.7 115.1H224.9V116.4H217.7zM268.1 141.9H275.4V143.2H268.1zM196.0 243.9H203.2V245.2H196.0zM188.8 254.1H196.0V255.4H188.8z"/>
<path fill="#787800" d="M217.7 124.1H224.9V125.3H217.7zM239.3 135.5H246.5V136.8H239.3zM275.4 149.6H282.6V150.8H275.4zM260.9 157.2H268.1V158.5H260.9z"/>
<path fill="#000000" d="M289.8 139.4H297.0V140.6H289.8zM232.1 152.1H239.3V153.4H232.1zM188.8 155.9H196.0V157.2H188.8zM246.5 166.1H253.7V167.4H246.5zM246.5 167.4H253.7V168.7H246.5zM246.5 168.7H253.7V170.0H246.5zM246.5 170.0H253.7V171.2H246.5zM217.7 172.5H224.9V173.8H217.7zM210.4 173.8H217.7V175.1H210.4zM232.1 187.8H239.3V189.1H232.1zM253.7 189.1H260.9V190.4H253.7zM275.4 189.1H282.6V190.4H275.4zM268.1 192.9H275.4V194.2H268.1zM268.1 198.0H275.4V199.3H268.1zM260.9 205.7H268.1V206.9H260.9zM239.3 206.9H246.5V208.2H239.3zM260.9 206.9H268.1V208.2H260.9zM203.2 208.2H210.4V209.5H203.2zM196.0 209.5H203.2V210.8H196.0zM203.2 212.0H210.4V213.3H203.2zM246.5 222.2H253.7V223.5H246.5zM246.5 223.5H253.7V224.8H246.5zM217.7 226.1H224.9V227.3H217.7zM232.1 227.3H239.3V228.6H232.1zM232.1 231.2H239.3V232.4H232.1zM232.1 232.4H239.3V233.7H232.1zM203.2 235.0H210.4V236.3H203.2zM203.2 236.3H210.4V237.5H203.2zM268.1 247.7H275.4V249.0H268.1zM239.3 250.3H246.5V251.6H239.3zM239.3 252.8H246.5V254.1H239.3zM224.9 259.2H232.1V260.5H224.9zM217.7 263.0H224.9V264.3H217.7zM232.1 263.0H239.3V264.3H232.1zM232.1 264.3H239.3V265.6H232.1z"/>
<path fill="#20d0b0" d="M180.7 55.2H187.2V56.5H180.7zM180.7 56.5H187.2V57.8H180.7zM180.7 57.8H187.2V59.0H180.7zM180.7 59.0H187.2V60.3H180.7zM180.7 60.3H187.2V61.6H180.7zM180.7 61.6H187.2V62.9H180.7zM180.7 62.9H187.2V64.1H180.7zM180.7 64.1H187.2V65.4H180.7zM180.7 65.4H187.2V66.7H180.7zM180.7 74.3H187.2V75.6H180.7zM180.7 75.6H187.2V76.9H180.7zM180.7 76.9H187.2V78.2H180.7zM180.7 78.2H187.2V79.4H180.7zM180.7 79.4H187.2V80.7H180.7zM180.7 80.7H187.2V82.0H180.7zM180.7 82.0H187.2V83.3H180.7zM180.7 89.6H187.2V90.9H180.7zM180.7 90.9H187.2V92.2H180.7zM180.7 92.2H187.2V93.5H180.7zM180.7 93.5H187.2V94.7H180.7zM180.7 94.7H187.2V96.0H180.7zM180.7 96.0H187.2V97.3H180.7zM180.7 97.3H187.2V98.6H180.7zM180.7 98.6H187.2V99.8H180.7zM180.7 99.8H187.2V101.1H180.7zM180.7 101.1H187.2V102.4H180.7zM180.7 102.4H187.2V103.7H180.7zM180.7 103.7H187.2V104.9H180.7zM180.7 104.9H187.2V106.2H180.7zM180.7 106.2H187.2V107.5H180.7zM180.7 157.2H187.2V158.5H180.7zM180.7 158.5H187.2V159.8H180.7zM180.7 240.1H187.2V241.4H180.7zM180.7 241.4H187.2V242.6H180.7z"/>
<path fill="#40d8c0" d="M180.7 66.7H187.2V68.0H180.7zM180.7 88.4H187.2V89.6H180.7zM180.7 107.5H187.2V108.8H180.7zM180.7 130.4H187.2V131.7H180.7zM180.7 150.8H187.2V152.1H180.7z"/>
<path fill="#78e8d0" d="M180.7 68.0H187.2V69.2H180.7zM180.7 87.1H187.2V88.4H180.7zM180.7 108.8H187.2V110.0H180.7zM180.7 131.7H187.2V133.0H180.7zM180.7 152.1H187.2V153.4H180.7z"/>
<path fill="#68d8c8" d="M180.7 69.2H187.2V70.5H180.7zM180.7 126.6H187.2V127.9H180.7zM180.7 133.0H187.2V134.3H180.7zM180.7 153.4H187.2V154.7H180.7z"/>
<path fill="#d0d0e8" d="M180.7 70.5H187.2V71.8H180.7zM180.7 71.8H187.2V73.1H180.7zM180.7 148.3H187.2V149.6H180.7zM180.7 173.8H187.2V175.1H180.7zM180.7 227.3H187.2V228.6H180.7zM180.7 260.5H187.2V261.8H180.7z"/>
<path fill="#48d0c0" d="M180.7 73.1H187.2V74.3H180.7zM180.7 129.2H187.2V130.4H180.7zM180.7 149.6H187.2V150.8H180.7zM180.7 155.9H187.2V157.2H180.7zM180.7 184.0H187.2V185.3H180.7zM180.7 218.4H187.2V219.7H180.7zM180.7 264.3H187.2V265.6H180.7z"/>
<path fill="#48c0b8" d="M180.7 83.3H187.2V84.5H180.7zM180.7 140.6H187.2V141.9H180.7zM180.7 141.9H187.2V143.2H180.7zM180.7 159.8H187.2V161.0H180.7zM180.7 185.3H187.2V186.5H180.7zM180.7 217.1H187.2V218.4H180.7zM180.7 238.8H187.2V240.1H180.7zM180.7 242.6H187.2V243.9H180.7z"/>
<path fill="#a898c8" d="M180.7 84.5H187.2V85.8H180.7zM180.7 111.3H187.2V112.6H180.7zM180.7 201.8H187.2V203.1H180.7zM180.7 213.3H187.2V214.6H180.7zM180.7 215.9H187.2V217.1H180.7zM180.7 223.5H187.2V224.8H180.7zM180.7 233.7H187.2V235.0H180.7z"/>
<path fill="#68c8c0" d="M180.7 85.8H187.2V87.1H180.7zM180.7 110.0H187.2V111.3H180.7zM180.7 120.2H187.2V121.5H180.7zM180.7 203.1H187.2V204.4H180.7zM180.7 212.0H187.2V213.3H180.7zM180.7 232.4H187.2V233.7H180.7z"/>
<path fill="#78a8c0" d="M180.7 112.6H187.2V113.9H180.7zM180.7 163.6H187.2V164.9H180.7zM180.7 206.9H187.2V208.2H180.7zM180.7 214.6H187.2V215.9H180.7zM180.7 222.2H187.2V223.5H180.7zM180.7 235.0H187.2V236.3H180.7zM180.7 247.7H187.2V249.0H180.7z"/>
<path fill="#d098d0" d="M180.7 113.9H187.2V115.1H180.7zM180.7 135.5H187.2V136.8H180.7zM180.7 139.4H187.2V140.6H180.7zM180.7 164.9H187.2V166.1H180.7zM180.7 180.2H187.2V181.4H180.7zM180.7 186.5H187.2V187.8H180.7zM180.7 196.7H187.2V198.0H180.7zM180.7 221.0H187.2V222.2H180.7zM180.7 249.0H187.2V250.3H180.7zM180.7 252.8H187.2V254.1H180.7z"/>
<path fill="#ffa8e8" d="M180.7 115.1H187.2V116.4H180.7zM180.7 178.9H187.2V180.2H180.7zM180.7 187.8H187.2V189.1H180.7zM180.7 195.5H187.2V196.7H180.7zM180.7 254.1H187.2V255.4H180.7z"/>
<path fill="#ff98e0" d="M180.7 116.4H187.2V117.7H180.7zM180.7 194.2H187.2V195.5H180.7z"/>
<path fill="#f0c8e8" d="M180.7 117.7H187.2V119.0H180.7zM180.7 229.9H187.2V231.2H180.7z"/>
<path fill="#a0e8e0" d="M180.7 119.0H187.2V120.2H180.7zM180.7 231.2H187.2V232.4H180.7z"/>
<path fill="#d080c8" d="M180.7 121.5H187.2V122.8H180.7zM180.7 143.2H187.2V144.5H180.7zM180.7 161.0H187.2V162.3H180.7zM180.7 162.3H187.2V163.6H180.7zM180.7 190.4H187.2V191.6H180.7zM180.7 236.3H187.2V237.5H180.7zM180.7 237.5H187.2V238.8H180.7zM180.7 243.9H187.2V245.2H180.7zM180.7 246.5H187.2V247.7H180.7z"/>
<path fill="#ff70d0" d="M180.7 122.8H187.2V124.1H180.7zM180.7 144.5H187.2V145.7H180.7zM180.7 245.2H187.2V246.5H180.7z"/>
<path fill="#f088d8" d="M180.7 124.1H187.2V125.3H180.7z"/>
<path fill="#a0d0d8" d="M180.7 125.3H187.2V126.6H180.7zM180.7 204.4H187.2V205.7H180.7z"/>
<path fill="#a8d0d8" d="M180.7 127.9H187.2V129.2H180.7zM180.7 154.7H187.2V155.9H180.7zM180.7 182.7H187.2V184.0H180.7zM180.7 199.3H187.2V200.6H180.7zM180.7 263.0H187.2V264.3H180.7z"/>
<path fill="#d0c0e0" d="M180.7 134.3H187.2V135.5H180.7zM180.7 138.1H187.2V139.4H180.7zM180.7 171.2H187.2V172.5H180.7zM180.7 192.9H187.2V194.2H180.7zM180.7 219.7H187.2V221.0H180.7zM180.7 250.3H187.2V251.6H180.7z"/>
<path fill="#78c0c8" d="M180.7 136.8H187.2V138.1H180.7zM180.7 181.4H187.2V182.7H180.7zM180.7 191.6H187.2V192.9H180.7zM180.7 198.0H187.2V199.3H180.7zM180.7 200.6H187.2V201.8H180.7zM180.7 224.8H187.2V226.1H180.7zM180.7 251.6H187.2V252.8H180.7z"/>
<path fill="#ff80d8" d="M180.7 145.7H187.2V147.0H180.7zM180.7 168.7H187.2V170.0H180.7zM180.7 170.0H187.2V171.2H180.7zM180.7 176.3H187.2V177.6H180.7zM180.7 177.6H187.2V178.9H180.7zM180.7 189.1H187.2V190.4H180.7zM180.7 255.4H187.2V256.7H180.7zM180.7 256.7H187.2V257.9H180.7z"/>
<path fill="#ffc0f0" d="M180.7 147.0H187.2V148.3H180.7zM180.7 166.1H187.2V167.4H180.7zM180.7 167.4H187.2V168.7H180.7zM180.7 175.1H187.2V176.3H180.7zM180.7 257.9H187.2V259.2H180.7z"/>
<path fill="#78d0d0" d="M180.7 172.5H187.2V173.8H180.7zM180.7 261.8H187.2V263.0H180.7z"/>
<path fill="#c0a0d0" d="M180.7 205.7H187.2V206.9H180.7zM180.7 208.2H187.2V209.5H180.7z"/>
<path fill="#c0d8e0" d="M180.7 209.5H187.2V210.8H180.7z"/>
<path fill="#90f0d8" d="M180.7 210.8H187.2V212.0H180.7z"/>
<path fill="#c0d8e8" d="M180.7 226.1H187.2V227.3H180.7z"/>
<path fill="#f0a0e0" d="M180.7 228.6H187.2V229.9H180.7z"/>
<path fill="#ffd0f8" d="M180.7 259.2H187.2V260.5H180.7z"/>
<path fill="#ffffff" d="M172.4 55.2H178.8V56.5H172.4zM172.4 56.5H178.8V57.8H172.4zM172.4 57.8H178.8V59.0H172.4zM172.4 69.2H178.8V70.5H172.4zM172.4 70.5H178.8V71.8H172.4zM172.4 71.8H178.8V73.1H172.4zM172.4 73.1H178.8V74.3H172.4zM172.4 74.3H178.8V75.6H172.4zM172.4 84.5H178.8V85.8H172.4zM172.4 90.9H178.8V92.2H172.4zM172.4 96.0H178.8V97.3H172.4zM172.4 97.3H178.8V98.6H172.4zM172.4 106.2H178.8V107.5H172.4zM172.4 107.5H178.8V108.8H172.4zM172.4 121.5H178.8V122.8H172.4zM172.4 122.8H178.8V124.1H172.4zM172.4 124.1H178.8V125.3H172.4zM172.4 125.3H178.8V126.6H172.4zM172.4 126.6H178.8V127.9H172.4zM172.4 127.9H178.8V129.2H172.4zM172.4 134.3H178.8V135.5H172.4zM172.4 135.5H178.8V136.8H172.4zM172.4 136.8H178.8V138.1H172.4zM172.4 138.1H178.8V139.4H172.4zM172.4 139.4H178.8V140.6H172.4zM172.4 152.1H178.8V153.4H172.4zM172.4 153.4H178.8V154.7H172.4zM172.4 154.7H178.8V155.9H172.4zM172.4 180.2H178.8V181.4H172.4zM172.4 256.7H178.8V257.9H172.4zM172.4 257.9H178.8V259.2H172.4zM172.4 259.2H178.8V260.5H172.4zM172.4 260.5H178.8V261.8H172.4zM172.4 261.8H178.8V263.0H172.4z"/>
<path fill="#ffe8f0" d="M172.4 59.0H178.8V60.3H172.4zM172.4 98.6H178.8V99.8H172.4zM172.4 101.1H178.8V102.4H172.4zM172.4 102.4H178.8V103.7H172.4zM172.4 104.9H178.8V106.2H172.4zM172.4 108.8H178.8V110.0H172.4zM172.4 171.2H178.8V172.5H172.4zM172.4 172.5H178.8V173.8H172.4zM172.4 175.1H178.8V176.3H172.4zM172.4 196.7H178.8V198.0H172.4zM172.4 198.0H178.8V199.3H172.4zM172.4 200.6H178.8V201.8H172.4zM172.4 210.8H178.8V212.0H172.4zM172.4 214.6H178.8V215.9H172.4zM172.4 215.9H178.8V217.1H172.4zM172.4 232.4H178.8V233.7H172.4zM172.4 235.0H178.8V236.3H172.4zM172.4 236.3H178.8V237.5H172.4zM172.4 238.8H178.8V240.1H172.4zM172.4 240.1H178.8V241.4H172.4zM172.4 245.2H178.8V246.5H172.4zM172.4 246.5H178.8V247.7H172.4zM172.4 255.4H178.8V256.7H172.4z"/>
<path fill="#f07888" d="M172.4 60.3H178.8V61.6H172.4zM172.4 185.3H178.8V186.5H172.4zM172.4 195.5H178.8V196.7H172.4zM172.4 247.7H178.8V249.0H172.4z"/>
<path fill="#f898a8" d="M172.4 61.6H178.8V62.9H172.4zM172.4 157.2H178.8V158.5H172.4zM172.4 186.5H178.8V187.8H172.4zM172.4 221.0H178.8V222.2H172.4zM172.4 226.1H178.8V227.3H172.4zM172.4 249.0H178.8V250.3H172.4z"/>
<path fill="#ffe8e8" d="M172.4 62.9H178.8V64.1H172.4zM172.4 65.4H178.8V66.7H172.4zM172.4 75.6H178.8V76.9H172.4zM172.4 83.3H178.8V84.5H172.4zM172.4 112.6H178.8V113.9H172.4zM172.4 113.9H178.8V115.1H172.4zM172.4 116.4H178.8V117.7H172.4zM172.4 144.5H178.8V145.7H172.4zM172.4 150.8H178.8V152.1H172.4zM172.4 176.3H178.8V177.6H172.4zM172.4 178.9H178.8V180.2H172.4zM172.4 181.4H178.8V182.7H172.4zM172.4 191.6H178.8V192.9H172.4zM172.4 206.9H178.8V208.2H172.4zM172.4 209.5H178.8V210.8H172.4z"/>
<path fill="#f8b0b8" d="M172.4 64.1H178.8V65.4H172.4zM172.4 66.7H178.8V68.0H172.4zM172.4 93.5H178.8V94.7H172.4zM172.4 119.0H178.8V120.2H172.4zM172.4 141.9H178.8V143.2H172.4zM172.4 190.4H178.8V191.6H172.4z"/>
<path fill="#fff0f0" d="M172.4 68.0H178.8V69.2H172.4zM172.4 85.8H178.8V87.1H172.4zM172.4 89.6H178.8V90.9H172.4zM172.4 92.2H178.8V93.5H172.4zM172.4 94.7H178.8V96.0H172.4zM172.4 117.7H178.8V119.0H172.4zM172.4 120.2H178.8V121.5H172.4zM172.4 129.2H178.8V130.4H172.4zM172.4 133.0H178.8V134.3H172.4zM172.4 140.6H178.8V141.9H172.4zM172.4 143.2H178.8V144.5H172.4zM172.4 155.9H178.8V157.2H172.4zM172.4 187.8H178.8V189.1H172.4zM172.4 189.1H178.8V190.4H172.4zM172.4 201.8H178.8V203.1H172.4zM172.4 205.7H178.8V206.9H172.4zM172.4 231.2H178.8V232.4H172.4zM172.4 263.0H178.8V264.3H172.4z"/>
<path fill="#f05870" d="M172.4 76.9H178.8V78.2H172.4zM172.4 79.4H178.8V80.7H172.4zM172.4 82.0H178.8V83.3H172.4zM172.4 115.1H178.8V116.4H172.4zM172.4 145.7H178.8V147.0H172.4zM172.4 159.8H178.8V161.0H172.4zM172.4 177.6H178.8V178.9H172.4zM172.4 182.7H178.8V184.0H172.4zM172.4 208.2H178.8V209.5H172.4zM172.4 251.6H178.8V252.8H172.4z"/>
<path fill="#f8c8d0" d="M172.4 78.2H178.8V79.4H172.4zM172.4 80.7H178.8V82.0H172.4z"/>
<path fill="#f8a0b0" d="M172.4 87.1H178.8V88.4H172.4zM172.4 88.4H178.8V89.6H172.4zM172.4 130.4H178.8V131.7H172.4zM172.4 131.7H178.8V133.0H172.4zM172.4 166.1H178.8V167.4H172.4zM172.4 192.9H178.8V194.2H172.4zM172.4 203.1H178.8V204.4H172.4zM172.4 204.4H178.8V205.7H172.4zM172.4 229.9H178.8V231.2H172.4zM172.4 264.3H178.8V265.6H172.4z"/>
<path fill="#f08898" d="M172.4 99.8H178.8V101.1H172.4zM172.4 103.7H178.8V104.9H172.4zM172.4 164.9H178.8V166.1H172.4zM172.4 173.8H178.8V175.1H172.4zM172.4 199.3H178.8V200.6H172.4zM172.4 233.7H178.8V235.0H172.4zM172.4 237.5H178.8V238.8H172.4zM172.4 241.4H178.8V242.6H172.4zM172.4 243.9H178.8V245.2H172.4zM172.4 254.1H178.8V255.4H172.4z"/>
<path fill="#f06880" d="M172.4 110.0H178.8V111.3H172.4zM172.4 170.0H178.8V171.2H172.4zM172.4 217.1H178.8V218.4H172.4zM172.4 227.3H178.8V228.6H172.4z"/>
<path fill="#f04860" d="M172.4 111.3H178.8V112.6H172.4zM172.4 168.7H178.8V170.0H172.4zM172.4 218.4H178.8V219.7H172.4z"/>
<path fill="#f8d8e0" d="M172.4 147.0H178.8V148.3H172.4zM172.4 167.4H178.8V168.7H172.4zM172.4 219.7H178.8V221.0H172.4zM172.4 242.6H178.8V243.9H172.4zM172.4 250.3H178.8V251.6H172.4z"/>
<path fill="#f890a0" d="M172.4 148.3H178.8V149.6H172.4zM172.4 194.2H178.8V195.5H172.4zM172.4 228.6H178.8V229.9H172.4z"/>
<path fill="#f05068" d="M172.4 149.6H178.8V150.8H172.4z"/>
<path fill="#f06878" d="M172.4 158.5H178.8V159.8H172.4zM172.4 222.2H178.8V223.5H172.4z"/>
<path fill="#e83048" d="M172.4 161.0H178.8V162.3H172.4z"/>
<path fill="#e82848" d="M172.4 162.3H178.8V163.6H172.4z"/>
<path fill="#f03850" d="M172.4 163.6H178.8V164.9H172.4z"/>
<path fill="#f8d0d8" d="M172.4 184.0H178.8V185.3H172.4zM172.4 252.8H178.8V254.1H172.4z"/>
<path fill="#f07088" d="M172.4 212.0H178.8V213.3H172.4zM172.4 213.3H178.8V214.6H172.4zM172.4 223.5H178.8V224.8H172.4z"/>
<path fill="#ffe0e0" d="M172.4 224.8H178.8V226.1H172.4z"/>
<rect x="166.00" y="55.20" width="5.40" height="210.40" fill="#000"/>
<path fill="none" stroke="#000" stroke-width="0.90" shape-rendering="geometricPrecision" d="M166.0 55.4L166.0 55.9M171.4 55.4L166.0 55.4M171.4 55.9L166.0 55.9M166.0 56.4L166.0 56.9M171.4 56.4L166.0 56.4M171.4 56.9L166.0 56.9M166.0 57.4L166.0 57.9M171.4 57.4L166.0 57.4M171.4 57.9L166.0 57.9M166.0 58.4L166.0 58.9M171.4 58.4L166.0 58.4M171.4 58.9L166.0 58.9M164.7 57.7L164.7 58.7M166.0 57.7L164.7 57.7M166.0 58.7L164.7 58.7M166.0 59.4L166.0 59.9M171.4 59.4L166.0 59.4M171.4 59.9L166.0 59.9M164.2 58.2L164.2 59.7M164.7 58.2L164.2 58.2M166.0 59.7L164.2 59.7M163.8 58.9L163.8 60.4M164.2 58.9L163.8 58.9M171.4 60.4L163.8 60.4M163.5 56.7L163.5 59.7M166.0 56.7L163.5 56.7M163.8 59.7L163.5 59.7M163.1 55.7L163.1 58.2M166.0 55.7L163.1 55.7M163.5 58.2L163.1 58.2M166.0 60.9L166.0 61.4M171.4 60.9L166.0 60.9M171.4 61.4L166.0 61.4M165.1 61.2L165.1 61.9M166.0 61.2L165.1 61.2M171.4 61.9L165.1 61.9M162.8 56.9L162.8 61.5M163.1 56.9L162.8 56.9M165.1 61.5L162.8 61.5M166.0 62.9L166.0 63.4M171.4 62.9L166.0 62.9M171.4 63.4L166.0 63.4M165.0 62.4L165.0 63.2M171.4 62.4L165.0 62.4M166.0 63.2L165.0 63.2M166.0 63.9L166.0 64.4M171.4 63.9L166.0 63.9M171.4 64.4L166.0 64.4M164.6 62.8L164.6 64.2M165.0 62.8L164.6 62.8M166.0 64.2L164.6 64.2M162.4 59.2L162.4 63.5M162.8 59.2L162.4 59.2M164.6 63.5L162.4 63.5M166.0 65.4L166.0 65.9M171.4 65.4L166.0 65.4M171.4 65.9L166.0 65.9M165.1 65.7L165.1 66.4M166.0 65.7L165.1 65.7M171.4 66.4L165.1 66.4M164.7 66.1L164.7 66.9M165.1 66.1L164.7 66.1M171.4 66.9L164.7 66.9M164.4 64.9L164.4 66.5M171.4 64.9L164.4 64.9M164.7 66.5L164.4 66.5M166.0 67.4L166.0 67.9M171.4 67.4L166.0 67.4M171.4 67.9L166.0 67.9M164.0 65.7L164.0 67.7M164.4 65.7L164.0 65.7M166.0 67.7L164.0 67.7M162.0 61.4L162.0 66.7M162.4 61.4L162.0 61.4M164.0 66.7L162.0 66.7M166.0 68.9L166.0 69.4M171.4 68.9L166.0 68.9M171.4 69.4L166.0 69.4M165.0 68.4L165.0 69.2M171.4 68.4L165.0 68.4M166.0 69.2L165.0 69.2M166.0 69.9L166.0 70.4M171.4 69.9L166.0 69.9M171.4 70.4L166.0 70.4M164.5 68.8L164.5 70.2M165.0 68.8L164.5 68.8M166.0 70.2L164.5 70.2M166.0 70.9L166.0 71.4M171.4 70.9L166.0 70.9M171.4 71.4L166.0 71.4M166.0 71.9L166.0 72.4M171.4 71.9L166.0 71.9M171.4 72.4L166.0 72.4M166.0 72.9L166.0 73.4M171.4 72.9L166.0 72.9M171.4 73.4L166.0 73.4M164.7 72.2L164.7 73.2M166.0 72.2L164.7 72.2M166.0 73.2L164.7 73.2M164.3 71.2L164.3 72.7M166.0 71.2L164.3 71.2M164.7 72.7L164.3 72.7M166.0 73.9L166.0 74.4M171.4 73.9L166.0 73.9M171.4 74.4L166.0 74.4M165.1 74.2L165.1 74.9M166.0 74.2L165.1 74.2M171.4 74.9L165.1 74.9M166.0 75.4L166.0 75.9M171.4 75.4L166.0 75.4M171.4 75.9L166.0 75.9M164.5 74.6L164.5 75.7M165.1 74.6L164.5 74.6M166.0 75.7L164.5 75.7M163.7 71.9L163.7 75.1M164.3 71.9L163.7 71.9M164.5 75.1L163.7 75.1M162.9 69.5L162.9 73.5M164.5 69.5L162.9 69.5M163.7 73.5L162.9 73.5M161.3 64.0L161.3 71.5M162.0 64.0L161.3 64.0M162.9 71.5L161.3 71.5M166.0 76.5L166.0 77.0M171.4 76.5L166.0 76.5M171.4 77.0L166.0 77.0M166.0 77.5L166.0 78.0M171.4 77.5L166.0 77.5M171.4 78.0L166.0 78.0M165.2 77.7L165.2 78.5M166.0 77.7L165.2 77.7M171.4 78.5L165.2 78.5M166.0 79.0L166.0 79.5M171.4 79.0L166.0 79.0M171.4 79.5L166.0 79.5M165.0 79.2L165.0 80.0M166.0 79.2L165.0 79.2M171.4 80.0L165.0 80.0M164.7 79.6L164.7 80.5M165.0 79.6L164.7 79.6M171.4 80.5L164.7 80.5M164.3 78.1L164.3 80.0M165.2 78.1L164.3 78.1M164.7 80.0L164.3 80.0M164.0 76.7L164.0 79.1M166.0 76.7L164.0 76.7M164.3 79.1L164.0 79.1M166.0 81.0L166.0 81.5M171.4 81.0L166.0 81.0M171.4 81.5L166.0 81.5M166.0 82.0L166.0 82.5M171.4 82.0L166.0 82.0M171.4 82.5L166.0 82.5M165.1 82.2L165.1 83.0M166.0 82.2L165.1 82.2M171.4 83.0L165.1 83.0M164.5 81.2L164.5 82.6M166.0 81.2L164.5 81.2M165.1 82.6L164.5 82.6M163.2 77.9L163.2 81.9M164.0 77.9L163.2 77.9M164.5 81.9L163.2 81.9M166.0 83.5L166.0 84.0M171.4 83.5L166.0 83.5M171.4 84.0L166.0 84.0M165.2 83.7L165.2 84.5M166.0 83.7L165.2 83.7M171.4 84.5L165.2 84.5M164.6 84.1L164.6 85.0M165.2 84.1L164.6 84.1M171.4 85.0L164.6 85.0M166.0 85.5L166.0 86.0M171.4 85.5L166.0 85.5M171.4 86.0L166.0 86.0M165.1 85.7L165.1 86.5M166.0 85.7L165.1 85.7M171.4 86.5L165.1 86.5M164.0 84.5L164.0 86.1M164.6 84.5L164.0 84.5M165.1 86.1L164.0 86.1M162.8 79.9L162.8 85.3M163.2 79.9L162.8 79.9M164.0 85.3L162.8 85.3M160.2 67.8L160.2 82.6M161.3 67.8L160.2 67.8M162.8 82.6L160.2 82.6M166.0 87.0L166.0 87.5M171.4 87.0L166.0 87.0M171.4 87.5L166.0 87.5M166.0 88.5L166.0 89.0M171.4 88.5L166.0 88.5M171.4 89.0L166.0 89.0M165.1 88.0L165.1 88.7M171.4 88.0L165.1 88.0M166.0 88.7L165.1 88.7M166.0 89.5L166.0 90.0M171.4 89.5L166.0 89.5M171.4 90.0L166.0 90.0M164.7 88.4L164.7 89.7M165.1 88.4L164.7 88.4M166.0 89.7L164.7 89.7M164.1 87.2L164.1 89.0M166.0 87.2L164.1 87.2M164.7 89.0L164.1 89.0M166.0 91.0L166.0 91.5M171.4 91.0L166.0 91.0M171.4 91.5L166.0 91.5M165.0 90.5L165.0 91.2M171.4 90.5L165.0 90.5M166.0 91.2L165.0 91.2M163.7 88.1L163.7 90.9M164.1 88.1L163.7 88.1M165.0 90.9L163.7 90.9M166.0 92.0L166.0 92.5M171.4 92.0L166.0 92.0M171.4 92.5L166.0 92.5M166.0 93.5L166.0 94.0M171.4 93.5L166.0 93.5M171.4 94.0L166.0 94.0M165.1 93.0L165.1 93.7M171.4 93.0L165.1 93.0M166.0 93.7L165.1 93.7M164.4 92.2L164.4 93.4M166.0 92.2L164.4 92.2M165.1 93.4L164.4 93.4M166.0 94.5L166.0 95.0M171.4 94.5L166.0 94.5M171.4 95.0L166.0 95.0M166.0 95.5L166.0 96.0M171.4 95.5L166.0 95.5M171.4 96.0L166.0 96.0M164.6 94.7L164.6 95.7M166.0 94.7L164.6 94.7M166.0 95.7L164.6 95.7M166.0 96.5L166.0 97.0M171.4 96.5L166.0 96.5M171.4 97.0L166.0 97.0M164.3 95.2L164.3 96.7M164.6 95.2L164.3 95.2M166.0 96.7L164.3 96.7M166.0 98.5L166.0 99.0M171.4 98.5L166.0 98.5M171.4 99.0L166.0 99.0M165.0 98.0L165.0 98.8M171.4 98.0L165.0 98.0M166.0 98.8L165.0 98.8M164.7 98.4L164.7 99.5M165.0 98.4L164.7 98.4M171.4 99.5L164.7 99.5M164.3 97.5L164.3 98.9M171.4 97.5L164.3 97.5M164.7 98.9L164.3 98.9M166.0 100.0L166.0 100.5M171.4 100.0L166.0 100.0M171.4 100.5L166.0 100.5M165.1 100.3L165.1 101.0M166.0 100.3L165.1 100.3M171.4 101.0L165.1 101.0M164.0 98.2L164.0 100.6M164.3 98.2L164.0 98.2M165.1 100.6L164.0 100.6M162.9 96.0L162.9 99.4M164.3 96.0L162.9 96.0M164.0 99.4L162.9 99.4M162.5 92.8L162.5 97.7M164.4 92.8L162.5 92.8M162.9 97.7L162.5 97.7M162.1 89.5L162.1 95.3M163.7 89.5L162.1 89.5M162.5 95.3L162.1 95.3M166.0 101.5L166.0 102.0M171.4 101.5L166.0 101.5M171.4 102.0L166.0 102.0M165.1 101.8L165.1 102.5M166.0 101.8L165.1 101.8M171.4 102.5L165.1 102.5M166.0 103.0L166.0 103.5M171.4 103.0L166.0 103.0M171.4 103.5L166.0 103.5M165.1 103.3L165.1 104.0M166.0 103.3L165.1 103.3M171.4 104.0L165.1 104.0M164.2 102.1L164.2 103.6M165.1 102.1L164.2 102.1M165.1 103.6L164.2 103.6M166.0 105.5L166.0 106.0M171.4 105.5L166.0 105.5M171.4 106.0L166.0 106.0M165.2 105.0L165.2 105.8M171.4 105.0L165.2 105.0M166.0 105.8L165.2 105.8M164.7 104.5L164.7 105.4M171.4 104.5L164.7 104.5M165.2 105.4L164.7 105.4M166.0 106.5L166.0 107.0M171.4 106.5L166.0 106.5M171.4 107.0L166.0 107.0M165.0 106.8L165.0 107.5M166.0 106.8L165.0 106.8M171.4 107.5L165.0 107.5M166.0 108.0L166.0 108.5M171.4 108.0L166.0 108.0M171.4 108.5L166.0 108.5M165.2 108.3L165.2 109.0M166.0 108.3L165.2 108.3M171.4 109.0L165.2 109.0M164.7 108.7L164.7 109.5M165.2 108.7L164.7 108.7M171.4 109.5L164.7 109.5M164.3 107.1L164.3 109.1M165.0 107.1L164.3 107.1M164.7 109.1L164.3 109.1M163.4 105.0L163.4 108.1M164.7 105.0L163.4 105.0M164.3 108.1L163.4 108.1M163.1 102.9L163.1 106.5M164.2 102.9L163.1 102.9M163.4 106.5L163.1 106.5M166.0 111.0L166.0 111.5M171.4 111.0L166.0 111.0M171.4 111.5L166.0 111.5M165.2 110.5L165.2 111.3M171.4 110.5L165.2 110.5M166.0 111.3L165.2 111.3M164.8 110.0L164.8 110.9M171.4 110.0L164.8 110.0M165.2 110.9L164.8 110.9M162.4 104.7L162.4 110.5M163.1 104.7L162.4 104.7M164.8 110.5L162.4 110.5M160.6 92.4L160.6 107.6M162.1 92.4L160.6 92.4M162.4 107.6L160.6 107.6M158.7 75.2L158.7 100.0M160.2 75.2L158.7 75.2M160.6 100.0L158.7 100.0M166.0 112.0L166.0 112.5M171.4 112.0L166.0 112.0M171.4 112.5L166.0 112.5M166.0 113.0L166.0 113.5M171.4 113.0L166.0 113.0M171.4 113.5L166.0 113.5M164.9 112.3L164.9 113.3M166.0 112.3L164.9 112.3M166.0 113.3L164.9 113.3M166.0 114.5L166.0 115.0M171.4 114.5L166.0 114.5M171.4 115.0L166.0 115.0M165.0 114.0L165.0 114.8M171.4 114.0L165.0 114.0M166.0 114.8L165.0 114.8M164.4 112.8L164.4 114.4M164.9 112.8L164.4 112.8M165.0 114.4L164.4 114.4M166.0 115.5L166.0 116.0M171.4 115.5L166.0 115.5M171.4 116.0L166.0 116.0M166.0 116.5L166.0 117.0M171.4 116.5L166.0 116.5M171.4 117.0L166.0 117.0M165.1 116.8L165.1 117.5M166.0 116.8L165.1 116.8M171.4 117.5L165.1 117.5M164.3 115.8L164.3 117.2M166.0 115.8L164.3 115.8M165.1 117.2L164.3 117.2M164.0 116.5L164.0 118.0M164.3 116.5L164.0 116.5M171.4 118.0L164.0 118.0M163.5 113.6L163.5 117.3M164.4 113.6L163.5 113.6M164.0 117.3L163.5 117.3M166.0 118.6L166.0 119.1M171.4 118.6L166.0 118.6M171.4 119.1L166.0 119.1M166.0 120.1L166.0 120.6M171.4 120.1L166.0 120.1M171.4 120.6L166.0 120.6M165.1 120.3L165.1 121.1M166.0 120.3L165.1 120.3M171.4 121.1L165.1 121.1M164.7 119.6L164.7 120.7M171.4 119.6L164.7 119.6M165.1 120.7L164.7 120.7M164.4 118.8L164.4 120.1M166.0 118.8L164.4 118.8M164.7 120.1L164.4 120.1M162.6 115.4L162.6 119.5M163.5 115.4L162.6 115.4M164.4 119.5L162.6 119.5M166.0 121.6L166.0 122.1M171.4 121.6L166.0 121.6M171.4 122.1L166.0 122.1M166.0 123.1L166.0 123.6M171.4 123.1L166.0 123.1M171.4 123.6L166.0 123.6M165.2 122.6L165.2 123.3M171.4 122.6L165.2 122.6M166.0 123.3L165.2 123.3M164.4 121.8L164.4 122.9M166.0 121.8L164.4 121.8M165.2 122.9L164.4 122.9M166.0 124.1L166.0 124.6M171.4 124.1L166.0 124.1M171.4 124.6L166.0 124.6M166.0 125.6L166.0 126.1M171.4 125.6L166.0 125.6M171.4 126.1L166.0 126.1M165.1 125.1L165.1 125.8M171.4 125.1L165.1 125.1M166.0 125.8L165.1 125.8M164.7 124.3L164.7 125.4M166.0 124.3L164.7 124.3M165.1 125.4L164.7 125.4M163.9 122.4L163.9 124.9M164.4 122.4L163.9 122.4M164.7 124.9L163.9 124.9M166.0 126.6L166.0 127.1M171.4 126.6L166.0 126.6M171.4 127.1L166.0 127.1M165.1 126.8L165.1 127.6M166.0 126.8L165.1 126.8M171.4 127.6L165.1 127.6M163.4 123.6L163.4 127.2M163.9 123.6L163.4 123.6M165.1 127.2L163.4 127.2M161.9 117.4L161.9 125.4M162.6 117.4L161.9 117.4M163.4 125.4L161.9 125.4M166.0 128.1L166.0 128.6M171.4 128.1L166.0 128.1M171.4 128.6L166.0 128.6M165.0 128.3L165.0 129.1M166.0 128.3L165.0 128.3M171.4 129.1L165.0 129.1M166.0 129.6L166.0 130.1M171.4 129.6L166.0 129.6M171.4 130.1L166.0 130.1M165.0 129.8L165.0 130.6M166.0 129.8L165.0 129.8M171.4 130.6L165.0 130.6M166.0 131.1L166.0 131.6M171.4 131.1L166.0 131.1M171.4 131.6L166.0 131.6M165.2 131.3L165.2 132.1M166.0 131.3L165.2 131.3M171.4 132.1L165.2 132.1M164.2 130.2L164.2 131.7M165.0 130.2L164.2 130.2M165.2 131.7L164.2 131.7M166.0 132.6L166.0 133.1M171.4 132.6L166.0 132.6M171.4 133.1L166.0 133.1M166.0 133.6L166.0 134.1M171.4 133.6L166.0 133.6M171.4 134.1L166.0 134.1M164.7 132.8L164.7 133.8M166.0 132.8L164.7 132.8M166.0 133.8L164.7 133.8M163.7 131.0L163.7 133.3M164.2 131.0L163.7 131.0M164.7 133.3L163.7 133.3M163.4 128.7L163.4 132.1M165.0 128.7L163.4 128.7M163.7 132.1L163.4 132.1M166.0 135.1L166.0 135.6M171.4 135.1L166.0 135.1M171.4 135.6L166.0 135.6M165.1 134.6L165.1 135.3M171.4 134.6L165.1 134.6M166.0 135.3L165.1 135.3M164.8 135.0L164.8 136.1M165.1 135.0L164.8 135.0M171.4 136.1L164.8 136.1M162.9 130.4L162.9 135.5M163.4 130.4L162.9 130.4M164.8 135.5L162.9 135.5M166.0 136.6L166.0 137.1M171.4 136.6L166.0 136.6M171.4 137.1L166.0 137.1M166.0 138.6L166.0 139.1M171.4 138.6L166.0 138.6M171.4 139.1L166.0 139.1M165.0 138.8L165.0 139.6M166.0 138.8L165.0 138.8M171.4 139.6L165.0 139.6M164.7 138.1L164.7 139.2M171.4 138.1L164.7 138.1M165.0 139.2L164.7 139.2M164.3 137.6L164.3 138.7M171.4 137.6L164.3 137.6M164.7 138.7L164.3 138.7M164.0 136.8L164.0 138.1M166.0 136.8L164.0 136.8M164.3 138.1L164.0 138.1M166.0 140.6L166.0 141.1M171.4 140.6L166.0 140.6M171.4 141.1L166.0 141.1M165.2 140.1L165.2 140.9M171.4 140.1L165.2 140.1M166.0 140.9L165.2 140.9M163.6 137.5L163.6 140.5M164.0 137.5L163.6 137.5M165.2 140.5L163.6 140.5M166.0 141.6L166.0 142.1M171.4 141.6L166.0 141.6M171.4 142.1L166.0 142.1M166.0 142.6L166.0 143.1M171.4 142.6L166.0 142.6M171.4 143.1L166.0 143.1M165.0 142.9L165.0 143.6M166.0 142.9L165.0 142.9M171.4 143.6L165.0 143.6M164.6 141.9L164.6 143.2M166.0 141.9L164.6 141.9M165.0 143.2L164.6 143.2M163.3 139.0L163.3 142.5M163.6 139.0L163.3 139.0M164.6 142.5L163.3 142.5M161.5 133.0L161.5 140.8M162.9 133.0L161.5 133.0M163.3 140.8L161.5 140.8M159.5 121.4L159.5 136.9M161.9 121.4L159.5 121.4M161.5 136.9L159.5 136.9M166.0 144.1L166.0 144.6M171.4 144.1L166.0 144.1M171.4 144.6L166.0 144.6M166.0 146.1L166.0 146.6M171.4 146.1L166.0 146.1M171.4 146.6L166.0 146.6M165.1 145.6L165.1 146.4M171.4 145.6L165.1 145.6M166.0 146.4L165.1 146.4M164.7 146.0L164.7 147.1M165.1 146.0L164.7 146.0M171.4 147.1L164.7 147.1M164.3 145.1L164.3 146.6M171.4 145.1L164.3 145.1M164.7 146.6L164.3 146.6M166.0 147.6L166.0 148.1M171.4 147.6L166.0 147.6M171.4 148.1L166.0 148.1M163.9 145.8L163.9 147.9M164.3 145.8L163.9 145.8M166.0 147.9L163.9 147.9M163.6 144.4L163.6 146.9M166.0 144.4L163.6 144.4M163.9 146.9L163.6 146.9M166.0 149.1L166.0 149.6M171.4 149.1L166.0 149.1M171.4 149.6L166.0 149.6M166.0 150.1L166.0 150.6M171.4 150.1L166.0 150.1M171.4 150.6L166.0 150.6M164.9 149.4L164.9 150.4M166.0 149.4L164.9 149.4M166.0 150.4L164.9 150.4M164.6 148.6L164.6 149.9M171.4 148.6L164.6 148.6M164.9 149.9L164.6 149.9M166.0 151.1L166.0 151.6M171.4 151.1L166.0 151.1M171.4 151.6L166.0 151.6M164.2 149.2L164.2 151.4M164.6 149.2L164.2 149.2M166.0 151.4L164.2 151.4M163.2 145.6L163.2 150.3M163.6 145.6L163.2 145.6M164.2 150.3L163.2 150.3M159.2 129.1L159.2 148.0M159.5 129.1L159.2 129.1M163.2 148.0L159.2 148.0M166.0 152.1L166.0 152.6M171.4 152.1L166.0 152.1M171.4 152.6L166.0 152.6M166.0 153.1L166.0 153.6M171.4 153.1L166.0 153.1M171.4 153.6L166.0 153.6M164.8 152.4L164.8 153.4M166.0 152.4L164.8 152.4M166.0 153.4L164.8 153.4M166.0 154.1L166.0 154.6M171.4 154.1L166.0 154.1M171.4 154.6L166.0 154.6M164.2 152.9L164.2 154.4M164.8 152.9L164.2 152.9M166.0 154.4L164.2 154.4M166.0 155.1L166.0 155.6M171.4 155.1L166.0 155.1M171.4 155.6L166.0 155.6M166.0 156.1L166.0 156.6M171.4 156.1L166.0 156.1M171.4 156.6L166.0 156.6M166.0 157.6L166.0 158.1M171.4 157.6L166.0 157.6M171.4 158.1L166.0 158.1M165.0 157.1L165.0 157.9M171.4 157.1L165.0 157.1M166.0 157.9L165.0 157.9M164.6 156.4L164.6 157.5M166.0 156.4L164.6 156.4M165.0 157.5L164.6 157.5M163.9 155.4L163.9 157.0M166.0 155.4L163.9 155.4M164.6 157.0L163.9 157.0M166.0 158.6L166.0 159.1M171.4 158.6L166.0 158.6M171.4 159.1L166.0 159.1M163.6 156.2L163.6 158.9M163.9 156.2L163.6 156.2M166.0 158.9L163.6 158.9M163.0 153.6L163.0 157.5M164.2 153.6L163.0 153.6M163.6 157.5L163.0 157.5M166.0 160.7L166.0 161.2M171.4 160.7L166.0 160.7M171.4 161.2L166.0 161.2M165.1 160.1L165.1 160.9M171.4 160.1L165.1 160.1M166.0 160.9L165.1 160.9M164.8 159.6L164.8 160.5M171.4 159.6L164.8 159.6M165.1 160.5L164.8 160.5M166.0 161.7L166.0 162.2M171.4 161.7L166.0 161.7M171.4 162.2L166.0 162.2M166.0 162.7L166.0 163.2M171.4 162.7L166.0 162.7M171.4 163.2L166.0 163.2M164.9 161.9L164.9 162.9M166.0 161.9L164.9 161.9M166.0 162.9L164.9 162.9M166.0 164.2L166.0 164.7M171.4 164.2L166.0 164.2M171.4 164.7L166.0 164.7M165.0 163.7L165.0 164.4M171.4 163.7L165.0 163.7M166.0 164.4L165.0 164.4M164.3 162.4L164.3 164.0M164.9 162.4L164.3 162.4M165.0 164.0L164.3 164.0M163.9 160.1L163.9 163.2M164.8 160.1L163.9 160.1M164.3 163.2L163.9 163.2M162.2 155.6L162.2 161.7M163.0 155.6L162.2 155.6M163.9 161.7L162.2 161.7M166.0 165.2L166.0 165.7M171.4 165.2L166.0 165.2M171.4 165.7L166.0 165.7M165.0 165.4L165.0 166.2M166.0 165.4L165.0 165.4M171.4 166.2L165.0 166.2M166.0 166.7L166.0 167.2M171.4 166.7L166.0 166.7M171.4 167.2L166.0 167.2M166.0 168.2L166.0 168.7M171.4 168.2L166.0 168.2M171.4 168.7L166.0 168.7M165.2 167.7L165.2 168.4M171.4 167.7L165.2 167.7M166.0 168.4L165.2 168.4M164.4 166.9L164.4 168.0M166.0 166.9L164.4 166.9M165.2 168.0L164.4 168.0M163.9 165.8L163.9 167.5M165.0 165.8L163.9 165.8M164.4 167.5L163.9 167.5M166.0 169.2L166.0 169.7M171.4 169.2L166.0 169.2M171.4 169.7L166.0 169.7M165.2 169.4L165.2 170.2M166.0 169.4L165.2 169.4M171.4 170.2L165.2 170.2M166.0 171.2L166.0 171.7M171.4 171.2L166.0 171.2M171.4 171.7L166.0 171.7M165.1 170.7L165.1 171.4M171.4 170.7L165.1 170.7M166.0 171.4L165.1 171.4M164.2 169.8L164.2 171.1M165.2 169.8L164.2 169.8M165.1 171.1L164.2 171.1M163.5 166.6L163.5 170.4M163.9 166.6L163.5 166.6M164.2 170.4L163.5 170.4M166.0 172.7L166.0 173.2M171.4 172.7L166.0 172.7M171.4 173.2L166.0 173.2M165.0 172.2L165.0 172.9M171.4 172.2L165.0 172.2M166.0 172.9L165.0 172.9M166.0 173.7L166.0 174.2M171.4 173.7L166.0 173.7M171.4 174.2L166.0 174.2M164.6 172.6L164.6 173.9M165.0 172.6L164.6 172.6M166.0 173.9L164.6 173.9M166.0 175.7L166.0 176.2M171.4 175.7L166.0 175.7M171.4 176.2L166.0 176.2M165.1 175.9L165.1 176.7M166.0 175.9L165.1 175.9M171.4 176.7L165.1 176.7M164.7 175.2L164.7 176.3M171.4 175.2L164.7 175.2M165.1 176.3L164.7 176.3M164.3 174.7L164.3 175.7M171.4 174.7L164.3 174.7M164.7 175.7L164.3 175.7M164.0 173.2L164.0 175.2M164.6 173.2L164.0 173.2M164.3 175.2L164.0 175.2M162.1 168.5L162.1 174.2M163.5 168.5L162.1 168.5M164.0 174.2L162.1 174.2M160.9 158.6L160.9 171.4M162.2 158.6L160.9 158.6M162.1 171.4L160.9 171.4M166.0 177.2L166.0 177.7M171.4 177.2L166.0 177.2M171.4 177.7L166.0 177.7M166.0 178.2L166.0 178.7M171.4 178.2L166.0 178.2M171.4 178.7L166.0 178.7M166.0 179.7L166.0 180.2M171.4 179.7L166.0 179.7M171.4 180.2L166.0 180.2M165.2 179.2L165.2 179.9M171.4 179.2L165.2 179.2M166.0 179.9L165.2 179.9M164.5 178.4L164.5 179.6M166.0 178.4L164.5 178.4M165.2 179.6L164.5 179.6M164.1 177.4L164.1 179.0M166.0 177.4L164.1 177.4M164.5 179.0L164.1 179.0M166.0 181.7L166.0 182.2M171.4 181.7L166.0 181.7M171.4 182.2L166.0 182.2M165.2 181.2L165.2 182.0M171.4 181.2L165.2 181.2M166.0 182.0L165.2 182.0M164.8 180.7L164.8 181.6M171.4 180.7L164.8 180.7M165.2 181.6L164.8 181.6M163.4 178.2L163.4 181.1M164.1 178.2L163.4 178.2M164.8 181.1L163.4 181.1M166.0 182.7L166.0 183.2M171.4 182.7L166.0 182.7M171.4 183.2L166.0 183.2M166.0 183.7L166.0 184.2M171.4 183.7L166.0 183.7M171.4 184.2L166.0 184.2M166.0 184.7L166.0 185.2M171.4 184.7L166.0 184.7M171.4 185.2L166.0 185.2M166.0 185.7L166.0 186.2M171.4 185.7L166.0 185.7M171.4 186.2L166.0 186.2M164.7 185.0L164.7 186.0M166.0 185.0L164.7 185.0M166.0 186.0L164.7 186.0M164.4 184.0L164.4 185.5M166.0 184.0L164.4 184.0M164.7 185.5L164.4 185.5M166.0 187.2L166.0 187.7M171.4 187.2L166.0 187.2M171.4 187.7L166.0 187.7M165.2 186.7L165.2 187.5M171.4 186.7L165.2 186.7M166.0 187.5L165.2 187.5M164.0 184.7L164.0 187.1M164.4 184.7L164.0 184.7M165.2 187.1L164.0 187.1M163.5 183.0L163.5 185.9M166.0 183.0L163.5 183.0M164.0 185.9L163.5 185.9M162.4 179.7L162.4 184.4M163.4 179.7L162.4 179.7M163.5 184.4L162.4 184.4M166.0 188.2L166.0 188.7M171.4 188.2L166.0 188.2M171.4 188.7L166.0 188.7M166.0 189.2L166.0 189.7M171.4 189.2L166.0 189.2M171.4 189.7L166.0 189.7M165.0 189.5L165.0 190.2M166.0 189.5L165.0 189.5M171.4 190.2L165.0 190.2M164.7 188.5L164.7 189.8M166.0 188.5L164.7 188.5M165.0 189.8L164.7 189.8M166.0 190.7L166.0 191.2M171.4 190.7L166.0 190.7M171.4 191.2L166.0 191.2M166.0 191.7L166.0 192.2M171.4 191.7L166.0 191.7M171.4 192.2L166.0 192.2M165.0 192.0L165.0 192.7M166.0 192.0L165.0 192.0M171.4 192.7L165.0 192.7M164.4 191.0L164.4 192.4M166.0 191.0L164.4 191.0M165.0 192.4L164.4 192.4M163.6 189.2L163.6 191.7M164.7 189.2L163.6 189.2M164.4 191.7L163.6 191.7M162.0 182.1L162.0 190.4M162.4 182.1L162.0 182.1M163.6 190.4L162.0 190.4M166.0 193.2L166.0 193.7M171.4 193.2L166.0 193.2M171.4 193.7L166.0 193.7M166.0 194.2L166.0 194.7M171.4 194.2L166.0 194.2M171.4 194.7L166.0 194.7M164.8 193.5L164.8 194.5M166.0 193.5L164.8 193.5M166.0 194.5L164.8 194.5M166.0 195.2L166.0 195.7M171.4 195.2L166.0 195.2M171.4 195.7L166.0 195.7M166.0 196.2L166.0 196.7M171.4 196.2L166.0 196.2M171.4 196.7L166.0 196.7M165.0 196.5L165.0 197.2M166.0 196.5L165.0 196.5M171.4 197.2L165.0 197.2M164.6 195.5L164.6 196.9M166.0 195.5L164.6 195.5M165.0 196.9L164.6 196.9M163.6 194.0L163.6 196.2M164.8 194.0L163.6 194.0M164.6 196.2L163.6 196.2M166.0 197.7L166.0 198.2M171.4 197.7L166.0 197.7M171.4 198.2L166.0 198.2M165.1 198.0L165.1 198.7M166.0 198.0L165.1 198.0M171.4 198.7L165.1 198.7M166.0 199.2L166.0 199.7M171.4 199.2L166.0 199.2M171.4 199.7L166.0 199.7M164.6 198.4L164.6 199.5M165.1 198.4L164.6 198.4M166.0 199.5L164.6 199.5M163.2 195.1L163.2 198.9M163.6 195.1L163.2 195.1M164.6 198.9L163.2 198.9M166.0 200.2L166.0 200.7M171.4 200.2L166.0 200.2M171.4 200.7L166.0 200.7M165.0 200.5L165.0 201.2M166.0 200.5L165.0 200.5M171.4 201.2L165.0 201.2M166.0 201.7L166.0 202.2M171.4 201.7L166.0 201.7M171.4 202.2L166.0 202.2M166.0 202.8L166.0 203.3M171.4 202.8L166.0 202.8M171.4 203.3L166.0 203.3M164.6 202.0L164.6 203.0M166.0 202.0L164.6 202.0M166.0 203.0L164.6 203.0M164.2 200.9L164.2 202.5M165.0 200.9L164.2 200.9M164.6 202.5L164.2 202.5M162.9 197.0L162.9 201.7M163.2 197.0L162.9 197.0M164.2 201.7L162.9 201.7M166.0 204.3L166.0 204.8M171.4 204.3L166.0 204.3M171.4 204.8L166.0 204.8M165.2 203.8L165.2 204.5M171.4 203.8L165.2 203.8M166.0 204.5L165.2 204.5M166.0 205.3L166.0 205.8M171.4 205.3L166.0 205.3M171.4 205.8L166.0 205.8M164.6 204.1L164.6 205.5M165.2 204.1L164.6 204.1M166.0 205.5L164.6 205.5M166.0 206.3L166.0 206.8M171.4 206.3L166.0 206.3M171.4 206.8L166.0 206.8M164.2 204.8L164.2 206.5M164.6 204.8L164.2 204.8M166.0 206.5L164.2 206.5M161.8 199.3L161.8 205.7M162.9 199.3L161.8 199.3M164.2 205.7L161.8 205.7M160.6 186.2L160.6 202.5M162.0 186.2L160.6 186.2M161.8 202.5L160.6 202.5M158.1 165.0L158.1 194.4M160.9 165.0L158.1 165.0M160.6 194.4L158.1 194.4M156.2 138.6L156.2 179.7M159.2 138.6L156.2 138.6M158.1 179.7L156.2 179.7M155.8 87.6L155.8 159.1M158.7 87.6L155.8 87.6M156.2 159.1L155.8 159.1M166.0 207.3L166.0 207.8M171.4 207.3L166.0 207.3M171.4 207.8L166.0 207.8M166.0 208.3L166.0 208.8M171.4 208.3L166.0 208.3M171.4 208.8L166.0 208.8M164.8 207.5L164.8 208.5M166.0 207.5L164.8 207.5M166.0 208.5L164.8 208.5M166.0 209.8L166.0 210.3M171.4 209.8L166.0 209.8M171.4 210.3L166.0 210.3M165.1 209.3L165.1 210.0M171.4 209.3L165.1 209.3M166.0 210.0L165.1 210.0M164.8 209.6L164.8 210.8M165.1 209.6L164.8 209.6M171.4 210.8L164.8 210.8M163.8 208.0L163.8 210.2M164.8 208.0L163.8 208.0M164.8 210.2L163.8 210.2M166.0 211.3L166.0 211.8M171.4 211.3L166.0 211.3M171.4 211.8L166.0 211.8M166.0 212.3L166.0 212.8M171.4 212.3L166.0 212.3M171.4 212.8L166.0 212.8M166.0 213.8L166.0 214.3M171.4 213.8L166.0 213.8M171.4 214.3L166.0 214.3M165.1 213.3L165.1 214.0M171.4 213.3L165.1 213.3M166.0 214.0L165.1 214.0M164.6 212.5L164.6 213.7M166.0 212.5L164.6 212.5M165.1 213.7L164.6 213.7M163.9 211.5L163.9 213.1M166.0 211.5L163.9 211.5M164.6 213.1L163.9 213.1M166.0 214.8L166.0 215.3M171.4 214.8L166.0 214.8M171.4 215.3L166.0 215.3M163.6 212.3L163.6 215.0M163.9 212.3L163.6 212.3M166.0 215.0L163.6 215.0M166.0 215.8L166.0 216.3M171.4 215.8L166.0 215.8M171.4 216.3L166.0 216.3M166.0 216.8L166.0 217.3M171.4 216.8L166.0 216.8M171.4 217.3L166.0 217.3M166.0 217.8L166.0 218.3M171.4 217.8L166.0 217.8M171.4 218.3L166.0 218.3M166.0 218.8L166.0 219.3M171.4 218.8L166.0 218.8M171.4 219.3L166.0 219.3M166.0 219.8L166.0 220.3M171.4 219.8L166.0 219.8M171.4 220.3L166.0 220.3M166.0 220.8L166.0 221.3M171.4 220.8L166.0 220.8M171.4 221.3L166.0 221.3M164.9 220.0L164.9 221.0M166.0 220.0L164.9 220.0M166.0 221.0L164.9 221.0M164.2 219.0L164.2 220.5M166.0 219.0L164.2 219.0M164.9 220.5L164.2 220.5M163.8 218.0L163.8 219.8M166.0 218.0L163.8 218.0M164.2 219.8L163.8 219.8M163.5 217.0L163.5 218.9M166.0 217.0L163.5 217.0M163.8 218.9L163.5 218.9M163.1 216.0L163.1 218.0M166.0 216.0L163.1 216.0M163.5 218.0L163.1 218.0M162.8 213.7L162.8 217.0M163.6 213.7L162.8 213.7M163.1 217.0L162.8 217.0M162.2 209.1L162.2 215.3M163.8 209.1L162.2 209.1M162.8 215.3L162.2 215.3M166.0 222.8L166.0 223.3M171.4 222.8L166.0 222.8M171.4 223.3L166.0 223.3M165.1 222.3L165.1 223.0M171.4 222.3L165.1 222.3M166.0 223.0L165.1 223.0M164.7 221.8L164.7 222.7M171.4 221.8L164.7 221.8M165.1 222.7L164.7 222.7M166.0 225.3L166.0 225.8M171.4 225.3L166.0 225.3M171.4 225.8L166.0 225.8M165.2 224.8L165.2 225.6M171.4 224.8L165.2 224.8M166.0 225.6L165.2 225.6M164.9 224.3L164.9 225.2M171.4 224.3L164.9 224.3M165.2 225.2L164.9 225.2M164.5 223.8L164.5 224.7M171.4 223.8L164.5 223.8M164.9 224.7L164.5 224.7M163.6 222.2L163.6 224.3M164.7 222.2L163.6 222.2M164.5 224.3L163.6 224.3M161.6 212.2L161.6 223.3M162.2 212.2L161.6 212.2M163.6 223.3L161.6 223.3M166.0 226.3L166.0 226.8M171.4 226.3L166.0 226.3M171.4 226.8L166.0 226.8M166.0 228.3L166.0 228.8M171.4 228.3L166.0 228.3M171.4 228.8L166.0 228.8M165.2 227.8L165.2 228.6M171.4 227.8L165.2 227.8M166.0 228.6L165.2 228.6M164.8 227.3L164.8 228.2M171.4 227.3L164.8 227.3M165.2 228.2L164.8 228.2M164.5 226.6L164.5 227.7M166.0 226.6L164.5 226.6M164.8 227.7L164.5 227.7M166.0 229.8L166.0 230.3M171.4 229.8L166.0 229.8M171.4 230.3L166.0 230.3M165.1 229.3L165.1 230.1M171.4 229.3L165.1 229.3M166.0 230.1L165.1 230.1M166.0 230.8L166.0 231.3M171.4 230.8L166.0 230.8M171.4 231.3L166.0 231.3M166.0 231.8L166.0 232.3M171.4 231.8L166.0 231.8M171.4 232.3L166.0 232.3M165.0 232.1L165.0 232.8M166.0 232.1L165.0 232.1M171.4 232.8L165.0 232.8M164.4 231.1L164.4 232.4M166.0 231.1L164.4 231.1M165.0 232.4L164.4 232.4M164.1 229.7L164.1 231.8M165.1 229.7L164.1 229.7M164.4 231.8L164.1 231.8M166.0 233.3L166.0 233.8M171.4 233.3L166.0 233.3M171.4 233.8L166.0 233.8M165.0 233.6L165.0 234.3M166.0 233.6L165.0 233.6M171.4 234.3L165.0 234.3M166.0 234.8L166.0 235.3M171.4 234.8L166.0 234.8M171.4 235.3L166.0 235.3M165.0 235.1L165.0 235.8M166.0 235.1L165.0 235.1M171.4 235.8L165.0 235.8M164.2 234.0L164.2 235.5M165.0 234.0L164.2 234.0M165.0 235.5L164.2 235.5M163.3 230.7L163.3 234.7M164.1 230.7L163.3 230.7M164.2 234.7L163.3 234.7M166.0 236.8L166.0 237.3M171.4 236.8L166.0 236.8M171.4 237.3L166.0 237.3M165.1 236.3L165.1 237.1M171.4 236.3L165.1 236.3M166.0 237.1L165.1 237.1M166.0 237.8L166.0 238.3M171.4 237.8L166.0 237.8M171.4 238.3L166.0 238.3M166.0 238.8L166.0 239.3M171.4 238.8L166.0 238.8M171.4 239.3L166.0 239.3M164.8 238.1L164.8 239.1M166.0 238.1L164.8 238.1M166.0 239.1L164.8 239.1M166.0 239.8L166.0 240.3M171.4 239.8L166.0 239.8M171.4 240.3L166.0 240.3M164.4 238.6L164.4 240.1M164.8 238.6L164.4 238.6M166.0 240.1L164.4 240.1M163.9 236.7L163.9 239.3M165.1 236.7L163.9 236.7M164.4 239.3L163.9 239.3M162.2 232.7L162.2 238.0M163.3 232.7L162.2 232.7M163.9 238.0L162.2 238.0M161.9 227.2L161.9 235.4M164.5 227.2L161.9 227.2M162.2 235.4L161.9 235.4M166.0 240.8L166.0 241.3M171.4 240.8L166.0 240.8M171.4 241.3L166.0 241.3M166.0 241.8L166.0 242.3M171.4 241.8L166.0 241.8M171.4 242.3L166.0 242.3M164.7 241.1L164.7 242.1M166.0 241.1L164.7 241.1M166.0 242.1L164.7 242.1M166.0 242.8L166.0 243.3M171.4 242.8L166.0 242.8M171.4 243.3L166.0 243.3M166.0 243.8L166.0 244.3M171.4 243.8L166.0 243.8M171.4 244.3L166.0 244.3M164.7 243.1L164.7 244.1M166.0 243.1L164.7 243.1M166.0 244.1L164.7 244.1M166.0 244.9L166.0 245.4M171.4 244.9L166.0 244.9M171.4 245.4L166.0 245.4M165.1 245.1L165.1 245.9M166.0 245.1L165.1 245.1M171.4 245.9L165.1 245.9M166.0 246.4L166.0 246.9M171.4 246.4L166.0 246.4M171.4 246.9L166.0 246.9M166.0 247.4L166.0 247.9M171.4 247.4L166.0 247.4M171.4 247.9L166.0 247.9M166.0 248.4L166.0 248.9M171.4 248.4L166.0 248.4M171.4 248.9L166.0 248.9M165.1 248.6L165.1 249.4M166.0 248.6L165.1 248.6M171.4 249.4L165.1 249.4M164.4 247.6L164.4 249.0M166.0 247.6L164.4 247.6M165.1 249.0L164.4 249.0M164.0 246.6L164.0 248.3M166.0 246.6L164.0 246.6M164.4 248.3L164.0 248.3M163.7 245.5L163.7 247.5M165.1 245.5L163.7 245.5M164.0 247.5L163.7 247.5M163.3 243.6L163.3 246.5M164.7 243.6L163.3 243.6M163.7 246.5L163.3 246.5M162.9 241.6L162.9 245.0M164.7 241.6L162.9 241.6M163.3 245.0L162.9 245.0M160.8 231.3L160.8 243.3M161.9 231.3L160.8 231.3M162.9 243.3L160.8 243.3M166.0 249.9L166.0 250.4M171.4 249.9L166.0 249.9M171.4 250.4L166.0 250.4M165.1 250.1L165.1 250.9M166.0 250.1L165.1 250.1M171.4 250.9L165.1 250.9M164.7 250.5L164.7 251.4M165.1 250.5L164.7 250.5M171.4 251.4L164.7 251.4M166.0 252.4L166.0 252.9M171.4 252.4L166.0 252.4M171.4 252.9L166.0 252.9M165.1 251.9L165.1 252.6M171.4 251.9L165.1 251.9M166.0 252.6L165.1 252.6M166.0 253.4L166.0 253.9M171.4 253.4L166.0 253.4M171.4 253.9L166.0 253.9M164.4 252.2L164.4 253.6M165.1 252.2L164.4 252.2M166.0 253.6L164.4 253.6M163.6 250.9L163.6 252.9M164.7 250.9L163.6 250.9M164.4 252.9L163.6 252.9M166.0 254.9L166.0 255.4M171.4 254.9L166.0 254.9M171.4 255.4L166.0 255.4M165.1 254.4L165.1 255.1M171.4 254.4L165.1 254.4M166.0 255.1L165.1 255.1M164.8 254.7L164.8 255.9M165.1 254.7L164.8 254.7M171.4 255.9L164.8 255.9M166.0 256.4L166.0 256.9M171.4 256.4L166.0 256.4M171.4 256.9L166.0 256.9M166.0 257.9L166.0 258.4M171.4 257.9L166.0 257.9M171.4 258.4L166.0 258.4M165.2 257.4L165.2 258.1M171.4 257.4L165.2 257.4M166.0 258.1L165.2 258.1M164.8 257.8L164.8 258.9M165.2 257.8L164.8 257.8M171.4 258.9L164.8 258.9M164.3 256.6L164.3 258.3M166.0 256.6L164.3 256.6M164.8 258.3L164.3 258.3M163.9 255.3L163.9 257.5M164.8 255.3L163.9 255.3M164.3 257.5L163.9 257.5M162.7 251.9L162.7 256.4M163.6 251.9L162.7 251.9M163.9 256.4L162.7 256.4M166.0 259.4L166.0 259.9M171.4 259.4L166.0 259.4M171.4 259.9L166.0 259.9M165.2 259.6L165.2 260.4M166.0 259.6L165.2 259.6M171.4 260.4L165.2 260.4M164.9 260.0L164.9 260.9M165.2 260.0L164.9 260.0M171.4 260.9L164.9 260.9M166.0 261.4L166.0 261.9M171.4 261.4L166.0 261.4M171.4 261.9L166.0 261.9M165.1 261.6L165.1 262.4M166.0 261.6L165.1 261.6M171.4 262.4L165.1 262.4M164.3 260.5L164.3 262.0M164.9 260.5L164.3 260.5M165.1 262.0L164.3 262.0M166.0 263.4L166.0 263.9M171.4 263.4L166.0 263.4M171.4 263.9L166.0 263.9M166.0 264.4L166.0 264.9M171.4 264.4L166.0 264.4M171.4 264.9L166.0 264.9M164.9 263.6L164.9 264.6M166.0 263.6L164.9 263.6M166.0 264.6L164.9 264.6M164.4 262.9L164.4 264.1M171.4 262.9L164.4 262.9M164.9 264.1L164.4 264.1M164.0 263.5L164.0 265.4M164.4 263.5L164.0 263.5M171.4 265.4L164.0 265.4M163.4 261.2L163.4 264.5M164.3 261.2L163.4 261.2M164.0 264.5L163.4 264.5M161.6 254.2L161.6 262.8M162.7 254.2L161.6 254.2M163.4 262.8L161.6 262.8M160.3 237.3L160.3 258.5M160.8 237.3L160.3 237.3M161.6 258.5L160.3 258.5M157.5 217.7L157.5 247.9M161.6 217.7L157.5 217.7M160.3 247.9L157.5 247.9M150.6 123.4L150.6 232.8M155.8 123.4L150.6 123.4M157.5 232.8L150.6 232.8"/>
<rect x="340.60" y="3.20" width="57.50" height="17.50" fill="#ffb4b4"/>
<rect x="398.10" y="2.20" width="42.80" height="18.50" fill="#aef6fa"/>
<line x1="344.17" y1="20.70" x2="344.17" y2="11.20" stroke="#5a2828" stroke-width="1.00"/>
<line x1="351.31" y1="20.70" x2="351.31" y2="11.20" stroke="#5a2828" stroke-width="1.00"/>
<line x1="344.17" y1="11.20" x2="351.31" y2="11.20" stroke="#5a2828" stroke-width="1.00"/>
<line x1="347.74" y1="11.20" x2="347.74" y2="7.30" stroke="#5a2828" stroke-width="1.00"/>
<line x1="358.45" y1="20.70" x2="358.45" y2="7.30" stroke="#5a2828" stroke-width="1.00"/>
<line x1="347.74" y1="7.30" x2="358.45" y2="7.30" stroke="#5a2828" stroke-width="1.00"/>
<line x1="365.59" y1="20.70" x2="365.59" y2="5.40" stroke="#5a2828" stroke-width="1.00"/>
<line x1="372.73" y1="20.70" x2="372.73" y2="5.40" stroke="#5a2828" stroke-width="1.00"/>
<line x1="365.59" y1="5.40" x2="372.73" y2="5.40" stroke="#5a2828" stroke-width="1.00"/>
<line x1="353.10" y1="7.30" x2="353.10" y2="4.40" stroke="#5a2828" stroke-width="1.00"/>
<line x1="369.16" y1="5.40" x2="369.16" y2="4.40" stroke="#5a2828" stroke-width="1.00"/>
<line x1="353.10" y1="4.40" x2="369.16" y2="4.40" stroke="#5a2828" stroke-width="1.00"/>
<line x1="379.87" y1="20.70" x2="379.87" y2="8.60" stroke="#5a2828" stroke-width="1.00"/>
<line x1="387.01" y1="20.70" x2="387.01" y2="8.60" stroke="#5a2828" stroke-width="1.00"/>
<line x1="379.87" y1="8.60" x2="387.01" y2="8.60" stroke="#5a2828" stroke-width="1.00"/>
<line x1="383.44" y1="8.60" x2="383.44" y2="6.40" stroke="#5a2828" stroke-width="1.00"/>
<line x1="394.15" y1="20.70" x2="394.15" y2="6.40" stroke="#5a2828" stroke-width="1.00"/>
<line x1="383.44" y1="6.40" x2="394.15" y2="6.40" stroke="#5a2828" stroke-width="1.00"/>
<line x1="361.13" y1="4.40" x2="361.13" y2="3.20" stroke="#5a2828" stroke-width="1.00"/>
<line x1="388.79" y1="6.40" x2="388.79" y2="3.20" stroke="#5a2828" stroke-width="1.00"/>
<line x1="361.13" y1="3.20" x2="388.79" y2="3.20" stroke="#5a2828" stroke-width="1.00"/>
<line x1="401.29" y1="20.70" x2="401.29" y2="9.50" stroke="#2a5866" stroke-width="1.00"/>
<line x1="408.43" y1="20.70" x2="408.43" y2="9.50" stroke="#2a5866" stroke-width="1.00"/>
<line x1="401.29" y1="9.50" x2="408.43" y2="9.50" stroke="#2a5866" stroke-width="1.00"/>
<line x1="415.57" y1="20.70" x2="415.57" y2="7.30" stroke="#2a5866" stroke-width="1.00"/>
<line x1="422.71" y1="20.70" x2="422.71" y2="7.30" stroke="#2a5866" stroke-width="1.00"/>
<line x1="415.57" y1="7.30" x2="422.71" y2="7.30" stroke="#2a5866" stroke-width="1.00"/>
<line x1="429.85" y1="20.70" x2="429.85" y2="8.40" stroke="#2a5866" stroke-width="1.00"/>
<line x1="436.99" y1="20.70" x2="436.99" y2="8.40" stroke="#2a5866" stroke-width="1.00"/>
<line x1="429.85" y1="8.40" x2="436.99" y2="8.40" stroke="#2a5866" stroke-width="1.00"/>
<line x1="419.14" y1="7.30" x2="419.14" y2="5.20" stroke="#2a5866" stroke-width="1.00"/>
<line x1="433.42" y1="8.40" x2="433.42" y2="5.20" stroke="#2a5866" stroke-width="1.00"/>
<line x1="419.14" y1="5.20" x2="433.42" y2="5.20" stroke="#2a5866" stroke-width="1.00"/>
<line x1="404.86" y1="9.50" x2="404.86" y2="5.80" stroke="#2a5866" stroke-width="1.00"/>
<line x1="426.28" y1="5.20" x2="426.28" y2="5.80" stroke="#2a5866" stroke-width="1.00"/>
<line x1="404.86" y1="5.80" x2="426.28" y2="5.80" stroke="#2a5866" stroke-width="1.00"/>
<line x1="374.96" y1="3.20" x2="374.96" y2="2.20" stroke="#555555" stroke-width="1.00"/>
<line x1="415.57" y1="5.80" x2="415.57" y2="2.20" stroke="#555555" stroke-width="1.00"/>
<line x1="374.96" y1="2.20" x2="415.57" y2="2.20" stroke="#555555" stroke-width="1.00"/>
<line x1="395.27" y1="2.20" x2="395.27" y2="1.00" stroke="#555555" stroke-width="1.00"/>
<line x1="444.13" y1="20.70" x2="444.13" y2="1.00" stroke="#555555" stroke-width="1.00"/>
<line x1="395.27" y1="1.00" x2="444.13" y2="1.00" stroke="#555555" stroke-width="1.00"/>
<rect x="347.74" y="21.50" width="7.14" height="6.10" fill="#ff00ff"/>
<rect x="362.02" y="21.50" width="7.14" height="6.10" fill="#ff00ff"/>
<rect x="383.44" y="21.50" width="7.14" height="6.10" fill="#ff00ff"/>
<rect x="404.86" y="21.50" width="7.14" height="6.10" fill="#ff00ff"/>
<rect x="433.42" y="21.50" width="7.14" height="6.10" fill="#ff00ff"/>
<rect x="340.60" y="29.70" width="107.10" height="6.30" fill="#ff5675"/>
<rect x="347.74" y="29.70" width="7.14" height="6.30" fill="#ffb83f"/>
<rect x="354.88" y="29.70" width="7.14" height="6.30" fill="#ffb83f"/>
<rect x="383.44" y="29.70" width="7.14" height="6.30" fill="#ffb83f"/>
<rect x="412.00" y="29.70" width="7.14" height="6.30" fill="#ffb83f"/>
<rect x="419.14" y="29.70" width="7.14" height="6.30" fill="#ffb83f"/>
<rect x="340.60" y="38.00" width="7.14" height="6.10" fill="#00641a"/>
<rect x="347.74" y="38.00" width="7.14" height="6.10" fill="#00641a"/>
<rect x="354.88" y="38.00" width="7.14" height="6.10" fill="#00641a"/>
<rect x="362.02" y="38.00" width="7.14" height="6.10" fill="#00641a"/>
<rect x="369.16" y="38.00" width="7.14" height="6.10" fill="#00641a"/>
<rect x="376.30" y="38.00" width="7.14" height="6.10" fill="#00641a"/>
<rect x="383.44" y="38.00" width="7.14" height="6.10" fill="#00641a"/>
<rect x="419.14" y="38.00" width="7.14" height="6.10" fill="#00641a"/>
<rect x="433.42" y="38.00" width="7.14" height="6.10" fill="#00641a"/>
<rect x="440.56" y="38.00" width="7.14" height="6.10" fill="#00641a"/>
<rect x="340.60" y="46.20" width="7.14" height="6.10" fill="#1c1cff"/>
<rect x="347.74" y="46.20" width="7.14" height="6.10" fill="#1c1cff"/>
<rect x="362.02" y="46.20" width="7.14" height="6.10" fill="#1c1cff"/>
<rect x="376.30" y="46.20" width="7.14" height="6.10" fill="#1c1cff"/>
<rect x="383.44" y="46.20" width="7.14" height="6.10" fill="#1c1cff"/>
<rect x="433.42" y="46.20" width="7.14" height="6.10" fill="#1c1cff"/>
<text transform="translate(330.10,53.80) rotate(-90)" font-size="8" font-weight="bold">Enhancer</text>
<text transform="translate(337.20,53.80) rotate(-90)" font-size="8" font-weight="bold">Region</text>
<path fill="#96c8e8" d="M340.6 54.5H347.7V56.9H340.6zM404.9 56.9H412.0V59.4H404.9zM354.9 61.8H369.2V64.2H354.9zM426.3 61.8H433.4V64.2H426.3zM383.4 64.2H390.6V66.6H383.4zM397.7 64.2H412.0V66.6H397.7zM340.6 66.6H347.7V69.1H340.6zM362.0 66.6H369.2V69.1H362.0zM376.3 66.6H383.4V69.1H376.3zM354.9 69.1H362.0V71.5H354.9zM376.3 69.1H383.4V71.5H376.3zM390.6 69.1H404.9V71.5H390.6zM426.3 69.1H433.4V71.5H426.3zM376.3 71.5H383.4V73.9H376.3zM404.9 71.5H419.1V73.9H404.9zM362.0 73.9H369.2V76.3H362.0zM397.7 73.9H404.9V76.3H397.7zM340.6 76.3H347.7V78.8H340.6zM376.3 76.3H383.4V78.8H376.3zM390.6 76.3H397.7V78.8H390.6zM404.9 76.3H412.0V78.8H404.9zM362.0 78.8H369.2V81.2H362.0zM426.3 78.8H433.4V81.2H426.3zM362.0 81.2H369.2V83.6H362.0zM376.3 81.2H383.4V83.6H376.3zM433.4 81.2H447.7V83.6H433.4zM340.6 83.6H347.7V86.0H340.6zM362.0 83.6H369.2V86.0H362.0zM440.6 83.6H447.7V86.0H440.6zM433.4 86.0H440.6V88.5H433.4zM347.7 88.5H354.9V90.9H347.7zM433.4 88.5H440.6V90.9H433.4zM347.7 90.9H362.0V93.3H347.7zM404.9 90.9H412.0V93.3H404.9zM426.3 90.9H433.4V93.3H426.3zM354.9 93.3H362.0V95.7H354.9zM376.3 93.3H383.4V95.7H376.3zM397.7 93.3H404.9V95.7H397.7zM426.3 93.3H433.4V95.7H426.3zM362.0 95.7H369.2V98.2H362.0zM347.7 98.2H354.9V100.6H347.7zM390.6 98.2H397.7V100.6H390.6zM404.9 98.2H412.0V100.6H404.9zM426.3 98.2H433.4V100.6H426.3zM362.0 100.6H369.2V103.0H362.0zM419.1 100.6H426.3V103.0H419.1zM440.6 100.6H447.7V103.0H440.6zM362.0 103.0H369.2V105.4H362.0zM412.0 103.0H426.3V105.4H412.0zM440.6 103.0H447.7V105.4H440.6zM419.1 107.9H426.3V110.3H419.1zM347.7 110.3H354.9V112.7H347.7zM440.6 110.3H447.7V112.7H440.6zM397.7 112.7H404.9V115.1H397.7zM404.9 115.1H412.0V117.6H404.9zM383.4 117.6H390.6V120.0H383.4zM404.9 117.6H412.0V120.0H404.9zM390.6 120.0H397.7V122.4H390.6zM390.6 122.4H397.7V124.8H390.6zM383.4 124.8H390.6V127.3H383.4zM383.4 127.3H397.7V129.7H383.4zM404.9 127.3H419.1V129.7H404.9zM440.6 127.3H447.7V129.7H440.6zM369.2 129.7H376.3V132.1H369.2zM383.4 132.1H397.7V134.5H383.4zM419.1 132.1H433.4V134.5H419.1zM383.4 134.5H390.6V137.0H383.4zM419.1 134.5H426.3V137.0H419.1zM440.6 134.5H447.7V137.0H440.6zM404.9 139.4H412.0V141.8H404.9zM440.6 139.4H447.7V141.8H440.6zM347.7 141.8H354.9V144.2H347.7zM397.7 141.8H404.9V144.2H397.7zM390.6 144.2H397.7V146.7H390.6zM426.3 144.2H433.4V146.7H426.3zM340.6 146.7H347.7V149.1H340.6zM390.6 146.7H397.7V149.1H390.6zM404.9 146.7H412.0V149.1H404.9zM426.3 146.7H433.4V149.1H426.3zM340.6 149.1H347.7V151.5H340.6zM354.9 149.1H362.0V151.5H354.9zM383.4 149.1H390.6V151.5H383.4zM419.1 149.1H426.3V151.5H419.1zM440.6 149.1H447.7V151.5H440.6zM433.4 151.5H447.7V153.9H433.4zM419.1 163.6H426.3V166.1H419.1zM376.3 166.1H383.4V168.5H376.3zM390.6 168.5H397.7V170.9H390.6zM412.0 173.3H419.1V175.8H412.0zM354.9 175.8H362.0V178.2H354.9zM440.6 187.9H447.7V190.3H440.6zM419.1 192.7H426.3V195.2H419.1zM376.3 195.2H383.4V197.6H376.3zM419.1 195.2H426.3V197.6H419.1zM397.7 197.6H404.9V200.0H397.7zM412.0 197.6H419.1V200.0H412.0zM412.0 202.4H419.1V204.9H412.0zM376.3 217.0H383.4V219.4H376.3zM426.3 219.4H433.4V221.8H426.3zM404.9 221.8H412.0V224.3H404.9zM397.7 234.0H404.9V236.4H397.7zM433.4 248.5H440.6V250.9H433.4zM340.6 263.1H347.7V265.5H340.6zM376.3 263.1H383.4V265.5H376.3z"/>
<path fill="#b1d6ee" d="M347.7 54.5H354.9V56.9H347.7zM390.6 54.5H397.7V56.9H390.6zM404.9 54.5H412.0V56.9H404.9zM340.6 56.9H347.7V59.4H340.6zM354.9 56.9H376.3V59.4H354.9zM397.7 61.8H412.0V64.2H397.7zM390.6 66.6H404.9V69.1H390.6zM340.6 69.1H347.7V71.5H340.6zM369.2 69.1H376.3V71.5H369.2zM404.9 69.1H412.0V71.5H404.9zM347.7 71.5H354.9V73.9H347.7zM362.0 71.5H369.2V73.9H362.0zM376.3 73.9H390.6V76.3H376.3zM383.4 76.3H390.6V78.8H383.4zM397.7 76.3H404.9V78.8H397.7zM369.2 78.8H376.3V81.2H369.2zM383.4 78.8H390.6V81.2H383.4zM340.6 81.2H347.7V83.6H340.6zM383.4 83.6H390.6V86.0H383.4zM347.7 86.0H354.9V88.5H347.7zM404.9 86.0H419.1V88.5H404.9zM390.6 90.9H397.7V93.3H390.6zM412.0 90.9H419.1V93.3H412.0zM340.6 95.7H347.7V98.2H340.6zM404.9 95.7H412.0V98.2H404.9zM440.6 98.2H447.7V100.6H440.6zM426.3 100.6H433.4V103.0H426.3zM340.6 103.0H347.7V105.4H340.6zM383.4 103.0H390.6V105.4H383.4zM404.9 103.0H412.0V105.4H404.9zM419.1 105.4H426.3V107.9H419.1zM440.6 105.4H447.7V107.9H440.6zM354.9 107.9H369.2V110.3H354.9zM383.4 107.9H390.6V110.3H383.4zM440.6 107.9H447.7V110.3H440.6zM397.7 110.3H419.1V112.7H397.7zM362.0 112.7H369.2V115.1H362.0zM362.0 115.1H369.2V117.6H362.0zM383.4 115.1H397.7V117.6H383.4zM426.3 115.1H433.4V117.6H426.3zM354.9 117.6H362.0V120.0H354.9zM383.4 120.0H390.6V122.4H383.4zM397.7 120.0H404.9V122.4H397.7zM433.4 120.0H440.6V122.4H433.4zM419.1 124.8H426.3V127.3H419.1zM433.4 127.3H440.6V129.7H433.4zM390.6 129.7H404.9V132.1H390.6zM433.4 129.7H440.6V132.1H433.4zM404.9 132.1H419.1V134.5H404.9zM433.4 132.1H440.6V134.5H433.4zM376.3 134.5H383.4V137.0H376.3zM390.6 137.0H397.7V139.4H390.6zM440.6 137.0H447.7V139.4H440.6zM340.6 139.4H347.7V141.8H340.6zM376.3 139.4H383.4V141.8H376.3zM390.6 139.4H397.7V141.8H390.6zM433.4 139.4H440.6V141.8H433.4zM404.9 141.8H412.0V144.2H404.9zM347.7 146.7H354.9V149.1H347.7zM383.4 146.7H390.6V149.1H383.4zM347.7 149.1H354.9V151.5H347.7zM376.3 151.5H383.4V153.9H376.3zM397.7 161.2H404.9V163.6H397.7zM397.7 175.8H404.9V178.2H397.7zM376.3 178.2H383.4V180.6H376.3zM426.3 204.9H433.4V207.3H426.3zM369.2 207.3H376.3V209.7H369.2zM397.7 207.3H404.9V209.7H397.7zM426.3 207.3H433.4V209.7H426.3zM397.7 209.7H404.9V212.1H397.7zM390.6 217.0H397.7V219.4H390.6zM397.7 238.8H404.9V241.2H397.7zM362.0 243.7H369.2V246.1H362.0zM412.0 246.1H419.1V248.5H412.0z"/>
<path fill="#cbe4f4" d="M354.9 54.5H362.0V56.9H354.9zM383.4 56.9H390.6V59.4H383.4zM426.3 56.9H433.4V59.4H426.3zM390.6 59.4H397.7V61.8H390.6zM426.3 59.4H433.4V61.8H426.3zM369.2 61.8H383.4V64.2H369.2zM412.0 61.8H419.1V64.2H412.0zM433.4 61.8H440.6V64.2H433.4zM390.6 64.2H397.7V66.6H390.6zM433.4 64.2H440.6V66.6H433.4zM397.7 71.5H404.9V73.9H397.7zM433.4 73.9H440.6V76.3H433.4zM383.4 81.2H390.6V83.6H383.4zM433.4 83.6H440.6V86.0H433.4zM362.0 86.0H369.2V88.5H362.0zM376.3 86.0H390.6V88.5H376.3zM426.3 86.0H433.4V88.5H426.3zM340.6 88.5H347.7V90.9H340.6zM426.3 88.5H433.4V90.9H426.3zM397.7 90.9H404.9V93.3H397.7zM362.0 93.3H376.3V95.7H362.0zM383.4 93.3H390.6V95.7H383.4zM369.2 95.7H376.3V98.2H369.2zM426.3 95.7H433.4V98.2H426.3zM369.2 107.9H376.3V110.3H369.2zM433.4 107.9H440.6V110.3H433.4zM362.0 110.3H369.2V112.7H362.0zM419.1 115.1H426.3V117.6H419.1zM426.3 117.6H433.4V120.0H426.3zM419.1 122.4H426.3V124.8H419.1zM340.6 124.8H347.7V127.3H340.6zM376.3 129.7H390.6V132.1H376.3zM340.6 132.1H347.7V134.5H340.6zM340.6 134.5H347.7V137.0H340.6zM376.3 137.0H383.4V139.4H376.3zM433.4 137.0H440.6V139.4H433.4zM419.1 139.4H426.3V141.8H419.1zM397.7 146.7H404.9V149.1H397.7zM397.7 149.1H404.9V151.5H397.7zM340.6 161.2H347.7V163.6H340.6zM412.0 163.6H419.1V166.1H412.0zM383.4 166.1H390.6V168.5H383.4zM376.3 192.7H383.4V195.2H376.3zM369.2 195.2H376.3V197.6H369.2zM419.1 202.4H426.3V204.9H419.1zM340.6 204.9H347.7V207.3H340.6zM362.0 207.3H369.2V209.7H362.0zM354.9 212.1H362.0V214.6H354.9zM347.7 226.7H354.9V229.1H347.7zM397.7 231.5H404.9V234.0H397.7zM412.0 243.7H419.1V246.1H412.0zM362.0 246.1H369.2V248.5H362.0zM433.4 246.1H440.6V248.5H433.4z"/>
<path fill="#faf8f5" d="M362.0 54.5H376.3V56.9H362.0zM397.7 54.5H404.9V56.9H397.7zM347.7 56.9H354.9V59.4H347.7zM376.3 59.4H383.4V61.8H376.3zM340.6 61.8H347.7V64.2H340.6zM390.6 61.8H397.7V64.2H390.6zM354.9 66.6H362.0V69.1H354.9zM369.2 66.6H376.3V69.1H369.2zM419.1 69.1H426.3V71.5H419.1zM433.4 69.1H440.6V71.5H433.4zM340.6 73.9H347.7V76.3H340.6zM354.9 78.8H362.0V81.2H354.9zM354.9 81.2H362.0V83.6H354.9zM390.6 81.2H397.7V83.6H390.6zM404.9 81.2H412.0V83.6H404.9zM419.1 81.2H426.3V83.6H419.1zM412.0 83.6H419.1V86.0H412.0zM340.6 86.0H347.7V88.5H340.6zM369.2 86.0H376.3V88.5H369.2zM354.9 88.5H362.0V90.9H354.9zM397.7 88.5H404.9V90.9H397.7zM419.1 90.9H426.3V93.3H419.1zM440.6 90.9H447.7V93.3H440.6zM390.6 93.3H397.7V95.7H390.6zM433.4 93.3H440.6V95.7H433.4zM390.6 95.7H397.7V98.2H390.6zM383.4 98.2H390.6V100.6H383.4zM397.7 98.2H404.9V100.6H397.7zM354.9 103.0H362.0V105.4H354.9zM376.3 103.0H383.4V105.4H376.3zM397.7 103.0H404.9V105.4H397.7zM390.6 105.4H397.7V107.9H390.6zM426.3 105.4H433.4V107.9H426.3zM340.6 107.9H347.7V110.3H340.6zM390.6 107.9H397.7V110.3H390.6zM412.0 107.9H419.1V110.3H412.0zM426.3 107.9H433.4V110.3H426.3zM376.3 110.3H383.4V112.7H376.3zM347.7 112.7H354.9V115.1H347.7zM419.1 112.7H426.3V115.1H419.1zM340.6 115.1H347.7V117.6H340.6zM369.2 115.1H376.3V117.6H369.2zM347.7 117.6H354.9V120.0H347.7zM376.3 117.6H383.4V120.0H376.3zM419.1 120.0H426.3V122.4H419.1zM354.9 122.4H362.0V124.8H354.9zM376.3 122.4H383.4V124.8H376.3zM433.4 122.4H440.6V124.8H433.4zM369.2 124.8H376.3V127.3H369.2zM433.4 124.8H440.6V127.3H433.4zM347.7 127.3H354.9V129.7H347.7zM369.2 127.3H376.3V129.7H369.2zM419.1 129.7H433.4V132.1H419.1zM369.2 132.1H376.3V134.5H369.2zM347.7 134.5H354.9V137.0H347.7zM340.6 137.0H347.7V139.4H340.6zM369.2 141.8H376.3V144.2H369.2zM426.3 141.8H433.4V144.2H426.3zM369.2 149.1H383.4V151.5H369.2zM362.0 151.5H369.2V153.9H362.0zM376.3 156.4H383.4V158.8H376.3zM347.7 163.6H362.0V166.1H347.7zM426.3 163.6H433.4V166.1H426.3zM426.3 166.1H433.4V168.5H426.3zM354.9 192.7H362.0V195.2H354.9zM433.4 192.7H440.6V195.2H433.4zM369.2 197.6H376.3V200.0H369.2zM369.2 200.0H376.3V202.4H369.2zM383.4 204.9H390.6V207.3H383.4zM383.4 209.7H390.6V212.1H383.4zM383.4 241.2H390.6V243.7H383.4zM412.0 241.2H419.1V243.7H412.0zM433.4 241.2H440.6V243.7H433.4zM433.4 243.7H440.6V246.1H433.4zM354.9 246.1H362.0V248.5H354.9zM383.4 246.1H390.6V248.5H383.4zM419.1 253.4H426.3V255.8H419.1zM354.9 260.6H362.0V263.1H354.9zM426.3 260.6H440.6V263.1H426.3zM369.2 263.1H376.3V265.5H369.2zM426.3 263.1H433.4V265.5H426.3z"/>
<path fill="#e4eff6" d="M376.3 54.5H383.4V56.9H376.3zM340.6 59.4H347.7V61.8H340.6zM362.0 59.4H376.3V61.8H362.0zM433.4 59.4H440.6V61.8H433.4zM419.1 61.8H426.3V64.2H419.1zM376.3 64.2H383.4V66.6H376.3zM426.3 64.2H433.4V66.6H426.3zM426.3 66.6H440.6V69.1H426.3zM383.4 69.1H390.6V71.5H383.4zM383.4 71.5H390.6V73.9H383.4zM347.7 73.9H354.9V76.3H347.7zM390.6 73.9H397.7V76.3H390.6zM419.1 73.9H426.3V76.3H419.1zM412.0 76.3H419.1V78.8H412.0zM412.0 78.8H419.1V81.2H412.0zM347.7 81.2H354.9V83.6H347.7zM397.7 81.2H404.9V83.6H397.7zM412.0 81.2H419.1V83.6H412.0zM426.3 81.2H433.4V83.6H426.3zM376.3 83.6H383.4V86.0H376.3zM440.6 86.0H447.7V88.5H440.6zM412.0 88.5H419.1V90.9H412.0zM404.9 93.3H412.0V95.7H404.9zM347.7 95.7H362.0V98.2H347.7zM433.4 95.7H440.6V98.2H433.4zM340.6 98.2H347.7V100.6H340.6zM362.0 98.2H369.2V100.6H362.0zM347.7 100.6H354.9V103.0H347.7zM397.7 100.6H404.9V103.0H397.7zM426.3 103.0H440.6V105.4H426.3zM376.3 105.4H383.4V107.9H376.3zM383.4 110.3H397.7V112.7H383.4zM426.3 112.7H433.4V115.1H426.3zM354.9 115.1H362.0V117.6H354.9zM369.2 117.6H376.3V120.0H369.2zM419.1 117.6H426.3V120.0H419.1zM376.3 120.0H383.4V122.4H376.3zM340.6 122.4H347.7V124.8H340.6zM362.0 124.8H369.2V127.3H362.0zM390.6 124.8H397.7V127.3H390.6zM376.3 127.3H383.4V129.7H376.3zM419.1 127.3H426.3V129.7H419.1zM412.0 129.7H419.1V132.1H412.0zM376.3 132.1H383.4V134.5H376.3zM412.0 134.5H419.1V137.0H412.0zM426.3 134.5H433.4V137.0H426.3zM347.7 137.0H354.9V139.4H347.7zM369.2 137.0H376.3V139.4H369.2zM412.0 137.0H426.3V139.4H412.0zM347.7 139.4H354.9V141.8H347.7zM347.7 144.2H354.9V146.7H347.7zM369.2 144.2H376.3V146.7H369.2zM390.6 163.6H397.7V166.1H390.6zM412.0 166.1H419.1V168.5H412.0zM412.0 168.5H419.1V170.9H412.0zM354.9 183.0H362.0V185.5H354.9zM383.4 200.0H390.6V202.4H383.4zM397.7 202.4H404.9V204.9H397.7zM383.4 207.3H390.6V209.7H383.4zM354.9 209.7H362.0V212.1H354.9zM354.9 231.5H362.0V234.0H354.9zM347.7 234.0H354.9V236.4H347.7zM426.3 236.4H433.4V238.8H426.3zM390.6 238.8H397.7V241.2H390.6zM390.6 241.2H397.7V243.7H390.6zM369.2 248.5H376.3V250.9H369.2zM426.3 250.9H440.6V253.4H426.3zM362.0 253.4H369.2V255.8H362.0z"/>
<path fill="#83bae1" d="M383.4 54.5H390.6V56.9H383.4zM390.6 56.9H397.7V59.4H390.6zM433.4 56.9H440.6V59.4H433.4zM347.7 59.4H362.0V61.8H347.7zM404.9 59.4H412.0V61.8H404.9zM347.7 61.8H354.9V64.2H347.7zM340.6 64.2H347.7V66.6H340.6zM354.9 64.2H369.2V66.6H354.9zM383.4 66.6H390.6V69.1H383.4zM362.0 69.1H369.2V71.5H362.0zM426.3 71.5H440.6V73.9H426.3zM404.9 73.9H419.1V76.3H404.9zM426.3 73.9H433.4V76.3H426.3zM354.9 76.3H362.0V78.8H354.9zM426.3 76.3H433.4V78.8H426.3zM397.7 83.6H404.9V86.0H397.7zM390.6 86.0H404.9V88.5H390.6zM419.1 86.0H426.3V88.5H419.1zM362.0 88.5H369.2V90.9H362.0zM390.6 88.5H397.7V90.9H390.6zM340.6 90.9H347.7V93.3H340.6zM433.4 90.9H440.6V93.3H433.4zM347.7 93.3H354.9V95.7H347.7zM412.0 93.3H419.1V95.7H412.0zM383.4 95.7H390.6V98.2H383.4zM419.1 95.7H426.3V98.2H419.1zM419.1 98.2H426.3V100.6H419.1zM404.9 100.6H412.0V103.0H404.9zM362.0 105.4H369.2V107.9H362.0zM397.7 105.4H404.9V107.9H397.7zM347.7 107.9H354.9V110.3H347.7zM404.9 112.7H412.0V115.1H404.9zM440.6 112.7H447.7V115.1H440.6zM412.0 115.1H419.1V117.6H412.0zM397.7 117.6H404.9V120.0H397.7zM404.9 122.4H412.0V124.8H404.9zM340.6 127.3H347.7V129.7H340.6zM340.6 129.7H347.7V132.1H340.6zM433.4 134.5H440.6V137.0H433.4zM354.9 137.0H362.0V139.4H354.9zM354.9 139.4H362.0V141.8H354.9zM369.2 139.4H376.3V141.8H369.2zM412.0 139.4H419.1V141.8H412.0zM433.4 141.8H440.6V144.2H433.4zM340.6 144.2H347.7V146.7H340.6zM397.7 144.2H404.9V146.7H397.7zM404.9 149.1H412.0V151.5H404.9zM383.4 151.5H390.6V153.9H383.4zM426.3 151.5H433.4V153.9H426.3zM390.6 161.2H397.7V163.6H390.6zM433.4 161.2H440.6V163.6H433.4zM376.3 163.6H383.4V166.1H376.3zM397.7 166.1H404.9V168.5H397.7zM383.4 168.5H390.6V170.9H383.4zM397.7 168.5H404.9V170.9H397.7zM412.0 170.9H419.1V173.3H412.0zM404.9 173.3H412.0V175.8H404.9zM390.6 180.6H397.7V183.0H390.6zM412.0 180.6H419.1V183.0H412.0zM369.2 183.0H376.3V185.5H369.2zM412.0 183.0H419.1V185.5H412.0zM412.0 185.5H419.1V187.9H412.0zM433.4 187.9H440.6V190.3H433.4zM404.9 190.3H412.0V192.7H404.9zM347.7 192.7H354.9V195.2H347.7zM397.7 192.7H419.1V195.2H397.7zM390.6 195.2H397.7V197.6H390.6zM433.4 195.2H440.6V197.6H433.4zM426.3 197.6H440.6V200.0H426.3zM426.3 200.0H433.4V202.4H426.3zM376.3 204.9H383.4V207.3H376.3zM426.3 209.7H433.4V212.1H426.3zM426.3 212.1H433.4V214.6H426.3zM433.4 217.0H440.6V219.4H433.4zM383.4 221.8H390.6V224.3H383.4zM419.1 221.8H426.3V224.3H419.1zM419.1 224.3H426.3V226.7H419.1zM397.7 236.4H404.9V238.8H397.7zM362.0 241.2H369.2V243.7H362.0zM419.1 241.2H426.3V243.7H419.1zM369.2 243.7H376.3V246.1H369.2zM419.1 246.1H426.3V248.5H419.1zM397.7 248.5H404.9V250.9H397.7zM362.0 250.9H376.3V253.4H362.0zM419.1 250.9H426.3V253.4H419.1zM412.0 260.6H419.1V263.1H412.0zM440.6 260.6H447.7V263.1H440.6z"/>
<path fill="#fbc6a8" d="M412.0 54.5H419.1V56.9H412.0zM412.0 56.9H419.1V59.4H412.0zM404.9 83.6H412.0V86.0H404.9zM354.9 98.2H362.0V100.6H354.9zM354.9 153.9H362.0V156.4H354.9zM376.3 153.9H390.6V156.4H376.3zM397.7 153.9H404.9V156.4H397.7zM412.0 153.9H419.1V156.4H412.0zM440.6 153.9H447.7V156.4H440.6zM412.0 156.4H419.1V158.8H412.0zM433.4 156.4H440.6V158.8H433.4zM354.9 221.8H362.0V224.3H354.9zM440.6 236.4H447.7V238.8H440.6zM347.7 238.8H354.9V241.2H347.7z"/>
<path fill="#5f0014" d="M419.1 54.5H426.3V56.9H419.1zM440.6 54.5H447.7V56.9H440.6zM440.6 56.9H447.7V59.4H440.6zM347.7 64.2H354.9V66.6H347.7zM440.6 64.2H447.7V66.6H440.6zM440.6 66.6H447.7V69.1H440.6zM369.2 71.5H376.3V73.9H369.2zM440.6 71.5H447.7V73.9H440.6zM369.2 73.9H376.3V76.3H369.2zM369.2 81.2H376.3V83.6H369.2zM369.2 83.6H376.3V86.0H369.2zM390.6 83.6H397.7V86.0H390.6zM376.3 88.5H383.4V90.9H376.3zM419.1 93.3H426.3V95.7H419.1zM397.7 95.7H404.9V98.2H397.7zM412.0 95.7H419.1V98.2H412.0zM412.0 100.6H419.1V103.0H412.0zM390.6 103.0H397.7V105.4H390.6zM404.9 107.9H412.0V110.3H404.9zM433.4 110.3H440.6V112.7H433.4zM433.4 112.7H440.6V115.1H433.4zM433.4 115.1H440.6V117.6H433.4zM340.6 117.6H347.7V120.0H340.6zM347.7 120.0H362.0V122.4H347.7zM369.2 120.0H376.3V122.4H369.2zM347.7 122.4H354.9V124.8H347.7zM362.0 122.4H376.3V124.8H362.0zM354.9 127.3H369.2V129.7H354.9zM362.0 129.7H369.2V132.1H362.0zM354.9 132.1H362.0V134.5H354.9zM354.9 134.5H362.0V137.0H354.9zM362.0 137.0H369.2V139.4H362.0zM383.4 137.0H390.6V139.4H383.4zM397.7 137.0H404.9V139.4H397.7zM362.0 139.4H369.2V141.8H362.0zM383.4 139.4H390.6V141.8H383.4zM412.0 141.8H419.1V144.2H412.0zM419.1 146.7H426.3V149.1H419.1zM362.0 149.1H369.2V151.5H362.0zM412.0 149.1H419.1V151.5H412.0z"/>
<path fill="#70acda" d="M426.3 54.5H440.6V56.9H426.3zM412.0 69.1H419.1V71.5H412.0zM347.7 76.3H354.9V78.8H347.7zM362.0 90.9H369.2V93.3H362.0zM340.6 100.6H347.7V103.0H340.6zM412.0 112.7H419.1V115.1H412.0zM390.6 117.6H397.7V120.0H390.6zM383.4 122.4H390.6V124.8H383.4zM412.0 122.4H419.1V124.8H412.0zM376.3 124.8H383.4V127.3H376.3zM354.9 141.8H362.0V144.2H354.9zM390.6 141.8H397.7V144.2H390.6zM426.3 149.1H433.4V151.5H426.3zM376.3 161.2H383.4V163.6H376.3zM412.0 161.2H426.3V163.6H412.0zM390.6 166.1H397.7V168.5H390.6zM419.1 166.1H426.3V168.5H419.1zM397.7 170.9H404.9V173.3H397.7zM376.3 173.3H397.7V175.8H376.3zM404.9 185.5H412.0V187.9H404.9zM390.6 187.9H397.7V190.3H390.6zM390.6 192.7H397.7V195.2H390.6zM397.7 195.2H404.9V197.6H397.7zM390.6 197.6H397.7V200.0H390.6zM419.1 200.0H426.3V202.4H419.1zM369.2 202.4H376.3V204.9H369.2zM362.0 204.9H376.3V207.3H362.0zM362.0 209.7H376.3V212.1H362.0zM412.0 209.7H419.1V212.1H412.0zM383.4 212.1H390.6V214.6H383.4zM397.7 212.1H404.9V214.6H397.7zM412.0 212.1H419.1V214.6H412.0zM412.0 214.6H419.1V217.0H412.0zM433.4 214.6H440.6V217.0H433.4zM426.3 217.0H433.4V219.4H426.3zM390.6 226.7H397.7V229.1H390.6zM419.1 231.5H426.3V234.0H419.1zM426.3 238.8H433.4V241.2H426.3zM404.9 250.9H412.0V253.4H404.9zM376.3 253.4H383.4V255.8H376.3zM397.7 253.4H404.9V255.8H397.7zM419.1 255.8H426.3V258.2H419.1zM419.1 258.2H426.3V260.6H419.1z"/>
<path fill="#fce8d9" d="M376.3 56.9H383.4V59.4H376.3zM419.1 59.4H426.3V61.8H419.1zM383.4 61.8H390.6V64.2H383.4zM369.2 64.2H376.3V66.6H369.2zM347.7 69.1H354.9V71.5H347.7zM340.6 71.5H347.7V73.9H340.6zM419.1 71.5H426.3V73.9H419.1zM404.9 78.8H412.0V81.2H404.9zM347.7 83.6H354.9V86.0H347.7zM426.3 83.6H433.4V86.0H426.3zM440.6 93.3H447.7V95.7H440.6zM376.3 95.7H383.4V98.2H376.3zM440.6 95.7H447.7V98.2H440.6zM390.6 100.6H397.7V103.0H390.6zM347.7 103.0H354.9V105.4H347.7zM412.0 105.4H419.1V107.9H412.0zM376.3 107.9H383.4V110.3H376.3zM397.7 107.9H404.9V110.3H397.7zM426.3 110.3H433.4V112.7H426.3zM383.4 112.7H390.6V115.1H383.4zM376.3 115.1H383.4V117.6H376.3zM433.4 117.6H440.6V120.0H433.4zM426.3 120.0H433.4V122.4H426.3zM426.3 122.4H433.4V124.8H426.3zM426.3 124.8H433.4V127.3H426.3zM347.7 129.7H354.9V132.1H347.7zM347.7 132.1H354.9V134.5H347.7zM426.3 137.0H433.4V139.4H426.3zM397.7 139.4H404.9V141.8H397.7zM426.3 139.4H433.4V141.8H426.3zM419.1 144.2H426.3V146.7H419.1zM376.3 146.7H383.4V149.1H376.3zM362.0 156.4H369.2V158.8H362.0zM347.7 161.2H354.9V163.6H347.7zM433.4 163.6H440.6V166.1H433.4zM340.6 166.1H347.7V168.5H340.6zM426.3 168.5H433.4V170.9H426.3zM383.4 170.9H390.6V173.3H383.4zM347.7 180.6H354.9V183.0H347.7zM376.3 183.0H383.4V185.5H376.3zM426.3 185.5H433.4V187.9H426.3zM426.3 195.2H433.4V197.6H426.3zM419.1 197.6H426.3V200.0H419.1zM397.7 200.0H404.9V202.4H397.7zM347.7 212.1H354.9V214.6H347.7zM419.1 248.5H426.3V250.9H419.1zM390.6 250.9H397.7V253.4H390.6zM433.4 253.4H440.6V255.8H433.4z"/>
<path fill="#f07350" d="M397.7 56.9H404.9V59.4H397.7zM354.9 71.5H362.0V73.9H354.9zM390.6 71.5H397.7V73.9H390.6zM419.1 88.5H426.3V90.9H419.1zM433.4 98.2H440.6V100.6H433.4zM412.0 124.8H419.1V127.3H412.0zM362.0 161.2H369.2V163.6H362.0zM383.4 163.6H390.6V166.1H383.4zM354.9 170.9H362.0V173.3H354.9zM340.6 173.3H347.7V175.8H340.6zM397.7 173.3H404.9V175.8H397.7zM419.1 173.3H426.3V175.8H419.1zM383.4 175.8H390.6V178.2H383.4zM412.0 175.8H419.1V178.2H412.0zM433.4 175.8H440.6V178.2H433.4zM347.7 178.2H354.9V180.6H347.7zM383.4 178.2H390.6V180.6H383.4zM412.0 178.2H419.1V180.6H412.0zM354.9 180.6H362.0V183.0H354.9zM426.3 180.6H433.4V183.0H426.3zM362.0 183.0H369.2V185.5H362.0zM426.3 183.0H433.4V185.5H426.3zM347.7 185.5H354.9V187.9H347.7zM397.7 185.5H404.9V187.9H397.7zM347.7 187.9H362.0V190.3H347.7zM354.9 190.3H362.0V192.7H354.9zM397.7 190.3H404.9V192.7H397.7zM340.6 200.0H347.7V202.4H340.6zM354.9 200.0H362.0V202.4H354.9zM340.6 207.3H347.7V209.7H340.6zM376.3 209.7H383.4V212.1H376.3zM419.1 209.7H426.3V212.1H419.1zM347.7 214.6H354.9V217.0H347.7zM376.3 214.6H397.7V217.0H376.3zM419.1 214.6H426.3V217.0H419.1zM340.6 217.0H354.9V219.4H340.6zM397.7 217.0H404.9V219.4H397.7zM397.7 221.8H404.9V224.3H397.7zM433.4 224.3H440.6V226.7H433.4zM397.7 226.7H404.9V229.1H397.7zM412.0 226.7H419.1V229.1H412.0zM440.6 226.7H447.7V229.1H440.6zM369.2 229.1H376.3V231.5H369.2zM390.6 229.1H397.7V231.5H390.6zM376.3 241.2H383.4V243.7H376.3zM347.7 243.7H354.9V246.1H347.7zM383.4 243.7H390.6V246.1H383.4zM426.3 246.1H433.4V248.5H426.3zM440.6 250.9H447.7V253.4H440.6zM376.3 255.8H383.4V258.2H376.3zM347.7 258.2H354.9V260.6H347.7zM433.4 258.2H440.6V260.6H433.4zM340.6 260.6H347.7V263.1H340.6zM383.4 260.6H390.6V263.1H383.4zM397.7 260.6H404.9V263.1H397.7zM383.4 263.1H397.7V265.5H383.4z"/>
<path fill="#ce3b32" d="M419.1 56.9H426.3V59.4H419.1zM369.2 76.3H376.3V78.8H369.2zM419.1 76.3H426.3V78.8H419.1zM440.6 76.3H447.7V78.8H440.6zM347.7 78.8H354.9V81.2H347.7zM433.4 78.8H440.6V81.2H433.4zM383.4 88.5H390.6V90.9H383.4zM383.4 90.9H390.6V93.3H383.4zM376.3 141.8H390.6V144.2H376.3zM347.7 151.5H354.9V153.9H347.7zM412.0 151.5H419.1V153.9H412.0zM383.4 195.2H390.6V197.6H383.4zM347.7 197.6H354.9V200.0H347.7zM390.6 200.0H397.7V202.4H390.6zM390.6 202.4H397.7V204.9H390.6zM440.6 207.3H447.7V209.7H440.6zM340.6 248.5H347.7V250.9H340.6z"/>
<path fill="#fab491" d="M383.4 59.4H390.6V61.8H383.4zM433.4 100.6H440.6V103.0H433.4zM369.2 103.0H376.3V105.4H369.2zM340.6 112.7H347.7V115.1H340.6zM390.6 112.7H397.7V115.1H390.6zM362.0 117.6H369.2V120.0H362.0zM340.6 120.0H347.7V122.4H340.6zM362.0 141.8H369.2V144.2H362.0zM369.2 146.7H376.3V149.1H369.2zM383.4 156.4H390.6V158.8H383.4zM397.7 156.4H404.9V158.8H397.7zM347.7 158.8H369.2V161.2H347.7zM383.4 158.8H404.9V161.2H383.4zM433.4 158.8H440.6V161.2H433.4zM354.9 224.3H362.0V226.7H354.9zM340.6 226.7H347.7V229.1H340.6zM340.6 229.1H347.7V231.5H340.6zM354.9 229.1H362.0V231.5H354.9zM340.6 231.5H347.7V234.0H340.6zM362.0 231.5H369.2V234.0H362.0zM376.3 231.5H383.4V234.0H376.3zM390.6 231.5H397.7V234.0H390.6zM426.3 231.5H433.4V234.0H426.3zM376.3 234.0H383.4V236.4H376.3zM440.6 234.0H447.7V236.4H440.6zM347.7 236.4H369.2V238.8H347.7zM376.3 236.4H383.4V238.8H376.3zM340.6 238.8H347.7V241.2H340.6zM369.2 238.8H376.3V241.2H369.2z"/>
<path fill="#fcd7bf" d="M397.7 59.4H404.9V61.8H397.7zM412.0 59.4H419.1V61.8H412.0zM369.2 100.6H376.3V103.0H369.2zM433.4 105.4H440.6V107.9H433.4zM340.6 110.3H347.7V112.7H340.6zM419.1 110.3H426.3V112.7H419.1zM376.3 112.7H383.4V115.1H376.3zM347.7 115.1H354.9V117.6H347.7zM362.0 120.0H369.2V122.4H362.0zM404.9 134.5H412.0V137.0H404.9zM369.2 151.5H376.3V153.9H369.2zM404.9 151.5H412.0V153.9H404.9zM340.6 153.9H354.9V156.4H340.6zM362.0 153.9H369.2V156.4H362.0zM404.9 153.9H412.0V156.4H404.9zM419.1 153.9H440.6V156.4H419.1zM340.6 156.4H347.7V158.8H340.6zM354.9 156.4H362.0V158.8H354.9zM390.6 156.4H397.7V158.8H390.6zM404.9 156.4H412.0V158.8H404.9zM419.1 156.4H433.4V158.8H419.1zM440.6 156.4H447.7V158.8H440.6zM340.6 241.2H347.7V243.7H340.6z"/>
<path fill="#780a19" d="M440.6 59.4H447.7V61.8H440.6zM440.6 61.8H447.7V64.2H440.6zM440.6 69.1H447.7V71.5H440.6zM440.6 73.9H447.7V76.3H440.6zM369.2 90.9H376.3V93.3H369.2zM340.6 93.3H347.7V95.7H340.6zM376.3 98.2H383.4V100.6H376.3zM412.0 98.2H419.1V100.6H412.0zM347.7 105.4H354.9V107.9H347.7zM354.9 110.3H362.0V112.7H354.9zM347.7 124.8H362.0V127.3H347.7zM440.6 129.7H447.7V132.1H440.6zM362.0 132.1H369.2V134.5H362.0zM362.0 134.5H369.2V137.0H362.0zM362.0 144.2H369.2V146.7H362.0zM412.0 144.2H419.1V146.7H412.0zM362.0 146.7H369.2V149.1H362.0zM412.0 146.7H419.1V149.1H412.0z"/>
<path fill="#f28360" d="M412.0 64.2H419.1V66.6H412.0zM412.0 66.6H419.1V69.1H412.0zM404.9 88.5H412.0V90.9H404.9zM369.2 110.3H376.3V112.7H369.2zM369.2 112.7H376.3V115.1H369.2zM347.7 175.8H354.9V178.2H347.7zM362.0 175.8H369.2V178.2H362.0zM390.6 175.8H397.7V178.2H390.6zM419.1 175.8H426.3V178.2H419.1zM340.6 178.2H347.7V180.6H340.6zM362.0 178.2H376.3V180.6H362.0zM433.4 178.2H440.6V180.6H433.4zM369.2 180.6H376.3V183.0H369.2zM340.6 185.5H347.7V187.9H340.6zM362.0 185.5H369.2V187.9H362.0zM376.3 185.5H383.4V187.9H376.3zM433.4 185.5H440.6V187.9H433.4zM383.4 187.9H390.6V190.3H383.4zM397.7 187.9H404.9V190.3H397.7zM340.6 190.3H354.9V192.7H340.6zM362.0 190.3H376.3V192.7H362.0zM433.4 190.3H447.7V192.7H433.4zM426.3 192.7H433.4V195.2H426.3zM383.4 197.6H390.6V200.0H383.4zM376.3 200.0H383.4V202.4H376.3zM340.6 202.4H347.7V204.9H340.6zM440.6 202.4H447.7V204.9H440.6zM390.6 212.1H397.7V214.6H390.6zM362.0 214.6H376.3V217.0H362.0zM383.4 217.0H390.6V219.4H383.4zM440.6 217.0H447.7V219.4H440.6zM397.7 219.4H404.9V221.8H397.7zM440.6 219.4H447.7V221.8H440.6zM369.2 221.8H383.4V224.3H369.2zM390.6 221.8H397.7V224.3H390.6zM440.6 221.8H447.7V224.3H440.6zM369.2 224.3H376.3V226.7H369.2zM383.4 224.3H390.6V226.7H383.4zM369.2 226.7H390.6V229.1H369.2zM397.7 229.1H404.9V231.5H397.7zM412.0 229.1H426.3V231.5H412.0zM440.6 229.1H447.7V231.5H440.6zM340.6 236.4H347.7V238.8H340.6zM362.0 238.8H369.2V241.2H362.0zM340.6 246.1H347.7V248.5H340.6zM347.7 248.5H354.9V250.9H347.7zM347.7 255.8H354.9V258.2H347.7zM433.4 255.8H440.6V258.2H433.4zM362.0 258.2H369.2V260.6H362.0zM369.2 260.6H376.3V263.1H369.2zM397.7 263.1H404.9V265.5H397.7zM419.1 263.1H426.3V265.5H419.1z"/>
<path fill="#da4e3c" d="M419.1 64.2H426.3V66.6H419.1zM354.9 73.9H362.0V76.3H354.9zM433.4 76.3H440.6V78.8H433.4zM419.1 78.8H426.3V81.2H419.1zM426.3 127.3H433.4V129.7H426.3zM340.6 151.5H347.7V153.9H340.6zM354.9 151.5H362.0V153.9H354.9zM390.6 151.5H397.7V153.9H390.6zM354.9 161.2H362.0V163.6H354.9zM383.4 161.2H390.6V163.6H383.4zM340.6 163.6H347.7V166.1H340.6zM362.0 163.6H376.3V166.1H362.0zM347.7 166.1H362.0V168.5H347.7zM347.7 168.5H354.9V170.9H347.7zM362.0 168.5H376.3V170.9H362.0zM362.0 170.9H369.2V173.3H362.0zM433.4 170.9H440.6V173.3H433.4zM347.7 173.3H354.9V175.8H347.7zM369.2 173.3H376.3V175.8H369.2zM426.3 173.3H440.6V175.8H426.3zM397.7 178.2H404.9V180.6H397.7zM340.6 183.0H347.7V185.5H340.6zM433.4 183.0H440.6V185.5H433.4zM362.0 192.7H376.3V195.2H362.0zM440.6 195.2H447.7V197.6H440.6zM340.6 197.6H347.7V200.0H340.6zM354.9 197.6H362.0V200.0H354.9zM440.6 197.6H447.7V200.0H440.6zM440.6 200.0H447.7V202.4H440.6zM354.9 202.4H362.0V204.9H354.9zM376.3 202.4H383.4V204.9H376.3zM419.1 204.9H426.3V207.3H419.1zM347.7 207.3H354.9V209.7H347.7zM390.6 207.3H397.7V209.7H390.6zM419.1 207.3H426.3V209.7H419.1zM390.6 209.7H397.7V212.1H390.6zM440.6 209.7H447.7V212.1H440.6zM419.1 212.1H426.3V214.6H419.1zM440.6 212.1H447.7V214.6H440.6zM390.6 219.4H397.7V221.8H390.6zM347.7 241.2H354.9V243.7H347.7zM426.3 241.2H433.4V243.7H426.3zM376.3 246.1H383.4V248.5H376.3zM440.6 248.5H447.7V250.9H440.6zM340.6 250.9H347.7V253.4H340.6zM376.3 250.9H383.4V253.4H376.3zM340.6 253.4H354.9V255.8H340.6zM440.6 253.4H447.7V255.8H440.6zM440.6 255.8H447.7V258.2H440.6zM340.6 258.2H347.7V260.6H340.6zM369.2 258.2H383.4V260.6H369.2zM390.6 258.2H404.9V260.6H390.6zM440.6 258.2H447.7V260.6H440.6zM347.7 260.6H354.9V263.1H347.7z"/>
<path fill="#c32828" d="M347.7 66.6H354.9V69.1H347.7zM419.1 66.6H426.3V69.1H419.1zM362.0 76.3H369.2V78.8H362.0zM340.6 78.8H347.7V81.2H340.6zM440.6 78.8H447.7V81.2H440.6zM354.9 86.0H362.0V88.5H354.9zM376.3 90.9H383.4V93.3H376.3zM354.9 105.4H362.0V107.9H354.9zM369.2 105.4H376.3V107.9H369.2zM354.9 112.7H362.0V115.1H354.9zM369.2 134.5H376.3V137.0H369.2zM419.1 141.8H426.3V144.2H419.1zM383.4 144.2H390.6V146.7H383.4zM433.4 146.7H440.6V149.1H433.4zM397.7 151.5H404.9V153.9H397.7zM419.1 151.5H426.3V153.9H419.1zM433.4 166.1H440.6V168.5H433.4zM340.6 170.9H347.7V173.3H340.6z"/>
<path fill="#4b91cd" d="M404.9 66.6H412.0V69.1H404.9zM440.6 88.5H447.7V90.9H440.6zM440.6 117.6H447.7V120.0H440.6zM440.6 122.4H447.7V124.8H440.6zM440.6 124.8H447.7V127.3H440.6zM397.7 127.3H404.9V129.7H397.7zM404.9 129.7H412.0V132.1H404.9zM397.7 132.1H404.9V134.5H397.7zM340.6 141.8H347.7V144.2H340.6zM440.6 141.8H447.7V144.2H440.6zM354.9 144.2H362.0V146.7H354.9zM440.6 144.2H447.7V146.7H440.6zM404.9 166.1H412.0V168.5H404.9zM440.6 173.3H447.7V175.8H440.6zM426.3 175.8H433.4V178.2H426.3zM404.9 187.9H412.0V190.3H404.9zM362.0 197.6H369.2V200.0H362.0zM404.9 197.6H412.0V200.0H404.9zM426.3 202.4H433.4V204.9H426.3zM404.9 209.7H412.0V212.1H404.9zM404.9 214.6H412.0V217.0H404.9zM369.2 217.0H376.3V219.4H369.2zM433.4 221.8H440.6V224.3H433.4zM390.6 246.1H397.7V248.5H390.6zM362.0 248.5H369.2V250.9H362.0zM354.9 253.4H362.0V255.8H354.9zM397.7 255.8H404.9V258.2H397.7z"/>
<path fill="#4084c4" d="M376.3 78.8H383.4V81.2H376.3zM397.7 78.8H404.9V81.2H397.7zM383.4 105.4H390.6V107.9H383.4zM397.7 115.1H404.9V117.6H397.7zM440.6 115.1H447.7V117.6H440.6zM390.6 134.5H404.9V137.0H390.6zM404.9 144.2H412.0V146.7H404.9zM390.6 149.1H397.7V151.5H390.6zM419.1 168.5H426.3V170.9H419.1zM376.3 170.9H383.4V173.3H376.3zM404.9 170.9H412.0V173.3H404.9zM376.3 175.8H383.4V178.2H376.3zM404.9 175.8H412.0V178.2H404.9zM390.6 178.2H397.7V180.6H390.6zM426.3 178.2H433.4V180.6H426.3zM440.6 178.2H447.7V180.6H440.6zM440.6 180.6H447.7V183.0H440.6zM404.9 183.0H412.0V185.5H404.9zM354.9 185.5H362.0V187.9H354.9zM419.1 187.9H426.3V190.3H419.1zM419.1 190.3H426.3V192.7H419.1zM362.0 195.2H369.2V197.6H362.0zM362.0 202.4H369.2V204.9H362.0zM404.9 204.9H412.0V207.3H404.9zM354.9 207.3H362.0V209.7H354.9zM404.9 207.3H412.0V209.7H404.9zM433.4 212.1H440.6V214.6H433.4zM426.3 214.6H433.4V217.0H426.3zM404.9 219.4H412.0V221.8H404.9zM426.3 221.8H433.4V224.3H426.3zM404.9 226.7H412.0V229.1H404.9zM404.9 229.1H412.0V231.5H404.9zM412.0 231.5H419.1V234.0H412.0zM433.4 231.5H440.6V234.0H433.4zM419.1 234.0H426.3V236.4H419.1zM354.9 243.7H362.0V246.1H354.9zM390.6 243.7H397.7V246.1H390.6zM419.1 243.7H426.3V246.1H419.1zM354.9 248.5H362.0V250.9H354.9zM412.0 248.5H419.1V250.9H412.0zM426.3 248.5H433.4V250.9H426.3zM412.0 250.9H419.1V253.4H412.0zM412.0 253.4H419.1V255.8H412.0zM369.2 255.8H376.3V258.2H369.2zM404.9 255.8H412.0V258.2H404.9zM412.0 258.2H419.1V260.6H412.0zM354.9 263.1H362.0V265.5H354.9zM440.6 263.1H447.7V265.5H440.6z"/>
<path fill="#3678bc" d="M390.6 78.8H397.7V81.2H390.6zM383.4 100.6H390.6V103.0H383.4zM397.7 122.4H404.9V124.8H397.7zM404.9 137.0H412.0V139.4H404.9zM354.9 146.7H362.0V149.1H354.9zM369.2 158.8H376.3V161.2H369.2zM404.9 161.2H412.0V163.6H404.9zM397.7 163.6H412.0V166.1H397.7zM376.3 168.5H383.4V170.9H376.3zM404.9 168.5H412.0V170.9H404.9zM419.1 170.9H426.3V173.3H419.1zM369.2 175.8H376.3V178.2H369.2zM440.6 175.8H447.7V178.2H440.6zM404.9 178.2H412.0V180.6H404.9zM404.9 180.6H412.0V183.0H404.9zM419.1 180.6H426.3V183.0H419.1zM419.1 183.0H426.3V185.5H419.1zM390.6 185.5H397.7V187.9H390.6zM376.3 190.3H383.4V192.7H376.3zM390.6 190.3H397.7V192.7H390.6zM412.0 190.3H419.1V192.7H412.0zM404.9 195.2H412.0V197.6H404.9zM362.0 200.0H369.2V202.4H362.0zM404.9 200.0H412.0V202.4H404.9zM404.9 202.4H412.0V204.9H404.9zM433.4 202.4H440.6V204.9H433.4zM412.0 207.3H419.1V209.7H412.0zM433.4 207.3H440.6V209.7H433.4zM404.9 212.1H412.0V214.6H404.9zM404.9 217.0H412.0V219.4H404.9zM419.1 217.0H426.3V219.4H419.1zM369.2 219.4H376.3V221.8H369.2zM419.1 219.4H426.3V221.8H419.1zM412.0 224.3H419.1V226.7H412.0zM426.3 224.3H433.4V226.7H426.3zM383.4 231.5H390.6V234.0H383.4zM362.0 234.0H369.2V236.4H362.0zM369.2 241.2H376.3V243.7H369.2zM404.9 241.2H412.0V243.7H404.9zM404.9 246.1H412.0V248.5H404.9zM404.9 248.5H412.0V250.9H404.9zM354.9 250.9H362.0V253.4H354.9zM404.9 253.4H412.0V255.8H404.9zM412.0 255.8H419.1V258.2H412.0zM362.0 260.6H369.2V263.1H362.0zM433.4 263.1H440.6V265.5H433.4z"/>
<path fill="#f8a481" d="M354.9 83.6H362.0V86.0H354.9zM419.1 83.6H426.3V86.0H419.1zM354.9 100.6H362.0V103.0H354.9zM340.6 158.8H347.7V161.2H340.6zM426.3 158.8H433.4V161.2H426.3zM440.6 158.8H447.7V161.2H440.6zM354.9 178.2H362.0V180.6H354.9zM362.0 187.9H369.2V190.3H362.0zM397.7 204.9H404.9V207.3H397.7zM376.3 207.3H383.4V209.7H376.3zM369.2 212.1H376.3V214.6H369.2zM340.6 219.4H362.0V221.8H340.6zM340.6 221.8H354.9V224.3H340.6zM340.6 224.3H354.9V226.7H340.6zM354.9 226.7H362.0V229.1H354.9zM347.7 229.1H354.9V231.5H347.7zM383.4 229.1H390.6V231.5H383.4zM347.7 231.5H354.9V234.0H347.7zM369.2 231.5H376.3V234.0H369.2zM383.4 234.0H397.7V236.4H383.4zM426.3 234.0H440.6V236.4H426.3zM369.2 236.4H376.3V238.8H369.2zM354.9 238.8H362.0V241.2H354.9zM440.6 238.8H447.7V241.2H440.6z"/>
<path fill="#aa1e23" d="M369.2 88.5H376.3V90.9H369.2zM376.3 144.2H383.4V146.7H376.3z"/>
<path fill="#e56046" d="M369.2 98.2H376.3V100.6H369.2zM376.3 100.6H383.4V103.0H376.3zM369.2 161.2H376.3V163.6H369.2zM362.0 166.1H376.3V168.5H362.0zM340.6 168.5H347.7V170.9H340.6zM354.9 168.5H362.0V170.9H354.9zM433.4 168.5H440.6V170.9H433.4zM347.7 170.9H354.9V173.3H347.7zM369.2 170.9H376.3V173.3H369.2zM426.3 170.9H433.4V173.3H426.3zM354.9 173.3H369.2V175.8H354.9zM340.6 180.6H347.7V183.0H340.6zM362.0 180.6H369.2V183.0H362.0zM397.7 180.6H404.9V183.0H397.7zM347.7 183.0H354.9V185.5H347.7zM397.7 183.0H404.9V185.5H397.7zM340.6 187.9H347.7V190.3H340.6zM369.2 187.9H383.4V190.3H369.2zM426.3 187.9H433.4V190.3H426.3zM340.6 192.7H347.7V195.2H340.6zM440.6 192.7H447.7V195.2H440.6zM340.6 195.2H362.0V197.6H340.6zM376.3 197.6H383.4V200.0H376.3zM347.7 200.0H354.9V202.4H347.7zM347.7 202.4H354.9V204.9H347.7zM347.7 204.9H362.0V207.3H347.7zM390.6 204.9H397.7V207.3H390.6zM440.6 204.9H447.7V207.3H440.6zM340.6 209.7H354.9V212.1H340.6zM340.6 212.1H347.7V214.6H340.6zM340.6 214.6H347.7V217.0H340.6zM376.3 219.4H383.4V221.8H376.3zM440.6 224.3H447.7V226.7H440.6zM419.1 226.7H426.3V229.1H419.1zM354.9 241.2H362.0V243.7H354.9zM440.6 241.2H447.7V243.7H440.6zM340.6 243.7H347.7V246.1H340.6zM376.3 243.7H383.4V246.1H376.3zM397.7 243.7H404.9V246.1H397.7zM426.3 243.7H433.4V246.1H426.3zM440.6 243.7H447.7V246.1H440.6zM347.7 246.1H354.9V248.5H347.7zM397.7 246.1H404.9V248.5H397.7zM376.3 248.5H390.6V250.9H376.3zM347.7 250.9H354.9V253.4H347.7zM383.4 250.9H390.6V253.4H383.4zM383.4 253.4H390.6V255.8H383.4zM340.6 255.8H347.7V258.2H340.6zM383.4 255.8H397.7V258.2H383.4zM383.4 258.2H390.6V260.6H383.4zM390.6 260.6H397.7V263.1H390.6zM419.1 260.6H426.3V263.1H419.1zM347.7 263.1H354.9V265.5H347.7zM404.9 263.1H419.1V265.5H404.9z"/>
<path fill="#5e9fd4" d="M340.6 105.4H347.7V107.9H340.6zM404.9 105.4H412.0V107.9H404.9zM412.0 117.6H419.1V120.0H412.0zM404.9 120.0H419.1V122.4H404.9zM440.6 120.0H447.7V122.4H440.6zM397.7 124.8H412.0V127.3H397.7zM433.4 144.2H440.6V146.7H433.4zM440.6 146.7H447.7V149.1H440.6zM433.4 149.1H440.6V151.5H433.4zM426.3 161.2H433.4V163.6H426.3zM390.6 183.0H397.7V185.5H390.6zM369.2 185.5H376.3V187.9H369.2zM383.4 185.5H390.6V187.9H383.4zM412.0 195.2H419.1V197.6H412.0zM383.4 202.4H390.6V204.9H383.4zM433.4 204.9H440.6V207.3H433.4zM362.0 212.1H369.2V214.6H362.0zM376.3 212.1H383.4V214.6H376.3zM397.7 241.2H404.9V243.7H397.7zM369.2 246.1H376.3V248.5H369.2z"/>
<path fill="#91141e" d="M354.9 129.7H362.0V132.1H354.9zM440.6 132.1H447.7V134.5H440.6z"/>
<path fill="#082864" d="M369.2 153.9H376.3V156.4H369.2zM390.6 153.9H397.7V156.4H390.6zM404.9 158.8H412.0V161.2H404.9zM419.1 158.8H426.3V161.2H419.1zM440.6 161.2H447.7V163.6H440.6zM440.6 166.1H447.7V168.5H440.6zM440.6 168.5H447.7V170.9H440.6zM390.6 170.9H397.7V173.3H390.6zM440.6 170.9H447.7V173.3H440.6zM426.3 226.7H433.4V229.1H426.3zM426.3 229.1H440.6V231.5H426.3zM404.9 231.5H412.0V234.0H404.9zM404.9 234.0H412.0V236.4H404.9zM354.9 255.8H362.0V258.2H354.9zM362.0 263.1H369.2V265.5H362.0z"/>
<path fill="#144487" d="M347.7 156.4H354.9V158.8H347.7zM369.2 156.4H376.3V158.8H369.2zM404.9 236.4H412.0V238.8H404.9zM412.0 238.8H419.1V241.2H412.0z"/>
<path fill="#f59470" d="M376.3 158.8H383.4V161.2H376.3zM340.6 175.8H347.7V178.2H340.6zM419.1 178.2H426.3V180.6H419.1zM376.3 180.6H390.6V183.0H376.3zM433.4 180.6H440.6V183.0H433.4zM383.4 183.0H390.6V185.5H383.4zM412.0 187.9H419.1V190.3H412.0zM383.4 190.3H390.6V192.7H383.4zM426.3 190.3H433.4V192.7H426.3zM383.4 192.7H390.6V195.2H383.4zM354.9 214.6H362.0V217.0H354.9zM397.7 214.6H404.9V217.0H397.7zM440.6 214.6H447.7V217.0H440.6zM354.9 217.0H369.2V219.4H354.9zM362.0 219.4H369.2V221.8H362.0zM383.4 219.4H390.6V221.8H383.4zM362.0 221.8H369.2V224.3H362.0zM362.0 224.3H369.2V226.7H362.0zM376.3 224.3H383.4V226.7H376.3zM390.6 224.3H404.9V226.7H390.6zM362.0 226.7H369.2V229.1H362.0zM362.0 229.1H369.2V231.5H362.0zM376.3 229.1H383.4V231.5H376.3zM440.6 231.5H447.7V234.0H440.6zM340.6 234.0H347.7V236.4H340.6zM354.9 234.0H362.0V236.4H354.9zM369.2 234.0H376.3V236.4H369.2zM383.4 236.4H390.6V238.8H383.4zM433.4 236.4H440.6V238.8H433.4zM376.3 238.8H383.4V241.2H376.3zM433.4 238.8H440.6V241.2H433.4zM397.7 250.9H404.9V253.4H397.7zM390.6 253.4H397.7V255.8H390.6zM426.3 253.4H433.4V255.8H426.3zM362.0 255.8H369.2V258.2H362.0zM426.3 255.8H433.4V258.2H426.3zM426.3 258.2H433.4V260.6H426.3zM376.3 260.6H383.4V263.1H376.3z"/>
<path fill="#0e3676" d="M412.0 158.8H419.1V161.2H412.0zM440.6 163.6H447.7V166.1H440.6zM433.4 226.7H440.6V229.1H433.4zM412.0 234.0H419.1V236.4H412.0zM404.9 238.8H412.0V241.2H404.9z"/>
<path fill="#2c6cb3" d="M440.6 183.0H447.7V185.5H440.6zM419.1 185.5H426.3V187.9H419.1zM440.6 185.5H447.7V187.9H440.6zM412.0 200.0H419.1V202.4H412.0zM433.4 200.0H440.6V202.4H433.4zM412.0 204.9H419.1V207.3H412.0zM433.4 209.7H440.6V212.1H433.4zM412.0 217.0H419.1V219.4H412.0zM412.0 219.4H419.1V221.8H412.0zM433.4 219.4H440.6V221.8H433.4zM412.0 221.8H419.1V224.3H412.0zM404.9 224.3H412.0V226.7H404.9zM390.6 236.4H397.7V238.8H390.6zM383.4 238.8H390.6V241.2H383.4zM404.9 243.7H412.0V246.1H404.9zM440.6 246.1H447.7V248.5H440.6zM390.6 248.5H397.7V250.9H390.6zM369.2 253.4H376.3V255.8H369.2zM354.9 258.2H362.0V260.6H354.9zM404.9 258.2H412.0V260.6H404.9z"/>
<path fill="#215faa" d="M412.0 236.4H419.1V238.8H412.0z"/>
<path fill="#1b5198" d="M419.1 236.4H426.3V238.8H419.1zM419.1 238.8H426.3V241.2H419.1zM404.9 260.6H412.0V263.1H404.9z"/>
<rect x="331.30" y="54.50" width="6.20" height="2.70" fill="#ff6fd2"/>
<rect x="331.30" y="57.20" width="6.20" height="1.80" fill="#ffd2f5"/>
<rect x="331.30" y="59.00" width="6.20" height="1.80" fill="#1fd0b2"/>
<rect x="331.30" y="60.80" width="6.20" height="2.20" fill="#ff6fd2"/>
<rect x="331.30" y="63.00" width="6.20" height="8.00" fill="#1fd0b2"/>
<rect x="331.30" y="71.00" width="6.20" height="7.20" fill="#ff6fd2"/>
<rect x="331.30" y="78.20" width="6.20" height="8.90" fill="#1fd0b2"/>
<rect x="331.30" y="87.10" width="6.20" height="1.80" fill="#ffd2f5"/>
<rect x="331.30" y="88.90" width="6.20" height="1.80" fill="#b0f6e6"/>
<rect x="331.30" y="90.70" width="6.20" height="3.60" fill="#1fd0b2"/>
<rect x="331.30" y="94.30" width="6.20" height="2.70" fill="#ff6fd2"/>
<rect x="331.30" y="97.00" width="6.20" height="4.80" fill="#1fd0b2"/>
<rect x="331.30" y="101.80" width="6.20" height="1.80" fill="#b0f6e6"/>
<rect x="331.30" y="103.60" width="6.20" height="3.60" fill="#ffd2f5"/>
<rect x="331.30" y="107.20" width="6.20" height="6.20" fill="#1fd0b2"/>
<rect x="331.30" y="113.40" width="6.20" height="8.10" fill="#ffd2f5"/>
<rect x="331.30" y="121.50" width="6.20" height="5.40" fill="#1fd0b2"/>
<rect x="331.30" y="126.90" width="6.20" height="2.70" fill="#ffd2f5"/>
<rect x="331.30" y="129.60" width="6.20" height="3.50" fill="#1fd0b2"/>
<rect x="331.30" y="133.10" width="6.20" height="1.80" fill="#ffd2f5"/>
<rect x="331.30" y="134.90" width="6.20" height="2.70" fill="#b0f6e6"/>
<rect x="331.30" y="137.60" width="6.20" height="2.70" fill="#1fd0b2"/>
<rect x="331.30" y="140.30" width="6.20" height="4.50" fill="#ff6fd2"/>
<rect x="331.30" y="144.80" width="6.20" height="6.60" fill="#1fd0b2"/>
<rect x="331.30" y="151.40" width="6.20" height="3.60" fill="#ff6fd2"/>
<rect x="331.30" y="155.00" width="6.20" height="1.70" fill="#ffd2f5"/>
<rect x="331.30" y="156.70" width="6.20" height="3.60" fill="#b0f6e6"/>
<rect x="331.30" y="160.30" width="6.20" height="1.80" fill="#b0f6e6"/>
<rect x="331.30" y="162.10" width="6.20" height="18.90" fill="#1fd0b2"/>
<rect x="331.30" y="181.00" width="6.20" height="1.70" fill="#ffd2f5"/>
<rect x="331.30" y="182.70" width="6.20" height="2.70" fill="#1fd0b2"/>
<rect x="331.30" y="185.40" width="6.20" height="2.70" fill="#ffd2f5"/>
<rect x="331.30" y="188.10" width="6.20" height="5.70" fill="#1fd0b2"/>
<rect x="331.30" y="193.80" width="6.20" height="2.70" fill="#ff6fd2"/>
<rect x="331.30" y="196.50" width="6.20" height="3.50" fill="#ffd2f5"/>
<rect x="331.30" y="200.00" width="6.20" height="8.10" fill="#1fd0b2"/>
<rect x="331.30" y="208.10" width="6.20" height="3.60" fill="#ff6fd2"/>
<rect x="331.30" y="211.70" width="6.20" height="12.50" fill="#1fd0b2"/>
<rect x="331.30" y="224.20" width="6.20" height="1.80" fill="#b0f6e6"/>
<rect x="331.30" y="226.00" width="6.20" height="21.20" fill="#1fd0b2"/>
<rect x="331.30" y="247.20" width="6.20" height="2.30" fill="#ffd2f5"/>
<rect x="331.30" y="249.50" width="6.20" height="16.00" fill="#1fd0b2"/>
<rect x="323.60" y="60.30" width="6.20" height="2.30" fill="#f5284b"/>
<rect x="323.60" y="68.30" width="6.20" height="7.20" fill="#f5284b"/>
<rect x="323.60" y="79.00" width="6.20" height="4.60" fill="#f5284b"/>
<rect x="323.60" y="91.60" width="6.20" height="7.20" fill="#f5284b"/>
<rect x="323.60" y="118.80" width="6.20" height="2.70" fill="#f5284b"/>
<rect x="323.60" y="123.30" width="6.20" height="3.60" fill="#f5284b"/>
<rect x="323.60" y="140.30" width="6.20" height="2.70" fill="#f5284b"/>
<rect x="323.60" y="144.80" width="6.20" height="5.70" fill="#f5284b"/>
<rect x="323.60" y="163.90" width="6.20" height="2.70" fill="#f5284b"/>
<rect x="323.60" y="203.60" width="6.20" height="3.10" fill="#f5284b"/>
<rect x="323.60" y="214.90" width="6.20" height="2.10" fill="#f5284b"/>
<rect x="323.60" y="225.70" width="6.20" height="2.10" fill="#f5284b"/>
<rect x="323.60" y="233.60" width="6.20" height="2.30" fill="#f5284b"/>
<rect x="323.60" y="239.30" width="6.20" height="4.30" fill="#f5284b"/>
<rect x="323.60" y="259.70" width="6.20" height="3.20" fill="#f5284b"/>
<path fill="none" stroke="#333" stroke-width="1.00" shape-rendering="crispEdges" d="M317.4 60.6L317.4 63.0M323.4 60.6L317.4 60.6M323.4 63.0L317.4 63.0M316.4 58.1L316.4 61.8M323.4 58.1L316.4 58.1M317.4 61.8L316.4 61.8M316.2 55.7L316.2 60.0M323.4 55.7L316.2 55.7M316.4 60.0L316.2 60.0M318.3 65.4L318.3 67.8M323.4 65.4L318.3 65.4M323.4 67.8L318.3 67.8M317.5 70.3L317.5 72.7M323.4 70.3L317.5 70.3M323.4 72.7L317.5 72.7M316.6 71.5L316.6 75.1M317.5 71.5L316.6 71.5M323.4 75.1L316.6 75.1M316.4 73.3L316.4 77.5M316.6 73.3L316.4 73.3M323.4 77.5L316.4 77.5M316.0 66.6L316.0 75.4M318.3 66.6L316.0 66.6M316.4 75.4L316.0 75.4M314.7 57.8L314.7 71.0M316.2 57.8L314.7 57.8M316.0 71.0L314.7 71.0M316.9 80.0L316.9 82.4M323.4 80.0L316.9 80.0M323.4 82.4L316.9 82.4M317.7 84.8L317.7 87.2M323.4 84.8L317.7 84.8M323.4 87.2L317.7 87.2M316.7 81.2L316.7 86.0M316.9 81.2L316.7 81.2M317.7 86.0L316.7 86.0M317.8 89.7L317.8 92.1M323.4 89.7L317.8 89.7M323.4 92.1L317.8 92.1M318.0 94.5L318.0 96.9M323.4 94.5L318.0 94.5M323.4 96.9L318.0 96.9M316.5 95.7L316.5 99.4M318.0 95.7L316.5 95.7M323.4 99.4L316.5 99.4M315.3 90.9L315.3 97.5M317.8 90.9L315.3 90.9M316.5 97.5L315.3 97.5M314.1 83.6L314.1 94.2M316.7 83.6L314.1 83.6M315.3 94.2L314.1 94.2M312.4 64.4L312.4 88.9M314.7 64.4L312.4 64.4M314.1 88.9L312.4 88.9M318.4 104.2L318.4 106.6M323.4 104.2L318.4 104.2M323.4 106.6L318.4 106.6M317.2 101.8L317.2 105.4M323.4 101.8L317.2 101.8M318.4 105.4L317.2 105.4M317.4 111.5L317.4 113.9M323.4 111.5L317.4 111.5M323.4 113.9L317.4 113.9M316.7 109.1L316.7 112.7M323.4 109.1L316.7 109.1M317.4 112.7L316.7 112.7M314.7 103.6L314.7 110.9M317.2 103.6L314.7 103.6M316.7 110.9L314.7 110.9M317.8 116.3L317.8 118.8M323.4 116.3L317.8 116.3M323.4 118.8L317.8 118.8M318.4 121.2L318.4 123.6M323.4 121.2L318.4 121.2M323.4 123.6L318.4 123.6M317.3 122.4L317.3 126.0M318.4 122.4L317.3 122.4M323.4 126.0L317.3 126.0M316.6 117.6L316.6 124.2M317.8 117.6L316.6 117.6M317.3 124.2L316.6 124.2M314.2 107.2L314.2 120.9M314.7 107.2L314.2 107.2M316.6 120.9L314.2 120.9M317.4 130.9L317.4 133.3M323.4 130.9L317.4 130.9M323.4 133.3L317.4 133.3M316.2 128.5L316.2 132.1M323.4 128.5L316.2 128.5M317.4 132.1L316.2 132.1M318.0 135.7L318.0 138.2M323.4 135.7L318.0 135.7M323.4 138.2L318.0 138.2M317.7 140.6L317.7 143.0M323.4 140.6L317.7 140.6M323.4 143.0L317.7 143.0M315.6 137.0L315.6 141.8M318.0 137.0L315.6 137.0M317.7 141.8L315.6 141.8M317.4 145.4L317.4 147.9M323.4 145.4L317.4 145.4M323.4 147.9L317.4 147.9M317.2 146.7L317.2 150.3M317.4 146.7L317.2 146.7M323.4 150.3L317.2 150.3M317.6 152.7L317.6 155.1M323.4 152.7L317.6 152.7M323.4 155.1L317.6 155.1M316.7 148.5L316.7 153.9M317.2 148.5L316.7 148.5M317.6 153.9L316.7 153.9M314.7 139.4L314.7 151.2M315.6 139.4L314.7 139.4M316.7 151.2L314.7 151.2M313.7 130.3L313.7 145.3M316.2 130.3L313.7 130.3M314.7 145.3L313.7 145.3M312.7 114.1L312.7 137.8M314.2 114.1L312.7 114.1M313.7 137.8L312.7 137.8M318.0 162.4L318.0 164.9M323.4 162.4L318.0 162.4M323.4 164.9L318.0 164.9M316.2 163.6L316.2 167.3M318.0 163.6L316.2 163.6M323.4 167.3L316.2 167.3M315.9 160.0L315.9 165.5M323.4 160.0L315.9 160.0M316.2 165.5L315.9 165.5M315.4 157.6L315.4 162.7M323.4 157.6L315.4 157.6M315.9 162.7L315.4 162.7M317.2 169.7L317.2 172.1M323.4 169.7L317.2 169.7M323.4 172.1L317.2 172.1M316.0 170.9L316.0 174.6M317.2 170.9L316.0 170.9M323.4 174.6L316.0 174.6M315.8 172.7L315.8 177.0M316.0 172.7L315.8 172.7M323.4 177.0L315.8 177.0M313.7 160.2L313.7 174.9M315.4 160.2L313.7 160.2M315.8 174.9L313.7 174.9M317.6 179.4L317.6 181.8M323.4 179.4L317.6 179.4M323.4 181.8L317.6 181.8M317.1 184.3L317.1 186.7M323.4 184.3L317.1 184.3M323.4 186.7L317.1 186.7M316.9 185.5L316.9 189.1M317.1 185.5L316.9 185.5M323.4 189.1L316.9 189.1M315.9 180.6L315.9 187.3M317.6 180.6L315.9 180.6M316.9 187.3L315.9 187.3M318.1 191.5L318.1 194.0M323.4 191.5L318.1 191.5M323.4 194.0L318.1 194.0M316.4 192.7L316.4 196.4M318.1 192.7L316.4 192.7M323.4 196.4L316.4 196.4M314.4 183.9L314.4 194.6M315.9 183.9L314.4 183.9M316.4 194.6L314.4 194.6M313.4 167.5L313.4 189.3M313.7 167.5L313.4 167.5M314.4 189.3L313.4 189.3M308.5 125.9L308.5 178.4M312.7 125.9L308.5 125.9M313.4 178.4L308.5 178.4M306.9 76.7L306.9 152.2M312.4 76.7L306.9 76.7M308.5 152.2L306.9 152.2M317.8 198.8L317.8 201.2M323.4 198.8L317.8 198.8M323.4 201.2L317.8 201.2M317.2 203.7L317.2 206.1M323.4 203.7L317.2 203.7M323.4 206.1L317.2 206.1M317.0 204.9L317.0 208.5M317.2 204.9L317.0 204.9M323.4 208.5L317.0 208.5M316.4 200.0L316.4 206.7M317.8 200.0L316.4 200.0M317.0 206.7L316.4 206.7M317.6 210.9L317.6 213.4M323.4 210.9L317.6 210.9M323.4 213.4L317.6 213.4M317.0 218.2L317.0 220.6M323.4 218.2L317.0 218.2M323.4 220.6L317.0 220.6M316.8 215.8L316.8 219.4M323.4 215.8L316.8 215.8M317.0 219.4L316.8 219.4M317.5 223.1L317.5 225.5M323.4 223.1L317.5 223.1M323.4 225.5L317.5 225.5M316.1 224.3L316.1 227.9M317.5 224.3L316.1 224.3M323.4 227.9L316.1 227.9M314.2 217.6L314.2 226.1M316.8 217.6L314.2 217.6M316.1 226.1L314.2 226.1M314.0 212.1L314.0 221.8M317.6 212.1L314.0 212.1M314.2 221.8L314.0 221.8M313.8 203.4L313.8 217.0M316.4 203.4L313.8 203.4M314.0 217.0L313.8 217.0M317.8 232.8L317.8 235.2M323.4 232.8L317.8 232.8M323.4 235.2L317.8 235.2M316.7 230.3L316.7 234.0M323.4 230.3L316.7 230.3M317.8 234.0L316.7 234.0M316.3 232.2L316.3 237.6M316.7 232.2L316.3 232.2M323.4 237.6L316.3 237.6M318.3 240.0L318.3 242.5M323.4 240.0L318.3 240.0M323.4 242.5L318.3 242.5M317.4 244.9L317.4 247.3M323.4 244.9L317.4 244.9M323.4 247.3L317.4 247.3M317.2 246.1L317.2 249.7M317.4 246.1L317.2 246.1M323.4 249.7L317.2 249.7M315.6 241.2L315.6 247.9M318.3 241.2L315.6 241.2M317.2 247.9L315.6 247.9M314.7 234.9L314.7 244.6M316.3 234.9L314.7 234.9M315.6 244.6L314.7 244.6M317.6 254.6L317.6 257.0M323.4 254.6L317.6 254.6M323.4 257.0L317.6 257.0M316.7 252.2L316.7 255.8M323.4 252.2L316.7 252.2M317.6 255.8L316.7 255.8M317.0 261.9L317.0 264.3M323.4 261.9L317.0 261.9M323.4 264.3L317.0 264.3M316.2 259.4L316.2 263.1M323.4 259.4L316.2 259.4M317.0 263.1L316.2 263.1M314.8 254.0L314.8 261.3M316.7 254.0L314.8 254.0M316.2 261.3L314.8 261.3M311.9 239.7L311.9 257.6M314.7 239.7L311.9 239.7M314.8 257.6L311.9 257.6M308.6 210.2L308.6 248.7M313.8 210.2L308.6 210.2M311.9 248.7L308.6 248.7M303.5 114.4L303.5 229.4M306.9 114.4L303.5 114.4M308.6 229.4L303.5 229.4"/>
<rect x="491.00" y="1.10" width="42.90" height="18.80" fill="#aef6fa"/>
<rect x="533.90" y="1.10" width="64.50" height="18.80" fill="#ffb4b4"/>
<line x1="494.58" y1="19.90" x2="494.58" y2="10.00" stroke="#2a5866" stroke-width="1.00"/>
<line x1="501.74" y1="19.90" x2="501.74" y2="10.00" stroke="#2a5866" stroke-width="1.00"/>
<line x1="494.58" y1="10.00" x2="501.74" y2="10.00" stroke="#2a5866" stroke-width="1.00"/>
<line x1="498.16" y1="10.00" x2="498.16" y2="6.20" stroke="#2a5866" stroke-width="1.00"/>
<line x1="508.90" y1="19.90" x2="508.90" y2="6.20" stroke="#2a5866" stroke-width="1.00"/>
<line x1="498.16" y1="6.20" x2="508.90" y2="6.20" stroke="#2a5866" stroke-width="1.00"/>
<line x1="503.53" y1="6.20" x2="503.53" y2="5.40" stroke="#2a5866" stroke-width="1.00"/>
<line x1="516.06" y1="19.90" x2="516.06" y2="5.40" stroke="#2a5866" stroke-width="1.00"/>
<line x1="503.53" y1="5.40" x2="516.06" y2="5.40" stroke="#2a5866" stroke-width="1.00"/>
<line x1="523.22" y1="19.90" x2="523.22" y2="5.40" stroke="#2a5866" stroke-width="1.00"/>
<line x1="530.38" y1="19.90" x2="530.38" y2="5.40" stroke="#2a5866" stroke-width="1.00"/>
<line x1="523.22" y1="5.40" x2="530.38" y2="5.40" stroke="#2a5866" stroke-width="1.00"/>
<line x1="509.79" y1="5.40" x2="509.79" y2="2.40" stroke="#2a5866" stroke-width="1.00"/>
<line x1="526.80" y1="5.40" x2="526.80" y2="2.40" stroke="#2a5866" stroke-width="1.00"/>
<line x1="509.79" y1="2.40" x2="526.80" y2="2.40" stroke="#2a5866" stroke-width="1.00"/>
<line x1="537.54" y1="19.90" x2="537.54" y2="8.40" stroke="#5a2828" stroke-width="1.00"/>
<line x1="544.70" y1="19.90" x2="544.70" y2="8.40" stroke="#5a2828" stroke-width="1.00"/>
<line x1="537.54" y1="8.40" x2="544.70" y2="8.40" stroke="#5a2828" stroke-width="1.00"/>
<line x1="541.12" y1="8.40" x2="541.12" y2="5.40" stroke="#5a2828" stroke-width="1.00"/>
<line x1="551.86" y1="19.90" x2="551.86" y2="5.40" stroke="#5a2828" stroke-width="1.00"/>
<line x1="541.12" y1="5.40" x2="551.86" y2="5.40" stroke="#5a2828" stroke-width="1.00"/>
<line x1="559.02" y1="19.90" x2="559.02" y2="8.40" stroke="#5a2828" stroke-width="1.00"/>
<line x1="566.18" y1="19.90" x2="566.18" y2="8.40" stroke="#5a2828" stroke-width="1.00"/>
<line x1="559.02" y1="8.40" x2="566.18" y2="8.40" stroke="#5a2828" stroke-width="1.00"/>
<line x1="562.60" y1="8.40" x2="562.60" y2="6.50" stroke="#5a2828" stroke-width="1.00"/>
<line x1="573.34" y1="19.90" x2="573.34" y2="6.50" stroke="#5a2828" stroke-width="1.00"/>
<line x1="562.60" y1="6.50" x2="573.34" y2="6.50" stroke="#5a2828" stroke-width="1.00"/>
<line x1="580.50" y1="19.90" x2="580.50" y2="5.40" stroke="#5a2828" stroke-width="1.00"/>
<line x1="587.66" y1="19.90" x2="587.66" y2="5.40" stroke="#5a2828" stroke-width="1.00"/>
<line x1="580.50" y1="5.40" x2="587.66" y2="5.40" stroke="#5a2828" stroke-width="1.00"/>
<line x1="584.08" y1="5.40" x2="584.08" y2="3.60" stroke="#5a2828" stroke-width="1.00"/>
<line x1="594.82" y1="19.90" x2="594.82" y2="3.60" stroke="#5a2828" stroke-width="1.00"/>
<line x1="584.08" y1="3.60" x2="594.82" y2="3.60" stroke="#5a2828" stroke-width="1.00"/>
<line x1="546.49" y1="5.40" x2="546.49" y2="2.50" stroke="#5a2828" stroke-width="1.00"/>
<line x1="567.97" y1="6.50" x2="567.97" y2="2.50" stroke="#5a2828" stroke-width="1.00"/>
<line x1="546.49" y1="2.50" x2="567.97" y2="2.50" stroke="#5a2828" stroke-width="1.00"/>
<line x1="557.23" y1="2.50" x2="557.23" y2="1.30" stroke="#5a2828" stroke-width="1.00"/>
<line x1="589.45" y1="3.60" x2="589.45" y2="1.30" stroke="#5a2828" stroke-width="1.00"/>
<line x1="557.23" y1="1.30" x2="589.45" y2="1.30" stroke="#5a2828" stroke-width="1.00"/>
<line x1="518.30" y1="2.40" x2="518.30" y2="0.50" stroke="#333" stroke-width="1.00"/>
<line x1="573.34" y1="1.30" x2="573.34" y2="0.50" stroke="#333" stroke-width="1.00"/>
<line x1="518.30" y1="0.50" x2="573.34" y2="0.50" stroke="#333" stroke-width="1.00"/>
<rect x="526.80" y="20.60" width="7.16" height="6.70" fill="#ff00ff"/>
<rect x="541.12" y="20.60" width="7.16" height="6.70" fill="#ff00ff"/>
<rect x="562.60" y="20.60" width="7.16" height="6.70" fill="#ff00ff"/>
<rect x="569.76" y="20.60" width="7.16" height="6.70" fill="#ff00ff"/>
<rect x="584.08" y="20.60" width="7.16" height="6.70" fill="#ff00ff"/>
<rect x="491.00" y="29.10" width="107.40" height="6.70" fill="#ff5675"/>
<rect x="512.48" y="29.10" width="7.16" height="6.70" fill="#ffb83f"/>
<rect x="533.96" y="29.10" width="7.16" height="6.70" fill="#ffb83f"/>
<rect x="541.12" y="29.10" width="7.16" height="6.70" fill="#ffb83f"/>
<rect x="562.60" y="29.10" width="7.16" height="6.70" fill="#ffb83f"/>
<rect x="576.92" y="29.10" width="7.16" height="6.70" fill="#ffb83f"/>
<rect x="491.00" y="37.60" width="7.16" height="6.50" fill="#00641a"/>
<rect x="533.96" y="37.60" width="7.16" height="6.50" fill="#00641a"/>
<rect x="541.12" y="37.60" width="7.16" height="6.50" fill="#00641a"/>
<rect x="548.28" y="37.60" width="7.16" height="6.50" fill="#00641a"/>
<rect x="555.44" y="37.60" width="7.16" height="6.50" fill="#00641a"/>
<rect x="562.60" y="37.60" width="7.16" height="6.50" fill="#00641a"/>
<rect x="569.76" y="37.60" width="7.16" height="6.50" fill="#00641a"/>
<rect x="576.92" y="37.60" width="7.16" height="6.50" fill="#00641a"/>
<rect x="584.08" y="37.60" width="7.16" height="6.50" fill="#00641a"/>
<rect x="591.24" y="37.60" width="7.16" height="6.50" fill="#00641a"/>
<rect x="491.00" y="45.90" width="7.16" height="6.30" fill="#1c1cff"/>
<rect x="541.12" y="45.90" width="7.16" height="6.30" fill="#1c1cff"/>
<rect x="555.44" y="45.90" width="7.16" height="6.30" fill="#1c1cff"/>
<rect x="562.60" y="45.90" width="7.16" height="6.30" fill="#1c1cff"/>
<rect x="569.76" y="45.90" width="7.16" height="6.30" fill="#1c1cff"/>
<rect x="584.08" y="45.90" width="7.16" height="6.30" fill="#1c1cff"/>
<text transform="translate(480.50,53.30) rotate(-90)" font-size="8" font-weight="bold">Enhancer</text>
<text transform="translate(487.60,53.30) rotate(-90)" font-size="8" font-weight="bold">Region</text>
<path fill="#faf8f5" d="M491.0 54.8H498.2V59.7H491.0zM505.3 54.8H512.5V59.7H505.3zM548.3 54.8H555.4V59.7H548.3zM548.3 59.7H555.4V64.6H548.3zM498.2 64.6H505.3V69.5H498.2zM534.0 79.3H541.1V84.1H534.0zM555.4 79.3H562.6V84.1H555.4zM491.0 84.1H498.2V89.0H491.0zM505.3 93.9H512.5V98.8H505.3zM541.1 93.9H548.3V98.8H541.1zM562.6 93.9H569.8V98.8H562.6zM505.3 108.6H512.5V113.5H505.3zM498.2 123.3H505.3V128.2H498.2zM534.0 123.3H541.1V128.2H534.0zM498.2 128.2H505.3V133.1H498.2zM512.5 128.2H519.6V133.1H512.5zM576.9 128.2H584.1V133.1H576.9zM541.1 133.1H548.3V137.9H541.1zM505.3 157.5H512.5V162.4H505.3zM541.1 157.5H548.3V162.4H541.1zM541.1 162.4H555.4V167.3H541.1zM576.9 162.4H584.1V167.3H576.9zM591.2 162.4H598.4V167.3H591.2zM505.3 167.3H512.5V172.2H505.3zM541.1 167.3H548.3V172.2H541.1zM591.2 167.3H598.4V172.2H591.2zM519.6 172.2H526.8V177.1H519.6zM541.1 172.2H548.3V177.1H541.1zM576.9 172.2H584.1V177.1H576.9zM491.0 177.1H498.2V182.0H491.0zM534.0 177.1H541.1V182.0H534.0zM569.8 177.1H576.9V182.0H569.8zM491.0 182.0H498.2V186.8H491.0zM519.6 182.0H526.8V186.8H519.6zM534.0 182.0H548.3V186.8H534.0zM512.5 186.8H519.6V191.7H512.5zM541.1 186.8H548.3V191.7H541.1zM498.2 191.7H505.3V196.6H498.2zM555.4 201.5H562.6V206.4H555.4zM498.2 206.4H505.3V211.3H498.2zM534.0 206.4H541.1V211.3H534.0zM548.3 206.4H562.6V211.3H548.3zM576.9 206.4H584.1V211.3H576.9zM498.2 211.3H505.3V216.2H498.2zM562.6 211.3H584.1V216.2H562.6zM491.0 216.2H498.2V221.1H491.0zM512.5 216.2H519.6V221.1H512.5zM555.4 216.2H562.6V221.1H555.4zM584.1 216.2H591.2V221.1H584.1zM498.2 221.1H505.3V226.0H498.2zM562.6 221.1H569.8V226.0H562.6zM491.0 226.0H498.2V230.9H491.0zM534.0 226.0H541.1V230.9H534.0zM562.6 226.0H569.8V230.9H562.6zM576.9 226.0H584.1V230.9H576.9zM591.2 226.0H598.4V230.9H591.2zM519.6 230.9H526.8V235.8H519.6zM562.6 230.9H576.9V235.8H562.6zM512.5 235.8H519.6V240.6H512.5zM498.2 240.6H505.3V245.5H498.2zM534.0 240.6H541.1V245.5H534.0zM569.8 240.6H576.9V245.5H569.8zM584.1 245.5H591.2V250.4H584.1zM505.3 250.4H512.5V255.3H505.3zM526.8 250.4H541.1V255.3H526.8zM562.6 250.4H569.8V255.3H562.6zM534.0 255.3H541.1V260.2H534.0zM562.6 255.3H569.8V260.2H562.6zM591.2 255.3H598.4V260.2H591.2zM491.0 260.2H498.2V265.1H491.0zM534.0 260.2H541.1V265.1H534.0zM548.3 260.2H555.4V265.1H548.3zM562.6 260.2H576.9V265.1H562.6z"/>
<path fill="#d2e8f5" d="M498.2 54.8H505.3V59.7H498.2zM505.3 64.6H512.5V69.5H505.3zM512.5 69.5H519.6V74.4H512.5zM526.8 84.1H534.0V89.0H526.8zM519.6 89.0H526.8V93.9H519.6zM512.5 93.9H519.6V98.8H512.5zM505.3 98.8H512.5V103.7H505.3zM491.0 108.6H498.2V113.5H491.0zM512.5 113.5H519.6V118.4H512.5zM512.5 118.4H519.6V123.3H512.5zM491.0 137.9H498.2V142.8H491.0zM555.4 137.9H562.6V142.8H555.4zM569.8 137.9H576.9V142.8H569.8zM512.5 142.8H519.6V147.7H512.5zM534.0 147.7H541.1V152.6H534.0zM491.0 152.6H498.2V157.5H491.0zM534.0 152.6H541.1V157.5H534.0zM512.5 157.5H519.6V162.4H512.5zM584.1 162.4H591.2V167.3H584.1zM491.0 167.3H498.2V172.2H491.0zM555.4 167.3H569.8V172.2H555.4zM584.1 172.2H591.2V177.1H584.1zM498.2 177.1H505.3V182.0H498.2zM541.1 177.1H548.3V182.0H541.1zM584.1 177.1H591.2V182.0H584.1zM555.4 182.0H562.6V186.8H555.4zM591.2 186.8H598.4V191.7H591.2zM505.3 206.4H526.8V211.3H505.3zM541.1 206.4H548.3V211.3H541.1zM562.6 206.4H576.9V211.3H562.6zM541.1 211.3H548.3V216.2H541.1zM541.1 216.2H548.3V221.1H541.1zM534.0 221.1H541.1V226.0H534.0zM519.6 226.0H526.8V230.9H519.6zM541.1 226.0H548.3V230.9H541.1zM491.0 230.9H505.3V235.8H491.0zM541.1 230.9H562.6V235.8H541.1zM584.1 230.9H591.2V235.8H584.1zM491.0 240.6H498.2V245.5H491.0zM555.4 240.6H562.6V245.5H555.4zM591.2 245.5H598.4V250.4H591.2zM498.2 255.3H505.3V260.2H498.2z"/>
<path fill="#1e5aa3" d="M512.5 54.8H519.6V59.7H512.5zM541.1 54.8H548.3V59.7H541.1zM512.5 59.7H519.6V64.6H512.5zM526.8 59.7H534.0V64.6H526.8zM541.1 59.7H548.3V64.6H541.1zM512.5 64.6H519.6V69.5H512.5zM576.9 64.6H584.1V69.5H576.9zM541.1 69.5H548.3V74.4H541.1zM576.9 69.5H584.1V74.4H576.9zM512.5 84.1H519.6V89.0H512.5zM584.1 84.1H591.2V89.0H584.1zM512.5 89.0H519.6V93.9H512.5zM576.9 98.8H584.1V103.7H576.9zM569.8 113.5H576.9V118.4H569.8zM555.4 118.4H562.6V123.3H555.4zM569.8 118.4H576.9V123.3H569.8zM569.8 128.2H576.9V133.1H569.8zM576.9 137.9H591.2V142.8H576.9zM505.3 142.8H512.5V147.7H505.3zM591.2 142.8H598.4V147.7H591.2zM505.3 147.7H512.5V152.6H505.3zM584.1 147.7H591.2V152.6H584.1zM505.3 152.6H512.5V157.5H505.3zM548.3 182.0H555.4V186.8H548.3zM548.3 191.7H555.4V196.6H548.3zM569.8 191.7H576.9V196.6H569.8zM526.8 196.6H534.0V201.5H526.8zM541.1 196.6H548.3V201.5H541.1zM491.0 201.5H498.2V206.4H491.0zM562.6 201.5H569.8V206.4H562.6zM519.6 216.2H534.0V221.1H519.6z"/>
<path fill="#478cca" d="M519.6 54.8H526.8V59.7H519.6zM491.0 59.7H505.3V64.6H491.0zM498.2 69.5H505.3V74.4H498.2zM519.6 84.1H526.8V89.0H519.6zM498.2 89.0H505.3V93.9H498.2zM526.8 89.0H534.0V93.9H526.8zM491.0 93.9H505.3V98.8H491.0zM519.6 93.9H526.8V98.8H519.6zM584.1 93.9H591.2V98.8H584.1zM491.0 98.8H505.3V103.7H491.0zM526.8 98.8H534.0V103.7H526.8zM569.8 98.8H576.9V103.7H569.8zM584.1 98.8H591.2V103.7H584.1zM505.3 103.7H512.5V108.6H505.3zM526.8 108.6H534.0V113.5H526.8zM576.9 108.6H584.1V113.5H576.9zM519.6 113.5H526.8V118.4H519.6zM555.4 113.5H562.6V118.4H555.4zM519.6 118.4H526.8V123.3H519.6zM512.5 123.3H526.8V128.2H512.5zM555.4 123.3H562.6V128.2H555.4zM491.0 128.2H498.2V133.1H491.0zM519.6 128.2H526.8V133.1H519.6zM505.3 133.1H519.6V137.9H505.3zM576.9 133.1H598.4V137.9H576.9zM505.3 137.9H519.6V142.8H505.3zM591.2 137.9H598.4V142.8H591.2zM498.2 157.5H505.3V162.4H498.2zM498.2 162.4H505.3V167.3H498.2zM519.6 162.4H526.8V167.3H519.6zM534.0 162.4H541.1V167.3H534.0zM519.6 167.3H526.8V172.2H519.6zM534.0 167.3H541.1V172.2H534.0zM548.3 167.3H555.4V172.2H548.3zM512.5 172.2H519.6V177.1H512.5zM526.8 172.2H534.0V177.1H526.8zM548.3 177.1H555.4V182.0H548.3zM591.2 182.0H598.4V186.8H591.2zM498.2 186.8H505.3V191.7H498.2zM526.8 186.8H534.0V191.7H526.8zM512.5 191.7H534.0V196.6H512.5zM584.1 191.7H591.2V196.6H584.1zM519.6 196.6H526.8V201.5H519.6zM534.0 196.6H541.1V201.5H534.0zM562.6 196.6H569.8V201.5H562.6zM526.8 201.5H534.0V206.4H526.8zM569.8 201.5H576.9V206.4H569.8zM591.2 201.5H598.4V206.4H591.2zM526.8 211.3H534.0V216.2H526.8zM548.3 216.2H555.4V221.1H548.3zM569.8 216.2H576.9V221.1H569.8zM541.1 221.1H548.3V226.0H541.1zM584.1 221.1H591.2V226.0H584.1zM562.6 240.6H569.8V245.5H562.6z"/>
<path fill="#082864" d="M526.8 54.8H534.0V59.7H526.8zM519.6 64.6H526.8V69.5H519.6zM519.6 69.5H526.8V74.4H519.6zM519.6 74.4H534.0V79.3H519.6zM576.9 74.4H584.1V79.3H576.9zM541.1 79.3H548.3V84.1H541.1zM584.1 79.3H591.2V84.1H584.1zM526.8 103.7H534.0V108.6H526.8zM584.1 103.7H591.2V108.6H584.1zM526.8 113.5H534.0V118.4H526.8zM526.8 118.4H534.0V123.3H526.8zM526.8 123.3H534.0V128.2H526.8zM519.6 142.8H526.8V147.7H519.6zM591.2 147.7H598.4V152.6H591.2zM498.2 152.6H505.3V157.5H498.2zM512.5 152.6H519.6V157.5H512.5z"/>
<path fill="#f17a56" d="M534.0 54.8H541.1V59.7H534.0zM555.4 54.8H598.4V59.7H555.4zM505.3 59.7H512.5V64.6H505.3zM534.0 59.7H541.1V64.6H534.0zM555.4 59.7H598.4V64.6H555.4zM526.8 64.6H541.1V69.5H526.8zM555.4 64.6H576.9V69.5H555.4zM584.1 64.6H598.4V69.5H584.1zM534.0 84.1H562.6V89.0H534.0zM569.8 84.1H584.1V89.0H569.8zM534.0 89.0H584.1V93.9H534.0zM526.8 93.9H541.1V98.8H526.8zM548.3 93.9H562.6V98.8H548.3zM569.8 93.9H576.9V98.8H569.8zM591.2 93.9H598.4V98.8H591.2zM512.5 98.8H526.8V103.7H512.5zM534.0 98.8H569.8V103.7H534.0zM591.2 98.8H598.4V103.7H591.2zM519.6 108.6H526.8V113.5H519.6zM534.0 108.6H541.1V113.5H534.0zM548.3 108.6H555.4V113.5H548.3zM562.6 108.6H576.9V113.5H562.6zM591.2 108.6H598.4V113.5H591.2zM534.0 128.2H555.4V133.1H534.0zM562.6 128.2H569.8V133.1H562.6zM584.1 128.2H598.4V133.1H584.1zM519.6 133.1H541.1V137.9H519.6zM548.3 133.1H576.9V137.9H548.3zM498.2 137.9H505.3V142.8H498.2zM519.6 137.9H555.4V142.8H519.6zM562.6 137.9H569.8V142.8H562.6zM491.0 191.7H498.2V196.6H491.0zM505.3 191.7H512.5V196.6H505.3zM534.0 191.7H548.3V196.6H534.0zM555.4 191.7H569.8V196.6H555.4zM576.9 191.7H584.1V196.6H576.9zM591.2 191.7H598.4V196.6H591.2zM498.2 196.6H519.6V201.5H498.2zM548.3 196.6H555.4V201.5H548.3zM569.8 196.6H591.2V201.5H569.8zM505.3 201.5H526.8V206.4H505.3zM534.0 201.5H555.4V206.4H534.0zM576.9 201.5H591.2V206.4H576.9zM569.8 226.0H576.9V230.9H569.8z"/>
<path fill="#96c8e8" d="M519.6 59.7H526.8V64.6H519.6zM491.0 64.6H498.2V69.5H491.0zM541.1 64.6H555.4V69.5H541.1zM491.0 69.5H498.2V74.4H491.0zM541.1 74.4H548.3V79.3H541.1zM491.0 79.3H498.2V84.1H491.0zM498.2 84.1H512.5V89.0H498.2zM562.6 84.1H569.8V89.0H562.6zM591.2 84.1H598.4V89.0H591.2zM491.0 89.0H498.2V93.9H491.0zM505.3 89.0H512.5V93.9H505.3zM584.1 89.0H598.4V93.9H584.1zM576.9 93.9H584.1V98.8H576.9zM491.0 103.7H505.3V108.6H491.0zM498.2 108.6H505.3V113.5H498.2zM512.5 108.6H519.6V113.5H512.5zM541.1 108.6H548.3V113.5H541.1zM555.4 108.6H562.6V113.5H555.4zM584.1 108.6H591.2V113.5H584.1zM498.2 113.5H505.3V118.4H498.2zM491.0 118.4H498.2V123.3H491.0zM505.3 123.3H512.5V128.2H505.3zM505.3 128.2H512.5V133.1H505.3zM526.8 128.2H534.0V133.1H526.8zM555.4 128.2H562.6V133.1H555.4zM491.0 133.1H505.3V137.9H491.0zM526.8 142.8H534.0V147.7H526.8zM491.0 157.5H498.2V162.4H491.0zM519.6 157.5H541.1V162.4H519.6zM584.1 157.5H598.4V162.4H584.1zM491.0 162.4H498.2V167.3H491.0zM512.5 162.4H519.6V167.3H512.5zM526.8 162.4H534.0V167.3H526.8zM498.2 167.3H505.3V172.2H498.2zM512.5 167.3H519.6V172.2H512.5zM526.8 167.3H534.0V172.2H526.8zM498.2 172.2H512.5V177.1H498.2zM534.0 172.2H541.1V177.1H534.0zM548.3 172.2H555.4V177.1H548.3zM512.5 177.1H534.0V182.0H512.5zM576.9 177.1H584.1V182.0H576.9zM591.2 177.1H598.4V182.0H591.2zM498.2 182.0H505.3V186.8H498.2zM512.5 182.0H519.6V186.8H512.5zM576.9 182.0H584.1V186.8H576.9zM519.6 186.8H526.8V191.7H519.6zM548.3 186.8H569.8V191.7H548.3zM584.1 186.8H591.2V191.7H584.1zM491.0 196.6H498.2V201.5H491.0zM555.4 196.6H562.6V201.5H555.4zM591.2 196.6H598.4V201.5H591.2zM498.2 201.5H505.3V206.4H498.2zM526.8 206.4H534.0V211.3H526.8zM584.1 206.4H591.2V211.3H584.1zM491.0 211.3H498.2V216.2H491.0zM505.3 211.3H526.8V216.2H505.3zM555.4 211.3H562.6V216.2H555.4zM584.1 211.3H591.2V216.2H584.1zM505.3 216.2H512.5V221.1H505.3zM505.3 221.1H519.6V226.0H505.3zM526.8 221.1H534.0V226.0H526.8zM555.4 221.1H562.6V226.0H555.4zM591.2 221.1H598.4V226.0H591.2zM498.2 226.0H512.5V230.9H498.2zM526.8 226.0H534.0V230.9H526.8zM548.3 226.0H562.6V230.9H548.3zM505.3 230.9H512.5V235.8H505.3zM526.8 230.9H541.1V235.8H526.8zM498.2 235.8H512.5V240.6H498.2zM519.6 235.8H534.0V240.6H519.6zM548.3 235.8H562.6V240.6H548.3zM584.1 235.8H591.2V240.6H584.1zM505.3 240.6H512.5V245.5H505.3zM519.6 240.6H534.0V245.5H519.6zM576.9 240.6H591.2V245.5H576.9zM491.0 245.5H498.2V250.4H491.0zM505.3 245.5H512.5V250.4H505.3zM519.6 245.5H534.0V250.4H519.6zM548.3 245.5H555.4V250.4H548.3zM569.8 245.5H584.1V250.4H569.8zM491.0 250.4H498.2V255.3H491.0zM512.5 250.4H526.8V255.3H512.5zM548.3 250.4H555.4V255.3H548.3zM569.8 250.4H591.2V255.3H569.8zM491.0 255.3H498.2V260.2H491.0zM505.3 255.3H519.6V260.2H505.3zM526.8 255.3H534.0V260.2H526.8zM548.3 255.3H562.6V260.2H548.3zM569.8 255.3H576.9V260.2H569.8zM498.2 260.2H526.8V265.1H498.2zM541.1 260.2H548.3V265.1H541.1zM555.4 260.2H562.6V265.1H555.4z"/>
<path fill="#fab491" d="M505.3 69.5H512.5V74.4H505.3zM526.8 69.5H541.1V74.4H526.8zM548.3 69.5H576.9V74.4H548.3zM584.1 69.5H598.4V74.4H584.1zM491.0 74.4H519.6V79.3H491.0zM534.0 74.4H541.1V79.3H534.0zM548.3 74.4H576.9V79.3H548.3zM584.1 74.4H598.4V79.3H584.1zM498.2 79.3H534.0V84.1H498.2zM548.3 79.3H555.4V84.1H548.3zM562.6 79.3H584.1V84.1H562.6zM591.2 79.3H598.4V84.1H591.2zM512.5 103.7H526.8V108.6H512.5zM534.0 103.7H584.1V108.6H534.0zM591.2 103.7H598.4V108.6H591.2zM491.0 113.5H498.2V118.4H491.0zM505.3 113.5H512.5V118.4H505.3zM534.0 113.5H555.4V118.4H534.0zM562.6 113.5H569.8V118.4H562.6zM576.9 113.5H598.4V118.4H576.9zM498.2 118.4H512.5V123.3H498.2zM534.0 118.4H555.4V123.3H534.0zM562.6 118.4H569.8V123.3H562.6zM576.9 118.4H598.4V123.3H576.9zM491.0 123.3H498.2V128.2H491.0zM541.1 123.3H555.4V128.2H541.1zM562.6 123.3H598.4V128.2H562.6zM491.0 142.8H505.3V147.7H491.0zM534.0 142.8H591.2V147.7H534.0zM491.0 147.7H505.3V152.6H491.0zM512.5 147.7H534.0V152.6H512.5zM541.1 147.7H584.1V152.6H541.1zM519.6 152.6H534.0V157.5H519.6zM541.1 152.6H598.4V157.5H541.1zM555.4 172.2H562.6V177.1H555.4zM534.0 211.3H541.1V216.2H534.0zM519.6 221.1H526.8V226.0H519.6zM591.2 230.9H598.4V235.8H591.2zM541.1 235.8H548.3V240.6H541.1zM562.6 235.8H569.8V240.6H562.6zM576.9 235.8H584.1V240.6H576.9zM498.2 245.5H505.3V250.4H498.2zM534.0 245.5H541.1V250.4H534.0z"/>
<path fill="#cc3730" d="M548.3 157.5H584.1V162.4H548.3zM505.3 162.4H512.5V167.3H505.3zM555.4 162.4H576.9V167.3H555.4zM569.8 167.3H591.2V172.2H569.8zM562.6 172.2H576.9V177.1H562.6zM505.3 182.0H512.5V186.8H505.3zM526.8 182.0H534.0V186.8H526.8zM562.6 182.0H576.9V186.8H562.6zM584.1 182.0H591.2V186.8H584.1zM491.0 186.8H498.2V191.7H491.0zM505.3 186.8H512.5V191.7H505.3zM534.0 186.8H541.1V191.7H534.0zM569.8 186.8H584.1V191.7H569.8zM534.0 216.2H541.1V221.1H534.0zM576.9 216.2H584.1V221.1H576.9zM591.2 216.2H598.4V221.1H591.2zM548.3 221.1H555.4V226.0H548.3z"/>
<path fill="#fcd7bf" d="M491.0 172.2H498.2V177.1H491.0zM505.3 177.1H512.5V182.0H505.3zM491.0 206.4H498.2V211.3H491.0zM562.6 216.2H569.8V221.1H562.6zM576.9 221.1H584.1V226.0H576.9zM576.9 230.9H584.1V235.8H576.9zM491.0 235.8H498.2V240.6H491.0zM569.8 235.8H576.9V240.6H569.8zM591.2 235.8H598.4V240.6H591.2zM591.2 240.6H598.4V245.5H591.2zM555.4 245.5H562.6V250.4H555.4zM555.4 250.4H562.6V255.3H555.4z"/>
<path fill="#5f0014" d="M591.2 172.2H598.4V177.1H591.2zM555.4 177.1H569.8V182.0H555.4zM591.2 206.4H598.4V211.3H591.2zM548.3 211.3H555.4V216.2H548.3zM591.2 211.3H598.4V216.2H591.2zM498.2 216.2H505.3V221.1H498.2zM491.0 221.1H498.2V226.0H491.0zM569.8 221.1H576.9V226.0H569.8zM512.5 226.0H519.6V230.9H512.5zM584.1 226.0H591.2V230.9H584.1zM512.5 230.9H519.6V235.8H512.5zM534.0 235.8H541.1V240.6H534.0zM512.5 240.6H519.6V245.5H512.5zM541.1 240.6H555.4V245.5H541.1zM512.5 245.5H519.6V250.4H512.5zM541.1 245.5H548.3V250.4H541.1zM562.6 245.5H569.8V250.4H562.6zM498.2 250.4H505.3V255.3H498.2zM541.1 250.4H548.3V255.3H541.1zM591.2 250.4H598.4V255.3H591.2zM519.6 255.3H526.8V260.2H519.6zM541.1 255.3H548.3V260.2H541.1zM576.9 255.3H591.2V260.2H576.9zM526.8 260.2H534.0V265.1H526.8zM576.9 260.2H598.4V265.1H576.9z"/>
<rect x="482.00" y="54.80" width="6.50" height="4.89" fill="#ff6fd2"/>
<rect x="482.00" y="59.69" width="6.50" height="4.89" fill="#1fd0b2"/>
<rect x="482.00" y="64.58" width="6.50" height="4.89" fill="#1fd0b2"/>
<rect x="474.20" y="64.58" width="6.00" height="4.89" fill="#f5284b"/>
<rect x="482.00" y="69.47" width="6.50" height="4.89" fill="#1fd0b2"/>
<rect x="482.00" y="74.36" width="6.50" height="4.89" fill="#1fd0b2"/>
<rect x="482.00" y="79.25" width="6.50" height="4.89" fill="#1fd0b2"/>
<rect x="482.00" y="84.14" width="6.50" height="4.89" fill="#b0f6e6"/>
<rect x="482.00" y="89.03" width="6.50" height="4.89" fill="#ffd2f5"/>
<rect x="482.00" y="93.93" width="6.50" height="4.89" fill="#b0f6e6"/>
<rect x="482.00" y="98.82" width="6.50" height="4.89" fill="#ffd2f5"/>
<rect x="482.00" y="103.71" width="6.50" height="4.89" fill="#1fd0b2"/>
<rect x="482.00" y="108.60" width="6.50" height="4.89" fill="#b0f6e6"/>
<rect x="482.00" y="113.49" width="6.50" height="4.89" fill="#ffd2f5"/>
<rect x="482.00" y="118.38" width="6.50" height="4.89" fill="#ff6fd2"/>
<rect x="482.00" y="123.27" width="6.50" height="4.89" fill="#1fd0b2"/>
<rect x="474.20" y="123.27" width="6.00" height="4.89" fill="#f5284b"/>
<rect x="482.00" y="128.16" width="6.50" height="4.89" fill="#1fd0b2"/>
<rect x="482.00" y="133.05" width="6.50" height="4.89" fill="#1fd0b2"/>
<rect x="482.00" y="137.94" width="6.50" height="4.89" fill="#ff6fd2"/>
<rect x="482.00" y="142.83" width="6.50" height="4.89" fill="#ffd2f5"/>
<rect x="482.00" y="147.72" width="6.50" height="4.89" fill="#1fd0b2"/>
<rect x="482.00" y="152.61" width="6.50" height="4.89" fill="#b0f6e6"/>
<rect x="482.00" y="157.50" width="6.50" height="4.89" fill="#b0f6e6"/>
<rect x="482.00" y="162.40" width="6.50" height="4.89" fill="#1fd0b2"/>
<rect x="474.20" y="162.40" width="6.00" height="4.89" fill="#f5284b"/>
<rect x="482.00" y="167.29" width="6.50" height="4.89" fill="#1fd0b2"/>
<rect x="482.00" y="172.18" width="6.50" height="4.89" fill="#1fd0b2"/>
<rect x="474.20" y="172.18" width="6.00" height="4.89" fill="#f5284b"/>
<rect x="482.00" y="177.07" width="6.50" height="4.89" fill="#1fd0b2"/>
<rect x="482.00" y="181.96" width="6.50" height="4.89" fill="#ffd2f5"/>
<rect x="482.00" y="186.85" width="6.50" height="4.89" fill="#1fd0b2"/>
<rect x="482.00" y="191.74" width="6.50" height="4.89" fill="#ffd2f5"/>
<rect x="482.00" y="196.63" width="6.50" height="4.89" fill="#ffd2f5"/>
<rect x="482.00" y="201.52" width="6.50" height="4.89" fill="#ffd2f5"/>
<rect x="482.00" y="206.41" width="6.50" height="4.89" fill="#ffd2f5"/>
<rect x="482.00" y="211.30" width="6.50" height="4.89" fill="#ff6fd2"/>
<rect x="482.00" y="216.19" width="6.50" height="4.89" fill="#1fd0b2"/>
<rect x="474.20" y="216.19" width="6.00" height="4.89" fill="#f5284b"/>
<rect x="482.00" y="221.08" width="6.50" height="4.89" fill="#ff6fd2"/>
<rect x="482.00" y="225.97" width="6.50" height="4.89" fill="#ff6fd2"/>
<rect x="482.00" y="230.87" width="6.50" height="4.89" fill="#ffd2f5"/>
<rect x="482.00" y="235.76" width="6.50" height="4.89" fill="#1fd0b2"/>
<rect x="482.00" y="240.65" width="6.50" height="4.89" fill="#ff6fd2"/>
<rect x="482.00" y="245.54" width="6.50" height="4.89" fill="#ffd2f5"/>
<rect x="482.00" y="250.43" width="6.50" height="4.89" fill="#ff6fd2"/>
<rect x="482.00" y="255.32" width="6.50" height="4.89" fill="#ff6fd2"/>
<rect x="482.00" y="260.21" width="6.50" height="4.89" fill="#ff6fd2"/>
<path fill="none" stroke="#333" stroke-width="1.00" shape-rendering="crispEdges" d="M467.8 57.2L467.8 62.1M473.6 57.2L467.8 57.2M473.6 62.1L467.8 62.1M468.0 71.9L468.0 76.8M473.6 71.9L468.0 71.9M473.6 76.8L468.0 76.8M467.6 67.0L467.6 74.4M473.6 67.0L467.6 67.0M468.0 74.4L467.6 74.4M466.6 59.7L466.6 70.7M467.8 59.7L466.6 59.7M467.6 70.7L466.6 70.7M468.5 91.5L468.5 96.4M473.6 91.5L468.5 91.5M473.6 96.4L468.5 96.4M467.5 86.6L467.5 93.9M473.6 86.6L467.5 86.6M468.5 93.9L467.5 93.9M466.6 81.7L466.6 90.3M473.6 81.7L466.6 81.7M467.5 90.3L466.6 90.3M468.1 101.3L468.1 106.2M473.6 101.3L468.1 101.3M473.6 106.2L468.1 106.2M467.5 103.7L467.5 111.0M468.1 103.7L467.5 103.7M473.6 111.0L467.5 111.0M469.0 115.9L469.0 120.8M473.6 115.9L469.0 115.9M473.6 120.8L469.0 120.8M467.0 118.4L467.0 125.7M469.0 118.4L467.0 118.4M473.6 125.7L467.0 125.7M466.4 107.4L466.4 122.0M467.5 107.4L466.4 107.4M467.0 122.0L466.4 122.0M464.1 86.0L464.1 114.7M466.6 86.0L464.1 86.0M466.4 114.7L464.1 114.7M462.3 65.2L462.3 100.3M466.6 65.2L462.3 65.2M464.1 100.3L462.3 100.3M468.7 130.6L468.7 135.5M473.6 130.6L468.7 130.6M473.6 135.5L468.7 135.5M468.1 133.1L468.1 140.4M468.7 133.1L468.1 133.1M473.6 140.4L468.1 140.4M468.0 145.3L468.0 150.2M473.6 145.3L468.0 145.3M473.6 150.2L468.0 150.2M466.5 136.7L466.5 147.7M468.1 136.7L466.5 136.7M468.0 147.7L466.5 147.7M468.9 155.1L468.9 160.0M473.6 155.1L468.9 155.1M473.6 160.0L468.9 160.0M464.4 142.2L464.4 157.5M466.5 142.2L464.4 142.2M468.9 157.5L464.4 157.5M468.0 164.8L468.0 169.7M473.6 164.8L468.0 164.8M473.6 169.7L468.0 169.7M468.5 174.6L468.5 179.5M473.6 174.6L468.5 174.6M473.6 179.5L468.5 179.5M467.6 167.3L467.6 177.1M468.0 167.3L467.6 167.3M468.5 177.1L467.6 177.1M464.3 149.9L464.3 172.2M464.4 149.9L464.3 149.9M467.6 172.2L464.3 172.2M461.5 82.8L461.5 161.0M462.3 82.8L461.5 82.8M464.3 161.0L461.5 161.0M468.8 184.4L468.8 189.3M473.6 184.4L468.8 184.4M473.6 189.3L468.8 189.3M468.7 194.2L468.7 199.1M473.6 194.2L468.7 194.2M473.6 199.1L468.7 199.1M467.7 204.0L467.7 208.9M473.6 204.0L467.7 204.0M473.6 208.9L467.7 208.9M466.8 196.6L466.8 206.4M468.7 196.6L466.8 196.6M467.7 206.4L466.8 206.4M465.9 186.8L465.9 201.5M468.8 186.8L465.9 186.8M466.8 201.5L465.9 201.5M468.3 213.7L468.3 218.6M473.6 213.7L468.3 213.7M473.6 218.6L468.3 218.6M465.7 194.2L465.7 216.2M465.9 194.2L465.7 194.2M468.3 216.2L465.7 216.2M468.7 223.5L468.7 228.4M473.6 223.5L468.7 223.5M473.6 228.4L468.7 228.4M466.8 226.0L466.8 233.3M468.7 226.0L466.8 226.0M473.6 233.3L466.8 233.3M468.6 238.2L468.6 243.1M473.6 238.2L468.6 238.2M473.6 243.1L468.6 243.1M469.0 248.0L469.0 252.9M473.6 248.0L469.0 248.0M473.6 252.9L469.0 252.9M468.6 257.8L468.6 262.7M473.6 257.8L468.6 257.8M473.6 262.7L468.6 262.7M467.0 250.4L467.0 260.2M469.0 250.4L467.0 250.4M468.6 260.2L467.0 260.2M465.5 240.6L465.5 255.3M468.6 240.6L465.5 240.6M467.0 255.3L465.5 255.3M463.5 229.6L463.5 248.0M466.8 229.6L463.5 229.6M465.5 248.0L463.5 248.0M462.8 205.2L462.8 238.8M465.7 205.2L462.8 205.2M463.5 238.8L462.8 238.8M457.7 121.9L457.7 222.0M461.5 121.9L457.7 121.9M462.8 222.0L457.7 222.0"/>
<text x="600.60" y="28.00" font-size="6.85" font-weight="bold" text-anchor="start" fill="#000">MetDx</text>
<text x="600.60" y="36.10" font-size="6.70" font-weight="bold" text-anchor="start" fill="#000">Chemoresponse</text>
<text x="600.60" y="44.20" font-size="6.85" font-weight="bold" text-anchor="start" fill="#000">EFS_at_5yr</text>
<text x="600.60" y="52.20" font-size="6.85" font-weight="bold" text-anchor="start" fill="#000">OS_at_5yr</text>
<text x="602.60" y="66.70" font-size="6.75" font-weight="bold" text-anchor="start" fill="#000">MetDx</text>
<rect x="602.60" y="69.10" width="10.80" height="10.60" fill="#ff00ff"/>
<text x="615.60" y="77.20" font-size="6.50" font-weight="normal" text-anchor="start" fill="#111">MetDx</text>
<text x="602.60" y="94.10" font-size="6.75" font-weight="bold" text-anchor="start" fill="#000">Chemoresponse</text>
<rect x="602.60" y="96.50" width="10.80" height="10.60" fill="#ffb83f"/>
<text x="615.60" y="104.60" font-size="6.50" font-weight="normal" text-anchor="start" fill="#111">Suboptimal</text>
<rect x="602.60" y="107.45" width="10.80" height="10.60" fill="#ff5675"/>
<text x="615.60" y="115.55" font-size="6.50" font-weight="normal" text-anchor="start" fill="#111">Optimal</text>
<text x="602.60" y="132.40" font-size="6.75" font-weight="bold" text-anchor="start" fill="#000">EFS_at_5yr</text>
<rect x="602.60" y="134.80" width="10.80" height="10.60" fill="#00641a"/>
<text x="615.60" y="142.90" font-size="6.50" font-weight="normal" text-anchor="start" fill="#111">Recurrence</text>
<text x="602.60" y="160.90" font-size="6.75" font-weight="bold" text-anchor="start" fill="#000">OS_at_5yr</text>
<rect x="602.60" y="163.30" width="10.80" height="10.60" fill="#1c1cff"/>
<text x="615.60" y="171.40" font-size="6.50" font-weight="normal" text-anchor="start" fill="#111">Death</text>
<text x="602.60" y="188.40" font-size="6.75" font-weight="bold" text-anchor="start" fill="#000">Enhancer</text>
<rect x="602.60" y="190.80" width="10.80" height="10.60" fill="#f5284b"/>
<text x="615.60" y="198.90" font-size="6.50" font-weight="normal" text-anchor="start" fill="#111">Enhancer</text>
<text x="602.60" y="216.60" font-size="6.75" font-weight="bold" text-anchor="start" fill="#000">Region</text>
<rect x="602.60" y="219.00" width="10.80" height="10.60" fill="#ff6fd2"/>
<text x="615.60" y="227.10" font-size="6.50" font-weight="normal" text-anchor="start" fill="#111">Island</text>
<rect x="602.60" y="229.95" width="10.80" height="10.60" fill="#ffd2f5"/>
<text x="615.60" y="238.05" font-size="6.50" font-weight="normal" text-anchor="start" fill="#111">Shore</text>
<rect x="602.60" y="240.90" width="10.80" height="10.60" fill="#b0f6e6"/>
<text x="615.60" y="249.00" font-size="6.50" font-weight="normal" text-anchor="start" fill="#111">Shelf</text>
<rect x="602.60" y="251.85" width="10.80" height="10.60" fill="#1fd0b2"/>
<text x="615.60" y="259.95" font-size="6.50" font-weight="normal" text-anchor="start" fill="#111">Open_Sea</text>
<defs><linearGradient id="zg" x1="0" y1="0" x2="0" y2="1">
<stop offset="0.00" stop-color="#4d0013"/>
<stop offset="0.08" stop-color="#7a0a1e"/>
<stop offset="0.20" stop-color="#c0302a"/>
<stop offset="0.30" stop-color="#ee6a4a"/>
<stop offset="0.40" stop-color="#f8a27a"/>
<stop offset="0.47" stop-color="#fde2c8"/>
<stop offset="0.50" stop-color="#fffaf2"/>
<stop offset="0.55" stop-color="#f4f8fb"/>
<stop offset="0.62" stop-color="#c4e0f2"/>
<stop offset="0.72" stop-color="#8fc0e2"/>
<stop offset="0.82" stop-color="#4a8fcb"/>
<stop offset="0.92" stop-color="#1f5ea6"/>
<stop offset="1.00" stop-color="#0a2a66"/>
</linearGradient><linearGradient id="yg" x1="0" y1="0" x2="0" y2="1"><stop offset="0" stop-color="#ffff00"/><stop offset="1" stop-color="#000000"/></linearGradient></defs>
<rect x="664.10" y="40.10" width="8.20" height="100.80" fill="url(#zg)"/>
<text x="674.40" y="44.60" font-size="8.00" font-weight="bold" text-anchor="start" fill="#000">2</text>
<text x="674.60" y="89.50" font-size="8.00" font-weight="normal" text-anchor="start" fill="#000">0</text>
<text x="673.60" y="143.00" font-size="8.00" font-weight="bold" text-anchor="start" fill="#000">-2</text>
<text transform="translate(662.4,145.5) rotate(-90)" font-size="7.2" font-weight="bold">log<tspan font-size="5" dy="1.5">2</tspan><tspan dy="-1.5">(methylation angle) Z-score</tspan></text>
<rect x="664.20" y="151.60" width="8.00" height="101.20" fill="url(#yg)"/>
<text x="673.20" y="156.60" font-size="8.00" font-weight="bold" text-anchor="start" fill="#000">90°</text>
<text x="673.20" y="200.60" font-size="8.00" font-weight="bold" text-anchor="start" fill="#000">45°</text>
<text x="673.40" y="255.60" font-size="8.00" font-weight="bold" text-anchor="start" fill="#000">0°</text>
<text transform="translate(662.4,230.5) rotate(-90)" font-size="7.2" font-weight="bold">methylation angle</text>
</svg>
</body></html>
